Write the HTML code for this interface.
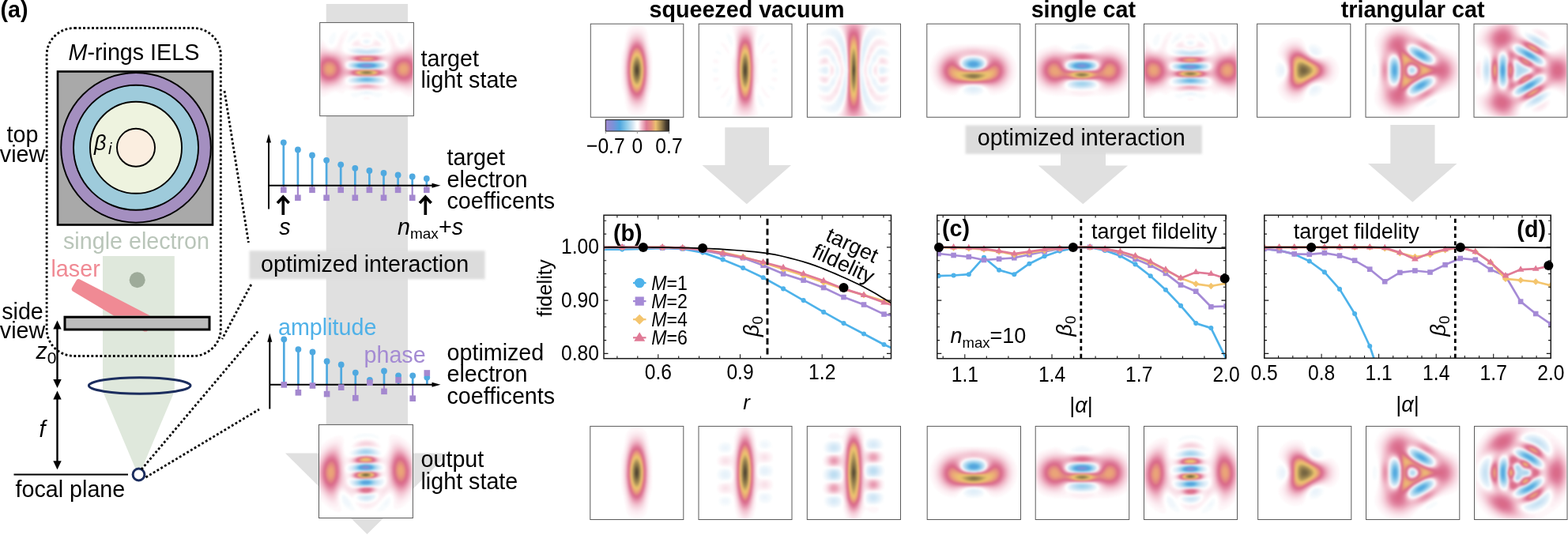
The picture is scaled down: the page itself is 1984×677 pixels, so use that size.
<!DOCTYPE html>
<html lang="en"><head><meta charset="utf-8"><title>Figure</title><style>html,body{margin:0;padding:0;background:#fff}body{width:1984px;height:677px;overflow:hidden}svg{display:block}</style></head><body>
<svg width="1984" height="677" viewBox="0 0 1984 677" font-family="'Liberation Sans', Arial, Helvetica, sans-serif" font-size="28.7" fill="#000">
<defs><filter id="soft" x="-5%" y="-20%" width="110%" height="140%" color-interpolation-filters="sRGB"><feGaussianBlur stdDeviation="1.7"/></filter><filter id="wb" x="0" y="0" width="100%" height="100%" color-interpolation-filters="sRGB"><feGaussianBlur stdDeviation="2.55"/></filter><linearGradient id="cbar" x1="0" x2="1" y1="0" y2="0"><stop offset="0.0" stop-color="#a088d0"/><stop offset="0.1214" stop-color="#7a92d8"/><stop offset="0.2214" stop-color="#4ea6de"/><stop offset="0.3286" stop-color="#8ecbea"/><stop offset="0.4214" stop-color="#cfe4f2"/><stop offset="0.4786" stop-color="#f6fafd"/><stop offset="0.5" stop-color="#ffffff"/><stop offset="0.5214" stop-color="#fdf5f7"/><stop offset="0.5607" stop-color="#f3c6d3"/><stop offset="0.6429" stop-color="#dc7894"/><stop offset="0.7214" stop-color="#e58f80"/><stop offset="0.7893" stop-color="#ecc070"/><stop offset="0.8714" stop-color="#a08550"/><stop offset="0.95" stop-color="#4a3f30"/><stop offset="1.0" stop-color="#2a2420"/></linearGradient></defs>
<rect width="1984" height="677" fill="#fff"/>
<path d="M412.7 5H516V573.6H568L464.5 676L361 573.6H412.7Z" fill="#e0e0e0"/>
<path d="M130 324H220.8V495L177.5 598H173.5L130 495Z" fill="#dfe8dc"/>
<rect x="73" y="90.5" width="196" height="194" fill="#a9a9a9" stroke="#000" stroke-width="2.6"/>
<circle cx="172" cy="186.8" r="94.8" fill="#a48fc0" stroke="#000" stroke-width="1.9"/>
<circle cx="172" cy="186.8" r="79" fill="#9ecbdb" stroke="#000" stroke-width="1.9"/>
<circle cx="172" cy="186.8" r="58" fill="#eef3df" stroke="#000" stroke-width="1.9"/>
<circle cx="172" cy="186.8" r="24" fill="#fbeee0" stroke="#000" stroke-width="1.9"/>
<rect x="59.1" y="35.5" width="220.2" height="415" rx="35" ry="34" fill="none" stroke="#000" stroke-width="2.8" stroke-dasharray="2.8 2.7"/>
<text x="86.5" y="76"><tspan font-style="italic">M</tspan>-rings IELS</text>
<text x="28.5" y="180" text-anchor="middle">top</text>
<text x="28.5" y="205" text-anchor="middle">view</text>
<text x="119" y="190" font-size="27"><tspan font-style="italic">β</tspan><tspan font-style="italic" font-size="20" dx="2.5" dy="5">i</tspan></text>
<text x="172.5" y="315" text-anchor="middle" fill="#b9c5b9">single electron</text>
<text x="64.5" y="350" fill="#f08a94">laser</text>
<circle cx="173.7" cy="354.3" r="10" fill="#9eab9a"/>
<path d="M100.5 353.3L190 399.5H144L92 368.5Q89.5 366.5 91.5 363.5L96.5 355Q98 352.3 100.5 353.3Z" fill="#f08a94"/>
<path d="M180 418.2L187 418.2L185.5 419.6L182.5 419.6Z" fill="#f08a94"/>
<rect x="82" y="401.2" width="183" height="15.8" fill="#bdbdbd" stroke="#000" stroke-width="3"/>
<text x="28.5" y="403.5" text-anchor="middle">side</text>
<text x="28.5" y="428" text-anchor="middle">view</text>
<ellipse cx="176.7" cy="488" rx="64.3" ry="10.2" fill="none" stroke="#1b2d5e" stroke-width="3"/>
<path d="M72.5 413.5V483" stroke="#000" stroke-width="2.4" fill="none"/>
<path d="M72.5 405.5L77.7 416.5H67.3Z M72.5 491L77.7 480H67.3Z" fill="#000"/>
<path d="M72.5 502.5V586.3" stroke="#000" stroke-width="2.4" fill="none"/>
<path d="M72.5 494.5L77.7 505.5H67.3Z M72.5 594.3L77.7 583.3H67.3Z" fill="#000"/>
<text x="45.5" y="454"><tspan font-style="italic">z</tspan><tspan font-size="21" dy="6">0</tspan></text>
<text x="49.5" y="552.5" font-style="italic">f</text>
<path d="M17.5 600.5H162" stroke="#000" stroke-width="1.8" fill="none"/>
<circle cx="175.5" cy="600.5" r="7.4" fill="#fff" stroke="#1b2d5e" stroke-width="3"/>
<text x="19.5" y="628.5">focal plane</text>
<path d="M284 115L314.5 307" stroke="#000" stroke-width="2.8" stroke-dasharray="2.8 2.7" fill="none"/>
<path d="M317.8 360L281 429" stroke="#000" stroke-width="2.8" stroke-dasharray="2.8 2.7" fill="none"/>
<path d="M179 594L328 417.5" stroke="#000" stroke-width="2.8" stroke-dasharray="2.8 2.7" fill="none"/>
<path d="M184.5 604L328 518" stroke="#000" stroke-width="2.8" stroke-dasharray="2.8 2.7" fill="none"/>
<rect x="315.6" y="317.3" width="298" height="36" fill="#dcdcdc" filter="url(#soft)"/>
<text x="330" y="343.6">optimized interaction</text>
<text x="532.5" y="83.8">target</text>
<text x="532.5" y="111.3">light state</text>
<text x="532.5" y="591.3">output</text>
<text x="532.5" y="618.8">light state</text>
<text x="565.5" y="209">target</text>
<text x="565.5" y="236.5">electron</text>
<text x="565.5" y="263.7">coefficents</text>
<text x="565.5" y="455.5">optimized</text>
<text x="565.5" y="483.3">electron</text>
<text x="565.5" y="510.8">coefficents</text>
<text x="352" y="424.3" fill="#4fb1e8">amplitude</text>
<text x="460.5" y="458.6" fill="#a48bd3">phase</text>
<path d="M358.8 234.8V240.3" stroke="#a488cf" stroke-width="2.2" fill="none"/>
<path d="M358.8 234.8V180.3" stroke="#4fa9e0" stroke-width="2.7" fill="none"/>
<path d="M376.9 234.8V250.3" stroke="#a488cf" stroke-width="2.2" fill="none"/>
<path d="M376.9 234.8V189.5" stroke="#4fa9e0" stroke-width="2.7" fill="none"/>
<path d="M395.0 234.8V240.3" stroke="#a488cf" stroke-width="2.2" fill="none"/>
<path d="M395.0 234.8V196.5" stroke="#4fa9e0" stroke-width="2.7" fill="none"/>
<path d="M413.1 234.8V250.3" stroke="#a488cf" stroke-width="2.2" fill="none"/>
<path d="M413.1 234.8V202.8" stroke="#4fa9e0" stroke-width="2.7" fill="none"/>
<path d="M431.2 234.8V240.3" stroke="#a488cf" stroke-width="2.2" fill="none"/>
<path d="M431.2 234.8V208.3" stroke="#4fa9e0" stroke-width="2.7" fill="none"/>
<path d="M449.3 234.8V250.3" stroke="#a488cf" stroke-width="2.2" fill="none"/>
<path d="M449.3 234.8V212.8" stroke="#4fa9e0" stroke-width="2.7" fill="none"/>
<path d="M467.4 234.8V240.3" stroke="#a488cf" stroke-width="2.2" fill="none"/>
<path d="M467.4 234.8V216.0" stroke="#4fa9e0" stroke-width="2.7" fill="none"/>
<path d="M485.5 234.8V250.3" stroke="#a488cf" stroke-width="2.2" fill="none"/>
<path d="M485.5 234.8V219.0" stroke="#4fa9e0" stroke-width="2.7" fill="none"/>
<path d="M503.6 234.8V240.3" stroke="#a488cf" stroke-width="2.2" fill="none"/>
<path d="M503.6 234.8V221.5" stroke="#4fa9e0" stroke-width="2.7" fill="none"/>
<path d="M521.7 234.8V250.3" stroke="#a488cf" stroke-width="2.2" fill="none"/>
<path d="M521.7 234.8V223.5" stroke="#4fa9e0" stroke-width="2.7" fill="none"/>
<path d="M539.8 234.8V240.3" stroke="#a488cf" stroke-width="2.2" fill="none"/>
<path d="M539.8 234.8V226.0" stroke="#4fa9e0" stroke-width="2.7" fill="none"/>
<path d="M340 264.5V177.5" stroke="#000" stroke-width="2" fill="none"/>
<path d="M340 169.5l3 11h-6z" fill="#000"/>
<path d="M340 234.8H549.5" stroke="#000" stroke-width="2" fill="none"/>
<path d="M557.5 234.8l-11 -3v6z" fill="#000"/>
<circle cx="358.8" cy="180.3" r="3.9" fill="#4fa9e0"/>
<rect x="355.0" y="236.5" width="7.6" height="7.6" fill="#a488cf"/>
<circle cx="376.9" cy="189.5" r="3.9" fill="#4fa9e0"/>
<rect x="373.1" y="246.5" width="7.6" height="7.6" fill="#a488cf"/>
<circle cx="395.0" cy="196.5" r="3.9" fill="#4fa9e0"/>
<rect x="391.2" y="236.5" width="7.6" height="7.6" fill="#a488cf"/>
<circle cx="413.1" cy="202.8" r="3.9" fill="#4fa9e0"/>
<rect x="409.3" y="246.5" width="7.6" height="7.6" fill="#a488cf"/>
<circle cx="431.2" cy="208.3" r="3.9" fill="#4fa9e0"/>
<rect x="427.4" y="236.5" width="7.6" height="7.6" fill="#a488cf"/>
<circle cx="449.3" cy="212.8" r="3.9" fill="#4fa9e0"/>
<rect x="445.5" y="246.5" width="7.6" height="7.6" fill="#a488cf"/>
<circle cx="467.4" cy="216.0" r="3.9" fill="#4fa9e0"/>
<rect x="463.6" y="236.5" width="7.6" height="7.6" fill="#a488cf"/>
<circle cx="485.5" cy="219.0" r="3.9" fill="#4fa9e0"/>
<rect x="481.7" y="246.5" width="7.6" height="7.6" fill="#a488cf"/>
<circle cx="503.6" cy="221.5" r="3.9" fill="#4fa9e0"/>
<rect x="499.8" y="236.5" width="7.6" height="7.6" fill="#a488cf"/>
<circle cx="521.7" cy="223.5" r="3.9" fill="#4fa9e0"/>
<rect x="517.9" y="246.5" width="7.6" height="7.6" fill="#a488cf"/>
<circle cx="539.8" cy="226.0" r="3.9" fill="#4fa9e0"/>
<rect x="536.0" y="236.5" width="7.6" height="7.6" fill="#a488cf"/>
<path d="M359.3 486.8V486.9" stroke="#a488cf" stroke-width="2.2" fill="none"/>
<path d="M359.3 486.8V429.3" stroke="#4fa9e0" stroke-width="2.7" fill="none"/>
<path d="M377.4 486.8V496.8" stroke="#a488cf" stroke-width="2.2" fill="none"/>
<path d="M377.4 486.8V442.1" stroke="#4fa9e0" stroke-width="2.7" fill="none"/>
<path d="M395.5 486.8V488.0" stroke="#a488cf" stroke-width="2.2" fill="none"/>
<path d="M395.5 486.8V445.4" stroke="#4fa9e0" stroke-width="2.7" fill="none"/>
<path d="M413.6 486.8V498.6" stroke="#a488cf" stroke-width="2.2" fill="none"/>
<path d="M413.6 486.8V457.2" stroke="#4fa9e0" stroke-width="2.7" fill="none"/>
<path d="M431.7 486.8V490.2" stroke="#a488cf" stroke-width="2.2" fill="none"/>
<path d="M431.7 486.8V461.4" stroke="#4fa9e0" stroke-width="2.7" fill="none"/>
<path d="M449.8 486.8V503.7" stroke="#a488cf" stroke-width="2.2" fill="none"/>
<path d="M449.8 486.8V471.6" stroke="#4fa9e0" stroke-width="2.7" fill="none"/>
<path d="M467.9 486.8V484.2" stroke="#a488cf" stroke-width="2.2" fill="none"/>
<path d="M467.9 486.8V480.9" stroke="#4fa9e0" stroke-width="2.7" fill="none"/>
<path d="M486.0 486.8V495.3" stroke="#a488cf" stroke-width="2.2" fill="none"/>
<path d="M486.0 486.8V469.4" stroke="#4fa9e0" stroke-width="2.7" fill="none"/>
<path d="M504.1 486.8V480.9" stroke="#a488cf" stroke-width="2.2" fill="none"/>
<path d="M504.1 486.8V475.3" stroke="#4fa9e0" stroke-width="2.7" fill="none"/>
<path d="M522.2 486.8V504.2" stroke="#a488cf" stroke-width="2.2" fill="none"/>
<path d="M522.2 486.8V475.3" stroke="#4fa9e0" stroke-width="2.7" fill="none"/>
<path d="M540.3 486.8V472.0" stroke="#a488cf" stroke-width="2.2" fill="none"/>
<path d="M540.3 486.8V477.6" stroke="#4fa9e0" stroke-width="2.7" fill="none"/>
<path d="M341.3 517.5V429.8" stroke="#000" stroke-width="2" fill="none"/>
<path d="M341.3 421.8l3 11h-6z" fill="#000"/>
<path d="M341.3 486.8H549.5" stroke="#000" stroke-width="2" fill="none"/>
<path d="M557.5 486.8l-11 -3v6z" fill="#000"/>
<circle cx="359.3" cy="429.3" r="3.9" fill="#4fa9e0"/>
<rect x="355.5" y="483.1" width="7.6" height="7.6" fill="#a488cf"/>
<circle cx="377.4" cy="442.1" r="3.9" fill="#4fa9e0"/>
<rect x="373.6" y="493.0" width="7.6" height="7.6" fill="#a488cf"/>
<circle cx="395.5" cy="445.4" r="3.9" fill="#4fa9e0"/>
<rect x="391.7" y="484.2" width="7.6" height="7.6" fill="#a488cf"/>
<circle cx="413.6" cy="457.2" r="3.9" fill="#4fa9e0"/>
<rect x="409.8" y="494.8" width="7.6" height="7.6" fill="#a488cf"/>
<circle cx="431.7" cy="461.4" r="3.9" fill="#4fa9e0"/>
<rect x="427.9" y="486.4" width="7.6" height="7.6" fill="#a488cf"/>
<circle cx="449.8" cy="471.6" r="3.9" fill="#4fa9e0"/>
<rect x="446.0" y="499.9" width="7.6" height="7.6" fill="#a488cf"/>
<circle cx="467.9" cy="480.9" r="3.9" fill="#4fa9e0"/>
<rect x="464.1" y="480.4" width="7.6" height="7.6" fill="#a488cf"/>
<circle cx="486.0" cy="469.4" r="3.9" fill="#4fa9e0"/>
<rect x="482.2" y="491.5" width="7.6" height="7.6" fill="#a488cf"/>
<circle cx="504.1" cy="475.3" r="3.9" fill="#4fa9e0"/>
<rect x="500.3" y="477.1" width="7.6" height="7.6" fill="#a488cf"/>
<circle cx="522.2" cy="475.3" r="3.9" fill="#4fa9e0"/>
<rect x="518.4" y="500.4" width="7.6" height="7.6" fill="#a488cf"/>
<circle cx="540.3" cy="477.6" r="3.9" fill="#4fa9e0"/>
<rect x="536.5" y="468.2" width="7.6" height="7.6" fill="#a488cf"/>
<path d="M358.3 272V249" stroke="#000" stroke-width="3.7" fill="none"/>
<path d="M351.0 257L358.3 249.2L365.6 257" stroke="#000" stroke-width="3.7" fill="none" stroke-linejoin="miter"/>
<path d="M538.3 272V249" stroke="#000" stroke-width="3.7" fill="none"/>
<path d="M531.0 257L538.3 249.2L545.5999999999999 257" stroke="#000" stroke-width="3.7" fill="none" stroke-linejoin="miter"/>
<text x="353.3" y="296.6" font-style="italic">s</text>
<text x="503" y="296.6"><tspan font-style="italic">n</tspan><tspan font-size="19" dy="5.5">max</tspan><tspan dy="-5.5">+</tspan><tspan font-style="italic">s</tspan></text>
<path d="M917.3 161.3H973V209H1001L944.8 258.3L888.5 209H917.3Z" fill="#e0e0e0"/>
<path d="M1342 185H1399V209.5H1427L1370.3 258.3L1313.8 209.5H1342Z" fill="#e0e0e0"/>
<path d="M1759.3 158H1815.5V207H1843.5L1787.3 255.8L1731 207H1759.3Z" fill="#e0e0e0"/>
<rect x="1221.6" y="158.6" width="299.2" height="36.2" fill="#dcdcdc" filter="url(#soft)"/>
<text x="1236.7" y="183.6">optimized interaction</text>
<rect x="404.7" y="28.6" width="118.7" height="118.1" fill="#fff"/>
<rect x="403.5" y="537.4" width="118.9" height="118.1" fill="#fff"/>
<rect x="747.3" y="30.2" width="117.5" height="118.1" fill="#fff"/>
<rect x="884.2" y="30.2" width="117.8" height="118.1" fill="#fff"/>
<rect x="1021.4" y="30.2" width="118.1" height="118.1" fill="#fff"/>
<rect x="1172.8" y="30.2" width="118.0" height="118.1" fill="#fff"/>
<rect x="1310.2" y="30.2" width="118.1" height="118.1" fill="#fff"/>
<rect x="1447.5" y="30.2" width="118.0" height="118.1" fill="#fff"/>
<rect x="1590.6" y="30.2" width="118.2" height="118.1" fill="#fff"/>
<rect x="1728.0" y="30.2" width="118.0" height="118.1" fill="#fff"/>
<rect x="1865.0" y="30.2" width="118.0" height="118.1" fill="#fff"/>
<rect x="746.8" y="539.4" width="118.0" height="118.1" fill="#fff"/>
<rect x="884.0" y="539.4" width="118.0" height="118.1" fill="#fff"/>
<rect x="1021.3" y="539.4" width="118.2" height="118.1" fill="#fff"/>
<rect x="1173.2" y="539.4" width="118.3" height="118.1" fill="#fff"/>
<rect x="1310.2" y="539.4" width="118.5" height="118.1" fill="#fff"/>
<rect x="1447.5" y="539.4" width="118.0" height="118.1" fill="#fff"/>
<rect x="1591.7" y="539.4" width="118.1" height="118.1" fill="#fff"/>
<rect x="1728.5" y="539.4" width="118.3" height="118.1" fill="#fff"/>
<rect x="1865.5" y="539.4" width="117.5" height="118.1" fill="#fff"/>
<svg x="747.6" y="30.5" width="116.5" height="117.1" viewBox="0 0 349.5 351.3" fill-rule="evenodd"><g filter="url(#wb)"><path fill="#fef7f9" d="M166 3l15 0 12 3 6 3 6 5 7 10 4 15 7 42 8 30 2 12 1 18 0 42-1 48-2 12-8 27-8 48-5 12-8 10-12 7-15 2-12-1-12-6-9-8-5-10-4-12-6-42-9-30-2-12 0-18-1-42 2-48 2-12 8-27 7-45 4-12 7-10 9-7z"/><path fill="#fdf0f4" d="M161 18l8-2 6-1 12 2 6 3 6 5 8 11 6 18 11 54 3 18 2 15 0 42-1 39-3 18-13 60-5 15-8 11-9 7-12 3-12-1-9-4-9-8-6-10-5-16-12-57-4-30-1-42 2-39 3-18 10-48 4-18 5-12 8-9z"/><path fill="#fbe9ef" d="M164 27l11-2 12 2 9 6 8 12 7 21 10 45 3 21 2 21 0 36-2 30-3 21-11 51-6 15-8 12-9 6-12 3-9-2-9-5-8-8-6-12-6-18-9-45-3-18-1-21 0-36 1-30 3-21 9-42 6-18 5-10 6-8z"/><path fill="#f9e2e9" d="M166 33l6-1 6 0 9 2 9 7 8 13 6 18 8 39 4 24 2 27-1 30-2 30-6 33-8 33-5 13-8 11-10 6-9 2-9-2-9-5-8-10-6-12-6-21-6-33-3-21-2-27 0-30 2-27 3-21 9-39 5-16 6-11 6-7z"/><path fill="#f8dbe3" d="M165 39l10-2 6 1 6 2 9 8 6 9 7 21 7 30 3 21 3 30 0 33-3 30-4 24-8 33-5 15-9 12-9 7-9 2-9-2-9-6-6-8-6-11-5-18-6-27-4-21-2-30 0-33 2-27 4-24 6-27 5-18 6-11 6-8z"/><path fill="#f6d4de" d="M170 42l5-1 6 1 9 5 6 7 7 12 6 21 7 30 3 24 1 27 0 27-2 24-5 30-7 27-6 15-7 11-9 6-9 2-9-2-9-6-6-9-5-11-6-18-6-30-3-24-2-27 1-27 2-24 5-30 6-24 5-14 6-11 6-6z"/><path fill="#f5cdd9" d="M165 48l4-2 6-1 9 2 9 7 7 12 7 18 5 24 4 24 3 27 0 30-3 30-4 24-6 27-6 15-7 12-9 7-9 2-9-2-6-4-8-9-5-12-6-18-4-21-4-21-2-27 0-24 1-24 2-21 6-27 6-21 5-12 6-9z"/><path fill="#f3c7d4" d="M166 51l9-2 9 2 9 7 6 11 7 18 6 27 4 24 1 24 0 27-2 27-3 24-7 27-6 15-6 11-9 7-9 2-9-2-6-4-7-8-5-12-5-15-6-27-3-21-2-24 0-24 2-24 2-21 4-21 6-21 6-12 6-9z"/><path fill="#f2c0ce" d="M167 54l8-2 9 3 9 7 6 10 5 15 6 24 4 27 2 24 0 27-2 24-4 27-6 24-5 15-6 10-9 8-9 2-9-2-6-5-6-7-6-12-5-18-5-24-3-21-2-21 0-24 1-21 4-24 5-24 5-18 6-11 6-8z"/><path fill="#f0b9c9" d="M167 57l8-2 9 3 9 8 6 10 5 14 6 24 3 24 2 27 0 27-2 24-4 24-5 21-5 14-6 10-9 9-9 2-9-2-6-5-6-8-5-11-6-18-4-18-3-21-2-27 0-24 2-24 7-39 6-18 5-11 6-8z"/><path fill="#efb3c4" d="M167 60l8-2 9 3 6 5 8 12 5 15 6 24 4 24 1 24 0 24-2 24-3 21-6 24-5 15-8 12-6 6-9 2-9-2-6-5-6-9-5-10-5-18-4-18-3-21-2-24 0-21 2-24 3-21 4-18 4-15 6-13 6-9z"/><path fill="#ecabbe" d="M165 63l7-2 9 0 9 7 7 10 5 15 5 18 4 27 2 24 0 24-1 24-3 21-6 24-5 15-7 12-7 6-9 3-9-3-6-5-6-8-5-11-5-18-4-18-4-39 1-42 6-39 5-18 5-12 7-10z"/><path fill="#eaa1b6" d="M167 66l8-2 9 3 6 5 7 12 5 15 5 18 3 21 2 27 0 24-2 24-4 24-4 18-6 15-6 9-6 6-9 2-9-2-6-6-6-9-4-9-5-15-4-21-4-39 0-24 2-21 6-36 5-15 5-12 5-6z"/><path fill="#e697af" d="M168 69l7-2 9 3 6 6 6 11 7 18 4 18 3 21 1 21 0 21-2 24-3 21-5 21-5 14-6 10-6 5-9 3-9-3-6-5-6-9-3-9-5-15-4-18-2-18-1-21 0-21 1-21 6-36 5-15 5-12 7-8z"/><path fill="#e48da7" d="M168 72l7-2 9 3 6 6 6 11 5 15 4 18 3 21 2 21 0 21-2 21-3 21-5 21-4 12-6 11-6 6-9 3-6-1-6-5-6-8-6-12-4-15-4-18-3-36 1-39 2-18 4-18 4-15 6-12 6-8z"/><path fill="#e184a0" d="M168 75l7-2 6 2 3 2 6 6 6 10 4 12 4 18 3 18 2 24 0 21-2 24-3 21-4 15-4 12-6 11-6 6-3 1-6 2-6-2-6-4-6-8-5-12-5-15-3-18-3-33 1-39 5-33 5-15 5-11 6-9z"/><path fill="#df7d9a" d="M168 78l7-2 6 2 6 4 7 11 5 13 4 17 3 21 2 21 0 21-2 21-2 18-5 18-4 12-5 10-6 7-3 2-6 1-6-1-6-5-6-8-4-9-4-12-4-18-3-36 1-39 5-33 4-12 5-11 6-9z"/><path fill="#dd7695" d="M168 81l7-2 6 1 6 5 7 11 4 12 5 18 3 21 1 18 0 21-1 18-3 21-5 18-5 14-6 9-6 5-6 1-6-1-6-5-6-8-4-9-7-27-4-36 1-36 6-33 3-12 5-11 6-9z"/><path fill="#db6f8f" d="M167 84l8-2 6 1 6 5 6 10 5 13 4 15 2 18 2 21 0 21-2 21-2 18-4 15-5 14-6 9-6 5-6 2-6-2-6-5-6-8-3-8-7-28-4-33 1-33 5-33 8-22 6-10z"/><path fill="#da6b89" d="M174 84l7 2 6 5 5 8 4 9 4 15 3 15 2 36-2 36-6 30-4 11-6 10-6 5-6 1-6-1-6-5-6-9-3-9-5-15-2-15-3-36 2-36 7-30 4-10 6-10 6-5z"/><path fill="#de7786" d="M168 90l7-2 6 2 6 5 4 7 5 12 4 15 3 18 1 18-1 36-3 18-3 15-4 12-6 10-6 6-6 1-6-1-5-4-4-6-4-9-7-24-3-33 0-33 5-30 7-21 5-7z"/><path fill="#e18383" d="M169 93l6-2 6 2 6 6 5 9 4 12 4 15 3 33 0 18-2 18-2 15-4 15-3 9-5 9-6 6-6 2-6-2-3-2-5-7-5-9-3-12-4-15-2-30 1-33 5-27 7-19 5-8z"/><path fill="#e48e7f" d="M170 96l5-1 6 2 6 6 4 8 4 12 3 12 4 33-2 33-2 15-4 15-4 12-4 6-5 5-6 2-6-2-3-2-5-6-4-10-6-23-3-30 1-30 4-27 4-11 4-10 5-6z"/><path fill="#e89a7b" d="M171 99l4-1 6 2 6 7 4 7 4 12 2 12 4 33-2 30-5 27-4 11-5 7-4 5-6 2-6-2-3-3-6-8-3-9-6-24-2-27 1-27 5-27 4-12 4-7 3-4z"/><path fill="#eaa478" d="M172 102l6 0 3 2 6 7 3 6 4 12 3 12 2 30-1 30-5 26-4 10-5 8-3 3-6 2-6-2-3-3-8-14-6-24-2-27 2-30 4-24 7-15 4-6z"/><path fill="#ebad76" d="M173 105l5 0 6 5 7 13 5 24 2 27-1 27-5 24-4 9-4 7-3 3-6 2-6-2-3-3-5-7-3-9-5-21-2-27 2-27 5-24 3-9 5-7 3-3z"/><path fill="#ecb675" d="M174 108l4 1 6 4 6 13 5 21 2 27-1 27-5 21-3 9-4 7-3 3-6 2-6-2-3-3-7-13-5-21-2-27 2-27 4-21 4-9 4-7 3-3z"/><path fill="#ecbd72" d="M168 114l4-2 6 0 6 5 3 5 6 19 3 24-1 30-4 24-4 9-3 6-3 4-6 2-3 0-4-3-4-6-3-6-5-18-2-21 0-24 3-21 5-18z"/><path fill="#eec370" d="M169 117l3-2 6 0 3 2 4 6 4 9 3 9 3 24-1 27-4 24-6 15-3 3-6 3-6-3-3-3-5-9-4-17-2-19 0-21 2-21 6-18z"/><path fill="#e4be6b" d="M169 120l6-3 3 1 6 6 3 6 3 11 4 24 0 24-4 24-6 14-3 4-6 3-6-3-6-9-5-15-2-21 0-21 2-21 5-14z"/><path fill="#d0af64" d="M171 123l4-1 3 1 3 2 4 7 5 15 3 24-2 24-3 18-4 9-3 4-3 2-3 1-3-1-3-2-6-11-4-17-2-18 0-18 3-18 6-15z"/><path fill="#bd9f5e" d="M170 129l5-2 3 1 3 2 3 5 5 15 2 18-1 21-3 19-3 8-3 5-3 3-3 0-3 0-3-3-5-8-4-15-1-15 0-18 2-15 5-15z"/><path fill="#a99057" d="M174 132l4 1 3 3 3 5 4 15 1 18-1 18-3 15-4 9-3 2-3 1-3-1-3-2-4-9-3-12-2-18 1-15 3-15 5-11 3-3z"/><path fill="#998250" d="M172 138l3-1 3 1 4 6 4 12 1 15 0 18-3 14-3 7-3 3-3 1-3-1-3-3-3-7-3-11-1-12 0-15 2-12 5-11z"/><path fill="#887549" d="M172 144l3-1 3 1 3 4 3 9 1 14 0 12-2 12-2 8-3 4-3 1-3-1-4-6-3-9-1-12 0-12 2-11 3-9z"/><path fill="#776642" d="M174 150l1 0 3 1 3 6 2 17 0 9-2 11-3 6-3 2-3-2-3-6-3-17 0-9 3-11 3-6z"/><path fill="#66583b" d="M173 156l2-1 3 2 3 8 0 6 0 15-3 8-3 2-3-2-1-2-3-12 1-15 2-6z"/><path fill="#584c35" d="M172 162l3-2 3 3 2 8 0 9-1 6-1 3-3 2-3-2-2-9 0-9z"/><path fill="#4a402f" d="M174 168l1-1 2 7 0 6-2 4-3-7z"/></g></svg>
<svg x="884.5" y="30.5" width="116.8" height="117.1" viewBox="0 0 350.4 351.3" fill-rule="evenodd"><g filter="url(#wb)"><path fill="#fef7f9" d="M128 0l95 0 0 12-7 45-1 24 1 21 3 16 3 7 5 7 0 3-3 39 3 45-5 7-3 7-3 16-1 15 1 27 7 48 0 12-95 0-1-12 7-45 2-24-1-21-3-16-3-7-5-7 0-3 2-39-2-45 5-7 3-7 3-16 1-15-1-27-8-48zM82 72l2-1 6 0 6 4 6 6 9 15 3 12 0 7-6-6-15-21-9-10-2-3zM259 72l5-2 3 1 2 1 0 3-26 34-6 6-1-4 1-6 6-15 9-12zM56 135l7-2 8 2 4 6 1 3-1 3-3 2-6 0-10-2-3-3 0-3 0-3zM280 135l8-2 5 2 4 3 1 3-1 3-3 3-3 2-6 0-6 0-3-2-1-3 2-6zM56 204l7-2 9 1 3 1 1 3-1 3-1 3-5 4-3 1-6 0-4-2-2-2-1-4 0-3zM276 204l3-1 6-1 8 2 4 3 1 3-1 3-3 3-3 2-6 0-3-1-5-4-2-3 0-3zM113 237l1-1 0 1 0 6-3 12-9 15-6 6-6 4-6 1-2-2 0-3 2-3 9-10 15-21zM236 237l1-1 3 3 6 7 12 17 9 10 2 3 0 3-2 2-6-1-6-4-6-6-9-15-3-9z"/><path fill="#fdf0f4" d="M142 3l3-3 61 0 4 6 4 9 1 15-2 39 0 21 1 21 6 39 0 39-1 15-4 33-2 24 1 69-2 12-6 9-61 0-5-6-3-9-1-15 2-39 0-21-2-21-5-39-1-36 1-18 5-33 2-24-2-69 2-9z"/><path fill="#fbe9ef" d="M158 3l8-3 19 0 10 4 6 5 4 6 4 9 1 12 1 60 5 57 1 21-1 24-5 57-1 60-2 15-5 9-8 8-10 4-19 0-7-2-6-4-6-6-3-6-3-9-1-9-1-60-5-57-1-21 1-24 5-57 1-57 2-15 3-9 5-6z"/><path fill="#f9e2e9" d="M174 6l12 2 9 4 6 7 5 11 2 18 2 48 5 75-1 27-4 60-2 45-2 15-4 12-7 9-9 5-9 1-12-1-9-5-6-7-5-11-3-18-1-48-5-75 0-27 5-60 1-45 2-15 4-12 8-9 9-4z"/><path fill="#f8dbe3" d="M172 12l11 1 9 4 6 7 6 12 3 24 6 111-1 30-5 90-3 21-3 11-6 9-9 6-9 1-12-1-9-6-6-9-4-11-3-21-6-111 1-30 5-90 3-21 4-11 6-8 9-6z"/><path fill="#f6d4de" d="M168 18l6-1 6 0 9 4 7 6 6 12 4 24 6 99-1 39-5 84-3 21-4 12-4 7-9 7-9 2-9-1-9-5-6-7-5-12-3-24-6-96 0-39 6-84 2-18 3-12 5-9 6-6z"/><path fill="#f5cdd9" d="M164 24l10-3 6 1 6 2 4 3 5 5 5 10 3 12 2 15 5 90 1 24-2 30-4 66-3 21-3 12-6 9-7 7-9 2-9-1-9-6-6-8-3-9-4-27-6-87 0-39 7-96 3-12 3-9 6-8z"/><path fill="#f3c7d4" d="M167 27l10-2 9 3 8 8 5 12 3 12 2 18 5 81-1 51-4 60-2 24-4 14-6 10-6 5-9 3-9-1-9-7-6-9-3-9-4-27-5-81 1-48 4-63 2-21 3-12 4-9 4-6z"/><path fill="#f2c0ce" d="M169 30l8-1 9 3 7 7 5 12 3 12 2 15 5 84 0 48-5 60-2 21-4 12-5 11-6 5-9 3-9-1-6-4-6-8-5-12-4-27-5-81 1-45 3-54 3-27 3-12 4-9 6-8z"/><path fill="#f0b9c9" d="M170 33l10 0 9 5 6 9 3 10 5 30 5 78 0 27-3 39-3 39-2 18-4 12-4 10-6 6-9 3-9-2-6-4-6-8-4-11-5-30-4-78 0-27 2-33 3-42 2-18 4-15 4-9 7-6z"/><path fill="#efb3c4" d="M171 36l9 0 6 3 7 9 5 12 2 12 3 21 4 72-2 60-3 39-3 21-3 12-5 9-5 6-9 4-9-2-6-4-6-10-3-9-3-12-2-21-4-72 1-54 3-42 3-21 3-12 5-11 6-7z"/><path fill="#ecabbe" d="M169 39l8-1 9 4 6 7 4 11 4 15 2 18 4 66-1 57-3 42-3 24-4 12-4 9-5 7-9 3-9-1-6-5-6-10-3-9-5-33-4-63 1-51 3-42 3-24 3-15 3-9 5-6z"/><path fill="#eaa1b6" d="M166 45l8-3 6 1 3 1 6 5 6 12 3 14 2 15 5 63 0 54-3 42-4 27-3 14-5 10-7 7-6 2-6 0-8-6-4-6-5-12-3-15-2-18-4-54 1-48 5-66 5-24 5-9z"/><path fill="#e697af" d="M168 48l3-1 6-1 6 2 6 6 5 12 3 12 3 18 4 60 0 30-1 30-3 36-3 21-4 15-4 9-6 6-6 2-6 0-6-4-6-9-4-10-5-30-4-57 1-54 5-54 2-15 4-12 4-6z"/><path fill="#e48da7" d="M169 51l8-1 6 2 6 6 5 11 3 12 2 18 4 57-1 57-2 33-3 21-3 15-5 11-6 6-6 3-6-1-6-4-6-9-3-9-5-30-4-54 1-51 4-54 3-15 4-11 6-10z"/><path fill="#e184a0" d="M170 54l7-1 6 3 6 6 4 10 3 15 3 18 4 54-1 51-3 33-3 21-3 15-4 10-6 7-6 2-6-1-6-4-5-8-3-9-4-15-2-18-3-51 1-51 4-51 4-15 3-9 5-8z"/><path fill="#df7d9a" d="M171 57l6-1 6 3 6 7 4 12 3 15 3 18 3 51 0 27-2 30-2 24-3 21-3 12-3 9-6 7-6 3-6-1-6-5-5-7-4-12-5-33-2-48 0-48 3-30 2-21 4-15 4-9 5-6z"/><path fill="#dd7695" d="M171 60l6-1 6 3 6 8 4 11 3 15 2 18 3 48-1 54-2 24-3 21-3 13-4 8-5 7-6 3-6-1-6-5-4-7-3-9-3-15-3-18-3-48 1-51 5-45 3-12 4-11 5-7z"/><path fill="#db6f8f" d="M172 63l5-1 6 3 5 7 4 10 5 29 3 51-1 51-4 44-3 12-4 10-5 7-6 3-6-1-6-6-4-6-3-9-5-30-3-48 1-48 4-45 3-12 4-10 5-8z"/><path fill="#da6b89" d="M171 66l6-1 6 3 4 7 5 11 5 31 3 45-1 48-2 27-3 18-3 12-4 9-4 7-6 3-6-1-4-3-5-8-3-10-6-30-2-45 0-45 5-44 3-13 3-9 5-9z"/><path fill="#de7786" d="M169 72l5-2 6 1 6 6 3 7 3 12 3 15 4 45-1 48-2 24-2 21-4 15-4 9-3 5-6 4-6-2-3-2-5-8-3-9-5-27-3-39 0-42 3-42 3-15 3-12 4-7z"/><path fill="#e18383" d="M171 75l6-1 3 1 6 7 3 8 6 27 3 42-1 48-4 39-4 15-3 8-3 4-6 4-6-1-3-3-4-6-4-9-5-27-2-39 0-42 4-39 2-12 4-12 5-9z"/><path fill="#e48e7f" d="M169 81l5-3 6 1 4 5 4 9 5 24 3 36 0 48-4 39-3 15-3 9-3 5-6 4-6-1-3-3-6-12-5-23-3-36 0-42 3-36 5-25 3-8z"/><path fill="#e89a7b" d="M170 84l4-2 3 0 3 2 3 3 4 9 6 24 3 39-1 42-3 37-3 13-3 8-3 6-6 4-3 0-3-1-3-3-6-14-5-26-2-33 0-39 3-33 5-24 4-9z"/><path fill="#eaa478" d="M172 87l5-1 3 2 4 5 4 9 4 24 3 36-1 39-3 33-5 21-3 5-3 4-3 1-3 0-3-1-3-4-6-14-4-24-3-33 1-36 3-33 3-14 3-9 3-6z"/><path fill="#ebad76" d="M173 90l4 0 3 2 3 3 5 13 4 24 2 33-1 39-3 30-5 18-5 8-3 1-3 0-3-1-3-4-5-13-5-24-2-33 1-39 4-30 5-18 3-6z"/><path fill="#ecb675" d="M170 96l4-2 3 0 3 1 3 4 3 7 5 23 2 30 0 36-3 33-3 12-3 9-4 7-3 2-3 0-3-2-3-4-4-9-4-21-3-30 0-33 3-30 5-23z"/><path fill="#ecbd72" d="M171 99l3-2 3 0 3 2 3 5 3 7 4 21 2 30 0 36-3 30-3 12-3 8-3 4-3 2-3 0-3-2-3-4-3-8-5-21-2-30 0-33 3-27 4-18 3-7z"/><path fill="#eec370" d="M172 102l5-1 3 2 3 5 3 8 4 22 2 27-1 30-2 27-3 13-3 8-3 5-3 2-3 0-3-2-3-5-3-8-4-22-2-27 0-30 3-26 4-19 3-6z"/><path fill="#e4be6b" d="M174 105l3 0 3 2 3 5 3 9 3 20 2 27-1 30-3 24-4 17-3 5-3 2-3 0-3-2-3-5-3-9-4-20-1-27 0-30 3-24 5-17 3-5z"/><path fill="#d0af64" d="M173 111l4 0 3 2 4 10 4 18 1 24 0 27-2 24-4 16-3 6-3 3-3 0-3-3-5-10-3-18-2-24 0-27 3-24 4-16 3-6z"/><path fill="#bd9f5e" d="M173 117l4 0 3 2 3 7 3 18 2 24 0 24-2 21-3 12-3 7-3 3-3 0-3-3-3-7-4-18-2-24 1-24 2-21 3-12 3-7z"/><path fill="#a99057" d="M173 123l4 0 3 3 3 8 3 16 1 18 0 21-2 18-3 12-2 6-3 4-3 0-3-4-3-7-3-17-1-18 0-21 2-18 2-12 3-6z"/><path fill="#998250" d="M171 132l3-3 3 0 3 4 3 11 2 21 0 21-2 18-3 14-3 4-3 0-3-4-2-5-3-12-1-15 0-18 1-15 2-11z"/><path fill="#887549" d="M172 138l2-2 3 0 3 5 3 12 1 12 0 15-1 17-3 13-3 5-3 0-3-5-3-12-1-12-1-15 2-17 3-13z"/><path fill="#776642" d="M172 147l2-2 3 0 1 2 2 6 2 15-1 24-1 8-3 7-3 0-3-7-3-17 1-21 2-11z"/><path fill="#66583b" d="M173 153l1-2 3 0 2 8 1 6 0 21-1 6-2 8-3 0-3-8-1-6 0-21z"/><path fill="#584c35" d="M173 159l1-1 3 0 2 13 0 12-2 11-3 0-3-14 0-12z"/><path fill="#4a402f" d="M174 168l3 0 0 16-3 0z"/><path fill="#f7fbfd" d="M103 39l2-2 3-1 6 2 6 6 3 5 3 8 2 15 0 9-2 5-3-3-3-4-13-25-4-9zM236 39l4-2 3-1 3 1 1 2 0 6-16 34-3 4-3 3-2-5-1-6 3-18 6-13zM66 102l6-1 6 3 6 7 2 6-2 1-3-1-15-6-3-3 0-3zM276 102l6-1 3 1 3 3 0 3-3 3-7 3-11 4-3-1 1-3 3-6zM56 168l10-1 6 3 2 4 0 3-2 4-3 3-6 1-6-2-3-2-3-4 0-3 1-3zM281 168l7-1 5 1 3 2 4 4 0 3-2 3-4 3-3 1-6 0-4-1-3-3-1-3 1-6zM81 234l3-1 2 1-2 6-6 7-3 2-6 1-3-1-3-3 0-3 3-3zM264 234l3-1 3 1 15 6 3 3 0 3-3 3-3 1-6-1-8-6-3-6zM124 267l2-1 1 1 1 9-2 15-3 11-3 5-6 6-6 2-3-1-2-2 0-3 1-6 13-25zM224 267l1-1 3 2 3 4 14 28 3 9-1 3-1 2-3 1-6-2-6-6-3-5-3-8-3-12 0-9z"/></g></svg>
<svg x="1021.7" y="30.5" width="117.1" height="117.1" viewBox="0 0 351.3 351.3" fill-rule="evenodd"><g filter="url(#wb)"><path fill="#fef7f9" d="M95 0l162 0-17 6-6 4-6 6-6 10-9 23-3 14-6 33-3 36-1 42 1 45 3 36 6 33 3 15 9 23 6 9 6 6 6 4 17 6-162 0 16-6 6-4 6-6 6-9 9-23 4-15 5-33 3-36 1-42-1-45-3-36-5-33-4-14-9-23-6-10-6-6-6-4zM71 54l13-1 9 4 9 8 12 17 6 13 9 27 9 49 0 15-9 42-12 36-6 10-13 17-8 5-9 2-6 0-9-2-14-8-6-6-4-6-2-6 1-3 4-1 21 2 9 0 9-4 6-5 15-22 4-9 5-15 9-21 1-9 0-12-2-15-8-18-6-18-20-30-7-5-6-1-9-1-21 3-4-2-1-3 2-6 7-9 11-8zM264 54l6-1 9 1 9 3 6 3 11 9 4 6 2 6-1 3-4 2-27-3-9 2-6 4-19 28-9 24-5 12-3 9-1 18 2 15 7 15 9 24 16 25 6 5 9 4 9 0 21-2 4 1 1 3-2 6-4 6-6 6-11 7-7 2-8 1-9-1-9-4-9-10-12-19-12-35-9-49 0-15 9-42 11-33 4-8 14-19 6-6zM57 126l6-2 6 0 6 2 3 2 4 7 5 14 12 10 3 6 1 6-1 12-3 9-12 10-5 14-3 6-4 4-6 1-9-1-9-4-6-6-5-9 2-7 3-3 3-2 6 0 18 2 6-1 3-1 3-6 0-21-1-9-2-2-6-2-24 2-6-2-4-5-1-6 2-6 5-6zM275 126l4-2 6 0 12 3 10 8 4 9-2 7-3 4-3 1-6 1-21-2-5 1-2 3-2 9 0 12 1 9 2 6 6 2 21-2 6 0 5 3 3 6 0 3-2 6-5 6-10 6-9 2-9-1-4-4-3-6-5-14-12-10-2-6-1-6 0-9 2-9 4-6 9-7 6-17z"/><path fill="#fdf0f4" d="M111 0l129 0-12 11-6 9-6 15-6 20-6 41-3 30-2 48 2 48 2 30 7 44 6 20 6 16 6 9 12 10-129 0 12-10 6-9 6-16 6-20 7-44 2-30 2-48-2-48-2-30-7-41-6-20-6-15-6-9zM79 57l8 1 9 5 12 14 7 10 13 36 3 21 5 18 1 12-1 12-5 21-3 18-11 34-6 11-15 18-6 4-9 2-9-1-10-5-6-6-2-6 4-3 23-4 6-3 6-6 17-29 6-18 8-18 2-9 0-12-2-18-8-18-6-18-3-6-15-24-5-5-6-3-23-4-4-3 2-6 6-6 7-4zM270 57l9 1 10 5 6 6 2 6-3 3-24 4-6 3-6 7-17 28-6 18-8 18-1 9-1 12 2 18 8 18 6 18 3 6 15 24 5 5 6 3 24 4 3 3-2 6-6 6-10 5-9 1-9-2-6-4-15-18-5-9-11-33-4-21-4-18-2-12 1-12 5-21 3-18 11-34 6-11 15-18 6-4zM57 129l9-3 6 1 4 2 2 3 3 6 1 9-2 3-8 2-15 2-5-1-4-2-2-7 1-6 5-6zM275 129l4-2 6-1 6 2 6 3 5 4 3 6 0 6-1 3-4 3-6 1-15-2-8-2-2-3 1-9 3-6zM87 159l3-2 6 2 3 5 2 7 0 9-2 8-3 4-6 3-3-2-1-4zM256 159l5-2 3 2 1 3 0 27-1 4-3 2-6-3-3-4-2-8 1-12 1-4zM52 198l11 0 17 3 2 3-1 9-3 6-2 3-4 2-6 1-6-1-8-5-5-6-1-6 2-6zM284 198l10-1 6 2 4 2 1 6-1 6-5 6-8 5-9 1-6-2-3-4-3-6-1-9 2-3 2-1z"/><path fill="#fbe9ef" d="M121 0l109 0-6 9-5 10-9 31-3 13-3 24-3 29-2 61 2 58 3 29 4 27 11 41 5 10 6 9-109 0 6-9 5-10 11-41 4-27 3-29 3-58-3-61-3-29-3-24-3-13-9-31-5-10zM76 63l8 0 8 3 16 17 6 9 12 33 4 28 2 6 3 15-1 9-2 10-2 5-4 29-12 33-6 9-15 15-6 4-6 1-6-1-5-3-2-3 1-3 15-6 6-3 5-6 16-27 9-26 8-13 0-39 0-6-8-13-8-23-19-33-6-5-18-7-1-3 2-3zM266 63l7 0 6 2 4 4-1 3-15 6-6 3-5 6-15 27-10 26-8 13 0 39 0 6 8 13 8 23 19 33 6 5 18 7 1 3-2 3-5 3-6 1-6-1-6-4-15-15-6-9-12-33-3-29-3-5-3-16 1-9 2-9 3-6 3-28 12-32 6-10 12-13 5-4zM65 129l5 0 5 3 3 6 0 7-3 3-5 2-10 1-5-1-3-3-1-3 1-6 5-6zM282 129l6 0 6 3 3 3 2 3 2 6-1 3-3 2-6 2-6 0-6-2-4-2-2-3 0-3 1-6 2-3zM89 165l1-1 3-2 3 2 3 8 0 5-1 6-2 4-3 2-3-1-1-5-1-9zM255 165l3-3 3 2 2 4 0 15-2 5-3 1-3-2-3-8 0-8zM55 201l11 0 6 1 4 2 2 3 1 3-2 6-2 3-3 2-6 1-6-1-6-5-2-3-1-6 1-3zM282 201l12 0 6 3 1 3-2 6-5 6-9 3-6-1-3-2-3-6 0-6 3-4z"/><path fill="#f9e2e9" d="M127 0l97 0-8 20-9 43-6 47-3 67 3 64 6 50 9 40 8 20-97 0 8-20 9-40 6-50 3-64-3-67-5-47-10-43zM103 90l2-2 3 2 3 4 3 8 0 7-9-11zM243 90l3-2 3 2-1 3-5 9-6 7 0-7 3-8zM117 117l0-2 1 2 2 1 3 7 1 7-1 4-3-4zM234 117l0-2 0 4-3 13-3 4-1-4 1-7 3-7zM65 132l4 0 3 2 3 4 0 3-1 3-4 3-10 1-4-4-1-3 4-6zM282 132l6 1 4 2 4 6 0 3-2 2-3 2-6 0-3-1-5-3-1-3 0-3 3-4zM92 171l1-2 3 3 0 2 0 6-3 2-2-5zM256 171l2-2 1 2 1 6-2 5-3-2zM59 204l7-1 6 2 3 5-2 6-4 3-3 0-7-3-4-6 1-3zM282 204l6-1 6 2 2 2 0 3-4 6-7 3-3 0-4-3-2-6 1-3zM123 216l1 3-1 7-3 7-2 1-1 3 0-5 3-12zM228 216l3 4 3 12 0 5 0-3-3-1-3-7zM114 243l0-1 0 7-3 9-3 4-3 2-2-3 1-6 4-6zM237 243l0-1 3 3 7 10 2 6-3 3-3-2-3-4-3-8z"/><path fill="#f8dbe3" d="M133 0l85 0-11 53-4 31-3 42-2 48 1 48 4 42 4 34 11 53-85 0 11-53 4-31 4-42 2-48-2-48-3-42-5-34zM62 138l4-1 3 1 1 3-4 3-3-1-2-2zM282 138l3-1 3 1 2 3-2 2-3 1-3-3zM61 210l2-2 3 0 4 2 0 3-4 2-3-1zM282 210l3-2 3 0 2 2-1 3-4 2-3-2z"/><path fill="#f6d4de" d="M138 0l75 0-2 24-5 33-5 39-4 78 4 82 5 38 5 33 2 24-75 0 2-24 6-33 4-38 4-82-4-78-4-39-6-33z"/><path fill="#f5cdd9" d="M143 0l66 0 0 3 0 24-8 69-4 78 1 45 3 39 8 69 1 15-1 9-66 0-1-3 0-24 9-69 3-78-1-45-3-39-8-69 0-15z"/><path fill="#f3c7d4" d="M146 3l1-3 57 0 2 9 1 21-7 63-3 81 1 51 2 30 7 69-1 18-2 9-57 0-2-9-1-21 7-63 4-81-2-51-2-30-7-69 1-15z"/><path fill="#f2c0ce" d="M152 0l47 0 3 6 2 9 1 18-7 86-2 58 2 55 7 92-1 15-2 6-3 6-47 0-3-6-2-9-1-18 7-86 2-58-2-55-7-92 1-15 2-6z"/><path fill="#f0b9c9" d="M155 3l3-3 36 0 6 9 3 15 1 15-6 84-2 54 2 54 6 90-3 18-3 7-4 5-36 0-7-9-3-15 0-15 6-84 1-54-1-54-6-90 1-15 2-6z"/><path fill="#efb3c4" d="M160 3l5-3 22 0 2 1 5 5 4 6 3 9 1 9-7 144 2 51 5 96-1 9-3 9-6 9-5 3-22 0-5-3-4-4-3-5-3-9-1-9 5-96 2-51-2-51-5-90 1-9 2-9 4-8z"/><path fill="#ecabbe" d="M165 3l6-2 9 0 6 2 6 5 6 10 3 9 0 9-6 138 6 144-3 15-5 9-7 6-9 3-6-1-6-2-7-6-4-6-2-6-2-15 6-138-6-144 1-9 3-9 5-7z"/><path fill="#eaa1b6" d="M173 6l4 0 6 1 6 4 3 3 3 5 3 8 2 15-5 132 4 111 0 30-2 12-5 10-6 6-9 3-9-2-6-4-4-4-5-12-1-15 5-132-5-111 0-30 2-12 4-9 7-6z"/><path fill="#e697af" d="M168 12l6-2 6 1 6 3 3 2 4 5 2 6 3 18 0 27-4 102 4 108 0 30-3 12-3 7-6 7-9 3-9-2-6-4-3-4-4-10-2-15 0-27 4-102-4-108 0-27 1-9 3-9 5-8z"/><path fill="#e48da7" d="M173 15l4 0 6 2 6 4 3 5 4 13 1 24-3 111 3 105 0 27-2 12-4 9-5 6-9 4-9-2-5-5-4-5-4-13-1-24 3-111-3-105 1-27 2-12 3-9 5-6z"/><path fill="#e184a0" d="M168 21l6-2 6 0 6 4 3 3 3 6 2 7 2 24-2 111 2 102 0 24-3 15-3 9-7 7-6 2-6-1-3-1-4-4-4-6-3-12-2-21 3-111-3-117 1-15 3-12 3-7z"/><path fill="#df7d9a" d="M170 24l4-1 6 0 6 4 3 5 4 13 2 24-2 105 2 96 0 21-2 18-3 9-4 6-3 2-6 3-6-1-3-2-3-2-4-6-3-12-2-24 2-105-2-114 2-15 2-12 5-9z"/><path fill="#dd7695" d="M171 27l6-1 3 1 4 3 5 6 3 12 3 24-2 102 1 75 0 39-2 16-3 10-6 8-6 3-6-1-3-2-6-8-3-14-2-21 2-102-2-111 2-15 2-12 4-7z"/><path fill="#db6f8f" d="M174 30l3 0 6 3 3 3 3 6 3 15 2 21-2 96 2 72-1 39-2 15-3 12-5 6-6 3-6-1-3-2-3-3-3-6-3-15-2-21 2-96-2-72 1-36 1-15 3-12 6-9z"/><path fill="#da6b89" d="M169 36l5-2 3 0 6 3 3 4 3 8 2 8 2 21-1 96 1 72 0 33-2 15-3 12-5 8-6 4-6-1-3-3-5-8-3-15-2-18 1-96-1-102 2-15 2-11 3-8z"/><path fill="#de7786" d="M170 42l4-3 3 0 6 4 3 6 5 17 1 21-1 90 1 69 0 30-2 15-4 12-3 5-6 4-6-1-3-3-4-8-3-15-2-21 1-186 2-21 3-8z"/><path fill="#e18383" d="M170 48l4-3 3 0 3 2 3 3 3 6 4 16 1 27 1 144-1 27-2 14-3 11-3 6-3 4-3 1-3 0-3-1-3-4-3-7-4-15-1-27 0-165 3-24 2-7z"/><path fill="#e48e7f" d="M173 51l4 0 3 1 3 4 3 7 3 16 2 29 0 132-1 27-4 21-3 7-3 4-3 2-3 0-3-2-3-4-3-7-3-16-1-29 0-132 0-24 2-12 2-12 3-7z"/><path fill="#e89a7b" d="M172 57l2-1 3 0 3 2 5 8 3 15 2 27 0 108-1 42-3 24-3 7-3 5-3 1-3 0-3-1-3-5-3-7-2-15-2-24 1-147 3-26 3-8z"/><path fill="#eaa478" d="M171 63l3-2 3 0 3 2 3 5 4 16 2 27 0 138-2 18-2 12-5 9-3 2-3 0-3-2-4-9-3-15-2-24 0-135 3-27 3-10z"/><path fill="#ebad76" d="M174 66l3 0 3 2 3 6 2 7 3 21 1 33 0 78-1 36-2 15-3 12-3 7-3 2-3 0-3-2-3-6-2-7-2-21-1-33-1-78 2-36 1-15 3-12 3-7z"/><path fill="#ecb675" d="M173 72l1-1 3 0 3 3 3 7 4 21 1 33 0 78-1 33-4 25-3 7-3 2-3 0-3-2-4-11-3-21-1-30 0-75 1-33 1-12 3-15 3-7z"/><path fill="#ecbd72" d="M172 78l2-2 3 0 3 3 3 8 3 19 1 29 1 75-2 33-3 21-3 8-3 3-3 0-3-3-3-8-3-19-1-29 0-75 1-30 3-24z"/><path fill="#eec370" d="M172 84l2-3 3 0 3 4 3 8 3 18 1 24 0 72-1 30-3 20-3 9-3 4-3 0-3-4-3-9-2-17-1-24 0-96 3-24z"/><path fill="#e4be6b" d="M174 87l3 0 3 4 3 10 3 40 0 66-1 27-2 18-3 9-3 4-3 0-3-4-3-11-3-40 0-66 1-24 2-19 3-10z"/><path fill="#d0af64" d="M173 96l1-2 3 0 4 8 2 12 2 30 1 39-2 42-2 21-2 6-3 5-3 0-3-5-1-6-2-12-2-27 1-75 1-21 3-12z"/><path fill="#bd9f5e" d="M173 105l1-3 3 0 3 6 3 19 1 17 1 33-1 39-3 24-4 9-3 0-3-6-3-19-1-17 0-69 2-21z"/><path fill="#a99057" d="M174 111l3 0 3 8 3 19 1 27-1 48-3 20-3 8-3 0-3-8-2-20-1-27 1-48 2-19z"/><path fill="#998250" d="M173 123l1-3 3 0 3 10 3 35-2 45-1 12-3 9-3 0-3-9-2-36 1-42 1-14z"/><path fill="#887549" d="M174 132l0-2 3 0 2 8 3 30-2 39-3 14-3 0-3-11-1-27 1-39z"/><path fill="#776642" d="M174 144l0-3 3 0 3 24 0 23-3 22-3 0-3-24 0-22z"/><path fill="#66583b" d="M174 153l0-1 3 0 2 16 0 12-2 19-3 0-2-16 0-12z"/><path fill="#584c35" d="M174 162l0-1 3 0 1 13-1 17-3 0 0-5-1-12z"/><path fill="#4a402f" d="M174 174l0-2 3 0 0 7-3 0z"/><path fill="#f7fbfd" d="M81 15l15-2 12 2 9 5 9 11 9 18 6 21 4 23 4 36 1 45-1 48-4 39-6 27-4 14-12 23-9 9-6 2-9 2-15-1-9-3-8-4-11-9-4-6-1-4 0-2 6-2 21-1 12-2 9-5 9-12 12-21 11-32 9-45 1-18-1-12-8-36-9-30-6-14-12-20-9-9-9-4-12-1-18-1-6-2 0-3 1-3 7-9 10-7zM243 15l6-2 9 0 9 1 9 3 8 4 8 6 6 6 2 6 0 3-6 2-21 1-12 2-9 6-6 6-12 20-5 11-9 30-9 42-1 12 1 12 8 42 10 33 8 17 12 18 9 7 12 3 24 1 6 2 0 3-2 6-10 9-15 8-15 3-12-1-6-2-6-3-6-7-9-16-6-15-6-28-4-47-2-42 2-45 3-36 4-26 6-21 9-18 9-11zM64 90l11 0 8 3 4 4 15 21 4 8 6 18 7 15 2 12 0 9-1 9-8 18-7 21-21 29-6 4-6 1-12-2-6-3-7-5-7-9-2-6 1-5 3-3 3 0 18 3 9 0 8-4 4-5 6-14 13-14 2-9 1-15-1-9-2-6-13-14-6-14-4-5-5-3-6-1-24 3-3 0-3-2-1-3 1-6 5-9 10-8zM274 90l11 0 12 4 10 8 4 6 2 6-1 6-3 2-6 0-18-3-6 1-6 2-4 4-9 18-11 11-3 7-1 15 2 15 3 6 11 11 6 13 3 5 3 3 6 2 9 0 18-3 3 0 3 3 1 5-2 6-7 9-10 7-12 3-9-1-6-4-18-23-4-9-5-18-8-15-2-15 1-15 9-18 6-21 19-27 5-4zM66 159l9 1 3 2 3 6 1 9-2 9-2 3-6 3-9 0-15-6-5-3-3-3-2-3 2-6 3-3 12-6zM278 159l7 0 6 1 18 8 3 3 1 3-1 6-9 6-9 4-12 3-6-1-3-3-2-3-1-12 0-6 3-6z"/><path fill="#f1f7fc" d="M84 21l9-2 6-1 12 3 9 7 9 13 6 13 6 21 3 18 4 36 1 48-1 48-4 36-6 27-6 17-12 19-9 7-12 2-9-1-9-3-6-5-3-3 0-3 1-3 2-1 18-7 9-6 6-8 12-22 13-40 9-42 1-18-1-9-9-42-9-30-5-12-11-19-6-8-9-7-18-7-2-1-1-3 0-3 3-3zM240 21l6-2 6-1 12 2 9 4 3 3 3 3 1 3-2 3-2 1-18 7-9 7-6 8-10 19-5 12-9 27-10 51 0 15 2 12 8 39 12 37 12 22 6 8 9 6 18 7 2 1 2 3-1 3-6 6-9 4-9 2-12-1-9-5-6-7-9-15-6-16-6-28-4-39-1-45 1-42 4-44 6-29 6-15 12-19zM64 93l8-1 5 1 4 2 4 4 17 23 3 7 5 18 8 15 2 12-2 15-8 15-5 18-3 7-18 24-6 5-6 1-9-1-10-6-6-9 0-6 5-3 23 0 6-3 3-3 9-18 10-9 3-6 1-12 0-18-1-9-1-3-12-12-7-15-5-6-3-2-6-1-21 0-4-3 0-6 3-6 7-6zM275 93l4-1 6 1 9 3 4 3 5 6 2 6-1 3-5 3-23 0-6 3-3 3-8 18-10 9-4 6-1 12 0 18 1 9 1 3 13 12 6 15 5 6 3 2 6 1 21 0 4 3 0 6-6 9-7 5-9 2-6 0-7-4-20-26-3-7-4-18-8-15-3-12 3-15 8-15 4-18 3-6 18-25zM61 162l11-1 3 1 3 4 2 5 0 9-2 6-3 3-6 2-8-2-6-3-7-6-1-3 1-6 7-6zM276 162l3-1 6 0 12 4 6 6 1 6-1 3-6 6-7 3-8 2-6-2-4-6-1-9 2-8z"/><path fill="#ebf4fb" d="M93 27l6-2 6 0 9 4 9 9 9 14 6 17 5 21 4 42 0 90-3 32-3 16-6 23-9 16-6 8-6 5-6 3-6 1-9-2-3-3 0-3 2-3 10-8 6-7 16-33 10-33 4-23 5-16 1-6 2-3 0-18-8-28-4-23-10-33-16-33-6-7-10-8-2-3 0-3zM240 27l9-2 6 1 3 1 3 3 0 3-2 3-10 8-5 7-16 33-10 33-5 23-5 16-1 7-2 2 0 18 8 28 5 23 11 36 15 30 5 7 10 8 2 3 0 3-3 3-9 2-9-2-6-4-12-15-6-12-6-23-3-15-3-36 0-87 5-42 4-21 6-17 12-18zM69 96l6 1 6 4 4 7 2 8-9-2-18-1-4-2-1-3 2-6 6-4zM279 96l6 1 6 2 3 3 3 6-2 3-4 2-18 1-9 2 2-8 3-6 4-4zM88 117l2-1 6 4 5 6 3 9 0 3-2 4-3 0-3-3-3-4zM260 117l3 0-5 18-3 4-3 3-3 0-1-4 1-9 6-9zM60 165l9-2 6 2 3 6 0 6-1 6-2 3-6 2-6-1-6-3-3-4-2-6 2-3zM111 165l0-3 3 0 3 7 0 13-3 7-3 0 0-3zM236 165l1-3 3 0 1 12-1 15-3 0-3-7 0-11zM277 165l2-1 6-1 6 2 4 3 4 6-1 6-3 3-4 3-6 2-6 0-3-2-3-6 0-6 2-6zM98 210l4-1 1 1 1 6-2 7-6 8-6 4-2-1 5-18zM248 210l1-1 3 1 6 6 5 18-2 1-3-2-6-5-4-9 0-6zM80 237l7-1 0 1-5 12-3 3-4 3-6 0-6-2-6-4-2-3 0-3 2-3 6-2zM264 237l0-1 9 1 18 2 4 1 2 3-3 6-3 3-6 3-6 0-6-2-3-2-3-5z"/><path fill="#e7f2fa" d="M111 39l3 0 9 6 6 7 6 12 6 23 3 21 2 27-2 14-3-5-5-24-9-33-11-27-5-15zM236 39l5 0-1 6-6 18-10 24-9 33-5 24-3 5-2-14 2-27 3-21 3-12 3-11 6-12 6-7zM68 102l5 0 3 3-4 3-4 0-3-3zM278 102l6 0 3 3-4 3-4 0-3-3zM60 168l6-2 3-1 5 3 2 3 0 6-1 5-3 3-6 1-6-3-2-3-2-6 2-3zM277 168l5-3 3 1 6 2 3 3 1 3-1 6-3 3-6 3-6-1-3-3-1-5 1-6zM143 204l1-2 2 14-2 28-3 20-6 23-3 7-6 9-9 8-3 2-3 0-1-4 1-3 6-18 10-24 9-33 5-23zM207 204l0-2 3 6 5 23 9 33 13 33 4 12-1 4-3 0-3-2-9-8-6-9-3-7-6-23-3-20-2-25zM68 243l4 0 4 3-3 3-5 0-3-3zM279 243l4 0 4 3-3 3-6 0-2-3z"/><path fill="#e3f0f9" d="M122 54l1-1 3 2 3 3 3 6 6 18 4 17 2 24 0 14-3-2-4-21-9-33-7-18-1-6zM227 54l2 0 2 3-1 6-6 18-9 33-5 21-3 2 0-14 3-28 9-31 3-6zM62 171l4-2 3-1 3 2 2 4 0 3-2 4-3 2-3 0-4-3-2-3 0-3zM278 171l4-3 6 2 3 4 0 3-1 3-5 3-3 0-3-2-2-4zM141 216l3-1 0 13-3 29-9 31-3 5-3 3-3 2-3-4 1-3 7-21 9-33zM207 216l0-1 3 1 5 21 9 33 6 18 1 6-3 4-3-2-3-3-3-5-6-19-3-14-3-27z"/><path fill="#dfeef9" d="M133 87l2-3 3 8 1 10-1 6-3-7zM215 87l1-3 2 3 0 6-2 8-3 7-1-3 0-6 1-7zM138 243l1 3 0 9-4 12-2-3 1-6 1-7zM213 243l3 8 2 7 0 6-2 3-3-12-1-6z"/></g></svg>
<svg x="1173.1" y="30.5" width="117.0" height="117.1" viewBox="0 0 351.0 351.3" fill-rule="evenodd"><g filter="url(#wb)"><path fill="#fef7f9" d="M108 78l72-2 42 1 27 2 12 1 15 5 15 7 9 5 13 11 12 15 10 18 5 18 1 21-3 18-6 18-9 15-13 15-16 12-18 7-15 3-9 1-9-2-6-4-14-17-8-6-14-5-15-2-24 0-8 1-11 3-7 3-8 6-14 17-6 4-6 1-12 0-12-2-15-5-12-7-12-10-9-10-8-12-7-15-4-15-1-15 1-15 3-15 6-15 8-12 10-12 13-11 15-9 12-4 15-4zM162 123l-12 2-9 4-9 6-3 6-1 6 2 9 4 6 7 5 9 3 12 3 15 0 15-1 9-2 9-3 7-5 4-6 2-6-1-9-3-6-9-6-9-4-12-2-12-1z"/><path fill="#fdf0f4" d="M128 84l28-2 27-1 24 2 33 3 15 2 15 4 12 5 15 10 12 11 11 14 7 15 4 18 0 18-2 15-6 15-9 15-12 12-14 10-15 6-15 3-9-1-9-3-16-12-12-6-10-3-16-2-24 0-18 3-12 5-21 15-6 2-9 1-12 0-12-4-12-6-9-6-11-11-9-12-6-12-3-12-2-15 0-15 2-12 6-15 7-12 10-11 9-8 12-8 12-6 15-4zM156 123l-9 2-9 4-6 5-4 7-1 9 2 6 4 6 8 5 9 4 12 2 15 1 15-1 9-2 9-4 8-5 4-6 2-6-1-9-4-7-9-7-9-3-15-2-15-1z"/><path fill="#fbe9ef" d="M148 87l23-1 21 0 27 3 30 4 15 4 12 5 12 6 9 7 10 11 10 15 5 15 3 15-1 15-3 15-7 15-9 12-11 10-12 8-12 4-12 2-9-1-6-1-26-13-9-3-16-2-15-1-18 1-16 2-9 3-26 13-9 2-9 0-9-2-12-4-9-6-9-7-10-11-7-12-6-15-2-12 0-12 3-15 4-12 6-12 9-11 9-8 9-6 12-7 24-7zM153 122l-9 3-9 5-5 5-3 6-1 9 2 6 5 6 9 6 11 4 12 2 15 0 12-1 9-2 9-3 8-6 5-6 2-9-2-9-4-6-9-6-12-4-12-1-18 0z"/><path fill="#f9e2e9" d="M154 90l20-1 18 1 57 8 12 3 15 6 9 5 10 8 11 12 7 12 5 12 2 15 0 15-4 15-6 12-9 12-10 10-12 7-12 4-12 1-15-2-30-11-14-3-19-1-18 1-12 1-18 5-21 9-9 1-9 0-9-2-9-3-9-5-9-7-9-11-7-12-5-12-2-12 0-15 2-12 5-12 7-12 8-9 10-9 9-5 12-6 24-6zM165 120l-12 1-12 4-7 4-6 6-2 6-1 9 4 9 6 6 9 5 12 3 15 1 15 0 12-2 9-2 9-5 6-6 3-6 1-9-3-9-7-7-9-4-9-3-15-1z"/><path fill="#f8dbe3" d="M156 93l18-1 18 1 57 9 15 4 9 4 9 5 11 8 8 9 8 12 5 12 2 15 0 12-3 15-5 12-9 12-10 9-10 7-12 4-12 2-15-2-23-8-13-3-27-1-29 1-14 3-26 8-15 2-9-2-9-3-9-5-9-7-8-8-7-12-5-12-2-12 0-12 2-15 5-12 6-9 7-9 8-7 9-6 12-6 21-6zM156 120l-9 1-9 4-9 7-3 6-2 9 3 9 4 6 9 6 10 4 12 2 15 0 15-1 11-2 8-3 9-6 4-6 3-9-2-9-3-6-9-7-9-4-15-2-18-1z"/><path fill="#f6d4de" d="M156 96l15-1 18 0 57 10 12 3 12 4 9 5 9 6 9 9 8 12 5 12 3 15 0 12-3 12-5 12-8 13-9 8-12 8-9 3-12 2-15-2-31-8-32-2-33 2-36 9-15 1-9-2-9-3-15-10-9-10-5-9-5-12-3-12 0-12 2-12 4-12 8-12 5-6 9-8 9-6 12-5 18-5zM147 120l-9 3-8 6-4 6-3 9 2 9 3 6 6 6 7 4 12 4 12 1 18 0 15-1 12-4 7-4 6-6 3-6 2-9-3-9-6-8-9-5-12-3-15-2-21 1z"/><path fill="#f5cdd9" d="M156 99l18-1 15 0 60 11 21 7 9 4 8 6 9 9 6 9 5 12 3 12 0 12-3 15-5 12-6 9-9 9-11 7-9 4-12 2-12 0-36-8-30-2-30 2-39 8-12 0-9-1-9-3-15-9-8-9-6-9-5-12-3-12 0-12 2-12 5-12 5-9 7-8 8-7 10-6 9-4 15-4zM153 117l-12 3-9 5-6 7-3 6-1 9 3 9 5 6 8 6 9 4 14 2 16 1 15-1 12-2 9-4 8-6 5-6 3-9 0-6-2-6-5-7-9-7-9-3-15-2-21 0z"/><path fill="#f3c7d4" d="M159 102l15-1 12 0 30 6 33 5 12 3 9 4 15 9 9 10 6 9 5 12 2 12 0 12-2 12-6 12-6 9-8 8-9 6-12 4-12 2-12-1-36-6-27-1-27 1-39 6-15 1-15-4-9-4-8-6-8-9-6-9-4-9-2-12 0-12 2-12 5-12 6-9 12-12 9-6 9-4 15-4 33-5zM171 114l-27 2-9 3-6 5-6 10-2 10 2 9 6 9 8 6 10 4 12 2 15 1 18-1 12-2 10-4 8-6 6-9 2-9-2-10-6-10-6-5-9-3-12-2z"/><path fill="#f2c0ce" d="M170 105l11 0 11 3-6 2-9 1-12-1-6-2zM108 114l17 0 4 3-7 15-2 9 0 6 2 6 6 9 7 5 8 4 13 3 12 1 18 0 15-2 14-5 8-6 6-9 2-9-2-12-7-15 3-3 12 0 12 1 12 3 9 4 9 5 10 8 7 9 6 12 3 12 0 12-1 9-4 12-8 12-10 10-12 7-12 3-15 1-36-6-24-1-37 1-41 6-12-1-12-3-9-5-9-7-6-8-6-9-3-9-2-9 0-12 2-9 3-9 4-9 7-9 7-6 9-6 9-4 9-3z"/><path fill="#f0b9c9" d="M92 120l16-3 6 1 6 2 1 3-2 15 0 9 4 9 4 6 8 6 9 4 12 2 18 2 18-1 12-2 12-5 8-6 4-6 4-9 0-9-2-15 1-3 6-2 6-1 12 2 9 3 9 4 9 6 9 9 6 9 4 12 2 9-1 12-2 12-8 15-10 10-12 8-15 4-12 0-33-4-27-1-36 0-42 5-12-1-9-2-9-4-6-5-6-5-6-8-5-9-2-9-2-9 0-9 2-9 3-9 5-9 5-6 12-10z"/><path fill="#efb3c4" d="M90 123l15-2 6 0 4 2 2 3 0 15 2 9 5 9 8 8 9 4 9 3 24 2 15-1 12-1 12-4 8-5 6-6 5-9 2-9 0-15 3-4 6-1 6 0 15 3 9 4 9 7 8 9 6 9 3 9 2 12-1 12-3 9-6 13-11 11-13 8-12 3-15 1-33-4-24-1-36 1-39 4-12-1-9-2-9-4-6-4-6-5-6-8-8-15-1-9-1-9 1-9 3-9 5-9 4-6 12-11z"/><path fill="#ecabbe" d="M87 126l15-3 6 1 5 2 2 3 2 15 2 9 7 9 8 6 7 3 10 3 26 2 24-2 9-3 7-3 8-6 7-9 2-9 2-15 2-3 8-3 6 0 9 2 9 4 9 6 7 6 6 9 4 9 3 12 0 12-2 9-6 12-10 12-11 8-15 5-15 0-36-3-33 0-24 0-42 4-9-1-9-3-9-4-6-4-10-11-8-15-2-15 2-15 7-15 11-12 6-4z"/><path fill="#eaa1b6" d="M89 129l10-2 9 2 4 6 4 12 4 9 4 6 8 6 9 4 9 2 27 2 24-2 9-2 9-4 8-6 4-6 4-9 4-12 4-6 9-2 9 2 9 3 8 6 7 7 5 8 4 9 2 9 0 12-2 9-6 12-9 11-12 8-15 4-12 1-37-3-32 0-63 3-9-1-9-2-9-4-6-4-10-10-4-6-4-9-2-15 2-15 3-8 4-7 11-11z"/><path fill="#e697af" d="M90 132l6-1 6 1 6 3 10 21 5 6 9 7 9 4 9 2 24 2 27-2 9-2 9-4 9-7 5-6 10-21 6-3 6-1 6 1 9 4 6 4 6 6 5 7 4 9 2 9 1 9-2 9-5 12-10 12-10 7-15 5-15 1-36-2-39 0-51 2-18-3-9-3-6-4-10-9-4-6-4-9-3-15 3-15 6-13 6-6 5-5z"/><path fill="#e48da7" d="M92 135l7 0 6 2 3 4 11 18 6 6 7 5 9 3 9 2 24 2 24-1 18-5 10-6 6-6 11-18 3-4 6-2 9 0 9 4 6 5 6 6 4 6 3 6 2 9 0 9-1 9-6 12-8 10-12 8-15 4-12 1-54-1-69 1-18-2-14-6-11-9-7-12-4-15 1-15 4-9 4-6 9-9 6-3z"/><path fill="#e184a0" d="M94 138l5 0 6 4 15 20 12 8 9 4 9 2 24 1 24-1 10-2 9-3 6-3 8-6 15-20 6-4 9 1 9 3 6 5 5 6 4 6 2 6 2 9-2 15-5 12-9 10-12 7-12 4-18 1-111 0-12-1-12-2-9-3-6-4-9-9-7-12-3-15 1-9 2-6 7-12 6-5 5-4z"/><path fill="#df7d9a" d="M84 144l9-3 6 1 3 1 3 3 11 13 6 6 7 5 9 3 18 4 24 1 24-2 15-5 5-3 8-6 11-13 6-6 6-2 6 1 6 2 6 4 5 5 4 6 4 12 0 9 0 6-5 12-8 10-12 8-15 4-18 2-57 0-51 0-18-2-12-4-12-8-8-10-5-12 0-12 3-12 7-11z"/><path fill="#dd7695" d="M84 147l9-3 6 1 3 2 19 18 8 5 9 4 18 3 24 1 24-2 15-4 11-7 19-18 6-2 6 0 6 2 4 3 8 9 5 12 0 6-1 9-5 12-7 9-10 7-15 5-18 2-51 0-54 0-18-2-12-4-12-7-8-10-4-9-2-12 2-12 6-10z"/><path fill="#db6f8f" d="M84 150l9-3 6 1 6 4 11 10 7 6 15 7 18 3 24 0 24-1 15-4 13-8 17-15 6-2 6 0 9 4 8 10 3 9 1 12-4 12-8 10-12 8-12 4-21 3-48 1-48-1-21-2-12-3-12-7-9-10-4-9-2-12 2-9 4-9 5-6z"/><path fill="#da6b89" d="M84 153l9-3 6 1 6 4 17 13 7 4 9 3 18 3 24 1 21-2 16-3 12-6 20-15 6-3 6 1 9 5 5 6 4 9 0 12-4 12-7 9-10 7-15 5-21 3-45 1-42-1-24-2-14-4-10-5-7-7-6-9-2-9 0-12 2-6 4-6z"/><path fill="#de7786" d="M88 156l8-1 6 2 18 12 15 6 18 4 24 0 24-1 15-3 15-6 18-12 9-2 9 4 5 6 4 9 0 9-5 12-7 9-10 6-14 5-24 3-36 1-33-1-30-2-12-3-12-5-9-7-6-9-3-12 1-9 5-9z"/><path fill="#e18383" d="M87 162l6-3 6 1 6 2 18 10 18 6 18 2 24 0 21-1 15-3 11-5 19-10 9-2 6 3 6 6 2 6 0 9-1 6-3 6-7 8-9 5-15 5-24 3-30 2-27 0-27-2-15-3-12-3-9-5-7-7-6-9-1-9 0-6 2-5z"/><path fill="#e48e7f" d="M90 165l6-2 6 1 22 10 14 4 18 2 24 1 21-1 15-2 12-4 18-9 9-2 6 2 5 6 2 6 0 6-2 9-8 9-10 6-11 4-18 3-27 3-24 0-24-1-20-3-13-3-9-3-9-6-8-9-2-9 0-6 1-4 3-5z"/><path fill="#e89a7b" d="M96 168l9 1 18 7 15 3 15 2 24 0 24 0 15-2 12-3 18-7 6-1 6 1 3 3 3 5 0 6-2 9-5 6-8 6-12 5-20 4-22 3-21 0-21-1-19-2-17-3-12-4-9-6-7-8-2-9 1-9 2-3z"/><path fill="#eaa478" d="M95 174l7-2 27 7 12 2 48 1 30-3 30-7 7 2 3 3 1 6-3 9-5 6-9 6-7 3-17 4-18 3-21 1-18 0-18-2-18-3-12-3-11-6-7-6-5-9 0-6z"/><path fill="#ebad76" d="M100 177l8-1 24 5 12 1 42 0 27-1 33-5 6 2 2 2 1 6-2 6-6 6-7 5-11 4-13 4-18 2-18 2-15-1-32-4-13-4-12-5-8-6-3-6-1-6 1-3z"/><path fill="#ecb675" d="M108 180l36 3 45 0 24 0 27-3 6 1 2 2 1 3-1 6-6 6-8 5-9 3-14 4-13 2-30 2-30-4-12-4-12-5-8-6-4-6 0-3 1-3z"/><path fill="#ecbd72" d="M109 186l5-2 6-1 27 1 84-1 9 2 2 1 1 3-3 6-3 3-11 6-9 3-22 5-24 1-24-3-22-6-6-3-8-6-3-6z"/><path fill="#eec370" d="M122 186l49-1 51 1 9 1 4 2 1 3-2 3-7 6-16 6-19 4-24 1-24-4-13-4-7-3-7-6-2-3 1-3z"/><path fill="#e4be6b" d="M144 186l30-1 33 1 18 3 4 3-1 3-2 3-11 6-17 5-18 2-18-1-17-3-15-6-7-6-1-3 3-3z"/><path fill="#d0af64" d="M139 189l26-2 30 0 17 2 7 3 1 3-2 3-4 3-13 5-15 3-18 0-15-2-16-6-4-3-2-3 1-3z"/><path fill="#bd9f5e" d="M152 189l22-1 21 1 14 3 3 3-1 3-4 3-9 4-15 3-18-1-15-3-6-3-4-3-1-3 3-3z"/><path fill="#a99057" d="M171 189l15 1 14 2 4 3 0 3-4 3-8 3-15 2-18-2-8-3-4-3 0-3 4-3z"/><path fill="#998250" d="M161 192l13-1 15 1 8 3 0 3-4 3-7 2-9 1-9 0-10-3-4-3 0-3z"/><path fill="#887549" d="M164 195l7-1 9 0 7 1 1 3-8 3-8 0-9-3z"/><path fill="#f7fbfd" d="M152 126l13-2 18 0 12 1 12 4 9 6 4 6 2 9-2 6-4 6-6 4-9 4-9 2-12 1-15 0-10-2-10-3-6-3-6-6-3-6 0-9 2-6 6-6 6-3zM170 234l19 1 11 2 7 3 4 3 4 6 1 6-2 3-4 5-9 5-9 3-12 1-15 0-12-3-9-3-5-5-2-3-2-6 2-6 3-3 4-3 7-3z"/><path fill="#f1f7fc" d="M156 126l12-2 15 0 15 3 9 3 8 5 4 6 2 9-2 6-4 6-5 4-9 4-9 2-12 1-15-1-12-2-9-3-8-5-4-6-2-6 0-6 3-6 5-5 9-4zM157 237l17-2 20 2 8 3 5 3 2 3 1 6-1 3-5 5-12 5-15 2-18-2-12-5-5-5-1-3 1-6 2-3 5-3z"/><path fill="#ebf4fb" d="M160 126l11-1 15 0 12 2 9 4 7 4 4 6 2 6-1 9-5 6-4 3-9 4-9 2-12 1-15 0-12-2-9-3-7-5-5-6-1-6 0-6 4-6 6-6 9-4zM164 237l19 0 14 3 5 3 2 3 1 3-1 3-3 3-4 3-14 4-15 0-12-3-6-3-3-4-1-3 1-3 2-3 5-3z"/><path fill="#e7f2fa" d="M164 126l13-1 12 1 9 2 9 4 6 4 5 5 2 6-2 9-5 6-6 4-9 4-9 1-12 1-15-1-12-2-8-4-7-6-3-6-1-6 2-6 5-5 6-4 9-4zM160 240l14-2 15 2 8 3 2 3 0 3-4 5-9 4-9 1-12-1-9-4-4-5 0-3 2-3z"/><path fill="#e3f0f9" d="M152 129l13-2 15-1 12 1 12 4 7 4 6 6 2 6-2 9-4 6-4 3-8 4-9 2-12 1-12 0-12-2-9-3-6-3-5-5-3-6-1-6 2-6 4-4 6-5zM169 240l11 0 6 1 5 2 2 3-1 3-3 3-9 3-9 0-9-3-3-3-1-3 2-3z"/><path fill="#dfeef9" d="M155 129l10-2 15 0 12 1 12 4 6 3 6 7 2 8-1 6-5 6-4 3-7 3-12 3-12 1-12-1-9-1-9-3-6-3-5-5-3-6 0-6 2-6 6-6 6-3zM171 243l9 0 4 3-4 4-9 0-4-4z"/><path fill="#dbecf8" d="M157 129l11-2 15 0 12 2 9 3 8 6 4 5 1 7-1 6-5 6-4 3-7 3-11 3-12 1-12-1-9-1-9-3-6-4-4-4-3-6 0-6 2-6 5-5 7-4z"/><path fill="#d7eaf7" d="M160 129l11-1 12 0 12 2 9 3 7 5 5 6 1 6-2 6-4 6-5 3-8 3-12 3-12 0-12-1-10-2-7-3-5-3-4-6-2-6 1-6 5-6 4-3 9-4z"/><path fill="#d3e8f6" d="M164 129l10-1 12 1 9 2 9 3 6 4 5 6 1 6-1 6-5 6-5 3-7 3-12 3-12 0-12-1-9-2-7-3-5-3-5-6-1-6 1-6 5-6 6-4 9-3z"/><path fill="#d0e6f5" d="M169 129l11 0 12 1 9 3 6 3 5 5 3 6 0 6-3 6-7 6-7 3-18 3-12 0-12-2-9-4-5-3-3-3-3-6 0-6 3-6 5-5 6-3 9-3z"/><path fill="#cce4f4" d="M155 132l13-2 12-1 12 2 9 3 7 4 5 6 2 6-2 6-5 6-4 3-15 5-21 0-9-1-9-3-6-3-4-4-3-6 0-6 3-6 3-3z"/><path fill="#c6e1f3" d="M157 132l11-2 12 0 12 1 9 3 6 4 5 6 2 6-1 6-5 6-5 3-14 4-21 1-9-1-9-3-6-3-4-4-3-6 0-6 4-6 3-3 6-4z"/><path fill="#bddef2" d="M162 132l9-1 12 0 9 2 9 3 6 4 4 4 1 6-1 6-2 3-5 4-6 3-9 3-21 0-9-1-9-3-5-3-5-6-1-3 0-6 4-6 4-3 6-3z"/><path fill="#b5daf0" d="M173 132l10 0 9 2 12 5 5 5 2 6-1 6-2 3-4 3-9 5-18 2-12 0-9-2-9-5-4-3-2-3-1-6 2-6 3-3 5-4 6-2z"/><path fill="#acd7ef" d="M160 135l8-1 12-1 9 1 9 3 6 4 5 6 0 6-1 3-2 3-5 4-6 3-9 2-18 0-14-3-9-6-2-3-1-6 2-6 3-3 6-4z"/><path fill="#a4d3ed" d="M165 135l9-1 9 1 9 1 6 3 6 4 3 4 1 6-1 3-6 6-7 3-8 2-18 1-9-2-6-2-6-4-3-4-1-3 1-6 3-4 6-4z"/><path fill="#9bd0ec" d="M158 138l10-2 9-1 9 1 7 2 8 4 4 5 1 6-1 3-6 6-13 4-15 1-15-3-8-5-2-3-1-6 3-6 4-3z"/><path fill="#92cdeb" d="M162 138l9-2 9 0 9 2 6 2 6 4 2 3 1 6-1 3-6 6-14 4-15 0-12-3-6-4-2-3-1-6 3-6 4-3z"/><path fill="#8ac9e9" d="M167 138l13 0 14 3 7 6 2 6-1 3-3 3-4 3-12 3-15 0-12-3-4-3-3-3-1-3 2-6 6-5z"/><path fill="#81c4e8" d="M160 141l14-3 15 2 9 6 3 4 0 3-4 6-8 4-12 2-15-2-8-4-4-6 2-6 3-3z"/><path fill="#79bfe6" d="M164 141l13-1 12 2 5 2 3 3 2 3-1 6-6 5-9 3-12 0-10-2-5-3-3-3-1-6 4-5z"/><path fill="#6eb8e4" d="M169 141l11 0 11 3 4 3 2 3 0 3-1 3-3 3-4 2-9 2-12 0-10-4-3-3-1-3 0-3 2-3 6-4z"/><path fill="#61b1e2" d="M165 144l9-2 12 2 6 3 2 3 0 3-1 3-4 3-6 2-9 1-9-1-6-4-2-4 0-3 2-2z"/><path fill="#54aadf" d="M164 147l7-2 9 0 7 2 3 3 1 3-1 3-7 4-6 0-9 0-7-4-1-3 1-3z"/><path fill="#53a4dd" d="M171 147l9 0 6 3 1 3-2 3-5 2-6 0-6-1-2-1-2-3 1-3z"/><path fill="#5ca0dc" d="M171 153l3-2 3 0 3 2-3 2-3 0z"/></g></svg>
<svg x="1310.5" y="30.5" width="117.1" height="117.1" viewBox="0 0 351.3 351.3" fill-rule="evenodd"><g filter="url(#wb)"><path fill="#fef7f9" d="M63 81l12-2 9 1 28 16 11 4 15 2 69 0 18-2 14-4 22-13 6-3 6-1 9 1 9 2 30 9 12 6 9 5 9 9 0 128-9 10-12 8-12 6-12 3-36 6-39-2-48 7-21 0-45-7-27 2-18-1-30-5-9-3-12-6-11-8-10-10 0-128 9-9 12-7zM162 138l-24 1-9 2-6 3-4 3-4 6 0 6 1 3 2 3 5 4 12 5 21 1 36 0 21-1 12-3 8-6 3-6 0-6-4-6-4-3-7-3-20-3zM162 213l-24 2-8 1-7 3-5 3-4 6-1 6 1 6 6 7 12 4 24 1 39 0 21-1 12-3 6-4 4-7 0-6-3-6-6-6-8-3-20-2z"/><path fill="#fdf0f4" d="M66 90l9-1 9 2 27 9 9 2 12 1 93 0 15-3 24-9 12-2 18 3 27 9 9 5 9 7 7 7 5 7 0 95-12 16-9 8-9 5-18 7-24 4-12 0-12-1-12-3-6-2-1-1 1-3 3-8 1-7-1-6-3-6-6-6-7-3-23-3-54 0-15 2-9 3-6 4-3 3-4 9 1 9 4 12-10 4-18 3-15 0-24-4-15-6-9-4-10-8-8-9-6-9 0-95 11-13 13-10 21-9zM153 138l-21 2-6 2-6 3-3 3-2 5 0 6 2 6 9 6 15 4 24 1 36-1 15-1 10-3 8-6 3-6 0-6-4-6-5-4-9-3-24-2zM143 255l61 0 9 1 9 2-2 3-6 3-10 3-15 3-18 1-25-4-15-6-2-3z"/><path fill="#fbe9ef" d="M55 99l11-2 9-1 12 2 24 6 12 1 54-1 45 1 15-1 30-7 12-1 12 2 18 5 15 7 10 7 10 12 7 12 0 66-4 9-6 9-8 9-6 5-9 6-9 4-21 5-18 1-15-4-7-5-6-18-5-6-4-3-7-3-7-2-21-1-51 0-12 1-10 2-6 3-7 6-4 6-6 16-6 4-6 2-12 2-12-1-12-2-12-3-15-8-9-7-10-12-8-15 0-65 9-16 12-12 15-8zM144 138l-18 3-6 3-3 3-3 6 0 6 3 6 3 3 9 5 15 2 30 1 33-1 12-1 9-4 7-5 3-6 0-6-4-6-6-5-9-3-24-1z"/><path fill="#f9e2e9" d="M62 102l10-1 9 0 27 5 12 1 57-2 51 2 15-1 24-4 9-1 12 1 15 4 15 6 12 8 8 9 8 12 5 18 0 32-2 10-4 9-5 9-13 14-15 10-12 4-9 2-15 1-15-3-6-3-3-2-10-17-7-6-6-3-10-2-21-2-48 0-21 2-9 3-8 5-5 6-8 14-3 2-6 3-9 3-12 0-12-2-12-3-12-6-9-6-9-9-7-11-5-12-3-10 0-32 2-9 5-12 6-9 8-8 9-7 9-5 12-4zM138 138l-9 1-9 4-4 4-3 6 0 6 3 6 7 6 9 3 12 1 18 1 51-1 9-2 9-4 5-4 2-6 1-6-3-6-5-4-9-4-12-1-15-1z"/><path fill="#f8dbe3" d="M67 105l14 0 24 4 12 0 57-3 60 3 42-4 12 1 15 4 12 5 12 8 8 9 8 12 4 12 2 15-1 15-3 15-4 9-6 9-12 12-8 6-9 4-18 4-15 1-12-3-6-4-14-17-10-6-12-3-21-1-51 0-18 2-9 2-6 3-7 6-11 14-9 5-9 2-9 0-9-1-12-3-12-5-9-7-8-8-7-9-5-12-4-12-1-12 1-12 2-12 5-12 6-9 8-9 9-6 9-5 12-4zM135 138l-9 1-6 3-6 5-2 6 1 9 4 5 6 4 9 3 12 2 21 0 33 0 18-1 9-2 6-3 5-5 3-6 0-6-2-6-6-5-9-3-24-2z"/><path fill="#f6d4de" d="M69 108l12 0 33 3 48-4 18 0 57 4 39-3 12 1 12 3 15 7 9 6 9 10 6 9 4 12 3 15-1 15-3 12-4 9-5 9-11 12-7 5-9 4-18 5-15 0-12-3-6-5-12-12-12-7-12-2-18-1-54 0-18 1-11 3-6 3-19 18-9 4-9 1-9 0-18-3-9-5-9-6-9-8-7-10-5-12-3-12-1-12 2-12 3-12 4-9 6-9 7-7 9-6 12-6 12-4zM129 138l-6 2-7 4-4 6-1 6 1 6 5 6 6 4 9 3 12 1 21 0 33 0 18-1 9-2 6-3 6-5 3-6 0-6-3-7-6-5-9-3-15-1-48-1-18 1z"/><path fill="#f5cdd9" d="M166 108l26 1 45 4 33-2 12 0 18 4 15 7 9 7 8 9 5 9 4 12 2 15-1 12-3 12-6 12-9 12-12 9-15 6-15 3-9-1-9-2-6-4-13-11-8-5-9-3-9-2-72 0-22 1-9 3-6 3-20 16-9 4-9 1-15-2-15-5-12-8-9-10-6-11-5-12-2-15 1-12 3-12 5-12 7-9 9-8 15-8 18-5 15 0 33 2zM126 138l-6 2-6 4-3 6-1 9 3 6 4 4 6 3 9 3 30 2 36-1 18-1 9-1 6-3 7-6 3-6 0-9-4-6-6-4-9-3-15-1-60 0z"/><path fill="#f3c7d4" d="M145 111l20-2 18 0 57 7 39-3 15 3 12 4 12 8 8 7 7 9 5 12 2 12 0 12-2 12-4 12-10 14-12 10-15 7-15 2-9-1-9-2-26-18-9-3-10-1-72-1-21 1-15 5-18 13-6 4-6 2-9 1-12-1-12-3-12-7-9-8-8-11-4-9-3-12-1-12 1-12 4-12 7-12 7-8 9-7 9-4 18-5 15-1 30 3zM123 137l-7 4-5 6-2 6 1 6 2 6 5 5 6 3 9 2 15 2 27 0 30 0 15-2 9-2 8-5 5-6 1-6 0-6-5-7-6-4-9-3-81 0z"/><path fill="#f2c0ce" d="M152 111l19-1 18 0 51 8 39-2 15 2 12 5 10 6 8 8 7 10 4 9 3 12 0 12-2 12-5 12-8 12-11 9-15 7-15 3-15-3-9-4-18-12-9-3-12-2-75 0-18 1-15 4-24 15-6 2-9 2-12-1-12-4-12-7-10-10-6-9-4-9-2-12-1-12 2-12 5-12 6-9 7-7 15-10 18-5 15 0 30 2zM135 135l-12 1-6 3-6 5-2 6 0 9 3 6 6 6 11 4 27 2 45 0 18-1 9-2 6-4 6-5 3-6 0-9-3-6-6-5-6-3-15-1z"/><path fill="#f0b9c9" d="M160 111l17-1 18 2 45 8 30-2 12 0 12 3 12 4 10 7 8 8 6 10 4 9 2 12-1 12-2 12-4 9-9 12-11 8-12 6-15 2-9 0-9-3-21-13-8-3-10-2-15-1-72 0-15 2-15 4-15 10-9 4-9 2-9 0-12-2-9-4-10-7-8-9-6-9-4-12-1-9 0-12 3-12 3-9 7-9 7-7 15-8 15-5 15 0 30 2zM123 135l-6 2-6 5-3 6-1 8 2 6 4 6 7 5 9 3 12 1 21 0 42 0 18-1 9-3 7-5 4-6 2-6-1-8-3-6-6-5-6-2-9-1-45 1-39-1z"/><path fill="#efb3c4" d="M146 114l19-3 21 0 21 3 30 8 9 1 21-3 12 0 12 2 12 4 10 6 8 8 7 10 4 9 2 12 0 9-3 12-3 9-8 12-11 9-12 6-15 2-9 0-9-3-19-11-8-3-12-2-12-1-75 0-15 1-15 4-24 13-9 2-9 0-12-2-9-4-9-7-6-6-6-10-4-9-2-12 0-9 2-12 3-9 6-9 7-7 12-8 15-5 15-1 33 3 6-1zM117 135l-6 4-3 5-2 6 1 9 3 6 6 6 6 3 7 2 27 1 48 0 18-1 9-3 6-3 5-5 3-9-1-9-2-6-5-4-9-4-54 2-48-2z"/><path fill="#ecabbe" d="M150 114l18-2 21 0 25 5 23 8 9 0 21-3 12 0 12 2 12 4 9 6 8 7 6 9 4 9 2 9 0 12-2 12-4 9-8 11-9 8-12 6-15 3-15-3-20-10-10-4-11-2-13 0-90 0-15 4-24 12-9 2-9 0-9-1-9-4-9-5-8-8-6-9-3-9-3-12 1-12 2-9 3-9 6-9 8-7 12-7 15-5 15 0 24 3 9 0 23-8zM120 132l-6 2-6 7-2 6 0 9 1 6 4 6 6 4 9 4 24 1 54 0 18-1 8-2 7-4 5-5 4-9-1-9-2-6-3-4-6-4-9-1-51 2z"/><path fill="#eaa1b6" d="M158 114l19-1 21 2 18 5 6 3 3 3-3 3-13 3-32 2-34-2-14-3-2-3 2-3 6-3 9-3zM61 126l11-2 12 1 12 2 9 4 2 1 0 3-3 12 1 12 5 9 4 4 6 3 9 2 9 1 66 0 15-1 9-1 6-3 7-5 4-6 2-6 0-9-2-12 0-3 4-3 10-3 11-1 18 1 9 2 9 5 9 7 6 7 5 9 2 9 1 9-1 12-5 15-8 10-12 9-15 5-9 1-9-1-30-13-9-2-12-1-42 1-54-1-15 4-27 12-9 1-12-1-9-3-6-4-7-5-5-6-4-6-4-9-3-9 0-9 1-9 3-9 7-13 12-10 9-5z"/><path fill="#e697af" d="M171 114l15 0 16 3 9 3 5 3 1 3-3 3-13 3-27 1-27-2-10-2-3-3 2-3 11-5 12-3zM60 129l9-2 12 0 10 2 7 3 3 3 1 3 0 15 3 9 6 9 9 5 18 2 69 0 21-2 9-3 6-5 5-9 1-9 0-12 1-3 3-3 8-3 9-2 9 0 9 1 9 3 9 5 7 5 7 9 4 9 2 9 1 9-1 9-5 12-9 12-12 9-15 4-15-1-30-12-18-2-45 2-57-1-12 2-27 11-9 1-12-1-9-3-6-4-6-5-5-6-4-6-4-9-1-15 2-15 7-12 5-6 6-5 6-3z"/><path fill="#e48da7" d="M156 117l18-2 18 2 13 3 5 3 2 3-4 3-7 2-24 2-24-2-9-2-4-3 1-3 5-3zM59 132l10-2 9 0 9 1 8 4 4 6 2 15 4 9 6 7 9 4 15 2 75 0 18-1 6-2 7-4 7-9 3-9 1-12 3-5 3-2 6-3 9-1 15 1 9 3 8 4 7 6 5 6 4 9 3 9 0 9-1 9-5 13-9 11-12 7-12 4-15-1-27-10-18-2-48 1-57-1-13 2-26 10-9 1-9-1-9-3-6-3-11-10-7-12-3-15 2-15 6-12 4-6 6-5z"/><path fill="#e184a0" d="M164 117l13-1 15 2 8 2 4 2 1 1 2 3-5 3-4 1-21 2-24-2-3-1-5-3 1-3 5-3zM58 135l8-2 9-1 9 2 6 2 5 5 6 18 5 9 7 6 7 3 15 2 81 0 15-2 6-2 6-4 6-9 7-21 5-5 12-4 12 1 9 2 6 3 8 6 6 6 3 6 4 9 1 9-1 9-4 12-8 11-12 9-12 3-15-1-27-9-15-1-51 2-60-2-12 2-24 8-9 1-9 0-12-5-11-9-7-12-4-15 2-12 5-13 9-10z"/><path fill="#df7d9a" d="M157 120l14-2 15 0 12 4 3 1 1 3-6 3-19 2-21-2-6-3 1-3zM68 135l13 1 9 4 4 4 8 21 5 6 4 3 9 4 15 1 39 0 45 0 15-2 7-3 6-6 4-6 7-18 3-4 9-4 6-1 9 0 9 3 6 3 6 4 6 7 4 7 3 9 0 15-4 12-7 9-11 8-12 4-15-1-24-7-15-2-54 3-60-3-12 2-24 7-9 1-9-1-12-5-10-9-7-12-2-6 0-9 1-9 2-6 7-11 6-5 6-4z"/><path fill="#dd7695" d="M164 120l13-1 10 1 8 3 1 3-8 3-11 1-14-1-8-3 1-3zM65 138l13 0 9 3 5 6 7 15 3 6 7 6 8 4 12 2 48-1 42 1 15-2 9-4 8-9 8-18 5-6 9-3 12 0 9 2 6 4 10 9 4 6 3 9 0 6 0 9-5 12-6 8-9 7-12 4-15-1-24-7-9-1-63 3-57-3-12 1-24 7-15 1-12-4-10-9-8-12-2-12 1-12 3-6 4-7 9-8 6-4z"/><path fill="#db6f8f" d="M162 123l9-2 9 0 9 2 1 3-10 2-9 0-10-2zM62 141l13-1 6 1 5 3 4 4 9 17 4 6 5 4 9 4 12 1 45-1 48 1 12-1 11-5 7-9 9-17 6-5 9-3 9 0 12 5 10 8 6 12 2 6 0 9-4 12-6 9-11 8-12 3-12-1-21-6-12-1-39 3-21 1-24-1-39-3-12 1-21 6-9 1-6-1-12-4-9-8-6-10-3-12 2-12 4-9 9-9z"/><path fill="#da6b89" d="M171 126l3-3 3 0 3 3zM61 144l11-2 6 1 6 3 6 6 7 13 5 7 7 5 8 3 12 1 51-2 45 2 12-1 9-5 6-7 11-18 4-4 9-4 9 1 12 4 10 9 5 12 0 12-3 11-6 8-9 7-12 4-12-1-21-5-9-2-42 5-24 0-24-1-36-4-12 2-21 5-12 1-12-4-9-7-6-8-3-11 0-12 4-9 7-9z"/><path fill="#de7786" d="M64 147l11 0 8 3 4 4 14 20 7 6 6 2 9 1 54-3 51 3 9-1 10-5 6-6 11-17 6-5 6-2 9 0 10 3 5 4 4 5 4 9 1 12-3 9-6 8-9 7-9 2-12 0-21-5-9-1-42 6-33 1-21-2-33-5-9 1-21 5-12 0-9-2-9-7-6-8-3-12 1-9 5-10 6-6z"/><path fill="#e18383" d="M59 153l10-3 6 1 5 2 7 6 9 13 6 7 6 4 6 2 39-4 21-1 27 1 30 4 9-1 6-3 6-5 15-20 6-4 6-2 9 1 9 6 6 9 2 11-2 9-6 9-9 6-9 2-9 0-27-6-6 0-30 7-24 2-18 0-18-1-33-8-6 0-27 6-9 0-8-2-7-3-6-7-4-8-1-9 2-9 4-6z"/><path fill="#e48e7f" d="M63 156l9-1 9 4 26 30-4 3-8 3-14 4-12 0-9-4-3-3-4-6-3-6 0-6 1-6 3-5 4-4zM274 156l8-1 6 1 6 4 4 5 3 6 0 9-2 6-5 6-9 6-12 1-17-4-7-3-5-3 8-8 15-20zM138 183l30-2 33 1 27 4 9 3 0 3-11 6-13 4-15 3-21 1-21-1-18-3-13-4-11-6 0-3 9-3z"/><path fill="#e89a7b" d="M62 162l4-2 6 0 6 2 3 2 6 7 6 9 2 6-1 3-5 3-5 2-9 1-9-2-6-4-4-6-1-9 2-7zM273 162l6-2 6 0 6 4 5 7 0 9-2 6-6 6-6 2-6 1-9-1-9-4-2-4 2-6 4-6 5-7zM143 183l28-2 30 1 20 4 7 3 1 3-2 3-6 3-9 3-16 3-19 1-21-1-17-3-9-3-5-3-3-3 2-3 6-3z"/><path fill="#eaa478" d="M64 168l5-2 3 0 6 2 7 9 2 6-1 3-5 3-6 1-6-1-4-3-3-3-2-6 2-6zM273 168l6-2 3 0 5 2 3 3 1 3-1 6-3 6-5 3-9 1-3-1-4-3-2-3 2-6zM148 183l26-2 27 2 16 3 6 3 1 3-2 3-5 3-8 3-17 3-15 1-18-1-16-3-9-3-5-3-2-3 2-3 6-3z"/><path fill="#ebad76" d="M153 183l24-1 21 1 15 3 6 3 1 3-1 3-5 3-9 3-16 3-15 0-15-1-12-2-10-3-4-3-2-3 2-3 6-3z"/><path fill="#ecb675" d="M158 183l22-1 18 2 12 3 5 2 2 3-2 3-2 2-9 3-12 3-15 1-15-1-12-2-9-3-5-3-2-3 2-3 6-3z"/><path fill="#ecbd72" d="M165 183l18 0 15 2 12 3 2 1 2 3-2 3-8 4-12 3-15 1-15-1-12-2-9-3-2-2-2-3 2-3 7-3z"/><path fill="#eec370" d="M149 186l19-2 21 0 13 2 7 3 2 3-1 3-6 3-9 3-15 1-15 0-15-3-8-4-2-3 2-3z"/><path fill="#e4be6b" d="M152 186l19-2 18 1 12 2 5 2 2 3-1 3-3 2-9 3-15 2-16-1-14-3-6-3-1-3 2-3z"/><path fill="#d0af64" d="M158 186l16-1 15 1 13 3 2 3-1 3-6 3-17 3-18-1-7-2-7-3-1-3 2-3z"/><path fill="#bd9f5e" d="M165 186l21 0 12 3 2 3-1 3-7 3-15 2-17-2-7-3-2-3 3-3z"/><path fill="#a99057" d="M158 189l10-2 12 0 13 2 3 3-2 3-8 3-18 0-11-3-2-3z"/><path fill="#998250" d="M165 189l9-1 9 1 4 0 4 3-2 3-3 1-15 1-8-2-3-3z"/><path fill="#887549" d="M166 192l8-2 6 1 5 1-8 3-6 0z"/><path fill="#f7fbfd" d="M170 72l10 0 15 4 19 8 3 3 1 3-2 3-6 3-15 2-18 0-21 0-12-1-9-4-2-3 1-3 7-5 21-8zM134 141l13-2 21 0 27 0 18 1 9 3 8 4 4 6 1 6-3 6-4 3-6 3-12 3-39 1-33-2-9-2-6-3-3-3-3-6 0-6 4-6 5-3zM135 216l15-2 21 0 27 0 15 2 9 2 7 4 4 6 0 6-2 4-6 5-6 2-12 3-33 1-33-2-15-4-6-5-2-4 0-6 4-6 4-3z"/><path fill="#f1f7fc" d="M162 81l12-2 9 1 13 4 5 3 2 3-2 3-3 1-15 2-18 0-15-3-2-3 2-3zM137 141l13-2 24 0 24 0 15 2 9 2 7 4 4 6 1 6-3 6-4 3-6 3-11 3-39 1-33-2-8-2-7-3-5-6-1-6 2-6 3-3 7-4zM138 216l12-1 21-1 24 0 15 2 12 3 5 3 3 3 1 6-2 6-4 3-6 3-9 3-15 1-18 1-18 0-15-2-9-2-9-4-3-3-3-6 1-6 3-3 4-3z"/><path fill="#ebf4fb" d="M139 141l14-1 24-1 21 1 15 1 9 3 6 3 5 6 0 6-3 6-4 3-6 3-10 2-39 2-21-1-12-1-9-3-6-3-4-5-1-6 2-5 3-4 6-3zM141 216l15-1 21-1 33 2 11 3 4 3 3 3 1 6-1 3-6 5-6 3-12 3-27 2-30-2-12-3-6-3-6-5-1-3 1-6 3-3 5-3z"/><path fill="#e7f2fa" d="M142 141l14-1 24-1 18 1 15 2 9 2 6 4 4 5 0 6-3 6-3 3-7 3-9 2-15 1-24 1-21-1-12-1-9-3-6-4-3-4-1-6 2-6 5-4 6-3zM144 216l30-1 33 1 12 3 5 3 2 3 1 6-2 3-6 5-6 3-12 2-27 2-27-2-15-5-6-5-2-3 1-6 3-3 5-3z"/><path fill="#e3f0f9" d="M145 141l17-1 21 0 18 0 12 2 9 3 6 4 3 4 1 6-4 6-6 4-9 3-12 2-24 1-27-1-15-2-8-4-4-3-3-6 0-6 2-3 4-3 5-3zM147 216l33-1 27 2 9 2 6 3 2 3 1 3 0 3-2 3-4 3-9 4-15 3-15 1-18-1-15-2-12-3-7-5-2-6 1-3 3-3 5-3z"/><path fill="#dfeef9" d="M147 141l36-1 18 1 12 2 9 3 6 4 2 3 1 6-3 6-9 5-9 3-15 1-30 0-21-1-12-3-8-5-4-6 1-6 2-3 9-6zM151 216l29-1 24 2 10 2 5 3 3 3 1 3 0 3-3 3-7 5-12 3-15 2-18 0-18-2-12-3-7-5-2-3-1-3 1-3 3-3 6-3z"/><path fill="#dbecf8" d="M151 141l35-1 27 3 9 3 5 4 2 3 1 6-3 6-8 5-9 2-15 2-27 0-21-1-12-2-7-3-4-3-3-6 1-6 2-3 4-3 6-3zM156 216l27 0 21 1 8 2 6 3 3 3 0 3-1 3-2 3-8 4-12 3-18 2-18 0-15-3-9-3-5-3-2-3-1-3 1-3 2-3 8-3z"/><path fill="#d7eaf7" d="M154 141l35 0 24 3 9 3 4 3 2 3 1 6-3 6-4 3-6 3-12 2-18 1-27 0-18-2-12-4-6-6-1-3 1-6 6-6 9-3zM161 216l25 0 18 2 6 1 6 3 3 3 0 3-1 3-3 3-8 4-12 3-15 1-15 0-15-2-12-4-5-5-1-3 1-3 2-3 9-3z"/><path fill="#d3e8f6" d="M158 141l31 0 24 3 8 3 4 3 3 3 1 6-4 6-9 5-12 3-18 1-27 0-18-2-11-4-6-6-1-3 1-6 6-6 11-4zM171 216l21 1 15 2 7 3 3 3 0 3-1 3-3 3-6 3-15 3-15 1-15 0-15-3-9-4-3-3-1-3 0-3 3-3 7-3 12-2z"/><path fill="#d0e6f5" d="M164 141l28 0 21 3 7 3 5 3 2 3 1 6-3 6-9 5-12 2-18 2-27 0-18-2-10-4-7-6-1-6 1-3 7-6 13-4zM146 219l25-2 27 1 7 1 7 3 3 3 0 3-1 3-4 3-12 4-18 3-21-1-12-3-6-3-4-3-1-3 0-3 3-3z"/><path fill="#cce4f4" d="M141 144l12-2 18-1 21 1 15 1 9 3 8 4 2 3 1 6-3 6-5 3-12 4-30 2-33-2-12-4-5-3-3-6 1-6 3-3 4-3zM149 219l25-2 24 1 12 4 3 3 1 3-2 3-4 3-13 4-18 2-18-1-15-5-5-3-1-2 0-4 3-3z"/><path fill="#c6e1f3" d="M142 144l11-2 18-1 18 1 15 1 12 3 6 4 3 3 2 6-4 6-4 3-15 4-30 2-30-2-12-4-4-3-3-6 1-6 2-3 5-3zM151 219l23-2 24 2 10 3 4 3 0 3-2 3-4 3-11 3-18 2-18-1-13-4-5-3-2-3 1-3 3-3z"/><path fill="#bddef2" d="M146 144l28-2 30 2 9 2 8 4 3 3 1 6-1 3-5 5-6 2-9 3-30 1-29-2-10-3-5-3-3-3-1-6 2-3 4-4 6-3zM159 219l15-1 18 1 11 3 4 3 0 3-3 4-9 3-9 2-12 0-12-1-9-2-6-3-3-3 0-3 4-3z"/><path fill="#b5daf0" d="M150 144l27-2 27 3 9 2 6 3 3 3 1 6-1 3-2 3-6 3-10 3-12 1-21 1-18-1-12-2-9-5-3-3-1-3 2-6 3-3 5-3zM154 222l14-2 18 0 12 2 4 3 0 3-3 3-10 3-12 1-12 0-12-4-4-3 0-3z"/><path fill="#acd7ef" d="M155 144l25-1 24 2 13 5 3 3 2 3 0 3-1 3-3 3-6 3-13 3-16 1-21 0-15-2-9-2-5-3-2-3-2-3 1-3 1-3 4-3 9-4zM161 222l13-1 15 1 7 3 0 3-5 3-8 2-9 0-9-1-5-1-5-3 0-3z"/><path fill="#a4d3ed" d="M162 144l24 0 18 2 6 2 6 3 4 5 0 3-1 3-3 3-6 3-12 3-15 1-18 0-15-2-12-3-6-5-1-3 0-3 2-3 4-3 10-4zM162 225l12-2 9 0 6 2 0 3-12 3-12-2-3-1z"/><path fill="#9bd0ec" d="M147 147l12-2 12-1 27 2 9 2 6 3 5 5 1 3-2 3-3 3-6 3-7 2-24 2-24-2-9-2-6-2-4-4-1-3 0-3 2-3 4-3z"/><path fill="#92cdeb" d="M150 147l24-2 24 1 9 3 6 3 4 4 0 3-1 3-4 3-7 3-7 2-21 1-24-1-7-2-7-3-3-3-2-3 1-3 3-4z"/><path fill="#8ac9e9" d="M153 147l21-2 24 2 9 3 6 3 2 3 0 3-1 3-3 3-7 3-21 3-15 0-15-2-9-2-7-5-1-3 0-3 3-3 5-3z"/><path fill="#81c4e8" d="M157 147l20-1 21 2 8 2 5 3 2 3 1 3-2 3-2 2-6 3-9 2-12 1-15 0-15-1-10-4-4-3-1-3 0-3 3-3 6-3z"/><path fill="#79bfe6" d="M162 147l18-1 18 3 11 4 3 3 0 3-1 3-7 4-9 3-12 1-15 0-14-2-9-3-4-3-2-3 1-3 2-3 8-4z"/><path fill="#6eb8e4" d="M169 147l17 0 15 3 6 3 3 3 0 3-1 3-5 3-10 3-11 1-26-1-10-3-5-3-1-3 0-3 3-3 9-4z"/><path fill="#61b1e2" d="M155 150l19-2 18 1 12 4 3 3 1 3-2 3-4 3-10 3-15 1-18-1-9-3-5-3-2-3 1-3 3-3z"/><path fill="#54aadf" d="M160 150l14-1 18 1 9 3 3 3 1 3-1 3-6 3-18 3-21-1-6-2-5-3-2-3 1-3 4-3z"/><path fill="#53a4dd" d="M166 150l14 0 12 1 5 2 4 3 2 3-2 3-7 3-20 2-17-2-6-3-2-3 1-3 4-3z"/><path fill="#5ca0dc" d="M158 153l13-2 15 0 9 3 4 2 1 3-3 3-7 3-13 1-12 0-11-4-2-3 1-3z"/><path fill="#669bdb" d="M163 153l11-1 12 1 9 3 2 3-3 3-8 3-18 0-11-3-2-3 1-3z"/><path fill="#6f97da" d="M170 153l10 0 6 1 5 2 2 3-4 3-12 2-15-2-4-3 2-3z"/><path fill="#7893d8" d="M165 156l6-1 9 0 6 1 3 3-5 3-13 1-4-1-5-3z"/><path fill="#8091d7" d="M169 159l5-2 3 0 6 2-6 2z"/></g></svg>
<svg x="1447.8" y="30.5" width="117.0" height="117.1" viewBox="0 0 351.0 351.3" fill-rule="evenodd"><g filter="url(#wb)"><path fill="#fef7f9" d="M95 30l7-2 3 1 1 4-19 48-2 9 1 9 2 6 7 6 10 5 15 3 51 3 47-2 23-3 15-6 5-4 3-5 2-6 0-6-7-21-14-33 0-6 4-2 9 3 6 5 6 6 9 15 11 27 5 6 8 5 6 1 9-3 7-6 14-19 3-2 3-2 6 0 0 213-9 3-9-1-6-3-18-11-12-4-9 0-15 5-6 1-3-1-9-8-6-3-6 0-27 3-39-4-42 4-27-3-6 0-6 3-9 8-3 1-6-1-15-5-9 0-12 4-18 11-6 3-9 1-9-3 0-213 6 0 3 2 3 2 14 19 7 6 9 3 6-1 8-5 5-6 11-27 6-11 9-10zM117 147l-6 1-6 2-3 3-2 3 0 6 3 6 4 3 4 2 9 2 54 1 57-1 9-2 4-2 4-3 3-6 0-6-2-3-6-4-6-2-63 1zM126 204l-15 2-6 3-3 2-3 5-1 6 1 5 3 4 6 2 6 1 60-3 66 3 6-2 3-1 3-4 1-5-1-6-4-6-5-3-9-2-45-2zM172 36l8 0 9 5 5 7 1 3 0 3-6 1-27 0-6-1 0-3 1-3 4-6 4-3zM141 63l6-1 2 1 5 12 5 7 6 2 12 1 9-1 6-2 5-7 4-11 3-2 3 0 12 5 9 7 5 7 0 6-3 3-5 1-24 0-18 5-6 1-9-1-15-4-24 0-9-2-2-3-1-3 2-6 10-9zM166 282l8-2 6 1 5 1 3 3-1 3-4 3-6 1-6 0-7-4-1-3z"/><path fill="#fdf0f4" d="M82 57l2-2 3 1 0 4-9 27 1 9 3 9 6 6 8 5 9 2 15 2 54 2 48-1 24-3 12-4 8-6 4-6 2-6 0-12-8-25 0-3 3-1 6 7 8 19 3 6 6 6 10 6 9 1 6-2 10-5 17-12 3-1 6 0 0 184-9 3-9 0-33-12-27-1-21-10-17 8-16 4-9 0-36-3-36 3-18-2-21-10-21 10-27 1-33 12-9 0-9-3 0-184 6 0 3 1 17 12 10 5 6 2 9-1 10-6 6-6 3-6 8-19zM111 147l-6 2-5 4-1 3-1 6 3 6 4 3 6 3 6 1 24 1 90-1 9-1 6-3 4-3 3-6-1-6-3-5-6-3-6-1-60 1zM117 204l-12 3-4 3-5 6-1 6 0 6 2 6 2 3 3 1 25-4 47-3 50 3 25 4 3-1 2-3 2-6 0-9-3-6-7-6-9-2-54-2zM136 69l5-1 4 1 2 2 9 14 3 2 24 0 9 0 6-6 6-10 3-3 3 0 6 1 9 6 4 6 0 3-1 3-6 2-27 0-9 4-9 2-12-2-9-4-24 1-9-3-1-3 2-6 5-5z"/><path fill="#fbe9ef" d="M133 75l5-2 6 2 3 6 0 3-3 2-6 1-6-1-3-1-1-4 1-3zM207 75l6-2 5 2 4 3 1 3 0 3-4 2-6 1-9-3 0-3zM2 90l4 0 6 1 15 8 12 4 9 0 15-3 6 0 16 14 5 3 9 3 75 2 78-2 9-3 5-3 16-14 6 0 15 3 9 0 12-4 15-8 6-1 6 0 0 165-9 3-12 1-24-7-24-5-9-3-6-4-3-4-5-17-3-6-7-6-6-2-15-2-69 0-42 0-12 3-6 3-4 4-3 6-5 17-3 4-6 4-9 3-24 5-24 7-9 0-9-3-3-1 0-165zM105 147l-5 3-2 3-1 6 1 6 2 3 5 5 12 3 102 0 18-1 6-1 6-3 4-6 1-6-1-6-2-3-5-3-6-1-57 2-66-2zM136 234l35-2 33 1 26 4 6 3 1 3-1 3-8 5-9 3-9 0-33-2-42 2-12-3-8-5-1-3 1-3 6-3z"/><path fill="#f9e2e9" d="M0 99l0-1 9-2 30 10 27 0 6 3 15 11 12 3 33-1 45 1 36-1 36 1 9-1 6-2 15-11 6-3 27 0 9-2 18-7 6-1 6 2 0 150-9 4-12 1-42-9-9-3-6-4-6-6-7-15-4-6-7-5-6-2-12 0-111 0-12 0-9 4-6 6-8 15-4 6-9 7-48 12-9 0-9-2-6-3zM102 146l-3 2-3 5-1 6 1 6 6 7 6 3 6 1 123 0 8-2 5-3 5-6 1-6-1-6-3-5-3-2-6-1-60 2-30 0-42-2zM143 234l31-2 30 2 19 3 6 3 2 3-2 3-4 3-6 2-9 2-33-2-36 2-12-2-7-5-2-3 2-3 6-3z"/><path fill="#f8dbe3" d="M3 102l9-1 24 7 27 2 6 3 18 11 6 2 6 0 24-3 21-1 75 1 36 3 9-2 18-11 6-3 27-2 24-7 6 0 6 2 0 140-9 4-12 2-12-2-33-8-6-3-6-5-12-18-6-6-9-4-9-1-123 0-12 2-6 3-6 6-12 18-9 7-12 4-30 7-9 0-9-2-9-4 0-140zM102 144l-3 2-4 4-1 6 0 6 2 6 3 3 6 4 6 1 129 0 6-1 6-4 4-6 1-6 0-6-2-4-3-3-6-3-39 3-30 1-33-1-36-3zM148 234l26-1 29 1 15 3 6 3 2 3-2 3-5 3-15 2-63 0-9-2-5-3-2-3 2-3 6-3z"/><path fill="#f6d4de" d="M0 108l6-2 6-1 26 6 22 2 9 4 18 10 9 3 24-6 27-1 75 0 12 2 21 5 9-3 18-10 9-4 22-2 23-5 6-1 6 2 3 1 0 130-9 5-12 2-12-1-27-7-9-3-6-5-18-22-6-4-6-2-87 1-48-1-9 1-6 3-6 5-14 18-7 6-6 2-18 6-18 3-9 0-9-2-9-5zM99 142l-3 2-3 6-1 9 1 6 4 6 4 3 4 2 6 1 132 0 6-2 5-4 4-6 1-6 0-6-2-6-5-5-3-1-36 5-36 1-39-1-33-5zM153 234l21-1 24 1 15 3 7 3 1 3-2 3-6 3-15 1-54 0-9-2-3-2-2-3 1-3 7-3z"/><path fill="#f5cdd9" d="M3 111l6-2 6 0 45 7 9 4 19 12 4 3 2 3-4 15 2 12 4 7 3 3 6 2 9 1 75-2 48 2 12-2 7-5 3-6 2-9-1-6-3-12 2-3 20-13 6-3 9-3 18-3 21-4 12 1 6 3 0 121-9 5-12 3-15-1-21-5-9-4-6-4-6-6-12-15-6-4-6-2-9-1-36 2-42 0-54-2-9 1-6 4-6 5-12 15-6 5-6 3-15 5-18 4-9 0-9-1-6-3-6-4 0-121zM117 126l24-3 75 1 12 1 9 2 10 5 1 3-2 3-8 3-19 4-36 2-36-1-20-2-14-3-8-3-2-3 1-3 5-3zM159 234l18-1 18 2 14 2 6 3 1 3-3 3-3 1-18 2-45-1-9-2-3-3 1-3 6-3z"/><path fill="#f3c7d4" d="M4 114l8-2 6 0 36 6 9 2 9 5 10 7 6 6 1 6 0 12 1 9 6 9 6 4 9 1 33-2 45 0 51 2 11-2 7-6 3-6 1-6 0-15 1-6 6-6 10-7 9-5 9-2 36-6 6 0 6 1 6 4 0 113-9 6-12 3-15-1-18-4-15-7-6-5-16-18-5-3-6-2-39 3-39 0-36-1-30-2-6 1-6 2-6 5-15 18-12 7-15 4-15 3-9 0-9-2-6-3-6-4 0-113zM122 126l25-2 69 0 13 2 8 3 4 3 1 3-2 3-6 3-18 4-33 2-36-1-21-3-9-2-6-3-2-3 1-3 3-3zM166 234l19 0 16 3 10 3 1 3-5 3-3 1-24 1-30-1-6-1-5-3 1-3 7-3z"/><path fill="#f2c0ce" d="M5 117l7-2 6 0 30 4 12 3 12 6 9 7 4 6 3 21 4 9 4 5 6 3 9 1 33-3 36 0 33 0 30 3 9-2 6-5 5-11 3-21 4-6 9-7 9-5 12-4 30-4 12 1 9 4 0 106-9 7-12 4-12-1-18-4-9-3-7-4-8-6-15-17-6-3-6-2-33 4-39 1-41-1-34-4-6 2-6 3-18 19-12 8-12 4-15 3-9 1-9-2-9-4-6-5 0-106zM126 126l21-2 66 1 18 3 7 4 1 3-2 3-6 3-18 4-33 2-33-1-21-3-6-2-6-3-2-3 1-3 4-3zM151 237l20-2 15 0 14 2 7 3 0 3-9 3-21 1-24-1-9-3 0-3z"/><path fill="#f0b9c9" d="M5 120l10-3 15 1 24 4 9 4 6 3 8 6 5 6 2 6 3 18 5 9 4 5 6 2 36-3 39-1 39 1 30 3 6-1 3-1 4-5 5-9 3-18 2-6 5-6 8-6 9-5 12-3 27-4 12 2 9 5 0 99-9 7-12 4-12 0-15-3-9-3-9-5-6-4-18-19-9-5-36 6-39 1-42-1-36-6-9 5-18 19-12 8-9 3-15 4-12 0-9-1-9-5-6-5 0-99zM130 126l23-2 60 1 9 1 9 3 4 3 1 3-2 3-6 3-15 3-33 2-33-1-18-2-6-2-6-3-2-3 1-3 4-3zM156 237l15-2 12 1 12 1 7 3-1 3-15 3-24 0-13-3 0-3z"/><path fill="#efb3c4" d="M13 120l11 0 24 3 12 4 9 5 7 6 4 6 6 21 4 10 6 7 6 1 30-5 39-1 45 1 17 2 13 3 6 0 6-4 5-8 3-9 3-15 3-6 10-9 9-5 12-4 24-3 12 0 6 3 6 4 0 92-9 8-12 5-12 0-15-3-9-3-9-5-6-5-18-19-6-4-3 0-30 7-45 2-45-2-13-2-20-5-3 0-6 4-21 22-12 7-9 3-12 3-9 0-9-1-9-4-9-8 0-92 6-4zM134 126l19-1 57 0 9 1 9 3 4 3 1 3-1 3-4 2-9 3-12 2-21 1-24 0-21-2-16-3-6-3-1-3 1-3 4-3zM161 237l22-1 7 1 7 3-2 3-18 2-21-2-2-3z"/><path fill="#ecabbe" d="M10 123l8-2 9 0 18 3 12 3 14 8 5 6 4 6 7 24 6 11 4 4 0 3-10 8-18 19-12 8-18 6-15 0-12-3-6-4-6-6 0-87zM311 123l16-2 9 1 9 3 6 5 0 87-9 8-12 5-9 0-9 0-12-3-9-4-9-7-18-19-10-8 0-3 4-4 6-10 7-25 5-8 6-5 9-6 9-3zM137 126l19-1 54 1 16 3 5 3 1 3-2 3-6 3-5 2-12 2-21 1-24 0-21-2-14-3-6-3-2-3 1-3 6-3zM160 177l38 0 27 2 17 4 6 3 2 3-11 6-14 4-18 2-30 0-30 0-21-2-14-4-11-6 2-3 6-3 12-3 17-2zM167 237l17 0 9 3-5 3-11 1-14-1-5-3z"/><path fill="#eaa1b6" d="M11 126l7-2 9 0 24 4 9 3 6 4 6 6 5 6 12 36 0 6-17 21-7 6-8 5-9 4-9 2-15 0-6-1-7-4-5-3-6-7 0-77 6-6zM144 126l48 0 18 0 13 3 5 3 1 3-2 3-5 3-9 2-15 2-21 1-24-1-15-2-9-2-5-3-2-3 1-3 5-3zM308 126l16-2 12 1 9 4 6 6 0 77-9 9-6 4-6 2-9 1-9-1-12-3-9-4-9-7-6-6-12-15-2-6 11-36 6-9 6-6 6-4 9-3zM125 180l34-3 51 1 16 2 11 3 5 3 1 3-2 3-6 3-9 3-10 2-33 1-42-1-15-2-9-2-7-4-2-3 1-3 5-3z"/><path fill="#e697af" d="M154 126l41 0 15 1 12 3 3 2 1 3-2 3-5 3-6 2-15 2-21 1-21-1-15-2-9-2-5-3-2-3 1-3 6-3 9-2zM12 129l6-2 9 0 12 1 12 3 9 4 6 4 5 5 4 6 10 30 0 6-1 3-5 9-10 11-6 6-9 5-9 3-9 2-9 0-6-1-6-3-6-4-9-10 0-68 6-6zM306 129l15-2 12 0 9 4 9 8 0 68-9 10-6 4-6 3-9 1-9-1-12-3-9-4-8-7-8-9-7-9-2-6 0-6 7-22 6-13 6-6 6-4zM128 180l34-2 48 1 13 1 11 3 4 3 1 3-2 3-5 3-9 3-10 2-30 1-39-1-18-2-7-3-5-3-2-3 1-3 4-3z"/><path fill="#e48da7" d="M135 129l21-2 45 0 15 2 6 3 2 3-2 3-6 3-15 3-21 1-24 0-18-3-9-4-2-3 2-3zM13 132l8-2 9-1 12 2 9 2 6 3 8 5 5 6 4 6 7 24 1 6-1 6-5 9-7 8-6 5-9 6-9 3-9 2-9 0-6-1-6-3-6-4-9-12 0-58 6-7zM303 132l18-3 12 1 10 5 8 9 0 58-9 12-6 4-6 3-9 1-9 0-9-3-9-4-8-5-6-6-7-9-3-6-1-6 1-6 5-18 4-9 4-6 5-4 6-4zM131 180l31-2 45 1 13 1 11 3 4 3 1 3-2 3-4 3-8 3-15 2-18 1-30 0-21-2-12-2-9-5-2-3 1-3 4-3z"/><path fill="#e184a0" d="M138 129l21-2 42 0 15 3 4 2 1 3-1 3-6 3-13 3-21 1-24-1-18-3-7-3-1-3 1-3zM23 132l10 0 12 2 9 3 7 4 6 6 4 6 4 9 3 12 1 12-3 6-6 9-7 7-6 5-15 6-12 1-6-1-7-3-5-3-6-6-6-10 0-47 3-6 6-6 6-4zM315 132l12 0 9 2 9 7 6 9 0 47-6 10-6 6-9 5-9 2-15-2-9-4-6-3-6-5-7-8-5-9-1-6 1-9 3-12 4-9 4-6 6-6 7-4 9-3zM133 180l32-2 42 1 11 1 10 3 5 3 1 3-2 3-5 3-8 3-12 1-18 1-27 0-21-1-15-3-7-4-2-3 1-3 5-3z"/><path fill="#df7d9a" d="M142 129l20-2 36 1 15 2 4 2 2 3-1 3-5 2-12 3-21 2-22-1-18-3-7-3-1-3 2-3zM20 135l7-1 9 0 9 2 9 4 7 4 5 5 7 13 2 9 1 9 0 6-3 6-3 6-7 7-6 5-9 5-15 2-9-1-6-2-6-4-5-6-6-12-1-36 4-9 5-6 6-4zM310 135l14-1 12 3 9 8 6 11 0 34-2 5-4 8-6 7-6 4-9 3-6 0-9-1-9-3-6-3-6-5-7-7-5-9-1-6 0-9 2-9 4-9 3-6 10-9 9-4zM136 180l32-2 39 1 9 1 10 3 5 3 1 3-2 3-2 1-9 4-12 2-18 1-27 0-21-1-12-3-8-4-2-3 1-3 5-3z"/><path fill="#dd7695" d="M146 129l19-1 33 0 12 2 5 2 2 3-2 3-6 3-26 3-30-1-11-2-6-3-2-3 2-3zM19 138l8-1 9 0 15 4 6 3 6 5 7 13 4 15 0 6-2 6-3 6-6 7-6 5-9 5-6 2-9 1-12-3-6-3-5-5-7-12-3-12 0-13 1-8 4-9 4-5 4-4zM307 138l8-1 9 0 6 1 6 2 5 4 4 5 5 13 1 18-4 15-4 6-5 6-5 4-9 3-6 1-9-1-12-5-6-4-6-6-5-7-2-6-1-6 1-9 3-9 4-9 9-9zM138 180l33-2 36 1 17 4 5 3 1 3-2 3-9 4-12 3-18 1-24 0-21-1-15-3-6-4-2-3 1-3 5-3z"/><path fill="#db6f8f" d="M150 129l21-1 27 1 12 2 2 1 3 3-2 3-6 3-24 3-27-1-12-2-6-3-2-3 3-3zM19 141l5-2 9 0 15 3 6 3 6 5 5 6 3 6 3 15 0 6-2 6-3 6-5 6-7 6-6 3-6 2-9 1-11-3-5-3-5-4-7-11-3-15 1-15 2-6 4-7 5-5zM305 141l13-2 9 0 5 2 5 3 5 5 5 10 2 9 0 9-3 15-4 7-4 5-5 4-6 3-12 1-9-1-6-3-6-3-6-6-5-7-2-6-1-12 2-9 3-7 3-5 6-6zM141 180l30-2 33 1 18 4 5 3 1 3-3 4-9 4-12 2-18 1-24 0-18-2-12-2-7-4-2-3 1-3 5-3z"/><path fill="#da6b89" d="M156 129l39 0 15 3 3 3-2 3-7 3-27 3-15-1-15-2-7-3-2-3 3-3zM29 141l7 0 9 2 6 3 6 4 7 9 3 6 2 9-1 12-3 6-4 6-10 8-12 4-12-1-10-5-8-9-3-7-2-8 1-15 4-12 3-4 6-5zM315 141l12 1 6 2 4 3 7 9 2 6 1 9-1 15-3 6-4 7-9 8-6 2-6 1-12-2-12-6-8-10-3-6-1-6 0-6 2-9 7-12 9-7 6-3zM143 180l31-1 30 1 16 3 5 3 1 3-1 3-9 4-12 2-18 2-24-1-17-1-13-3-6-3-1-3 1-3 5-3z"/><path fill="#de7786" d="M146 132l16-2 24-1 18 3 5 3-1 3-8 3-17 2-15 0-17-2-8-3-1-3zM21 147l6-2 6 0 12 2 10 6 7 9 3 12 0 6-1 6-3 6-4 5-9 6-12 3-9-1-9-5-4-5-4-6-3-12 1-12 2-6 4-6zM305 147l10-2 12 1 9 6 3 4 3 6 1 6 1 9-3 12-4 6-4 5-9 5-9 1-12-3-9-6-4-5-3-6-1-6 0-6 3-12 7-9zM147 180l30-1 27 1 14 3 5 3 1 3-2 3-3 2-9 3-12 2-21 0-21 0-15-2-9-3-3-2-2-3 1-3 5-3z"/><path fill="#e18383" d="M150 132l15-2 21 0 15 2 5 3-1 3-9 3-13 1-15 0-13-1-9-3-1-3zM25 150l5-1 6 0 9 2 8 5 6 9 2 6 1 6-2 9-6 8-9 6-9 2-9-1-9-6-5-9-2-9 1-12 5-9zM308 150l10-2 9 2 7 6 5 9 1 12-3 12-7 9-9 4-9 0-9-3-8-7-5-9-1-6 1-6 3-9 7-8zM151 180l26-1 24 1 14 3 5 3 2 3-2 3-10 4-13 2-20 1-18 0-15-2-9-3-4-2-2-3 2-3 5-3z"/><path fill="#e48e7f" d="M156 132l15-1 15 0 9 1 7 3-1 3-10 3-23 1-8-1-10-3-1-3zM30 153l9 0 7 3 7 6 4 9 0 9-3 8-6 6-9 4-9-1-6-2-6-7-3-8 0-9 3-9 5-6zM312 153l9 0 7 3 5 6 3 9 0 9-4 9-6 6-8 3-9-1-6-3-6-6-3-8 0-9 4-9 7-6zM155 180l25-1 21 2 12 2 5 3 1 3-2 3-10 4-15 2-15 1-18-1-15-2-10-4-2-3 1-3 5-3z"/><path fill="#e89a7b" d="M165 132l21 0 12 3-1 3-14 3-16 0-13-3-1-3zM27 159l6-2 9 2 6 4 3 5 2 9-2 6-3 5-6 4-6 1-6-1-6-4-3-5-2-9 1-6 3-6zM308 159l7-2 6 1 6 4 4 6 1 6-2 9-3 5-6 4-6 1-6-1-6-4-3-5-2-6 2-9 3-5zM160 180l23 0 18 1 12 4 3 1 1 3-2 3-8 3-12 2-18 1-18 0-15-3-8-3-2-3 1-3 6-3z"/><path fill="#eaa478" d="M158 135l7-1 12-1 16 2 0 3-16 2-9 0-10-2zM29 165l7-2 6 2 3 3 2 6 0 3-2 6-3 3-3 1-6 0-6-4-2-9 1-6zM309 165l6-2 3 1 4 1 3 3 1 3 0 6-2 6-4 3-5 1-3 0-6-4-1-3-1-3 1-6zM167 180l19 0 18 2 10 4 1 3-2 3-7 3-14 2-15 1-15-1-15-1-9-4-2-3 1-3 6-3z"/><path fill="#ebad76" d="M165 135l9-1 12 1 1 3-10 1-9 0-4-1zM146 183l22-2 24 0 13 2 7 3 1 3-3 4-12 3-18 1-21 0-11-2-8-3-2-3 1-3z"/><path fill="#ecb675" d="M148 183l20-2 24 1 12 2 6 2 1 3-4 4-12 3-18 1-18-1-8-1-7-2-4-4 1-3z"/><path fill="#ecbd72" d="M151 183l20-2 21 1 12 3 4 1 1 3-2 3-12 3-18 2-18-1-12-3-3-1-2-3 1-3z"/><path fill="#eec370" d="M154 183l17-1 21 0 12 3 2 1 1 3-3 3-6 2-21 2-21-1-9-3-3-3 1-3z"/><path fill="#e4be6b" d="M156 183l18-1 18 1 12 3 1 3-3 3-7 2-18 2-21-2-7-2-3-3 1-3z"/><path fill="#d0af64" d="M162 183l15-1 12 1 12 3 2 3-4 3-4 1-18 2-12 0-9-2-4-1-4-3 2-3z"/><path fill="#bd9f5e" d="M169 183l20 1 8 2 2 3-4 3-18 3-18-2-3-1-4-3 2-3z"/><path fill="#a99057" d="M157 186l11-2 12 0 14 2 2 3-5 3-5 1-18 0-8-1-5-3z"/><path fill="#998250" d="M162 186l9-1 12 0 6 1 4 3-7 3-18 1-10-4z"/><path fill="#887549" d="M168 186l15 0 5 3-11 3-6 0-8-3z"/><path fill="#f7fbfd" d="M128 36l7-3 6 1 2 2 1 3-3 9-7 9-26 19-3 1-1-2-1-6 5-13 9-12zM208 36l2-2 3-1 6 1 9 5 7 6 7 9 4 9 2 9-1 3-1 2-6-3-26-20-5-9-2-6zM49 39l5-2 3 0 3 4 0 8-3 14-5 12-4 6-6 2-4-2-4-6-1-6 0-6 3-9 3-5 6-7zM292 39l2-2 3 0 6 3 6 5 6 9 3 9 0 7-2 8-4 4-3 1-6-2-6-9-6-21 0-6zM166 63l5-2 6 0 9 2 4 3 1 3-1 6-4 4-6 2-9 0-6-2-4-4-1-3 0-3 1-3zM123 96l24-1 21 4 9 0 24-4 9-1 24 3 12-1 2 3-1 6-5 6-5 3-9 3-28 3-32 1-27-2-18-2-9-3-5-3-3-3-3-6 0-3 2-3zM110 150l7-2 12 0 102 0 9 2 6 3 2 3 1 6-4 6-4 3-13 3-45 2-57-1-15-3-5-4-3-3-1-6 1-3 2-3zM137 204l52 0 39 1 9 2 6 3 3 3 2 6-3 6-4 3-7 2-12 1-45-1-54 1-13-3-4-3-2-3 0-6 1-3 6-5 9-2zM160 258l11-1 12 0 8 1 19 5 18 3 5 1 2 3 0 3-2 3-5 5-9 2-6-1-15-7-21-2-21 2-7 1-14 7-6 0-8-4-5-6 0-3 2-3 2-1 21-3z"/><path fill="#f1f7fc" d="M123 48l6-1 1 1 0 3-4 5-6 4-3 1-1-1 1-6zM221 48l1-1 3 0 6 4 3 3 1 6-1 1-3-1-5-3-5-6zM167 66l7-2 6 1 6 3 1 4-1 3-5 3-4 1-7-1-5-3-1-3 0-3zM136 96l11 0 21 4 9 0 24-4 12 0 18 3 7 3 2 3-1 3-2 3-4 3-8 3-15 2-27 1-25 0-29-3-11-3-4-3-2-3-1-3 2-3 4-2zM113 150l7-1 12-1 96 0 9 2 6 2 3 4 1 6-3 6-4 3-15 3-48 1-51-1-14-3-5-3-2-3-1-6 1-3 2-3zM143 204l52 0 33 2 6 1 7 3 3 3 2 6-3 5-6 4-6 1-12 1-93 0-12-2-5-3-3-3 0-6 1-3 7-5 12-3zM172 258l8 0 13 3 6 3 2 3-6 3-18 1-18-1-9-3 2-3 6-3z"/><path fill="#ebf4fb" d="M171 69l6-1 3 1 2 3-4 3-5 0-4-3zM128 99l10-2 9 0 21 4 9 0 24-4 12 0 10 2 8 3 3 3 0 3-1 3-5 3-15 4-33 2-33-1-18-3-6-2-5-3-1-3 0-3 3-3zM116 150l22-2 90 1 7 1 7 3 3 3 1 6-4 6-5 3-15 3-45 1-48-1-15-3-5-3-3-3-1-6 1-3 3-3zM150 204l45 0 30 2 6 1 7 3 4 3 1 6-1 3-4 3-4 2-9 2-15 1-66 0-15-1-12-2-6-3-3-5 1-6 4-3 4-2 12-2zM170 261l11 0 5 3-9 3-6-1-6-2z"/><path fill="#e7f2fa" d="M135 99l12-1 21 4 9 0 24-3 12 0 12 3 4 3 1 3-1 3-4 3-9 3-36 3-18-1-25-2-11-3-4-3-1-3 1-3 4-3zM119 150l22-1 84 0 9 2 6 2 3 3 2 6-4 6-4 2-15 4-45 1-48-1-13-3-6-3-3-3-1-6 2-3 3-3zM157 204l41 0 27 3 11 3 3 3 2 3 0 3-4 5-6 3-12 2-15 0-60 0-15 0-13-4-4-3-2-3 0-3 2-3 3-3 5-2 12-2z"/><path fill="#e3f0f9" d="M130 102l8-2 9 0 30 3 24-3 9 0 11 2 5 3 1 3-1 3-5 3-12 3-26 2-24 0-17-2-12-3-5-3-1-3 1-3zM122 150l25-1 78 1 13 3 4 3 1 6-1 3-5 5-6 2-12 2-42 1-45-1-15-3-5-3-3-3-1-6 1-3 5-4zM165 204l36 1 24 2 9 3 3 3 2 3-1 3-4 5-6 2-12 2-15 1-69-1-13-3-4-3-2-3-1-3 2-3 3-3 9-3 15-2z"/><path fill="#dfeef9" d="M135 102l12-1 30 3 30-3 12 2 3 2 2 3-1 3-5 3-14 3-24 2-21-1-21-3-5-1-5-3-1-3 2-3zM125 150l25-1 72 1 15 3 3 3 2 3 0 3-2 4-6 4-15 4-42 1-45-1-15-4-6-4-2-4 0-3 2-3 3-3zM128 207l16-2 21-1 45 2 13 1 8 3 4 3 2 3-1 3-5 5-6 2-9 2-18 1-60-1-16-3-5-3-2-3-1-3 2-3 3-3z"/><path fill="#dbecf8" d="M143 102l34 3 30-3 9 2 2 1 3 3-1 3-6 3-16 3-15 1-30-1-16-3-6-3-1-3 3-3zM128 150l31-1 63 1 9 2 6 3 4 4 0 3-1 3-3 3-7 3-23 3-33 1-33-1-18-2-9-4-3-3-1-3 0-3 2-3 5-3zM131 207l34-2 42 1 13 1 8 2 6 4 1 3-1 3-3 4-6 2-9 2-21 1-57-1-12-2-7-3-2-3-1-3 1-3 4-3z"/><path fill="#d7eaf7" d="M137 105l10-2 30 3 27-3 9 2 4 3-1 3-9 4-16 2-23 0-28-3-5-3-1-3zM132 150l51-1 36 1 9 2 6 2 4 2 2 3 0 3-1 3-4 3-7 3-12 2-21 1-36 1-24-2-15-3-4-2-4-3-1-3 0-3 3-3 6-4zM133 207l35-2 39 1 11 1 10 3 4 3 1 3-1 3-4 4-6 2-9 2-21 1-51-1-15-3-4-2-3-3-1-3 1-3 4-3z"/><path fill="#d3e8f6" d="M142 105l8 0 27 2 27-2 6 1 4 2-1 3-7 3-20 3-15 0-24-2-9-4-1-3zM136 150l56-1 27 1 9 2 6 3 4 4 1 3-2 3-3 3-7 3-14 2-21 1-33 0-24-1-12-2-6-3-3-3-2-3 1-3 4-4 6-3zM136 207l32-2 39 1 8 1 11 3 4 3 1 3-1 3-2 3-6 2-9 2-15 1-57 0-12-3-5-2-3-3-1-3 1-3 4-3z"/><path fill="#d0e6f5" d="M141 108l9-2 24 2 27-2 9 2-1 3-8 3-24 2-27-2-8-3zM140 150l55 0 24 1 9 2 6 2 3 4 1 3-2 3-3 3-8 3-12 2-21 1-33 0-24-1-12-3-5-2-3-3-2-3 1-3 3-4 9-3zM138 207l33-2 36 1 17 4 4 3 2 3-1 3-7 5-9 2-15 1-39 0-18-1-12-2-7-5-1-3 2-3 4-3z"/><path fill="#cce4f4" d="M148 108l29 1 24-1 2 0 1 3-12 3-27 1-8-1-10-3zM145 150l50 0 24 1 9 2 6 3 2 3 0 3-1 3-3 3-8 3-14 2-19 1-31 0-22-1-15-3-7-5-1-3 0-3 5-5 9-2zM140 207l31-2 33 1 18 4 5 3 1 3-1 3-2 2-6 3-9 2-15 1-51-1-12-2-8-5-1-3 1-3 5-3z"/><path fill="#c6e1f3" d="M153 111l6-1 33 0 6 1-21 3-8 0zM149 150l49 0 21 1 8 2 6 3 2 3 1 3-2 3-3 3-9 3-18 2-27 1-30-1-18-2-9-3-3-3-2-3 1-3 2-3 6-3 11-2zM142 207l29-2 33 2 17 3 4 3 2 3-1 3-7 4-9 2-15 1-51 0-12-3-7-4-1-3 2-3 4-3z"/><path fill="#bddef2" d="M128 153l13-2 15-1 54 1 12 2 6 2 5 4 0 3-1 3-4 3-9 3-9 1-33 2-33-1-15-3-6-2-4-3-1-3 0-3 3-3zM147 207l27-1 30 1 13 3 5 3 1 3-1 3-6 3-9 2-15 2-45-1-12-3-6-3-1-3 1-3 5-3z"/><path fill="#b5daf0" d="M132 153l27-2 48 0 12 2 6 2 5 4 1 3-2 3-4 3-15 4-30 2-33-1-15-3-6-2-4-3-2-3 1-3 3-3zM153 207l21-1 24 1 15 3 5 3 2 3-4 4-9 3-30 2-21 0-12-2-9-3-4-4 2-3 5-3z"/><path fill="#acd7ef" d="M136 153l29-2 42 1 9 1 8 3 4 3 1 3-2 3-4 3-16 4-30 1-30-1-15-3-8-4-2-3 1-3 4-3zM159 207l24 0 18 1 9 2 5 3 1 3-2 3-7 3-12 2-18 0-30-1-10-4-2-3 1-3 5-3z"/><path fill="#a4d3ed" d="M140 153l31-2 36 2 15 3 4 3 0 3-1 3-9 5-12 2-18 1-24 0-18-2-12-2-6-4-1-3 0-3 4-3zM168 207l18 0 18 3 8 3 1 3-3 3-9 3-24 2-27-2-9-3-3-3 1-3 6-3z"/><path fill="#9bd0ec" d="M144 153l27-1 33 1 15 3 4 3 1 3-2 4-9 4-9 1-18 2-21 0-19-2-13-3-5-3-1-3 2-4 6-3zM149 210l19-2 21 0 13 2 7 3 1 3-3 3-13 3-17 1-18-1-12-2-3-1-3-3 1-3z"/><path fill="#92cdeb" d="M148 153l29-1 26 1 14 3 4 3 1 3-1 3-8 4-11 2-16 1-37-1-14-3-5-3-1-3 1-3 2-2 6-2zM153 210l18-2 21 1 6 1 8 3 1 3-4 3-11 2-15 1-15 0-14-3-4-3 1-3z"/><path fill="#8ac9e9" d="M153 153l24-1 24 1 13 3 5 3 1 3-1 3-9 4-12 2-21 1-21-1-12-1-9-3-3-2-1-3 1-3 5-3zM157 210l17-1 18 1 10 3 1 3-5 3-3 1-18 2-21-2-3-1-5-3 1-3z"/><path fill="#81c4e8" d="M158 153l28 0 18 1 9 3 4 2 2 3-2 3-10 4-13 2-17 1-20-1-13-2-10-4-2-3 2-3 5-3zM162 210l12-1 15 1 10 3 1 3-7 3-16 2-18-2-8-3 1-3z"/><path fill="#79bfe6" d="M167 153l22 0 15 2 9 3 2 1 2 3-2 3-8 4-15 2-15 1-18-1-15-2-8-4-2-3 2-3 6-3 11-2zM171 210l9 0 9 1 6 2 1 3-9 3-10 1-13-1-9-3 1-3z"/><path fill="#6eb8e4" d="M144 156l21-2 27 0 15 2 6 3 2 3-2 3-6 3-6 1-18 2-21 0-18-3-6-3-2-3 2-3zM160 213l11-2 9 0 11 2 0 3-8 2-12 1-11-3z"/><path fill="#61b1e2" d="M148 156l20-2 24 1 15 3 3 1 2 3-2 3-12 4-18 2-18-1-14-2-7-3-2-3 2-3zM171 213l9 0 1 3-11 0z"/><path fill="#54aadf" d="M153 156l18-1 21 0 12 3 3 1 2 3-2 3-8 3-16 2-24-1-7-1-8-3-2-3 2-3z"/><path fill="#53a4dd" d="M158 156l19-1 16 1 11 3 3 3-3 3-9 3-18 2-21-2-9-3-3-3 3-3z"/><path fill="#5ca0dc" d="M165 156l15 0 12 1 9 2 3 3-3 3-6 2-18 2-18-1-9-3-3-3 3-3z"/><path fill="#669bdb" d="M154 159l14-2 15 0 14 2 4 3-3 3-9 3-21 0-15-3-3-3z"/><path fill="#6f97da" d="M158 159l13-2 12 1 10 1 5 3-3 3-6 2-18 1-15-3-3-3z"/><path fill="#7893d8" d="M162 159l21-1 6 1 5 3-3 3-5 1-18 0-8-1-3-3z"/><path fill="#8091d7" d="M170 159l11 0 9 3-4 3-9 1-12-1-4-3z"/><path fill="#898ed5" d="M166 162l11-1 8 1-8 3-6-1z"/></g></svg>
<svg x="1590.9" y="30.5" width="117.2" height="117.1" viewBox="0 0 351.6 351.3" fill-rule="evenodd"><g filter="url(#wb)"><path fill="#fef7f9" d="M134 51l10-1 12 2 9 3 6 5 6 8 8 22 6 12 10 12 9 6 9 4 12 2 12-1 27-5 9 2 6 3 10 8 7 11 6 15 2 12-1 15-4 15-6 12-11 11-9 6-6 1-6 0-21-5-12-1-12 2-12 4-12 9-7 9-6 12-8 22-5 8-10 6-15 4-12 0-12-3-12-5-9-6-9-8-9-12-4-9-3-12 1-9 2-6 19-23 6-10 4-9 2-12-2-12-4-12-6-10-17-20-3-6-2-9 2-12 7-15 7-9 6-6 9-6 9-4z"/><path fill="#fdf0f4" d="M130 63l11-1 9 0 9 3 6 4 9 10 12 20 7 9 10 9 10 6 9 3 9 2 33 1 9 2 6 4 8 6 6 9 3 9 2 12 0 12-4 15-6 10-8 8-7 4-6 2-39 2-12 3-9 4-8 6-8 9-17 27-6 7-6 5-6 2-12 3-9-1-12-3-9-4-8-6-7-7-5-8-4-9-2-9 1-6 2-9 11-19 6-13 3-10 1-9-1-11-3-11-6-13-9-16-4-9-1-6 1-9 5-12 9-12 14-10z"/><path fill="#fbe9ef" d="M128 72l10-2 9 0 9 2 6 3 9 8 22 28 8 7 9 5 18 6 30 4 13 5 8 6 4 6 5 9 2 12 0 12-2 9-5 9-7 9-9 5-6 2-34 5-17 6-10 6-7 6-25 31-9 7-12 3-9 1-9-2-6-2-9-6-6-5-7-9-3-6-2-9 0-6 1-9 13-33 3-18-2-18-14-36-1-9 0-9 5-12 7-9 9-7z"/><path fill="#f9e2e9" d="M127 78l8-2 9-1 9 2 6 2 12 9 24 26 12 9 14 6 34 7 12 5 6 5 6 7 4 9 2 9-1 12-2 9-5 9-7 7-12 6-36 8-15 6-9 6-7 6-17 20-9 9-9 5-9 2-15-1-9-4-6-3-6-6-5-7-3-6-2-9 0-12 11-33 3-18-2-18-12-36-1-9 1-6 3-9 6-9 7-6z"/><path fill="#f8dbe3" d="M133 81l8-1 6 0 12 3 9 6 25 25 12 9 14 7 30 7 12 5 7 5 8 9 3 9 2 9-1 9-3 9-6 9-6 6-13 6-30 8-15 6-14 10-19 19-9 8-9 5-12 3-6-1-9-2-12-7-9-11-4-14 1-12 9-33 2-15-2-17-9-34-1-9 1-6 2-9 7-10 9-7z"/><path fill="#f6d4de" d="M136 84l11-1 12 4 12 8 23 22 13 9 15 6 27 8 10 4 7 6 5 6 4 9 2 9-1 9-3 9-6 8-6 5-12 7-27 7-15 6-13 9-20 20-9 7-9 5-12 2-9-1-6-2-10-7-6-6-3-6-3-12 1-12 7-30 2-15-2-18-7-30-1-15 3-9 7-10 9-7z"/><path fill="#f5cdd9" d="M138 87l12 0 12 4 9 7 22 19 13 9 13 6 24 8 12 5 7 5 7 9 3 6 1 9 0 9-4 9-4 6-6 6-12 6-28 9-13 6-13 9-19 17-9 7-9 5-9 2-6 0-9-2-6-3-6-5-5-6-3-6-2-12 0-12 6-27 2-15-1-15-7-33 0-15 4-9 6-9 9-6z"/><path fill="#f3c7d4" d="M138 90l12 0 12 4 9 6 20 17 13 9 12 6 27 10 11 5 8 6 4 6 3 6 1 9 0 9-4 9-4 6-7 5-12 7-24 8-12 5-12 8-30 25-9 4-9 2-6 0-9-3-10-7-5-5-3-6-2-13 1-12 4-24 2-15-1-15-6-30 0-15 3-9 7-9 7-6z"/><path fill="#f2c0ce" d="M137 93l10-1 12 3 12 7 22 18 11 8 12 5 24 9 11 5 7 6 5 6 3 6 2 9-1 9-2 6-7 9-6 5-12 6-33 13-14 9-28 23-9 4-9 1-12-1-6-3-6-5-6-10-3-12 0-12 5-27 1-12-1-15-5-30 0-12 3-9 5-9 7-6z"/><path fill="#f0b9c9" d="M136 96l8-2 6 0 12 4 9 6 21 16 12 9 43 18 8 6 5 6 3 6 2 9-1 9-2 6-4 6-6 6-10 6-37 15-13 9-24 19-9 5-9 2-12-1-6-2-6-4-7-10-3-12 0-12 4-29 1-13-1-12-4-27 0-12 2-9 5-9 6-6z"/><path fill="#efb3c4" d="M135 99l6-2 6-1 6 1 9 3 9 5 23 18 9 6 41 18 9 6 5 6 3 6 2 9-1 9-2 6-5 6-6 6-11 6-34 15-10 6-26 20-9 5-9 2-12-1-6-3-6-5-6-9-3-12 0-12 5-36-1-15-4-27 0-12 3-9 3-6 6-6z"/><path fill="#ecabbe" d="M140 99l10-1 12 3 9 6 31 22 41 19 7 5 6 6 3 6 2 9-1 9-2 6-5 6-6 6-10 5-24 10-11 6-37 26-6 3-9 2-12-1-9-6-7-9-2-6-2-9 4-45 0-12-4-30 1-12 3-9 4-7 6-5z"/><path fill="#eaa1b6" d="M140 102l10-1 12 3 9 5 30 21 39 19 7 4 6 6 3 6 2 9-1 9-2 6-5 6-7 6-42 20-36 25-6 3-9 2-6-1-6-1-9-6-6-9-3-12 0-12 4-33-4-39 1-12 2-9 4-6 5-5z"/><path fill="#e697af" d="M139 105l11-2 12 3 12 7 29 19 34 17 7 4 6 6 3 6 2 9-1 9-2 6-5 6-7 5-39 20-33 22-9 4-9 2-6 0-6-2-8-6-5-9-3-12 3-42-3-36 0-12 3-9 3-6 4-5z"/><path fill="#e48da7" d="M139 108l5-2 6 0 6 0 9 3 35 23 34 17 7 4 6 6 4 6 2 9-1 6-1 6-4 6-7 6-9 6-31 15-32 21-9 4-6 2-6 0-6-2-9-5-5-8-3-12 0-12 2-30-2-33 0-12 2-9 3-6 3-4z"/><path fill="#e184a0" d="M147 108l9 0 12 5 30 19 35 18 8 6 5 6 3 6 1 6 0 6-2 6-4 6-7 6-9 6-30 15-30 20-9 3-6 1-6 0-6-1-9-7-5-10-2-12 2-36-2-36 1-12 3-8 5-7 7-4z"/><path fill="#df7d9a" d="M144 111l9-1 12 3 36 22 29 15 9 6 5 6 3 6 1 6 0 6-2 6-4 6-7 6-34 18-30 19-9 5-9 1-9-1-6-2-4-4-5-9-3-12 2-36-2-33 1-12 2-6 3-6 6-6z"/><path fill="#dd7695" d="M142 114l5-2 9 0 9 3 9 4 25 16 33 18 10 9 3 6 1 6 0 6-3 6-4 6-7 6-33 18-28 18-9 4-6 1-9 0-6-2-4-3-6-9-3-12 1-36-1-30 0-12 4-12 5-6z"/><path fill="#db6f8f" d="M148 114l8 0 12 3 30 19 27 14 9 6 5 6 4 6 1 6 0 6-3 6-4 6-7 6-33 18-26 16-9 4-9 2-9-2-6-4-3-3-4-10-2-12 1-30-1-33 1-9 3-9 4-6 4-3z"/><path fill="#da6b89" d="M145 117l5-1 6 0 12 3 55 31 9 6 5 6 4 6 1 6 0 6-3 6-4 6-7 6-57 33-9 4-6 1-9-1-9-5-5-8-3-12 1-72 1-6 3-7 5-5z"/><path fill="#de7786" d="M146 120l4-1 6-1 12 3 51 29 9 6 6 6 4 6 1 6 0 6-3 6-4 6-8 6-50 29-9 4-9 2-9-1-6-4-3-3-4-9-2-9 1-66 3-12 5-6z"/><path fill="#e18383" d="M146 123l7-2 6 0 9 2 9 5 48 28 8 9 3 9 0 6-3 6-5 6-6 5-48 28-9 4-6 1-9 0-8-5-6-9-2-9 0-63 1-6 3-7 3-4z"/><path fill="#e48e7f" d="M146 126l4-2 6-1 12 3 12 5 42 25 6 6 5 9 0 9-5 9-6 6-9 6-36 20-9 5-12 2-6-1-6-3-5-8-3-12-1-48 1-12 2-8 3-5z"/><path fill="#e89a7b" d="M153 126l9 0 9 3 42 24 12 9 4 6 2 6-1 6-3 6-8 9-42 25-9 4-9 2-9-2-7-5-4-9-2-12 0-39 1-15 2-6 3-6 4-3z"/><path fill="#eaa478" d="M152 129l10-1 9 3 35 19 10 6 6 6 4 6 2 6 0 6-3 6-9 9-39 23-15 5-9 0-6-4-6-9-2-9-1-39 2-15 1-6 3-6 3-3z"/><path fill="#ebad76" d="M152 132l7-2 6 1 9 3 12 6 22 13 8 6 6 7 4 8-1 6-3 6-9 9-36 21-9 4-6 1-9-1-6-4-5-9-1-9-1-30 1-18 3-10 3-5z"/><path fill="#ecb675" d="M152 135l7-2 12 2 15 7 24 14 7 6 5 9 0 9-3 6-5 6-9 6-31 17-9 3-6 1-6-2-3-2-4-5-3-9-1-12-1-21 1-12 2-9 3-8z"/><path fill="#ecbd72" d="M158 135l7 0 9 3 28 15 9 6 5 6 3 3 1 6 0 6-3 6-10 9-30 17-9 4-6 0-9-2-4-4-4-9-2-12 0-24 2-15 2-6 3-5 3-2z"/><path fill="#eec370" d="M157 138l5-1 9 2 23 11 17 12 5 6 2 6-2 9-9 10-24 14-9 5-9 2-8-1-5-3-5-7-2-11-1-24 2-15 4-10z"/><path fill="#e4be6b" d="M156 141l6-2 6 1 9 3 9 4 15 9 8 6 4 6 2 6 0 6-2 3-8 9-22 14-15 5-9 0-6-3-3-4-3-9-1-18 1-21 3-9z"/><path fill="#d0af64" d="M159 144l6-1 6 1 18 8 15 10 5 6 2 6 0 6-2 3-8 9-18 11-15 5-9-1-4-3-4-6-2-9-1-18 2-15 3-7z"/><path fill="#bd9f5e" d="M162 147l6 0 6 1 15 7 14 10 2 3 2 6 0 3-2 6-9 9-16 9-12 4-6-1-6-4-3-6-2-11 0-15 2-11 3-6z"/><path fill="#a99057" d="M160 153l5-2 9 0 9 4 9 5 6 5 4 6 1 6-2 6-10 9-14 7-9 2-3 0-5-3-4-6-2-15 1-15 3-6z"/><path fill="#998250" d="M164 156l7-1 6 1 8 3 8 6 3 3 2 6 0 6-5 6-8 6-11 4-6 1-6-3-4-8-1-12 2-12z"/><path fill="#887549" d="M165 162l3-2 6-1 6 2 7 4 3 3 3 6-1 6-2 3-7 6-6 2-6 1-6-3-3-4-1-8 1-9z"/><path fill="#776642" d="M169 168l2-2 3 0 8 2 4 6 0 3-1 3-3 3-5 2-6 0-2-2-3-6 1-6z"/><path fill="#f7fbfd" d="M200 78l7-2 12 0 9 4 9 6 7 7 4 9 0 6-3 6-8 5-9 2-9-1-12-6-9-9-3-6-1-6 1-9zM81 147l6-1 9 4 7 9 4 12-1 12-4 11-6 7-9 4-6-1-8-6-4-9-2-9 0-12 3-9 5-8zM220 231l11 0 11 3 3 3 3 6 0 6-2 5-2 4-5 6-8 6-6 3-12 3-6 0-6-2-4-4-3-6 0-6 1-6 3-6 6-7 8-5z"/><path fill="#f1f7fc" d="M202 87l5-2 6-1 9 3 6 3 6 5 3 4 2 6-1 6-4 4-6 3-9-1-9-3-6-6-5-9 0-6zM83 156l4-2 3 0 6 2 6 8 2 7 0 9-2 8-6 7-6 3-6-2-3-2-3-5-2-6-1-6 1-9 2-6zM218 234l10 0 8 3 3 6 0 6-7 9-10 7-9 2-9-1-3-3-2-5 1-9 7-9 4-3z"/><path fill="#ebf4fb" d="M213 93l6 1 7 5 4 6 0 3-2 3-3 2-6 0-6-2-4-3-2-3-1-6 1-4zM87 165l3-2 3 0 4 2 3 6 1 6-2 6-3 4-3 2-3 0-3-2-3-7 0-9zM213 240l6-2 6 1 3 2 2 2 0 3-4 6-3 3-10 3-6-2-1-4 1-6z"/></g></svg>
<svg x="1728.3" y="30.5" width="117.0" height="117.1" viewBox="0 0 351.0 351.3" fill-rule="evenodd"><g filter="url(#wb)"><path fill="#fef7f9" d="M84 3l6-3 69 0 12 9 21 21 10 9 31 21 22 12 24 11 51 16 12 7 9 9 0 121-9 9-12 7-51 16-24 11-22 12-31 21-10 9-21 21-12 9-69 0-3-1-12-6-9-7-14-13-11-15-5-9-3-9-1-9 0-12 2-12 8-28 2-11 2-21 1-24-2-36-3-17-9-37-1-9 0-9 2-9 4-9 5-9 6-9 17-16zM105 120l-6 2-3 2-4 5-3 6-2 15-1 24 1 27 2 15 3 6 4 5 3 3 6 1 6-1 3-1 6-6 3-6 4-16 2-24-1-24-5-18-3-6-6-6-3-2zM171 81l-6 3-3 3-2 6 1 6 2 6 4 6 13 12 27 17 21 9 9 2 9 0 6-2 6-5 2-6-1-9-7-9-7-6-26-17-24-12-15-5zM168 161l-4 4-3 6 0 6 1 6 3 5 6 3 6 0 6-3 3-2 5-6 0-6-2-6-3-3-6-4-6-1zM234 201l-12 3-15 8-21 12-13 10-8 9-4 9 0 9 4 6 6 4 6 0 6 0 9-3 15-7 21-12 15-10 9-8 5-6 3-6 0-6-2-6-3-3-6-3-6-1z"/><path fill="#fdf0f4" d="M117 3l9-1 12 2 9 2 9 4 9 6 30 23 44 27 43 23 36 15 12 7 11 9 10 13 0 85-5 7-7 9-15 10-40 17-50 27-39 24-30 24-9 5-12 5-15 3-15-1-15-4-15-6-15-11-12-12-8-12-6-15-1-12 0-12 5-39 2-42-2-57-5-45 1-18 3-9 7-12 7-9 9-9 9-7 12-6 15-6zM168 81l-4 3-4 6 0 6 1 6 8 12 15 12 29 17 18 7 9 2 9-1 6-3 4-4 2-6-1-9-6-9-12-9-26-16-24-12-12-4-6 0zM102 120l-6 3-3 3-3 6-2 6-2 18 0 33 1 18 3 13 6 9 3 2 6 1 6-1 6-4 4-5 4-9 3-18 1-30-2-21-6-15-4-5-6-4-3-1zM168 161l-5 4-2 6-1 6 2 7 3 4 6 3 6 0 6-2 4-3 4-6 1-6-2-6-4-4-6-3-6-1zM234 201l-12 3-15 7-21 13-14 10-8 9-4 9 0 9 4 6 4 3 6 2 9-1 9-3 18-9 21-12 15-10 8-6 4-6 3-6 0-6-2-6-4-4-6-2-6-1z"/><path fill="#fbe9ef" d="M107 12l13-2 15 1 12 3 12 6 34 22 41 23 51 30 39 20 9 7 6 7 8 12 4 11 0 48-7 16-7 9-6 6-10 7-36 18-51 30-41 23-37 24-12 6-15 2-12 0-15-3-15-7-12-8-11-11-8-12-5-12-2-12 0-12 2-33-1-54 1-57-2-39 1-15 3-9 5-9 11-15 9-7 9-6 9-4zM168 80l-6 4-2 3-1 6 0 6 5 9 5 6 14 12 30 18 18 7 9 1 9-1 6-2 5-5 2-6-1-9-6-9-9-7-30-18-24-13-12-4-6 0zM99 119l-7 7-3 6-3 9-1 21 0 36 2 15 3 10 6 7 3 2 6 1 6-1 6-4 4-6 4-9 4-18 0-33-3-21-6-14-3-4-6-4-6-1zM168 160l-3 2-4 6-1 6 1 9 4 6 3 2 6 1 6-1 6-4 4-4 2-6 0-6-4-6-8-5-6-1zM231 201l-12 4-15 7-21 13-11 9-8 9-5 9 0 9 3 6 6 5 6 1 9-1 9-3 39-21 15-10 9-7 5-6 2-6 0-6-2-6-5-5-6-2-9-1z"/><path fill="#f9e2e9" d="M122 15l16 1 15 6 33 20 33 16 21 12 45 29 36 20 12 10 8 12 6 15 3 18-2 18-5 15-8 12-12 12-38 21-45 29-21 12-33 16-30 19-15 6-15 2-18-2-9-2-12-6-9-7-7-7-11-15-4-12-2-12 0-39-2-51 0-30 2-36 0-36 1-12 4-12 5-9 5-7 6-6 9-7 9-6 9-3 9-3zM171 77l-6 3-4 4-3 6 0 6 2 6 3 6 8 9 7 6 32 19 12 6 9 3 9 1 9 0 6-2 6-5 3-7-2-9-6-9-7-6-21-13-33-18-15-6zM105 117l-6 1-3 2-6 6-2 6-3 15 0 30 0 27 3 15 2 6 6 6 3 2 6 1 6-1 6-4 7-10 3-9 1-9 2-24-2-27-1-9-3-9-7-10-6-4zM171 159l-6 3-3 3-2 6 0 9 2 6 3 4 6 2 6 0 6-2 6-5 3-5 1-6-2-6-5-5-9-4zM231 200l-12 5-15 7-21 13-12 9-8 9-4 9-1 9 4 8 6 4 6 1 6 0 9-3 18-9 27-15 12-8 10-8 6-9 2-6-1-6-4-6-4-3-6-2-9 0z"/><path fill="#f8dbe3" d="M109 21l11-2 9 0 9 2 9 3 38 21 37 17 28 16 38 27 27 15 12 9 7 9 5 9 5 12 1 12-1 18-5 15-7 12-12 12-32 19-33 23-27 16-48 23-30 17-9 4-12 2-12 0-15-4-12-5-10-8-9-9-7-12-5-12-1-12 0-33-4-36-1-27 1-24 4-33-1-33 2-12 2-9 4-9 6-9 6-6 13-10 9-5zM168 77l-6 4-4 6-1 6 1 6 7 12 5 6 10 8 30 18 12 5 9 3 12 2 9-1 6-3 5-5 2-6-1-9-4-6-10-9-31-19-27-15-12-4-6 0zM99 117l-5 3-4 4-2 5-3 9-1 21 0 45 2 12 4 11 6 6 9 2 6-1 6-4 6-8 3-8 2-10 2-12 0-33-4-21-6-13-3-4-6-4-6-1zM171 159l-6 2-3 4-3 6 0 9 3 6 3 4 6 3 6 0 6-3 6-4 4-6 0-6-2-6-5-5-7-4zM243 198l-12 2-15 5-27 16-15 10-11 12-5 9-1 9 2 5 3 4 6 4 6 1 6 0 9-3 39-21 26-17 6-6 4-6 1-6-1-6-4-6-3-3-8-2z"/><path fill="#f6d4de" d="M113 24l16-1 9 2 9 3 33 18 39 16 28 16 38 28 27 16 12 10 8 9 5 9 3 9 2 12-2 18-5 15-8 12-12 11-30 18-36 27-24 14-45 20-33 18-9 3-12 1-9 0-9-2-15-6-14-11-6-6-5-9-4-9-3-12 0-36-6-48 0-30 6-45 0-33 4-18 8-15 11-11 15-9zM171 75l-6 2-5 4-3 6-1 6 1 6 3 6 7 9 7 7 12 8 18 11 12 6 12 5 12 2 9 0 6-1 7-5 3-6 1-9-4-9-6-6-16-10-48-28-12-4zM96 117l-4 3-5 6-3 12 0 21 0 51 2 12 4 7 6 5 9 2 6-1 6-4 6-8 4-10 3-21 0-36-4-20-7-13-5-5-6-3-6 0zM168 159l-5 3-3 6-1 6 1 9 3 6 5 3 6 1 6-1 6-3 6-6 2-6-1-6-4-6-6-5-9-2zM240 198l-15 3-15 7-27 16-13 10-8 9-5 9-1 9 2 6 2 3 5 4 6 2 6 1 9-3 12-5 42-24 18-13 6-7 2-6 0-6-2-6-3-4-6-4-6-1z"/><path fill="#f5cdd9" d="M114 27l9-1 9 1 15 4 32 17 28 10 15 7 24 14 16 11 20 17 30 19 11 9 7 9 4 9 3 9 2 12-1 12-4 12-4 9-7 9-11 9-30 19-28 23-20 13-18 9-37 14-32 17-9 3-12 2-9 0-9-2-15-7-13-10-5-6-5-9-3-9-2-9-1-36-6-33-2-18 1-30 6-39 1-36 3-15 6-12 11-12 15-10zM168 74l-6 4-5 6-2 6 1 6 2 6 3 6 8 9 7 6 34 21 21 8 9 2 9 0 9-3 5-4 3-6 1-9-4-9-6-6-11-8-57-32-12-4zM102 114l-6 1-6 5-4 6-2 6-1 15 0 60 1 12 4 9 2 3 6 5 9 1 6-1 6-4 5-7 4-8 4-19 1-33-2-21-6-16-3-5-6-6-6-3zM168 158l-5 4-4 6-1 6 1 9 4 6 5 4 6 1 6-1 7-4 5-6 2-6 0-6-4-6-7-5-9-3zM237 198l-15 4-15 7-24 15-14 10-10 12-3 9 0 9 3 6 3 3 6 4 6 1 6 0 6-2 60-34 15-11 4-6 2-6-1-9-3-6-5-4-6-2-6-1z"/><path fill="#f3c7d4" d="M115 30l14 0 15 3 33 18 36 11 15 8 15 8 16 12 23 21 27 16 12 11 5 6 5 9 3 9 2 12-1 12-3 9-4 9-7 9-12 11-27 16-19 18-14 11-18 11-15 8-39 13-33 17-9 3-9 1-15-1-15-6-8-6-6-6-9-12-3-9-2-9-2-36-7-33-2-21 1-27 8-39 1-36 4-15 6-12 10-11 12-8zM171 72l-6 2-6 5-3 5-1 9 1 6 5 9 13 14 12 8 21 12 12 6 12 5 12 2 9-1 6-2 7-5 3-6 1-9-4-9-5-6-71-41-9-4zM96 114l-8 6-4 6-1 6-1 84 4 12 4 6 6 3 9 2 6-2 6-4 6-8 4-9 3-21 0-39-3-21-7-13-6-6-6-3-6 0zM168 158l-6 4-3 6-1 6 1 9 3 6 6 4 6 1 6-1 7-4 6-6 2-6-1-6-4-6-7-6-9-2zM234 198l-15 5-21 11-21 13-11 10-7 9-4 9 0 9 5 9 5 4 6 3 6 0 6-2 12-6 56-32 12-9 4-6 2-6-1-9-3-6-7-5-6-2-9 0z"/><path fill="#f2c0ce" d="M114 33l12-1 15 3 12 5 24 14 36 10 15 7 12 7 17 12 22 23 27 16 12 9 7 9 4 9 3 9 1 9-1 12-3 9-4 9-7 9-12 10-27 16-19 19-15 12-14 9-15 7-15 5-21 5-33 18-9 3-12 2-15-1-15-7-12-9-9-14-3-9-2-9-1-36-8-30-2-21 1-27 2-15 7-24 1-33 1-9 3-9 6-12 10-10 12-7zM165 72l-6 5-3 4-2 6 0 9 2 6 7 9 14 13 36 22 12 5 9 3 9 1 9 0 9-3 5-5 3-6 2-9-3-9-6-6-79-46-9-2zM93 114l-8 6-4 9 0 90 2 9 5 6 8 5 9 1 6-2 6-4 6-8 4-10 3-12 1-12 0-39-2-12-3-9-4-9-5-6-6-4-6-1-6 0zM165 159l-5 6-2 6 0 9 3 9 4 3 6 3 6-1 9-3 5-5 4-6 0-6-2-6-5-6-8-4-9-1zM234 198l-15 5-18 9-22 13-14 12-9 12-2 9 1 9 3 6 4 4 9 5 6 0 6-2 42-25 30-16 11-8 3-6 2-9-3-9-4-5-6-4-6-2-9 0z"/><path fill="#f0b9c9" d="M113 36l13-1 15 3 12 5 24 16 21 3 12 3 15 6 13 7 19 15 19 23 27 14 14 11 5 6 4 9 3 9 1 9 0 9-2 9-5 9-6 9-14 11-27 14-16 20-17 15-18 10-15 7-12 3-21 2-30 19-9 3-12 3-15-2-12-5-13-10-8-12-4-9-2-12 1-36-7-16-3-10-3-22 0-18 2-15 4-13 7-17-1-33 1-9 2-9 6-12 8-9 10-7zM168 68l-6 4-6 6-3 8 0 7 1 6 6 9 14 15 12 8 24 14 12 5 12 4 12 2 9-1 6-2 6-6 5-9 1-9-1-6-5-6-46-24-38-25-6-2zM96 111l-6 2-6 4-5 6 0 3 2 51-2 48 2 6 6 6 8 3 7 1 9-2 6-4 6-8 4-8 4-21 0-39-1-12-3-12-3-9-4-7-3-3-6-4-6-2zM174 156l-6 1-6 4-3 4-2 9 1 9 3 6 4 4 6 2 6 0 9-4 6-5 4-9-2-9-5-6-6-3zM231 198l-18 7-27 15-15 11-9 9-8 12-1 9 2 9 7 10 9 5 9 0 36-24 21-12 27-13 6-5 2-6 0-9-3-9-4-6-7-4-6-1-9 0z"/><path fill="#efb3c4" d="M111 39l12-2 15 3 15 7 13 10 2 3 0 3-9 9-6 10-1 8 1 6 4 9 7 9 10 9 12 8 24 14 15 7 15 4 12 0 9-2 5-4 7-9 4-15 2-1 6 0 9 3 9 5 13 11 5 7 4 8 3 15-2 15-4 9-4 7-12 11-9 6-9 3-9 2-3-5-2-9-3-6-5-6-8-5-9-1-12 1-15 5-15 7-27 16-10 7-9 9-6 9-3 9 0 9 3 6 4 7 9 8 0 3-2 3-6 6-13 8-9 4-12 2-9 0-9-3-9-4-9-7-6-7-5-8-3-9-1-9 1-15 2-9 1-3 2-1 3 0 9 3 9 1 6-1 6-3 6-6 5-8 3-9 3-12 1-18-1-33-2-15-6-15-6-8-9-5-9-1-18 3-3-3-2-10-1-12 1-9 2-9 5-9 7-9 6-5 6-4zM171 156l-6 2-5 4-3 6-1 9 3 9 3 5 6 4 6 1 9-3 6-4 5-6 2-9-2-6-5-6-9-5zM189 66l6-2 12 1 12 5 12 5 14 9 10 9 7 9 2 6-3 2-6-1-27-13-29-18-9-9zM70 135l2-2 3 0 2 5 3 24-1 36-1 12-3 8-3 0-3-3-3-7-3-10-2-15 0-15 2-15 3-10zM253 243l8-2 3 2-2 6-4 6-10 9-8 6-15 9-15 6-12 2-6 0-3-2 1-3 2-3 21-15 20-12z"/><path fill="#ecabbe" d="M108 42l12-3 15 2 12 5 12 8 4 6 0 3-7 10-4 8-1 6 1 9 4 9 8 9 10 9 15 10 21 12 15 7 15 4 12 1 9-2 6-4 5-7 7-13 3-2 6 0 15 7 10 8 8 12 4 15 0 15-4 9-3 6-6 8-6 5-15 8-6 1-3 0-3-3-7-13-4-6-4-3-9-3-9-1-15 3-15 6-38 22-11 9-9 9-4 6-3 9 0 6 1 6 4 8 7 10 0 3-2 3-6 6-9 6-11 5-9 1-9-1-9-2-9-4-6-5-6-6-5-9-4-9-1-9 1-14 3-8 3-2 3 0 12 1 6-1 6-2 6-4 5-6 4-8 5-19 1-18 0-33-3-15-5-15-7-9-9-5-9-2-15 1-4-3-2-9-1-9 1-9 5-15 4-6 6-6 6-5zM168 156l-6 4-4 5-2 9 1 9 3 6 5 5 6 2 6 0 9-4 7-6 3-6 0-9-4-7-9-6-9-3zM194 69l4-2 9 0 12 4 12 6 12 7 10 9 5 6 1 6-4 1-6-1-20-9-24-15-7-6zM69 141l3-2 3 1 1 1 2 8 2 19 0 18-2 17-3 9-3 1-3-3-4-9-2-10-1-11 1-21 3-11zM249 246l6-1 3 0 1 1 0 3-6 9-15 12-16 9-12 5-12 1-4-3 4-6 16-12 21-12z"/><path fill="#eaa1b6" d="M110 45l10-2 12 1 12 4 8 6 3 3 2 6-8 21 0 6 3 9 5 9 9 9 11 9 12 8 33 18 15 4 12 2 9-1 9-4 6-6 9-11 6-2 6 2 10 5 10 9 6 12 2 12-1 12-6 13-9 10-12 7-6 1-6-2-11-14-7-5-9-2-9-1-15 3-12 5-15 8-24 14-11 8-9 9-7 9-2 6-2 6 0 6 8 21-2 6-5 5-6 4-9 4-9 1-9 0-9-2-6-3-7-6-6-6-3-6-4-9-1-9 1-12 4-6 4-2 18-2 6-3 6-6 7-14 4-18 2-18-1-30-2-15-4-15-6-11-6-5-9-4-15-2-4-2-4-6-1-6 1-15 5-12 9-10 6-4zM168 155l-6 4-5 6-1 9 0 9 3 6 6 6 6 2 6-1 9-3 8-7 3-6 0-9-3-6-8-6-9-4zM202 72l5-2 6 1 17 7 9 6 7 6 5 6 1 4-3 2-3-1-7-2-13-6-18-12-5-6zM72 147l3 2 1 4 2 9 1 12-2 21-2 7-3 2-3-2-3-8-2-17 2-20 3-8zM239 252l10-3 3 3-1 3-5 6-7 6-9 6-17 7-6 1-5-2 1-3 2-3 7-6 14-9z"/><path fill="#e697af" d="M112 48l11-2 9 1 9 4 8 6 2 3 1 6-4 15-1 6 1 6 3 6 5 9 9 9 9 8 12 8 21 12 15 7 15 5 12 2 9 0 6-2 6-4 12-11 3-2 3-1 6 1 9 5 9 8 4 9 3 12-2 12-5 11-9 10-9 4-6 1-3-1-3-1-12-12-6-3-9-3-9 1-15 3-12 4-21 11-21 13-9 7-9 9-7 9-3 6-2 9 1 6 4 15-2 7-4 5-5 3-7 3-8 2-9-1-6-1-12-7-5-5-4-6-3-6-2-9 1-12 4-5 21-8 6-4 3-4 4-6 4-9 4-21 1-18 0-30-3-15-4-14-6-11-6-5-6-3-18-6-4-6-1-6 1-12 5-12 9-9zM165 156l-6 5-3 7-1 9 2 9 5 8 6 3 6 0 9-2 9-6 4-6 2-6-2-9-7-8-9-5-9-1zM210 75l6 0 15 6 11 9 2 3 1 3-2 1-6-1-13-6-12-9-2-3zM71 156l1-1 3 3 2 16-2 18-3 4-3-4-3-15 1-12 2-7zM237 255l6-1 2 1-1 3-5 6-14 9-9 3-6 0 0-3 5-6 9-6z"/><path fill="#e48da7" d="M114 51l9-1 8 1 8 3 5 4 3 5 0 3-1 21 3 12 6 9 9 9 10 9 12 7 33 19 15 5 15 3 9 0 6-1 6-3 15-11 3-1 6 0 9 5 6 7 5 9 1 9-1 12-5 9-6 7-9 5-6 0-3-1-15-10-6-3-9-2-9 1-12 2-15 6-39 22-19 15-12 15-3 12 1 21-2 6-4 5-6 3-12 2-12-2-6-3-6-4-7-10-3-12 1-9 3-5 21-10 6-6 3-4 6-15 4-20 1-18-1-30-2-15-4-15-4-7-6-8-6-4-17-8-3-3-2-6 1-12 4-9 8-9 6-4zM165 155l-6 5-4 8-1 9 2 9 3 6 3 3 6 3 6 0 9-2 9-6 5-7 2-6-2-9-5-6-9-6-9-3zM219 81l4 0 7 3 4 3 2 3-2 1-4-1-10-6zM71 168l1-2 2 8 0 6-2 6-3-9zM230 261l4-1 2 1-2 3-4 3-7 3-4 0 1-3z"/><path fill="#e184a0" d="M117 54l12 0 6 3 5 3 3 6 1 21 1 6 3 6 6 9 9 9 11 9 12 8 33 18 15 6 15 3 9 0 6-1 6-2 15-9 3-1 6 1 6 3 6 6 4 7 2 9-1 9-4 9-7 7-6 3-6 1-3-1-15-9-6-2-9-1-9 1-12 3-15 5-39 22-10 7-10 9-12 15-3 6-1 6 0 18-3 8-6 5-6 2-6 1-12-3-9-5-6-8-2-6-1-6 0-6 4-6 17-10 6-5 3-5 6-16 5-21 0-18 0-30-2-15-5-15-7-14-6-6-17-10-2-3-2-6 1-9 5-10 9-8zM168 153l-6 3-6 7-2 8 0 12 3 6 5 6 6 3 9 0 9-3 9-7 4-8 0-9-5-9-8-6-9-3z"/><path fill="#df7d9a" d="M111 60l9-2 6 0 6 2 4 3 4 6 2 21 6 12 8 9 12 11 21 15 21 12 12 5 12 4 15 4 9 1 6-1 6-1 15-7 6-1 3 1 6 3 4 5 3 6 1 6-1 9-3 6-4 5-6 4-3 0-6 0-15-7-6-2-9 0-9 1-15 4-15 6-36 20-18 14-14 15-6 12-2 18-1 6-3 3-4 4-9 2-9-2-9-5-6-8-2-9 1-6 2-3 17-13 6-8 7-18 4-24 0-45-2-15-4-15-3-9-5-8-6-6-12-8-3-3-2-5 1-9 3-6 4-5zM168 152l-8 4-4 6-3 9 1 12 4 9 4 4 6 3 9 0 9-3 9-7 5-9 0-9-5-9-9-6-9-4z"/><path fill="#dd7695" d="M115 63l5-1 6 0 7 4 3 6 4 18 2 6 4 6 9 9 13 12 21 14 30 17 12 4 18 5 15 1 6-1 15-5 6 0 6 3 3 3 2 4 2 6-1 6-2 6-7 7-3 1-6-1-15-5-6-1-15 1-18 5-15 6-33 19-19 13-18 18-4 6-2 6-5 21-6 6-6 1-9-1-6-4-5-8-1-6 0-3 3-5 15-13 5-9 7-21 3-24 0-45-6-28-3-9-4-8-5-6-11-9-3-3-1-6 1-6 2-5 4-4zM165 152l-6 4-5 9-2 9 2 12 5 9 6 4 6 1 9-1 9-4 9-9 2-6 0-9-4-9-10-7-6-3-6-1z"/><path fill="#db6f8f" d="M114 69l3-1 6-1 6 3 3 5 5 15 5 9 21 21 20 15 30 17 15 6 18 6 18 3 6-1 15-3 6 0 3 2 4 6 0 6-2 6-2 3-6 3-6-1-15-4-12 2-27 7-21 10-33 20-24 20-10 12-3 6-5 15-3 5-6 3-6 0-3-2-6-6-1-3 1-6 4-6 11-12 5-12 7-30 1-30 0-18-1-15-7-30-5-12-14-15-2-6 1-6zM162 153l-6 6-3 6-1 6 0 12 4 9 6 6 9 3 9-1 9-4 8-7 3-6 2-9-3-9-7-7-12-7-9-1z"/><path fill="#da6b89" d="M120 75l3 0 3 2 7 16 12 12 26 22 24 15 24 13 24 9 24 7 18-2 4 2 2 3 0 3-3 4-6 1-15-1-15 4-33 11-33 18-18 12-29 26-6 6-7 16-3 2-3 0-3-1-2-5 2-6 8-12 3-9 8-42 1-30-1-24-9-42-3-9-7-9-2-6 1-3zM168 150l-9 4-6 8-2 9 0 12 4 9 6 6 7 3 9 0 12-4 9-8 4-9 0-9-4-9-9-7-12-5z"/><path fill="#de7786" d="M134 105l1-1 3 0 6 3 33 26 27 16 12 6 34 13 5 3 3 3 0 3-3 3-5 3-34 13-18 9-24 15-30 24-6 3-3 0-3-4 0-6 6-39 0-27-1-21-5-36 0-6zM165 149l-9 6-5 7-2 12 1 12 5 9 7 6 9 2 9-1 12-5 8-8 3-9 1-6-1-6-6-9-11-8-12-3z"/><path fill="#e18383" d="M136 111l2-1 3-1 6 3 27 21 15 10 21 11 35 14 4 3 2 3 0 3-2 3-4 3-35 14-15 8-15 9-30 24-6 3-6 1-3-4-1-7 5-36 1-15 0-21-5-36 0-9zM168 147l-9 4-8 8-3 9 0 15 3 9 8 8 9 4 9 1 12-4 6-4 4-5 5-9 1-6 0-6-4-10-9-9-6-3-6-2-6-1z"/><path fill="#e48e7f" d="M140 114l4-1 9 5 28 23-1 3-12 1-9 4-8 7-7 9-3-10-4-26 0-9 1-4zM201 156l0-2 3 0 31 11 10 6 2 3 0 3-2 3-10 6-25 9-9 3 0-3 5-12 1-9-2-9zM144 186l7 9 8 7 9 4 12 2 1 2-28 24-6 3-6 1-4-4 0-9 4-29z"/><path fill="#e89a7b" d="M142 117l5 0 6 3 12 9 8 9 0 3-14 6-12 9-3-1-1-2-2-7-2-14 0-9 1-3zM208 159l5 0 9 3 15 6 4 3 2 3 0 3-2 3-10 6-18 6-5 0-1-3 2-12-2-15zM143 198l1-2 3-1 12 9 14 6 0 3-5 6-12 10-6 4-6 2-3-2-1-2-2-6 2-15z"/><path fill="#eaa478" d="M145 120l5 1 9 5 6 6 3 3 0 3-2 3-16 9-3 1-3-4-4-15 1-8zM210 165l3-3 3 0 10 3 11 6 2 3 0 3-2 3-9 5-9 3-6 1-3-3zM146 201l1-1 3 1 16 9 2 3 0 3-3 3-6 6-6 4-6 2-3 0-3-3-1-6 2-12 2-7z"/><path fill="#ebad76" d="M144 126l3-3 3 0 5 3 7 6 2 3 0 3-3 3-8 4-3 2-3-1-4-8 0-6zM214 168l2-2 3-1 9 3 5 3 2 3 0 3-2 3-5 3-6 2-6 1-2-3-1-2zM146 207l1-2 3 0 11 5 3 3 0 3-2 3-6 6-6 3-3 0-3-2-1-4 0-9z"/><path fill="#ecb675" d="M146 129l4-2 5 2 3 3 1 3 0 3-6 4-3 0-2-1-2-6zM217 171l2-2 6 1 3 1 3 3 0 3-3 3-3 1-6 1-2-2-1-2zM148 210l2-1 4 1 5 3 0 3-3 5-6 3-3-1-1-4 0-6z"/><path fill="#f7fbfd" d="M224 39l4-2 6 0 15 5 9 6 7 6 5 6 0 4-3 2-6 0-16-6-10-6-7-6-4-6zM168 84l9-2 6 0 9 3 21 10 24 14 10 8 8 9 4 9-1 6-2 3-4 3-6 3-9 0-9-2-18-7-25-15-14-12-5-6-3-6-1-6 0-3 3-6zM101 123l4-1 6 1 3 1 5 5 6 12 3 18 0 30-2 18-3 8-4 7-5 5-6 2-7-1-7-6-4-9-2-15-1-30 2-24 4-13 3-5zM31 150l2 0 3 2 3 7 2 12-1 12-1 10-3 6-3 3-3-1-3-4-2-8-2-9 2-18 2-8zM169 162l5-1 6 1 6 4 4 5 1 3-1 6-4 5-6 4-9 1-6-4-2-3-2-6 1-6 3-6zM240 201l6 1 7 2 3 3 2 6-1 9-4 6-6 6-25 17-30 16-9 2-6 1-6-1-6-5-3-6 1-9 5-9 9-9 15-10 21-12 15-6zM259 285l8 0 3 3-2 6-6 6-10 7-12 6-9 2-6-2-1-4 7-9 14-9z"/><path fill="#f1f7fc" d="M170 84l4-1 6-1 12 3 21 10 26 16 11 9 6 9 2 9-3 6-6 4-6 2-6 0-9-2-18-8-27-16-12-10-4-6-3-6-2-6 2-6 2-3zM103 123l8 0 6 5 3 3 5 13 3 18-1 30-3 18-4 9-3 5-3 2-6 3-6-1-3-2-6-7-4-12-2-18 1-30 2-18 5-12 4-4zM170 162l4-1 6 2 6 4 3 4 1 3-1 6-3 5-6 4-6 1-6-2-3-2-3-6 0-6 2-6 2-3zM226 204l8-2 9 0 6 1 6 4 3 6-1 6-2 6-5 6-11 9-17 11-30 15-9 2-6 1-6-1-5-4-3-6 1-9 3-6 7-9 9-7 15-9 15-9z"/><path fill="#ebf4fb" d="M173 84l10 0 15 4 24 13 20 13 9 9 4 6 2 9-3 6-5 3-6 2-6 0-9-2-18-7-28-17-13-12-4-6-2-6 1-6 1-3 3-4zM99 126l3-2 6 0 6 2 3 3 3 4 4 8 3 18 0 30-2 18-4 9-4 7-3 2-6 3-6-1-3-2-5-6-3-9-2-12-1-27 1-24 4-13zM172 162l5 0 6 3 4 3 3 6-1 5-2 4-4 4-6 2-6 0-3-1-4-5-2-6 1-6 2-4 3-3zM227 204l7-1 9-1 6 2 5 3 3 6-1 6-2 6-5 6-9 8-15 9-30 16-15 4-6 0-7-4-3-6-1-6 4-9 8-9 8-7 15-9 18-10z"/><path fill="#e7f2fa" d="M169 87l8-3 12 2 15 6 24 13 13 9 10 9 4 9 1 6-1 3-3 4-6 3-6 1-9-1-15-5-25-14-16-12-5-6-4-6-2-9 2-6zM101 126l7-2 6 3 3 2 3 4 3 8 4 18 0 30-3 18-3 9-4 6-3 3-6 2-7-2-6-6-5-12-1-15-1-27 2-18 3-12 3-5zM167 165l4-2 6 0 6 2 3 3 3 6-1 6-2 3-3 3-6 3-6-1-4-2-4-6 0-6 2-6zM228 204l9-1 6 0 5 1 4 3 4 6-1 6-2 6-5 6-8 7-15 10-15 8-15 8-15 3-6 0-6-3-4-6 1-9 3-6 7-9 12-9 17-10 12-6z"/><path fill="#e3f0f9" d="M170 87l4-2 6 0 12 2 18 8 21 13 13 9 8 9 3 9-1 6-3 3-5 3-6 1-9-1-18-6-24-14-13-10-6-6-3-6-2-6 0-5 2-4zM103 126l5-1 3 1 6 4 3 4 5 13 2 15 0 27-3 18-4 9-3 5-3 3-6 2-5-1-4-2-5-7-4-12-1-15 0-27 2-18 5-12 3-4zM168 165l3-2 6 0 5 2 4 4 2 5 0 3-2 6-3 2-3 2-6 1-6-2-3-3-2-9 2-6zM230 204l10-1 6 1 5 3 3 3 1 3-1 6-2 6-5 6-10 9-12 7-15 9-15 7-15 4-6-1-6-3-3-6 0-8 3-6 8-9 11-9 17-10 15-7z"/><path fill="#dfeef9" d="M172 87l5-1 6 0 12 3 18 8 18 11 12 9 8 9 3 9-1 6-4 4-6 2-6 1-9-2-18-7-22-13-12-9-5-6-4-6-2-6 1-6 2-3zM100 129l5-3 3 0 6 2 3 3 6 11 3 17 0 30-2 18-4 9-3 4-3 3-6 2-6-1-3-2-4-6-3-9-3-15 0-21 1-21 3-12 3-5zM169 165l5-2 3 1 6 3 3 3 2 4 0 3-2 5-3 3-3 2-6 1-5-2-3-3-2-3 0-6 2-6zM232 204l8 0 6 1 4 2 4 6 0 3-1 6-4 6-6 6-24 17-24 11-15 4-6-1-6-4-3-6 1-6 3-6 7-9 12-9 19-11 15-7z"/><path fill="#dbecf8" d="M174 87l9-1 15 5 18 8 19 12 10 9 5 6 3 9-1 6-3 3-6 3-6 0-9-1-18-7-24-15-12-10-5-6-2-6-1-6 1-3 2-3zM101 129l7-2 6 2 3 3 3 4 3 8 3 18 0 27-3 18-3 8-3 4-3 3-6 2-6-1-6-7-5-12-1-15-1-24 2-18 5-12zM170 165l4-1 6 1 4 3 2 3 1 3-1 6-2 3-4 3-6 1-3 0-3-2-3-4-1-4 1-6 1-3zM236 204l10 2 6 4 1 3 0 3-1 6-4 6-6 6-23 16-24 12-15 3-6-1-5-3-3-6 2-9 6-9 6-6 13-9 20-11 12-5z"/><path fill="#d7eaf7" d="M178 87l11 1 12 4 18 10 15 9 11 9 4 6 3 9-1 6-5 4-6 2-6 0-9-2-18-8-22-14-13-12-5-9 0-6 1-3 3-3zM103 129l5-1 3 0 3 2 5 5 5 12 2 15 0 27-3 18-3 7-3 4-3 3-6 2-6-1-3-3-4-6-4-12-1-15 0-21 2-18 4-11 3-4zM171 165l3-1 6 2 6 5 1 3-1 6-6 6-6 1-3-1-3-2-3-4 0-3 0-6 3-4zM223 207l8-2 9 0 6 1 5 4 1 3 0 6-3 6-4 6-7 6-13 9-27 14-9 3-9 1-6-1-4-2-3-6 0-6 3-6 4-6 7-6 13-9 16-9z"/><path fill="#d3e8f6" d="M172 90l8-2 12 1 18 8 18 11 13 9 8 9 3 9-2 6-4 3-6 2-12-1-15-5-23-14-15-12-6-9-1-9 1-3zM105 129l3 0 6 2 6 7 4 12 2 18-1 24-3 15-5 10-3 3-6 3-6-2-3-3-3-5-4-12-2-18 0-21 3-17 4-10 5-5zM173 165l4 0 6 3 3 6-1 6-2 3-6 3-6 0-3-3-3-6 1-6 2-3zM224 207l10-2 6 0 6 2 4 3 1 3 0 6-2 6-5 6-7 6-13 9-26 14-15 4-6-1-6-2-3-6 0-6 2-6 8-9 8-6 15-10 12-6z"/><path fill="#d0e6f5" d="M173 90l4-1 6-1 12 3 15 7 18 10 12 9 8 9 3 9-2 6-4 3-5 1-12 0-15-6-23-13-15-12-5-9-2-6 1-3 1-3zM101 132l4-2 3 0 6 2 3 3 3 4 3 8 2 15 0 24-2 18-3 8-3 5-3 3-6 2-6-2-6-7-3-9-2-15 0-21 1-18 4-11zM169 168l5-2 6 1 3 2 3 5 0 3-3 5-3 2-6 2-5-3-3-6 1-6zM226 207l8-1 6 0 5 1 4 3 1 3 0 6-2 6-5 6-7 6-13 9-25 13-15 4-6 0-6-4-2-4 0-6 2-6 7-9 8-6 15-10 15-7z"/><path fill="#cce4f4" d="M175 90l5-1 6 0 12 4 18 8 16 10 10 9 5 6 3 9-3 6-4 3-6 1-12-1-18-8-21-13-10-9-6-9-1-6 0-3 2-3zM102 132l6-2 3 1 6 5 5 11 3 15 0 24-3 18-5 12-3 3-6 2-6-2-6-8-3-10-2-15 0-21 2-15 3-10 3-5zM170 168l4-2 3 0 4 2 3 3 1 6-1 3-3 3-7 2-3-1-3-3-2-7zM227 207l10-1 6 1 4 3 2 3 1 3-1 6-4 6-6 6-20 14-24 12-9 2-6 0-6-1-3-3-2-6 1-6 4-6 5-6 12-9 13-8 12-6z"/><path fill="#c6e1f3" d="M177 90l9 0 12 3 18 9 15 9 11 9 5 6 2 9-2 6-4 2-6 2-12-2-18-7-20-13-11-9-5-9-1-6 0-3 2-3zM104 132l4-1 3 1 3 1 4 5 5 12 2 15 0 24-3 15-5 11-3 3-6 2-6-2-6-8-3-12-2-15 1-21 2-15 4-9zM170 168l4-1 3 0 3 1 3 3 1 6-1 3-3 3-6 2-3-1-3-3-1-7 1-3zM229 207l5-1 7 1 5 3 3 3 0 3-1 6-4 6-5 6-20 14-24 11-9 3-6 0-3-1-5-3-2-6 1-6 3-6 5-6 12-9 13-8 15-7z"/><path fill="#bddef2" d="M175 93l8-2 9 1 15 6 15 8 11 8 10 9 4 9-1 6-2 3-4 2-6 1-6-1-15-5-18-10-14-11-8-9-2-6 0-3 1-3zM102 135l6-2 3 1 6 4 5 12 2 15 0 24-3 15-4 9-3 3-6 2-6-2-4-6-4-9-2-15 0-18 2-15 4-12zM170 171l4-3 6 2 3 4 0 3-2 3-4 3-3 0-3-1-3-5zM221 210l13-2 6 0 4 2 2 3 1 6-2 6-5 6-7 6-11 8-21 11-15 4-6 0-6-3-3-5 1-6 3-6 6-6 17-12z"/><path fill="#b5daf0" d="M179 93l7-1 12 3 15 7 15 9 11 9 4 6 2 6-1 6-3 3-4 1-12-1-15-5-21-13-10-9-6-9 0-3 1-5zM107 135l4 0 3 2 3 4 3 6 3 12 1 15-1 18-3 13-3 6-3 3-6 2-6-2-3-4-3-6-2-12-1-15 1-18 2-12 6-9zM173 171l4 0 3 2 1 4-3 3-4 1-3-2-1-5zM224 210l7-1 6 0 4 1 3 3 1 3 0 6-4 6-6 6-16 12-21 10-9 3-6 0-4-1-4-3-2-3 0-6 4-6 5-6 7-6 15-9z"/><path fill="#acd7ef" d="M177 96l3-1 6-1 9 1 12 5 15 8 12 9 8 9 2 6-1 3-1 3-5 3-3 0-9-1-14-5-16-9-12-9-7-9-1-6 0-3zM104 138l4-1 3 0 6 6 4 10 2 15 0 18-3 16-3 6-3 4-6 2-6-3-4-7-3-9-1-15 0-15 2-12 3-9zM229 210l8 1 5 2 1 3 1 3-2 6-8 9-15 11-18 9-15 4-6-1-3-2-2-6 1-6 4-6 7-6 8-6 15-8 9-4z"/><path fill="#a4d3ed" d="M181 96l8-1 9 2 12 5 15 9 10 9 5 6 2 6-2 5-6 3-12-1-15-7-15-9-10-9-4-6-1-3 0-5zM103 141l5-2 3 0 3 2 3 4 3 8 2 15 0 18-2 12-3 8-3 4-3 2-3 0-3-1-3-2-3-5-3-9-1-12 0-15 1-12 3-9zM220 213l8-2 6 0 5 2 2 3 1 3-2 6-8 9-16 12-18 8-12 2-5-1-4-3-1-3 2-6 6-9 17-12z"/><path fill="#9bd0ec" d="M180 99l6-2 9 1 12 4 12 6 12 9 5 6 3 6 0 6-5 3-9 0-12-4-15-8-12-9-5-6-3-6 0-3zM108 141l3 0 3 2 3 5 3 11 2 15-1 15-3 12-4 7-3 2-3 0-3-1-3-3-3-5-3-12-1-12 1-15 3-11 3-6 3-3zM224 213l10 0 5 3 1 3-2 6-7 9-15 11-15 7-12 3-6-1-3-2-2-3 1-6 7-9 7-6 11-7 11-5z"/><path fill="#92cdeb" d="M183 99l6-1 9 1 12 5 12 7 7 6 6 6 3 6 0 3-2 3-2 2-6 1-9-2-12-5-12-8-11-9-3-6-1-6zM105 144l3-1 3 1 3 2 3 4 3 9 1 12-1 15-2 12-4 8-3 2-3 0-3-1-3-3-3-6-3-18 1-12 1-12 4-8zM217 216l11-2 6 1 2 1 2 3-1 6-5 6-6 6-16 10-15 6-6 0-6-1-3-3 1-6 6-9 12-9z"/><path fill="#8ac9e9" d="M183 102l6-3 6 1 9 3 11 5 9 6 7 6 4 6 1 6-3 3-8 1-9-2-12-6-12-8-6-6-4-6 0-3zM105 147l3-2 3 1 3 2 4 8 2 14 0 16-3 12-3 5-3 3-3 0-3-2-4-6-2-6-2-12 0-12 2-9 3-9zM220 216l5-1 6 0 3 2 2 2-1 6-7 9-13 9-14 7-12 2-6-3-1-3 0-3 7-9 15-11z"/><path fill="#81c4e8" d="M186 102l6-1 6 1 9 3 11 6 8 6 5 6 3 6-1 3-5 3-9-1-12-5-9-6-8-6-5-6-1-6zM104 150l4-2 3 0 3 3 3 6 2 11 0 15-2 11-3 7-3 2-3 1-3-2-3-4-3-9-1-9 1-18 3-9zM214 219l8-2 6-1 5 3 1 3-1 3-4 6-7 6-9 6-15 7-6 0-6-1-2-3 0-3 1-3 5-6 12-9z"/><path fill="#79bfe6" d="M187 105l2-2 6 0 9 2 9 4 8 5 6 6 4 6 0 5-3 2-6 0-9-2-9-5-9-6-6-6-3-6zM108 150l3 0 4 6 2 6 1 12 0 12-3 9-4 6-3 0-3-2-3-5-2-8-1-9 0-9 2-9 4-7zM217 219l8-1 5 1 1 2 0 4-7 9-11 8-12 5-9 2-5-3-1-3 1-3 5-6 12-9z"/><path fill="#6eb8e4" d="M190 105l5-1 6 1 13 6 12 9 3 6 0 3-4 3-6-1-7-2-11-6-8-6-4-6-1-3zM107 153l4 0 3 3 3 9 0 9 0 10-2 8-4 6-3 1-3-3-3-6-2-13 2-16 3-6zM212 222l7-2 6-1 4 3 0 3-1 3-5 6-13 9-12 4-8-1-2-3 1-3 4-6 8-6z"/><path fill="#61b1e2" d="M193 108l2-1 6 0 10 4 12 9 2 3 0 4-2 2-5 0-8-3-6-3-10-9-2-3zM106 159l2-2 3 1 3 4 2 9 0 9-2 9-3 5-3 0-3-3-3-11 0-12zM218 222l5 0 2 3 0 3-5 6-9 6-7 3-6 1-5-1-1-3 2-3 5-6 10-6z"/><path fill="#54aadf" d="M197 111l7 0 8 3 7 6 1 3-1 3-6-1-10-5-6-6zM106 165l2-2 3 0 3 11 0 6-2 6-1 2-3 1-3-5-1-7 1-9zM208 228l8-3 3 1 1 2-4 6-6 4-6 3-7-1 0-3 2-3z"/></g></svg>
<svg x="1865.3" y="30.5" width="117.0" height="117.1" viewBox="0 0 351.0 351.3" fill-rule="evenodd"><g filter="url(#wb)"><path fill="#fef7f9" d="M39 3l3-3 133 0-1 15 2 12 5 12 8 9 16 12 41 24 24 13 12 4 12 1 16-3 12-6 20-15 3-2 6 0 0 199-6 0-3-1-20-16-12-6-16-3-12 1-12 5-24 12-41 24-16 12-8 9-5 12-2 12 1 15-133 0-3-2-15-16-13-18-7-15-3-15 1-9 4-4 6-4 21-8 7-5 8-7 6-8 2-6 3-12 2-21 0-54-1-15-3-14-6-11-9-9-12-8-22-9-6-6-1-6 0-6 2-9 8-18 13-18zM102 111l-3 3-3 5-3 13-1 42 1 45 2 9 4 9 6 5 6 1 6-3 3-4 4-8 2-9-1-27 1-60-3-12-6-9-6-3-6 1zM156 80l-6 5-1 5 0 3 5 9 9 9 23 12 54 32 9 2 9 1 5-2 3-3 2-6-2-9-4-6-8-6-38-23-36-20-12-4-6-1zM156 141l-3 3-1 3 3 27-3 30 1 3 2 3 4 1 6-2 21-15 24-11 3-3 2-3 0-3-2-3-4-3-23-10-21-15-6-3zM246 194l-12 5-16 11-56 31-8 8-4 6-1 6 1 6 6 5 6 1 6-1 9-3 42-22 39-25 8-9 2-6 0-6-2-3-5-4-6-1zM224 18l7-2 12 0 12 4 12 6 9 7 7 9 4 9 1 9-3 3-3 1-6-2-50-29-7-6-1-3 1-3zM16 138l5-2 3 2 3 9 0 57-3 9-3 2-6-2-8-9-5-12-2-12 0-12 3-12 6-11zM279 288l6 0 3 3-1 9-6 12-5 6-9 7-12 7-15 3-12 0-4-2-5-3-1-3 1-3 7-6 41-24z"/><path fill="#fdf0f4" d="M52 3l4-3 111 0 1 15 3 12 5 9 7 9 7 6 14 9 69 39 15 6 15 0 14-3 22-10 6-1 6 1 0 167-6 1-6-1-22-10-14-3-15 0-15 6-69 39-14 9-7 6-7 9-5 9-3 12-1 15-111 0-8-6-15-15-10-15-7-15-1-12 1-6 5-6 18-13 9-8 6-9 5-12 1-9 1-18 0-63-1-21-3-12-6-11-9-9-21-16-5-6-1-9 2-12 8-15 11-15zM105 108l-6 4-3 5-3 12-1 45 1 42 1 12 4 9 7 6 6 1 6-3 3-3 3-7 3-9-1-63 1-24-2-12-4-9-6-6-3-1zM159 78l-6 2-3 3-2 4 0 3 3 9 5 6 6 6 24 12 54 33 9 2 9 1 6-2 4-4 1-6-2-9-4-6-8-6-36-22-39-21-12-5zM156 140l-3 2-1 5 2 27-2 30 2 6 5 2 6-3 21-15 24-11 4-3 2-3 0-3-2-3-4-3-24-11-21-15-6-2zM243 195l-9 4-17 11-31 18-24 13-6 5-7 9-1 6 0 3 2 4 3 3 6 2 6 1 9-3 45-24 40-25 6-6 4-6 0-6-1-6-4-4-6-1-6 0zM229 24l5-2 9 0 9 2 9 4 9 7 6 7 4 6 0 6-1 2-3 1-3-1-12-5-16-9-9-6-7-6-2-3zM15 147l3-1 3 0 3 7 1 6-1 39-3 7-3 1-6-5-3-6-3-9-1-9 0-9 3-9 4-8zM267 297l9-3 3 1 1 5-4 9-9 10-9 6-12 4-9 1-8-3-2-3 2-3 2-3z"/><path fill="#fbe9ef" d="M62 3l5-3 93 0 5 21 3 9 6 9 5 6 13 9 84 48 12 6 12 1 12-1 27-7 6 0 6 2 0 146-6 2-6 0-27-8-12-1-12 2-12 5-84 48-13 9-5 6-6 10-3 8-5 21-93 0-13-9-14-15-9-12-5-12-2-12 2-6 3-6 22-22 6-9 3-8 2-18-1-102-1-9-5-12-7-9-19-18-3-6-2-9 3-12 8-15 13-15zM105 107l-6 4-2 3-4 12-1 45 0 48 2 12 3 6 5 6 3 2 6 1 6-3 3-4 4-8 2-9 1-9-2-21 0-33 2-24-2-12-5-11-6-6-3 0zM156 77l-6 4-3 3-1 6 2 6 4 6 10 9 24 12 31 18 14 10 9 5 9 3 9 0 6-1 3-2 2-3 2-6-3-9-4-6-8-6-79-45-12-4zM153 141l-2 6 3 30-3 27 2 7 3 2 6-1 24-17 26-12 4-3 1-3 0-3-1-3-4-3-26-11-24-17-6-1zM252 192l-15 4-26 17-25 15-25 12-6 6-7 9-2 6 1 6 6 6 6 2 6 0 9-3 45-25 41-25 8-9 2-6 0-6-3-6-3-2-6-1zM239 30l4-1 3 0 6 1 7 3 5 4 4 5 2 3-1 3-5 0-13-6-8-6-3-3zM15 159l3-1 1 1 2 4 0 5 0 20-3 5-3-1-3-6-2-9 2-12zM264 303l5 0 1 3-4 6-5 5-12 5-6 1-4-2 1-3 7-6z"/><path fill="#f9e2e9" d="M70 3l5-3 78 0 12 30 5 9 6 6 8 6 47 26 48 29 12 5 9 1 12 0 24-5 9 1 6 2 0 131-6 3-9 0-24-4-12-1-9 1-12 6-48 29-47 25-8 6-6 6-5 9-12 30-78 0-18-13-11-11-9-12-5-12-1-9 1-6 3-6 22-27 3-6 2-9 1-12-1-51 1-61-2-11-4-8-22-28-3-6-1-9 3-12 9-15 12-12zM108 104l-6 3-5 4-3 6-1 6-1 12 0 84 1 12 4 9 8 6 6 1 6-2 3-4 5-10 2-9 0-9-2-21 0-30 2-27-1-12-6-13-6-5zM153 77l-5 4-2 3-1 3 1 6 5 9 11 10 27 13 27 16 18 13 6 3 12 3 9 0 6-2 3-3 2-8-1-6-6-9-8-6-80-46-12-4-6 0zM156 138l-3 1-2 5 2 33-3 27 1 3 2 5 3 2 3-1 6-2 15-12 9-6 24-10 4-3 1-3 0-3-1-3-4-3-24-10-9-6-15-11-6-3zM249 192l-12 4-26 17-25 15-25 12-10 9-5 9-1 6 3 6 5 4 6 2 6 0 9-3 45-26 42-25 6-6 4-6 1-6-1-6-2-3-5-3-6-1z"/><path fill="#f8dbe3" d="M78 3l5-3 64 0 6 9 10 24 4 6 5 6 9 6 26 13 27 15 48 30 9 5 9 1 9 0 27-3 9 1 6 3 0 119-6 3-9 2-27-4-9 0-9 2-9 4-48 30-27 15-26 13-9 6-5 6-4 6-10 24-6 9-64 0-11-6-12-9-9-9-9-12-5-12-1-9 2-6 2-6 18-24 5-9 1-6 1-9-3-60 3-63-2-8-3-7-21-30-2-6-1-6 3-12 10-15 14-14zM105 104l-6 4-3 3-3 6-1 6-1 99 1 9 4 9 6 6 9 2 6-2 3-3 4-9 3-12 1-9-2-21 0-30 2-30-3-12-5-12-6-4-3-1zM156 75l-6 3-4 3-2 3 0 6 2 6 5 6 11 11 27 13 27 15 18 13 6 3 12 4 9 0 6-1 4-4 2-6-1-9-3-6-7-6-85-50-12-4zM153 138l-2 3-1 6 3 27-3 33 3 6 3 1 6-1 24-17 27-12 5-4 1-3 0-3-1-3-4-3-28-12-24-18-6-1zM246 192l-12 5-24 16-27 16-18 8-5 3-9 9-6 9-1 6 2 6 4 4 6 2 6 1 9-2 91-53 7-6 3-6 1-9-2-6-4-3-6-2z"/><path fill="#f6d4de" d="M85 3l7-3 48 0 8 9 15 30 6 6 8 6 30 14 24 13 25 15 32 22 6 2 9 1 33-2 9 2 6 4 0 107-6 4-9 2-33-2-9 1-6 3-32 21-25 16-24 13-30 13-8 6-6 6-15 30-8 9-48 0-11-5-15-9-13-13-8-12-4-12 0-9 2-6 20-30 3-9 1-9-3-33-1-27 0-27 4-33-1-9-1-6-4-9-18-27-2-6 0-9 2-6 4-9 9-12 13-12zM108 102l-6 2-5 4-4 6-2 6 0 102 1 12 4 8 6 5 9 3 6-2 3-3 5-11 3-12 0-9-2-18 0-33 2-30-3-15-5-11-6-4zM153 75l-6 3-2 3-2 3-1 6 3 6 5 6 12 11 27 13 26 15 19 14 6 3 12 3 9 1 6-1 5-5 2-6-1-9-3-6-6-6-90-52-12-4zM153 137l-3 4-1 3 4 33-4 27 1 6 3 4 3 1 6-1 24-18 9-5 18-7 6-4 1-3 0-3-1-3-4-3-29-13-24-18-6-1zM261 189l-12 2-12 4-22 15-26 15-27 13-10 8-9 12-1 6 3 6 5 5 6 3 6 0 9-2 93-54 8-9 2-6 0-6-2-6-2-3-3-2z"/><path fill="#f5cdd9" d="M92 3l9-3 30 0 4 2 6 4 5 6 11 21 5 9 6 6 5 3 34 14 27 15 26 16 22 18 6 3 6 2 9 2 24-2 9 1 9 3 6 4 0 97-6 5-9 3-9 0-24-1-9 1-6 2-6 4-22 17-26 17-27 14-34 14-8 6-5 6-16 30-6 6-7 3-30 0-11-3-12-7-12-8-11-12-6-9-4-12 0-9 2-6 17-27 4-12 1-9-5-33-1-30 1-30 5-33-1-9-2-6-19-30-2-6 0-9 4-12 6-9 5-6 15-12zM105 101l-6 3-4 4-3 6-2 6 1 72-1 36 2 9 4 7 6 5 9 2 6-1 4-4 4-9 4-15 0-9-3-21 0-30 3-30-3-14-6-14-6-4zM159 72l-6 1-6 4-4 4-2 6 1 6 2 3 7 9 8 7 6 4 24 10 25 15 20 15 6 3 21 4 6 0 5-4 3-6 1-9-4-9-7-6-64-36-27-17-9-3zM156 135l-3 1-3 2-2 6 4 21 0 12-4 30 2 6 3 2 3 1 6-1 18-15 9-5 28-12 3-3 1-6-1-3-3-3-28-11-9-6-18-14zM255 189l-18 5-28 19-26 15-18 8-6 3-10 10-7 9-1 6 2 6 4 5 6 3 6 1 9-1 97-56 7-6 3-6 1-6-1-6-3-6-3-3-5-1z"/><path fill="#f3c7d4" d="M101 3l10-2 9 0 9 2 6 3 9 9 13 24 8 9 9 6 30 10 30 16 25 16 23 20 6 4 12 3 27-1 9 1 9 4 6 5 0 87-3 3-6 4-9 3-33-1-9 2-6 3-26 22-25 16-30 16-29 10-7 4-9 9-13 23-5 7-9 7-12 3-12 0-12-3-12-5-12-8-11-10-7-9-4-9-1-9 0-6 2-6 16-27 3-9 1-6-6-36-1-30 1-33 5-30 1-9-4-12-13-21-4-9-1-6 0-9 4-9 3-6 11-12 17-11zM108 99l-6 2-6 4-5 6-1 6 1 75-2 36 2 12 5 6 6 5 9 2 6-1 5-6 4-10 3-14 1-6-4-24 0-30 4-30-3-12-5-15-5-5-3-1zM153 72l-6 3-6 6-2 3 0 6 6 9 14 14 6 3 18 7 26 15 10 6 18 14 9 3 15 4 6 0 6-4 4-8 0-9-4-9-6-6-60-33-36-22-9-3zM153 135l-4 3-1 6 4 30-1 12-3 21 2 7 3 3 3 0 6-2 18-14 9-6 29-12 3-3 1-6-1-3-3-3-23-9-9-5-24-18-6-2zM252 189l-15 4-18 14-10 6-26 15-18 7-6 3-11 11-8 9-1 6 2 6 6 6 6 4 9 1 6-2 60-36 39-21 6-6 3-6 1-6-1-9-4-6-5-2-6 0z"/><path fill="#f2c0ce" d="M100 6l8-2 9 0 9 1 6 3 9 8 15 26 9 10 6 3 21 6 12 4 27 14 27 17 10 9 14 14 6 4 12 2 24 0 9 1 9 3 9 8 0 77-3 4-6 4-9 3-36 1-6 2-6 2-24 22-12 9-18 11-27 14-12 5-21 6-6 3-9 9-12 22-6 8-9 6-12 2-12-1-12-3-12-6-9-6-7-7-7-9-5-9-1-9 0-6 4-9 15-27 2-6 0-6-7-33-2-33 2-33 2-12 5-21 0-6-3-12-16-27-2-6 0-9 1-6 5-9 10-12 16-12zM102 99l-6 4-5 5-3 9 2 33 0 36-2 48 3 9 5 6 9 5 9 1 6-3 3-4 7-26 0-6-3-24 0-27 0-12 3-21-5-24-2-5-3-4-3-2-6 0zM159 69l-9 2-6 4-5 6-2 6 0 3 4 6 15 15 6 5 24 9 22 13 10 6 13 11 6 4 27 7 6 0 4-4 4-9 1-9-4-9-5-5-30-16-32-18-40-25zM153 134l-3 2-3 5 0 6 4 18 0 12-4 30 1 6 2 3 6 2 6-2 18-15 9-5 30-13 3-3 1-6-1-3-3-3-24-9-9-5-24-19-6-2zM261 186l-24 7-6 3-13 11-10 6-25 14-18 7-6 4-13 11-8 9-1 6 2 6 5 6 9 5 6 1 9-1 40-26 32-18 29-15 4-3 4-6 2-6-1-9-2-6-3-4-6-3z"/><path fill="#f0b9c9" d="M98 9l10-2 9 0 9 1 6 3 9 9 14 25 7 8 6 3 21 5 12 3 30 15 17 11 12 9 25 25 12 4 27 0 9 1 9 4 9 9 0 68-6 6-6 4-9 3-33 1-12 3-25 25-12 9-17 11-30 15-12 4-18 3-6 2-9 9-12 22-7 9-8 6-12 3-9-1-12-2-12-6-9-6-7-6-7-9-4-9-2-9 2-12 15-27 4-12 0-6-7-19-2-11-2-15-1-21 3-33 2-11 7-19 0-6-4-12-15-27-2-9 0-6 4-12 10-13 15-11zM108 95l-6 2-8 5-5 6-2 3 0 9 3 31 0 35 0 18-3 33 2 6 7 8 9 4 9 2 6-2 3-3 8-30 0-9-4-21 0-27 1-12 3-21-6-27-2-6-3-3-3-1zM153 68l-9 5-5 5-4 6 0 6 4 6 17 16 9 6 21 8 22 12 9 6 14 12 6 3 30 9 6-1 3-4 4-10 0-9-2-9-5-5-33-16-27-15-20-12-22-16-6-4-6 0zM150 134l-3 4-1 3 4 24 1 12-1 11-4 19 1 6 3 4 6 2 6-2 24-19 12-6 18-6 4-3 3-3 1-6-1-3-4-4-30-12-12-8-15-13-6-2zM267 183l-30 9-6 4-14 11-25 15-12 7-15 5-6 3-23 21-2 6 3 6 5 6 8 6 9 3 6-1 6-3 22-17 26-15 21-12 32-15 4-3 3-6 1-12-1-6-3-7-3-3z"/><path fill="#efb3c4" d="M97 12l8-2 9-1 9 1 6 3 6 4 6 7 15 27 9 11 3-1 9-1 15 2 18 7 21 11 16 10 16 12 8 9 8 14 3 3 12 2 30 0 9 2 9 4 5 5 4 6 0 58-4 5-5 5-6 4-9 2-33 0-12 2-3 3-8 14-8 9-16 12-16 11-21 10-18 7-15 2-9-1-3-1-9 12-14 23-6 9-10 7-12 2-9-1-12-3-9-4-9-7-6-6-7-9-3-9-1-6 0-6 3-9 16-27 4-11 3-1 2 3 8 6 11 5 9 1 9-1 2-2 1-3 5-30 0-9-3-18-1-30 1-12 4-21-7-36-2-2-4-1-11 1-14 5-8 6-2 3-3-1-4-11-14-24-5-12 1-12 3-9 4-6 13-12 8-5zM162 62l-12 5-11 8-5 6-2 6-1 3 1 3 27 22 6 3 18 7 24 13 10 6 17 15 33 12 3 1 3-1 6-9 3-12 0-12-1-6-2-3-30-11-30-16-29-18-25-21zM153 132l-5 3-2 6 4 24 1 12-5 33 2 6 4 3 4 1 6-2 16-14 11-7 12-6 16-5 5-3 2-3 1-6-3-6-3-2-27-10-12-7-18-16-6-2zM267 180l-30 11-6 4-14 12-25 15-12 6-15 5-6 3-27 22-1 3 3 9 5 6 8 6 15 7 3-1 25-21 29-18 30-16 30-11 2-3 1-9-1-15-4-9-4-5-3-2zM80 111l1-2 3 4 3 14 2 20 1 18 0 30-2 18-4 25-3 5-1-3-8-14-3-10-3-18-1-21 1-24 3-18 6-16z"/><path fill="#ecabbe" d="M104 12l10-1 9 2 6 3 6 4 7 10 10 18 4 9-1 3-17 14-12 15-18 3-21 8-3 0-6-7-14-24-4-12 1-9 5-12 12-12 12-7zM173 63l10-1 15 3 15 6 21 11 17 11 14 12 8 12 1 3-1 3-3 1-6-1-15-5-18-9-27-16-14-9-14-12-4-6zM129 99l3-2 3 1 9 5 15 13 6 3 15 4 11 6 25 15 18 15 23 9 6 3 3 3 0 3-3 3-6 3-23 9-18 15-30 18-27 10-18 15-9 4-3-2-1-6 4-27-4-21-1-9 1-33 4-24-4-24zM150 132l-3 3-2 6 5 24 0 12-1 12-4 21 2 6 3 3 3 2 6-1 27-21 12-6 20-7 5-3 2-3 1-6-1-3-3-4-4-2-20-6-9-5-11-7-13-12-6-4-6 0zM81 117l3 3 4 15 1 18 1 21-1 24-1 18-4 15-3 3-3-1-3-4-6-14-3-17-1-21 1-23 3-18 6-14 3-4zM304 132l17 0 12 2 6 3 5 4 7 10 0 49-7 10-5 4-6 3-12 2-27 0-6-1-3-4-3-19-7-18 0-3 6-15 5-24 5-2zM265 228l5-1 3 1 1 3-2 6-10 12-20 15-23 14-18 8-15 3-6 1-7-2-1-3 4-6 10-9 13-9 41-23 15-7zM83 252l1-1 3 0 18 7 21 4 12 15 17 14 0 6-13 24-7 10-7 5-5 2-9 2-9-1-9-2-9-4-9-6-7-6-6-9-5-12 1-12 7-15z"/><path fill="#eaa1b6" d="M108 15l9 0 6 2 6 3 4 4 5 6 7 12 4 9 0 6-3 6-23 22-30 9-6 0-3-1-6-7-11-17-3-12 1-9 6-12 10-10 12-7zM178 66l2-1 6-1 12 2 15 5 21 11 16 11 13 12 6 9 1 3-2 3-7 1-12-4-18-9-21-12-14-9-12-9-5-6-2-3zM133 102l2-1 6 2 18 15 24 7 23 13 13 9 15 14 20 7 4 3 3 3 0 3-3 3-4 3-20 7-18 17-26 15-13 6-15 4-6 4-15 12-6 2-2-1-2-3-1-6 4-24-5-16-1-17 0-27 6-21-4-24 1-6zM153 129l-6 3-3 6 0 6 5 21 1 12-2 12-4 18 0 6 3 6 3 2 6 2 6-3 15-14 12-8 12-6 21-6 3-3 2-3 1-6-3-6-3-2-21-7-9-4-13-8-17-16-6-2zM80 123l1 0 3 3 3 10 2 14 0 18 0 27-1 15-4 15-3 3-3 0-3-3-5-12-3-15-1-21 0-21 3-15 3-9 3-6 3-3zM312 135l15 1 9 4 9 8 6 13 0 29-3 8-4 6-6 6-5 3-9 3-21 0-9-2-3-2-3-5-8-30 1-6 8-30 4-3 4-1zM259 231l5-1 4 1 2 3-3 6-10 12-16 12-22 13-18 8-15 2-6 0-2-2-1-3 4-6 7-6 12-9 37-21 12-6zM85 258l2-1 6 1 30 8 25 25 1 3 0 6-7 15-7 10-9 8-6 2-9 1-15-2-9-5-8-5-6-6-4-6-5-12 1-12 4-9 5-9 7-9z"/><path fill="#e697af" d="M96 21l9-2 6-1 9 2 6 3 6 5 6 8 4 9 3 9-2 6-2 3-18 18-6 3-9 3-12 2-6 1-6-3-9-11-5-10-2-12 2-9 5-9 9-8zM184 66l8 0 12 3 15 6 17 9 13 9 10 9 6 9 1 3 0 3-2 1-6 1-12-4-15-7-25-15-13-9-10-9-2-6zM134 105l4-1 6 3 12 11 6 3 12 2 9 3 22 12 13 9 13 14 19 7 5 3 2 3 0 3-2 3-5 3-19 7-13 14-23 15-18 9-15 2-6 4-12 10-6 3-3 0-3-4 0-6 3-21-6-18-1-15 1-28 6-20-3-21 0-6zM150 128l-6 4-2 3 0 3 5 21 2 15-1 15-6 24 0 3 5 5 9 4 3-1 3-2 15-15 12-9 14-6 22-6 3-3 1-9-1-6-3-3-24-7-12-5-12-9-18-17-3 0zM76 129l2-2 3 0 3 4 3 10 2 15 0 30-1 18-3 15-4 5-3 0-3-2-3-6-4-12-2-18 0-18 2-18 4-15zM297 141l15-3 15 2 9 4 6 6 3 5 3 7 2 9-1 15-3 9-4 6-9 8-12 4-15-1-9-2-3-2-3-4-5-18-2-12 6-24 3-6zM252 234l6-1 6 0 2 1 0 3-1 3-4 6-5 6-16 12-21 12-18 8-9 2-6 0-3-1-2-3 0-3 5-6 15-12 31-18zM84 264l6-2 6 0 24 7 9 7 14 15 2 6-4 12-7 12-8 8-6 2-6 2-6 0-9-2-9-3-6-4-6-6-5-6-3-6-2-6 1-12 6-13z"/><path fill="#e48da7" d="M97 24l8-2 9 0 6 2 6 3 6 6 4 6 4 9 0 6-3 9-14 14-6 3-9 4-15 2-6-2-9-9-5-12-2-9 3-9 5-9 8-7zM185 69l7-2 9 2 12 4 15 7 16 10 11 9 7 9 1 6-2 3-2 0-7-1-12-4-18-10-20-12-12-9-5-6-1-3zM135 108l3-1 3 0 6 4 8 9 0 3-14 9-3-1-3-7-1-7 0-6zM163 126l2-2 9 0 9 2 11 6 15 9 9 6 7 9 1 3-1 3-6 0-12-2-9-3-9-5-15-11-8-9zM76 132l2-2 3 0 3 4 3 11 2 20-1 24-1 18-3 10-3 4-3 0-4-5-4-9-2-12-1-15 0-15 2-15 3-12zM135 141l3-2 3 4 6 16 1 12 0 12-1 9-6 16-3 4-3-2-3-5-3-16 0-30 3-13zM301 144l5-1 9-1 12 2 9 5 4 4 3 6 3 12-1 15-5 12-4 5-6 4-12 3-12-1-9-4-5-7-4-18 0-12 3-12 3-6 3-4zM231 168l3-2 12 2 6 3 2 3 0 3-2 3-6 3-12 3-3-3zM205 192l17-3 3 1 1 2-5 9-7 6-26 15-8 4-9 2-6 0-2-3 9-12 9-9 11-7zM137 222l1-2 3 0 14 8 0 3-8 9-6 4-3 0-3-1-2-6 2-9zM257 234l4 1 2 2-1 6-7 9-16 12-17 10-18 8-12 2-7-2-1-3 3-6 15-12 35-20 12-5zM87 267l6-2 6 1 18 5 11 8 11 12 1 3 0 6-3 9-5 9-9 8-6 3-6 0-6 0-8-2-7-3-6-4-9-11-3-9-1-6 2-6 5-12 5-6z"/><path fill="#e184a0" d="M99 27l12-2 6 2 6 2 4 4 5 6 4 9 0 6-3 9-6 6-7 6-12 5-12 2-5-1-4-2-6-6-5-10-1-9 2-9 4-6 9-8zM189 69l9 0 12 3 12 6 15 8 10 7 9 9 4 6 1 3-1 3-5 1-12-3-15-7-21-12-12-9-6-6-3-6zM137 111l4-1 7 4 3 6-1 3-6 4-3 0-3-2-3-8zM166 126l5-1 9 1 23 12 10 6 7 6 3 6 0 3-7 1-9-1-9-3-9-5-9-6-7-7-7-9zM76 135l2-2 3 0 3 4 3 12 1 16 0 24-1 15-3 10-3 4-3 0-4-5-4-9-2-12-1-12 0-15 2-13 3-11zM135 144l3-1 3 3 5 13 2 12-1 12-1 9-5 13-3 3-3-1-3-4-2-8-1-9 1-27 2-10zM304 147l11-2 12 2 8 6 6 9 2 12-1 12-2 6-4 5-9 7-9 2-12-1-7-4-5-7-3-14 1-15 4-12 4-4zM234 171l3-3 6 1 6 3 2 2 0 3-5 4-9 2-3-3zM208 192l11-1 4 1 0 3-3 6-7 6-26 15-7 3-6 2-8-2 0-3 4-6 12-12 13-7zM139 225l2-1 3 1 6 3 1 3-3 6-7 4-3 0-2-4 0-6zM248 237l10-1 2 1 1 3-1 3-7 9-15 12-16 10-18 7-12 2-3-1-3-3 1-3 4-6 12-9 25-15zM91 270l8-1 15 4 10 6 9 9 3 6 0 9-4 9-5 6-4 4-6 3-6 1-12-2-12-6-8-9-4-9 0-6 1-6 3-6 4-6z"/><path fill="#df7d9a" d="M101 30l7-1 6 1 9 4 6 8 3 6 0 6-4 9-9 9-11 5-12 1-6-2-6-5-4-8-1-9 2-8 5-7 7-6zM189 72l6-2 9 1 12 4 15 8 11 7 10 9 6 9 0 4-3 2-3 0-9-2-25-13-22-15-6-6-1-3zM139 114l2-1 3 1 3 3 0 3-3 3-3 0-2-3-1-3zM170 126l7 0 6 2 19 10 14 9 4 6 1 3-2 3-9 0-10-3-11-5-9-7-9-9-3-6zM75 138l3-2 3 0 3 4 3 13 1 12 0 21-2 15-2 10-3 4-3 0-3-2-4-9-2-9-1-15 1-24 3-12zM134 147l4-1 3 3 4 10 2 12 0 12-2 9-4 11-3 3-3-1-3-5-2-11 0-30 2-8zM307 150l11-1 9 3 6 4 5 9 2 9-2 12-5 9-9 6-9 2-9-2-6-5-4-7-2-12 1-12 5-10zM237 174l3-3 3 1 4 2 0 3-4 3-3 0-3-2zM214 192l5 1 2 2-3 6-6 6-26 15-9 3-7 0-2-3 3-6 5-6 7-6 17-9zM141 228l3 0 3 3 0 3-3 3-3 1-2-1-1-3zM241 240l8-2 6-1 4 3-2 6-8 9-12 9-10 6-11 6-12 4-9 1-6-2 0-3 1-3 9-9 19-12zM95 273l9 0 10 4 9 6 7 8 2 6-1 9-5 8-6 5-9 3-6 0-6-1-10-6-8-9-2-9 0-6 2-5 6-9z"/><path fill="#dd7695" d="M104 33l7 0 9 4 6 8 2 9-4 9-7 6-9 4-9 2-6-2-6-5-4-8 0-6 1-6 6-8 6-4zM193 72l5-1 9 2 12 4 12 7 13 9 7 6 4 6 1 3 0 3-4 2-9-2-12-5-17-10-14-9-6-6-3-6zM170 129l4-2 3 0 6 1 8 4 16 9 8 6 4 6 0 3-3 2-9-1-9-2-9-5-8-6-6-6-4-6zM75 141l3-3 3 1 3 4 3 19 0 24-1 15-3 9-2 3-3 0-3-3-3-6-2-9-2-12 1-24 3-12zM134 150l1-2 3 0 3 3 3 8 2 12 0 12-2 9-3 8-3 3-3 0-3-5-2-9 0-27 2-9zM311 153l8 0 8 3 6 6 3 9 0 9-3 9-6 6-9 3-9 0-6-4-3-5-3-9 0-9 3-9 5-6zM202 195l8-1 6 0 3 1 0 3-2 3-6 6-20 12-8 4-6 2-3 0-3-2 0-4 1-3 9-9 8-6zM243 240l9-1 4 1 0 3-5 9-11 9-15 10-15 7-12 2-6-1-1-3 1-3 8-9 24-15zM91 279l8-2 9 1 9 4 7 6 3 6 1 6-2 7-6 7-6 4-9 0-9-2-8-7-4-6-1-9 3-9z"/><path fill="#db6f8f" d="M99 39l6-2 9 1 5 4 4 6 0 6-2 6-6 6-7 3-6 1-6-1-5-3-3-6-1-6 2-6 4-5zM193 75l5-2 6 0 9 3 12 5 10 6 12 9 5 6 3 6-3 3-6 0-9-3-12-6-24-15-6-6-2-3zM173 129l4-1 6 1 22 12 11 9 1 3-1 3-6 1-6-1-15-7-7-5-6-6-4-6zM78 141l3 0 3 5 2 13 1 15-1 18-2 12-3 6-3 1-3-3-3-7-2-12-1-12 0-12 2-12 4-10zM137 150l4 3 3 6 2 15-2 17-3 7-3 3-3 0-3-6-1-15 0-15 1-9 3-5zM308 159l7-2 6 1 6 4 4 6 1 6-1 9-4 6-6 4-6 1-6-2-4-3-3-6-1-6 1-9 3-6zM205 195l5-1 6 1 1 3-1 3-6 6-20 12-10 4-3 0-4-1-1-3 2-3 8-9 10-7zM246 240l6 0 3 3-1 3-7 9-12 9-16 9-12 5-9 1-5-3 0-3 5-6 12-9 21-12zM95 282l7-1 6 1 7 3 6 6 2 6 0 5-2 4-4 5-6 3-6 0-6-2-8-6-3-6-1-6 3-7z"/><path fill="#da6b89" d="M98 45l4-2 6-1 6 3 4 6-1 5-3 4-3 3-6 2-6-1-3-1-3-6 0-3 2-6zM196 75l5-1 8 1 10 4 10 5 17 12 5 6 1 3 0 3-3 2-9-2-25-12-16-12-4-6zM176 129l4 0 6 2 18 10 8 6 4 6-3 3-6 0-9-3-6-3-9-6-6-6-3-6zM77 144l1-1 3 1 3 5 3 22-1 18-2 12-3 7-3 0-3-3-3-7-3-21 2-21 3-9zM135 153l3-1 3 3 3 9 1 7-1 17-3 8-3 3-3 0-2-4-2-9 1-24zM310 165l5-2 3 0 4 2 3 3 2 6 0 4-2 5-4 4-6 1-3 0-5-5-1-3-1-6 2-6zM198 198l12-3 3 1 3 2-4 6-8 6-18 10-6 2-4 0-2-3 1-3 5-6 7-6zM239 243l10-2 3 2 0 3-4 6-10 9-13 9-12 5-9 2-6 0-2-1-1-3 2-3 9-9 20-12zM96 288l6-2 3 0 6 2 3 3 3 5 1 4-4 6-3 2-6 1-6-2-3-3-3-7 1-6z"/><path fill="#de7786" d="M198 78l3-2 6 0 9 3 11 5 17 12 4 6 1 4-3 2-6-1-18-8-18-12-5-6zM177 132l3-1 6 1 16 9 8 6 2 3 0 3-5 1-5-1-13-6-10-9-2-3zM78 147l3 1 3 6 2 20-2 23-3 7-3 1-3-3-3-9-2-16 2-19 3-8zM135 156l3-1 3 4 3 12-1 15-2 6-3 4-3-1-3-12 0-18zM202 198l8-1 2 1 0 3-5 6-15 9-9 4-3 0-3-1 0-3 2-3 6-6 9-6zM234 246l12-3 3 3-1 3-4 6-7 6-12 7-11 5-7 2-6 0-3-2 1-3 2-3 7-6 14-9z"/><path fill="#e18383" d="M204 78l6 0 6 2 14 7 9 6 5 6 2 3-1 3-2 1-6-1-13-6-10-6-11-9-1-3zM180 135l3-2 3 1 9 4 10 6 3 3 1 3-2 2-3 0-6-2-6-3-8-6zM76 153l2-3 3 2 3 8 1 8-1 23-3 9-3 1-4-6-2-15 0-15zM135 162l0-1 3-2 3 5 1 7-1 15-3 6-3-2-1-7-1-12zM198 201l6-1 3 0 2 1-1 3-3 3-10 6-9 4-3 1-3-2 4-6 8-6zM237 246l6 0 2 0 1 3-7 9-9 6-11 6-9 3-6 0-2-3 1-3 7-6 14-9z"/><path fill="#e48e7f" d="M206 81l4-1 5 1 13 6 12 9 2 3 0 3-2 1-6 0-13-7-13-9-2-3zM185 138l1-1 5 1 10 6 3 3-3 2-5-2-9-6zM77 156l1-1 3 1 3 15-1 18-2 6-3 2-3-5-2-15 0-12 2-6zM137 165l1-1 2 4 1 6-1 6-2 7-2-4-1-6 0-7zM196 204l5-1 3 1-3 3-10 6-5 1-1-1 2-3zM233 249l7-1 2 1 0 3-2 3-12 9-13 6-5 1-4-1 0-3 6-6 9-6z"/><path fill="#e89a7b" d="M209 84l4-1 3 0 9 4 9 6 4 6-1 2-3 0-11-5-9-6-3-3zM78 159l3 2 2 13-2 15-3 3-3-5-1-10 1-12zM229 252l5-1 3 0 1 1-4 6-9 6-9 4-3 1-4-2 2-3 3-3z"/><path fill="#eaa478" d="M215 87l1-1 6 1 9 6 2 3-2 1-5-1-9-6zM78 165l3 5 0 4 0 8-3 4-2-9 0-6zM226 255l5-1 2 1-2 3-9 6-6 1-1-1 2-3z"/><path fill="#f7fbfd" d="M193 30l5-1 12 3 21 8 18 10 20 13 18 15 5 6 1 3 0 3-3 3-5 3-6 0-6-1-18-7-33-19-18-12-10-9-4-9 0-6zM158 81l4-1 6 0 15 6 33 17 32 20 12 9 4 6 2 9-2 6-3 2-6 2-6-1-9-2-54-32-21-11-10-9-4-9 0-6 2-3zM106 111l5-1 6 4 6 9 2 12-1 24 1 60-2 8-3 7-3 4-6 3-6-1-6-6-4-9-1-15-1-39 1-39 2-9 3-6 3-4zM38 120l4-3 3 0 6 3 3 4 3 8 2 18 1 42-2 24-4 11-3 4-6 3-3 0-3-2-3-5-4-20-2-21 0-18 1-18 4-21zM155 144l4-2 6 2 21 15 24 11 3 4 0 3-2 3-4 3-21 10-21 14-6 2-3-1-2-4-1-3 3-24-3-27zM248 195l7 0 6 1 3 3 2 5 0 6-4 6-9 9-37 23-39 20-9 3-6 0-6-2-3-2-2-6 1-6 3-6 7-7 57-32 15-10 6-3zM278 255l7 1 5 2 3 3 0 3-1 3-5 6-18 15-20 14-24 12-24 8-6 0-3-1-2-6 0-6 4-6 10-9 18-12 27-15 18-9z"/><path fill="#f1f7fc" d="M197 36l7-1 15 3 15 5 18 10 14 10 13 12 6 9 1 3-1 3-3 3-3 1-6 0-6-2-18-8-26-15-14-9-10-9-4-6-1-3 0-3zM161 81l10 0 12 5 33 18 32 19 11 9 4 6 2 6-1 7-3 3-6 2-6 0-9-2-54-32-20-11-10-9-4-9 0-3 1-4 3-3zM103 114l5-3 3 0 6 4 5 8 3 12-1 21 0 63-4 13-3 4-6 4-6-1-6-6-3-8-2-12-1-39 1-39 3-12 2-5zM42 126l3-2 3 0 3 1 3 4 3 8 2 16 0 33-1 24-4 13-3 3-3 2-3-1-3-1-4-7-4-15-3-18 0-18 2-18 4-15zM156 144l3-1 6 2 18 12 22 11 5 3 2 3 0 3-2 3-3 2-24 12-18 13-6 1-3-1-2-6 2-24-2-27zM239 198l7-2 9-1 6 2 3 3 1 4 0 6-3 6-6 6-40 26-39 20-9 2-6 0-6-2-3-3-1-4 1-6 3-6 6-6zM271 258l5-1 6 2 3 2 1 3-1 3-3 6-5 6-16 13-21 13-21 9-15 3-6-1-3-3-1-4 2-6 6-6 7-6 40-24 12-5z"/><path fill="#ebf4fb" d="M202 39l8-1 15 3 15 7 15 8 12 10 9 9 4 9 0 3-1 2-6 2-12-2-16-8-26-15-12-9-6-6-3-6 1-3zM156 84l9-3 12 3 27 13 24 14 19 12 11 9 6 9 0 6-1 3-3 3-5 2-6 0-9-2-74-42-7-6-6-9 0-6 1-3zM104 114l7-1 6 3 5 10 2 9 0 84-4 12-3 4-6 4-6-1-6-7-3-9-2-15-1-36 2-36 2-12 4-6zM47 129l4 1 3 3 3 8 1 12 1 18 0 21-2 17-3 9-3 3-3 1-3 0-3-3-5-9-3-15-2-18 1-18 3-15 6-12 3-2zM158 144l4 0 3 1 21 15 21 10 4 4 0 3-4 4-21 10-21 15-6 1-4-3 0-6 2-21-2-27 1-4zM240 198l9-2 6 0 5 2 3 3 1 6-1 6-5 6-7 6-35 22-36 19-9 3-6 1-6-1-5-5-1-6 2-6 4-6 6-5zM265 261l5-1 6 0 3 2 1 2 0 3-2 6-5 6-15 14-18 11-18 7-15 2-6-1-2-3-1-3 3-6 9-9 30-18z"/><path fill="#e7f2fa" d="M204 42l9-1 12 2 15 6 12 7 10 7 9 9 5 9 1 3-1 3-6 2-9-1-15-7-21-12-13-9-7-6-3-6 0-3zM158 84l4-1 6-1 12 4 30 15 22 13 18 12 10 9 3 9-1 6-4 3-6 2-12-3-73-41-7-6-6-9 0-6 1-3zM107 114l4 0 3 1 5 5 4 9 1 9-1 81-4 12-5 6-3 1-6-1-3-3-5-9-2-12-1-24 0-27 2-30 4-12 2-3zM44 135l4-2 3 1 3 3 3 11 1 14 0 24-1 18-3 10-3 3-3 1-3-1-3-3-4-7-3-12-2-15 1-15 2-12 3-11zM156 147l3-2 6 1 21 14 22 11 2 3 0 3-3 4-21 10-21 14-6 1-3-3-1-5 2-21-2-24zM242 198l7-1 6 0 6 3 2 4 0 3-1 6-5 6-7 6-34 22-36 19-9 3-6 0-6-1-4-4-1-3 0-6 4-6 7-7 69-40zM259 264l8-2 6 0 3 2 1 3-2 6-4 6-6 6-10 9-15 8-18 7-9 2-6-1-3-1-2-3 0-3 3-6 11-9 24-15z"/><path fill="#e3f0f9" d="M206 45l7-2 9 1 12 3 12 6 10 7 10 9 6 9 1 3 0 4-3 2-9 0-14-6-16-9-14-9-7-6-5-6 0-3zM160 84l5-1 6 0 12 4 30 16 28 17 12 9 6 6 3 9-1 6-5 3-4 1-6 0-9-3-69-40-7-6-6-9 0-6 1-3zM103 117l5-2 3 0 6 3 4 8 2 9 0 81-3 12-3 5-6 4-6-2-3-2-3-5-3-9-1-15-1-33 1-33 3-12 3-6zM45 138l3-1 3 0 3 4 3 12 1 12 0 21-2 15-2 9-3 4-3 1-3-2-3-3-3-6-3-12-2-12 1-15 2-12 3-9zM158 147l4-1 3 1 21 14 18 9 5 4 0 3-2 3-21 10-21 14-6 1-3-4 0-3 2-24-2-21zM244 198l5-1 7 1 5 3 1 3 0 3-1 6-4 6-7 6-34 22-36 18-9 3-6 0-5-1-4-3-1-3 0-6 3-6 7-7 69-40zM263 264l7 0 3 3 0 3-4 9-13 12-13 9-15 6-15 2-7-2-1-3 2-6 10-9 25-15 13-6z"/><path fill="#dfeef9" d="M213 45l9 0 9 3 12 5 9 5 9 8 6 6 3 6 1 3-1 3-6 2-9-2-18-9-15-9-7-6-6-6-1-3 0-3zM163 84l11 1 15 6 27 14 29 18 11 9 4 6 2 6-3 6-4 3-6 0-12-3-68-39-8-6-5-9 0-6 3-4zM105 117l6-1 6 4 5 9 1 9 0 78-4 12-5 6-3 2-6-2-3-2-3-5-3-11-2-21 0-27 2-32 3-12 3-4zM45 141l3-1 3 1 3 4 3 11 0 12 0 21-2 12-1 5-3 4-3 1-3-1-2-3-3-6-3-9-2-12 1-12 2-12 3-9zM160 147l2 0 6 3 15 10 22 11 3 3 0 3-3 3-19 10-18 12-6 2-3 0-2-6 1-21-1-24 0-3 2-3zM248 198l4 0 6 2 3 4 1 3-1 3-3 6-5 6-8 6-29 19-33 17-9 3-6 1-6-1-4-3-2-3 0-6 3-6 6-6 69-40 6-3zM256 267l5-1 6 0 3 1 1 3-1 3-3 6-13 12-14 9-15 5-12 1-5-3 0-3 1-3 9-9 19-12z"/><path fill="#dbecf8" d="M212 48l4-1 9 0 9 3 12 6 10 7 6 6 5 6 1 6-4 3-6 0-12-5-13-7-14-9-6-6-3-6zM159 87l3-2 6-1 9 2 15 6 27 15 25 16 11 9 5 9 0 6-2 3-6 2-6 0-6-1-36-20-34-20-8-6-4-6-2-6 1-3zM107 117l4 0 6 4 4 8 1 9 0 78-1 6-2 6-5 5-3 2-3-1-5-3-5-9-2-12-2-27 1-30 2-21 2-6 3-5zM46 144l2-1 3 1 3 5 2 10 1 12 0 15-3 15-3 6-3 1-3-1-5-9-2-9-2-12 1-12 2-9 3-7zM158 150l4-2 6 2 15 11 21 10 3 3 0 3-3 3-21 11-15 10-6 2-3-1-2-7 2-18-2-21zM238 201l8-2 6 0 6 2 2 3 1 3-2 6-4 6-7 6-29 20-33 17-15 5-6 0-6-3-2-3 0-6 3-6 5-6 36-21zM261 267l3 0 3 2 1 4-6 9-10 9-12 8-12 4-9 2-7-2-2-3 1-3 8-9 25-15 8-3z"/><path fill="#d7eaf7" d="M213 51l3-2 3-1 6 1 9 2 12 6 8 6 7 6 3 6 1 3-1 3-3 1-8-1-19-9-17-12-4-6zM161 87l7-2 12 2 21 10 20 11 23 15 10 9 5 9 0 6-3 3-4 2-6 0-9-3-36-20-31-18-7-6-4-6-2-6 1-3zM104 120l4-2 3 0 4 2 5 7 2 11 1 39-1 39-1 6-3 6-4 4-3 2-6-2-3-3-3-5-3-11-1-18-1-24 2-30 3-14zM46 147l2-1 3 1 3 5 2 19 0 15-2 12-3 6-3 1-3-1-5-9-2-9-1-9 2-18 3-7zM160 150l2-1 3 1 18 11 20 10 2 3 0 3-2 3-20 10-15 10-6 2-2-1-2-6 1-21-1-18zM239 201l7-2 6 1 4 1 3 3 1 3-2 6-4 6-6 6-32 21-33 17-9 3-6 0-6-1-3-2-2-5 2-6 7-9 35-21zM253 270l8-1 3 1 1 3-1 3-3 6-10 9-11 7-12 4-9 1-3-1-3-2 0-3 2-3 10-9 15-9z"/><path fill="#d3e8f6" d="M217 51l5-1 6 1 16 6 9 6 6 6 3 6 0 3-1 2-6 0-7-2-13-6-16-12-4-6zM162 87l9-1 12 3 24 11 18 11 18 12 11 9 5 9-1 6-4 3-5 1-6 0-6-2-33-18-33-20-7-6-5-6-1-6 1-3zM105 120l6-1 3 1 3 3 3 6 2 9 0 39-1 39-1 6-3 6-3 3-3 2-6-2-3-3-3-6-3-12-1-21 0-24 2-27 3-12zM46 150l2-1 3 1 2 3 1 6 2 12-1 12-1 12-3 6-3 1-3-1-3-6-3-9 0-9 0-9 2-9 2-6zM159 153l3-3 6 2 15 10 18 9 3 3 0 3-3 3-18 9-15 10-6 2-3-3 0-3 1-18-1-18zM241 201l5-1 6 0 3 2 3 2 1 3 0 3-3 6-5 6-8 6-30 20-30 14-9 3-6 1-6-2-3-3-1-3 1-6 8-9 37-23 30-16zM248 273l10-2 3 0 1 2 0 3-6 9-13 10-15 6-6 0-5-1-2-3 2-3 5-6 13-9z"/><path fill="#d0e6f5" d="M218 54l4-2 6 0 6 2 9 4 8 5 6 6 3 6-1 3-4 1-5-1-13-6-13-9-5-6zM164 87l10 0 12 4 24 11 20 12 16 12 7 6 5 9-1 6-5 3-3 1-6-1-6-2-33-17-32-20-8-6-5-9 1-6zM107 120l4 0 3 1 3 3 3 8 1 9 1 36-1 39-4 11-3 3-3 2-3-1-3-1-3-3-3-6-3-14-1-24 0-24 3-24 4-11zM46 153l2-1 3 1 3 8 1 10-1 19-3 8-3 1-3-2-3-5-2-15 1-15 3-6zM161 153l1-1 3 0 3 1 15 10 17 8 3 3 0 3-3 3-17 9-15 9-6 1-2-4 0-3 0-15 0-18zM243 201l9 0 5 3 1 3 0 3-3 6-5 6-7 6-30 19-30 15-9 3-6 0-4-1-4-3-1-3 1-6 8-9 36-22 30-17zM250 273l8 0 2 3-3 6-8 8-9 5-9 4-9 0-4-2 1-3 2-3 6-6 10-6z"/><path fill="#cce4f4" d="M223 54l8 0 14 6 10 9 2 6-2 2-6-1-16-7-11-9-1-3zM168 87l9 1 15 6 21 10 21 13 12 9 8 9 3 6 0 3-2 3-6 3-6 0-6-2-33-18-31-19-8-6-4-6-1-3 0-3 1-3zM104 123l4-2 3 0 4 2 2 3 3 6 1 9 1 36-1 36-1 6-3 6-3 4-3 2-3 0-3-2-5-7-3-12-2-18 0-24 2-24 2-12 3-6zM163 153l5 1 15 9 15 8 3 3 0 3-3 3-33 18-3 0-2-6 0-33 2-5zM47 156l1-1 3 2 3 8 0 6 0 12-1 6-2 6-3 1-3-2-2-5-2-12 1-12 3-8zM236 204l7-2 6-1 6 3 2 3 0 3-3 6-5 6-7 6-27 18-29 14-15 4-6 0-4-3-1-3 1-6 7-9 34-21zM245 276l7-2 3 0 2 2 0 3-5 6-9 7-12 5-6 1-3-1-1-3 4-6 8-6z"/><path fill="#c6e1f3" d="M224 57l1-1 6-1 12 5 10 9 2 3-1 3-8-1-11-5-8-6-3-3zM163 90l2-1 6-2 9 2 21 9 18 10 23 15 10 9 3 6 1 3-1 5-3 3-3 0-9-1-9-3-33-18-25-16-7-6-4-6-1-3 0-3zM105 123l3-1 3 0 3 1 3 3 2 6 2 9 1 36-2 36-3 12-3 3-3 2-3 0-3-2-3-3-2-6-3-12-2-18 0-24 3-24 3-12zM162 156l3-2 6 2 12 8 14 7 3 3 0 3-3 3-29 16-3 1-3-1-1-7zM46 159l2-1 3 2 3 14-2 15-1 2-3 2-4-4-2-12 1-12zM236 204l7-2 6 0 5 2 2 3 0 3-2 6-5 6-7 6-28 18-28 14-15 4-6-1-3-3-1-2 1-6 7-9 33-21zM248 276l6 0 1 3-2 3-6 6-13 7-6 1-4-2 0-3 6-6 10-6z"/><path fill="#bddef2" d="M233 63l4-1 3 1 4 3 0 3-8-3zM166 90l8-1 9 2 18 8 18 9 17 12 11 9 7 9 0 6-5 4-9-1-9-3-33-18-23-15-8-6-4-6 0-3 0-3zM105 126l3-2 3 0 4 2 3 6 2 12 1 33-1 33-3 12-3 4-3 1-3 0-3-1-4-7-3-12-2-18 0-21 1-21 3-12 2-5zM164 159l4-1 3 1 21 12 3 3 0 3-3 3-21 12-3 1-3 0-2-7 0-21zM47 171l1-2 2 5-2 8-2-5zM240 204l6-1 4 1 4 3 0 6-7 9-15 12-25 16-24 10-12 2-5-1-3-3 0-3 2-6 10-9 29-18zM242 282l2 0 0 3-4 3-6 1-1-1 3-3z"/><path fill="#b5daf0" d="M166 93l2-1 6-2 9 2 18 7 16 9 18 12 11 9 6 9 0 3-1 3-5 2-9-1-36-18-25-16-7-6-4-6 0-3zM104 129l4-3 3 0 3 2 4 7 1 12 2 30-2 33-2 9-3 4-3 2-3 0-3-2-3-4-3-10-2-20-1-18 2-21 2-12zM167 165l1-2 3 0 5 2 10 6 4 3 0 3-4 3-12 7-3 1-3 0-2-5zM234 207l6-2 6 0 5 2 1 3 0 3-4 6-13 12-22 15-24 11-15 4-6-1-2-2-1-3 0-3 2-3 5-6 32-21z"/><path fill="#acd7ef" d="M170 93l7-1 12 3 15 7 17 9 13 9 10 9 5 6 1 3-1 4-2 2-4 1-6-1-37-18-22-15-7-6-4-6 0-3zM107 129l4 0 3 2 3 6 3 34-2 39-3 9-4 4-3 0-3-2-3-5-3-12-2-21 0-18 2-18 3-11 3-5zM172 171l2-1 3 1 4 3 0 3-4 3-3 1-2-1-1-3 0-4zM238 207l5-1 4 1 3 3 0 3-1 3-5 6-14 12-20 13-21 9-12 3-6 0-3-2-1-5 1-3 10-9 27-18z"/><path fill="#a4d3ed" d="M170 96l4-2 3-1 9 2 15 6 14 7 14 9 14 12 4 6 1 3-1 3-4 2-9-1-33-16-25-18-6-6-1-3zM107 132l1-1 3 0 3 3 2 4 2 9 2 24-1 15-2 23-3 9-3 2-3 0-3-2-3-6-3-12-2-17 0-15 2-16 3-13zM232 210l11-2 4 2 1 3-1 3-4 6-14 12-19 12-21 9-12 3-3 0-4-3-1-3 3-6 12-9 23-15z"/><path fill="#9bd0ec" d="M173 96l4-1 9 1 15 5 13 7 14 9 11 9 5 6 2 6-3 3-9 0-18-8-14-7-17-12-11-9-3-6zM106 135l2-1 3 0 3 4 3 11 2 19 0 15-2 20-3 10-3 5-3 0-3-3-3-6-3-14-1-12 0-15 2-15 2-11zM236 210l7 0 3 3-1 3-6 9-15 12-14 9-15 6-15 4-7-1-2-3 3-6 15-12 19-12z"/><path fill="#92cdeb" d="M174 99l3-2 9 0 15 5 12 6 14 9 10 9 5 6 1 3 0 3-3 2-3 0-6-1-27-13-25-18-5-6zM106 138l2-2 3 1 3 4 3 14 2 19-2 18-2 15-1 4-3 4-3 0-3-3-3-7-3-13-1-12 2-24 2-10zM230 213l10-1 3 1 0 3-6 9-14 12-16 9-15 7-12 2-3-1-3-2 0-3 5-6 15-12 16-9z"/><path fill="#8ac9e9" d="M178 99l5-1 9 2 14 5 11 6 9 6 10 9 4 6 1 3-1 2-3 1-6-1-15-5-12-6-13-9-10-9-4-6zM106 141l2-2 3 1 3 5 3 16 1 13-1 17-3 16-3 5-3 0-3-3-3-7-3-22 0-12 2-12 1-7zM235 213l3 0 2 2 1 1-1 3-7 9-11 9-15 9-12 5-12 2-5-1-1-3 4-6 19-15 16-8z"/><path fill="#81c4e8" d="M179 102l4-2 6 0 9 2 13 6 10 6 11 9 5 6 1 3 0 3-4 1-6-1-22-9-10-6-11-9-5-6zM106 144l2-2 3 1 3 6 3 25 0 12-3 16-3 7-3 0-3-3-3-8-3-21 2-21zM227 216l7-1 3 1 1 3-6 9-11 9-11 7-15 6-9 2-3 0-3-2-1-1 1-3 2-3 14-12 16-9z"/><path fill="#79bfe6" d="M183 102l3-1 9 1 18 8 11 7 6 6 5 6 1 3-2 2-6 0-9-3-12-5-9-6-11-9-5-6zM106 147l2-2 3 1 2 4 3 12 1 12-1 12-2 12-3 7-3 1-3-3-3-8-2-18 2-20zM221 219l10-2 3 0 2 2-1 3-5 6-6 6-11 7-18 8-9 1-3-1-1-3 2-3 10-9 13-9z"/><path fill="#6eb8e4" d="M185 105l1-2 3 0 6 0 6 2 13 6 8 6 7 6 4 6-1 3-4 1-6-2-18-7-13-10-5-6zM106 150l2-2 3 1 2 4 2 9 1 12-2 20-3 8-3 1-3-3-3-8-1-15 1-16zM224 219l7 0 1 0 1 3-4 6-11 9-10 6-10 4-9 2-3-1-1-2 3-6 11-9 11-7z"/><path fill="#61b1e2" d="M191 105l4 0 9 3 12 6 11 9 2 3 0 3-4 1-6-1-14-6-8-6-6-6-2-3zM108 153l3 2 2 4 2 15-1 15-3 8-3 1-3-3-1-3-2-15 1-15 2-6zM219 222l6-1 3 1 1 3-9 9-9 6-13 6-7 0-2-3 8-9 8-6z"/><path fill="#54aadf" d="M194 108l7 0 12 5 9 7 3 6-3 1-3 0-11-4-12-9-2-3zM107 159l1-1 3 2 3 14-2 15-1 2-3 3-3-4-2-13 1-12zM215 225l7-1 3 1-3 6-9 7-12 5-7 0 0-3 5-6 9-6z"/><path fill="#53a4dd" d="M198 111l6 0 7 3 8 6 1 3-1 1-3 0-9-3-6-4-2-3zM106 165l2-2 3 3 1 8-1 11-3 3-3-5-1-6 1-9zM211 228l5-1 3 0 1 1-1 3-8 6-7 3-6 0 1-3 2-3z"/><path fill="#5ca0dc" d="M206 117l1-2 5 2 2 3-4 0zM210 231l4 0-2 3-5 2-1-2z"/></g></svg>
<svg x="747.1" y="539.7" width="117.0" height="117.1" viewBox="0 0 351.0 351.3" fill-rule="evenodd"><g filter="url(#wb)"><path fill="#fef7f9" d="M164 3l13-2 15 3 12 8 7 9 6 15 8 48 7 27 2 21 1 48-1 51-2 9-9 36-7 42-6 14-9 10-12 6-12 2-12-1-12-5-9-8-6-9-4-15-8-46-7-26-2-21-1-48 1-51 2-9 9-36 6-39 4-12 6-9 9-8z"/><path fill="#fdf0f4" d="M171 15l12 1 12 5 9 8 5 10 5 15 13 63 2 18 1 27 0 42-2 27-16 75-6 12-8 11-9 5-12 3-12-2-9-4-9-9-6-11-5-17-12-60-2-18-1-27 0-36 2-27 2-15 14-63 4-12 7-10 9-7z"/><path fill="#fbe9ef" d="M163 27l11-3 12 2 6 3 6 5 7 11 7 18 9 42 3 21 3 24 0 42-3 33-4 24-9 42-6 15-7 11-9 7-6 2-6 1-9-1-10-5-8-7-6-11-5-15-9-42-3-21-3-24 0-33 1-30 3-21 8-42 6-21 5-12 6-8z"/><path fill="#f9e2e9" d="M165 33l9-2 6 0 6 2 9 6 9 12 7 21 7 30 5 30 1 21 1 33-2 30-5 33-9 36-5 15-6 9-9 8-6 2-6 1-9-1-9-4-8-9-5-9-6-18-7-30-5-30-1-21-1-33 2-27 3-21 6-33 6-21 6-15 7-9z"/><path fill="#f8dbe3" d="M164 39l10-3 6 1 6 2 9 6 8 12 6 18 8 33 4 24 1 24 1 33-2 30-6 33-7 27-5 15-8 12-9 7-9 2-9-1-9-5-8-9-5-12-7-21-5-27-4-21-1-24-1-27 2-30 3-24 6-27 6-21 5-12 6-9z"/><path fill="#f6d4de" d="M168 42l6-1 6 0 9 4 6 6 8 12 6 18 6 27 4 24 2 30 0 33-3 27-4 24-6 27-5 15-8 13-9 7-9 2-9-1-9-5-8-10-5-12-6-21-6-30-3-21-1-21 0-30 2-27 4-24 6-27 5-15 6-11 6-8z"/><path fill="#f5cdd9" d="M173 45l10 1 9 6 6 8 6 12 5 18 6 27 3 24 2 30-1 24-2 27-5 27-6 24-6 15-6 9-8 7-9 2-9-1-9-6-6-8-7-15-6-21-4-24-3-24-2-27 1-24 2-27 5-27 6-24 5-13 6-10 9-7z"/><path fill="#f3c7d4" d="M166 51l5-2 6 0 9 2 9 9 5 9 6 15 6 24 3 21 3 30 0 27-1 27-5 30-6 24-5 14-6 11-9 8-9 3-9-2-9-6-6-8-5-11-6-18-5-24-3-24-1-18 0-24 1-24 3-24 5-24 4-15 6-15 7-10z"/><path fill="#f2c0ce" d="M167 54l4-2 6 0 9 3 9 8 5 9 5 15 6 24 4 24 2 24 0 27-2 27-3 24-6 24-5 16-6 11-9 8-9 3-9-1-6-4-8-9-5-12-6-18-4-18-3-21-2-24 0-27 1-24 4-24 3-18 6-18 5-13 6-8z"/><path fill="#f0b9c9" d="M167 57l4-2 6 0 9 3 6 5 7 12 7 18 5 21 3 24 2 21 0 24-1 27-4 24-5 24-5 15-7 12-8 8-9 3-9-1-6-4-6-7-6-12-5-14-5-24-3-21-2-21 0-24 1-24 3-21 4-21 5-18 5-12 6-9z"/><path fill="#efb3c4" d="M167 60l7-2 9 1 9 8 6 9 5 14 6 21 3 21 3 27 0 24-1 24-3 24-6 24-5 15-6 12-8 8-9 4-9-2-6-4-6-7-5-11-5-15-4-18-3-18-3-27 1-42 2-21 4-21 5-18 5-14 6-9z"/><path fill="#ecabbe" d="M173 60l7 0 9 6 6 7 6 13 5 16 5 24 3 24 1 21-1 21-2 24-3 21-6 21-5 14-6 10-6 6-9 3-9-1-6-4-6-8-6-14-6-18-4-24-3-21-1-21 1-21 2-24 3-21 6-21 5-14 6-10 6-6z"/><path fill="#eaa1b6" d="M167 66l7-2 9 1 8 7 6 9 6 15 5 21 3 21 2 21 0 24-1 24-4 24-5 21-5 16-6 10-6 6-9 4-9-2-6-4-6-9-4-9-5-15-4-18-3-21-2-18 0-21 1-24 3-21 3-18 4-15 5-12 6-9z"/><path fill="#e697af" d="M168 69l6-2 9 2 6 4 7 11 6 15 4 18 4 21 2 24 0 24-1 21-3 21-5 21-5 14-6 11-6 7-9 3-9-1-6-5-5-8-5-9-5-15-4-18-4-39 1-39 2-21 4-18 5-18 5-11 6-9z"/><path fill="#e48da7" d="M168 72l6-2 6 1 3 1 6 5 7 10 5 15 5 18 3 21 2 21 0 21-2 24-3 21-4 18-5 15-5 9-6 7-9 4-6 0-6-4-6-7-6-11-4-13-4-18-3-18-2-21 1-39 6-36 4-15 5-13 6-9z"/><path fill="#e184a0" d="M168 75l3-1 6-1 6 2 6 5 6 10 6 15 4 18 3 21 2 18 0 21-1 21-3 21-4 18-5 15-5 9-6 7-3 2-6 2-6 0-6-4-6-7-6-12-5-15-3-15-4-36 1-39 6-36 3-12 5-12 6-10z"/><path fill="#df7d9a" d="M168 78l6-2 6 1 3 1 6 5 6 10 5 15 5 18 4 36 0 21-1 21-3 21-5 18-5 15-6 9-6 6-6 2-6 0-6-4-6-7-4-9-4-12-5-18-4-36 1-36 2-18 3-18 8-24 6-10z"/><path fill="#dd7695" d="M168 81l6-2 6 0 3 2 6 5 6 10 4 12 4 15 3 18 2 21 0 21-1 21-3 21-4 15-5 14-6 10-6 6-6 3-6-1-6-4-6-8-4-8-4-12-4-15-4-36 1-33 1-18 4-18 7-24 6-10z"/><path fill="#db6f8f" d="M167 84l7-3 6 1 6 4 6 8 5 11 5 18 3 18 2 18 0 21-1 21-3 21-3 15-5 14-6 11-6 6-6 2-6-1-6-4-5-7-4-7-4-11-4-15-4-33 0-36 5-33 8-24 5-10z"/><path fill="#da6b89" d="M173 84l7 1 6 4 5 7 4 8 4 13 4 15 2 18 1 18-1 36-3 18-3 15-5 12-5 10-6 6-6 3-6-1-6-4-5-8-5-9-7-27-2-18-1-18 1-36 3-18 3-15 5-12 5-10 6-6z"/><path fill="#de7786" d="M168 90l6-2 6 0 6 5 6 9 5 12 3 12 3 18 2 18-1 36-2 18-3 15-4 12-6 12-6 6-6 3-6-1-6-4-5-7-4-9-6-24-4-30 1-33 4-30 3-12 5-12 3-6z"/><path fill="#e18383" d="M169 93l5-2 6 1 6 5 6 9 4 11 4 15 4 33-1 36-6 30-4 12-4 7-6 7-6 3-6-1-6-4-4-6-4-9-6-24-4-30 1-30 4-30 8-21 5-8z"/><path fill="#e48e7f" d="M170 96l7-1 6 3 4 4 5 9 4 12 3 12 3 30 0 33-6 30-4 12-5 9-4 5-6 3-6-1-3-2-6-8-3-6-7-24-3-30 0-30 5-30 4-12 4-9 3-4z"/><path fill="#e89a7b" d="M171 99l6-1 6 3 4 4 5 9 3 10 3 14 3 30-1 33-5 26-3 10-5 9-4 4-6 3-6-1-3-2-6-7-3-7-6-23-3-30 1-30 4-24 3-12 4-8 3-5z"/><path fill="#eaa478" d="M172 102l5-1 6 4 3 3 5 9 6 21 3 30-1 30-5 27-3 9-5 9-3 4-6 3-6-1-3-2-5-7-4-8-6-22-2-27 1-27 4-27 7-18 5-6z"/><path fill="#ebad76" d="M173 105l4 0 6 3 3 4 4 8 6 21 3 27-1 27-4 27-4 9-4 9-3 3-6 4-6-1-3-3-3-3-4-9-6-21-3-27 1-27 4-24 6-18 5-6z"/><path fill="#ecb675" d="M173 108l4 0 6 3 7 12 6 21 2 27-1 27-5 24-6 14-3 4-6 3-6-1-3-2-7-12-6-21-2-27 1-27 4-21 7-17 3-4z"/><path fill="#ecbd72" d="M174 111l3 0 6 4 7 11 5 21 2 24-1 24-4 23-6 14-4 5-5 3-6-1-3-2-7-12-5-21-2-24 1-24 4-22 6-15 3-4z"/><path fill="#eec370" d="M169 117l5-3 3 0 5 3 4 5 3 7 4 12 3 24 0 24-4 24-6 16-4 5-5 3-6-1-3-3-6-11-4-15-3-21 0-21 3-21 4-15 3-7z"/><path fill="#e4be6b" d="M169 120l5-3 3 0 6 5 3 4 6 18 3 21-1 24-3 21-5 15-3 5-6 4-3 0-3-1-3-3-4-8-5-15-3-21 0-21 3-21 5-15z"/><path fill="#d0af64" d="M172 123l5-1 3 2 6 8 5 15 2 21 0 21-4 21-3 9-3 6-6 4-3 0-3-1-6-9-5-15-2-21 0-21 3-18 4-12 3-5z"/><path fill="#bd9f5e" d="M171 129l3-2 3 0 3 2 3 3 3 6 3 9 2 18 0 21-2 18-3 9-3 6-3 4-3 1-3 0-3-1-6-10-3-12-2-15-1-18 3-18 3-12z"/><path fill="#a99057" d="M174 132l3 0 3 2 4 7 5 15 1 15-1 18-2 15-4 9-3 4-3 2-3 0-3-2-4-7-5-15-1-15 1-18 2-15 4-9 3-4z"/><path fill="#998250" d="M173 138l4-1 3 2 3 5 3 9 2 15 0 15-2 15-3 9-3 5-3 2-3 0-3-2-3-5-3-9-2-15 0-15 2-15 3-9z"/><path fill="#887549" d="M173 144l1-1 3 0 4 4 3 9 2 12 0 15-2 12-3 9-4 4-3 0-1-1-4-6-4-18 0-12 1-12 3-9z"/><path fill="#776642" d="M174 150l3 0 3 3 3 9 1 9-1 18-3 9-3 3-3 0-3-3-3-9-1-9 1-18 3-9z"/><path fill="#66583b" d="M173 156l1-1 3 0 3 4 2 12-1 15-1 6-3 4-3 0-3-4-2-12 1-15 1-5z"/><path fill="#584c35" d="M173 162l1-2 3 0 3 8 0 15-3 8-3 0-3-8 0-12z"/><path fill="#4a402f" d="M174 168l3 0 1 3 0 6-1 6-3 0-1-3 0-6z"/></g></svg>
<svg x="884.3" y="539.7" width="117.0" height="117.1" viewBox="0 0 351.0 351.3" fill-rule="evenodd"><g filter="url(#wb)"><path fill="#fef7f9" d="M147 3l1-3 55 0 6 15 5 18 5 42 2 9 3 6 4 4 3 1 24-1 9 1 6 2 6 4 3 4 3 9 0 6-2 6-4 6-4 3-14 4-27 0-3 2-4 6-2 12 0 18 2 12 4 7 6 2 24 1 12 2 5 3 5 6 2 6 0 6-1 6-3 6-2 3-6 4-15 3-24-1-3 1-3 3-3 6-3 14-2 42-8 27-6 15-55 0-6-15-5-18-5-42-2-9-3-6-4-4-3 0-24 0-9-1-6-2-6-4-3-4-3-9 0-6 2-6 4-6 4-3 14-3 27-1 3-2 4-6 2-12 0-17-2-13-4-7-6-2-24 0-12-3-5-3-5-6-2-6 0-6 1-6 3-6 2-3 6-3 15-3 24 0 3-1 3-3 3-5 3-15 2-42 8-27z"/><path fill="#fdf0f4" d="M156 3l2-3 35 0 9 15 6 18 4 15 4 31 3 12 3 7 3 3 3 1 18-4 9 0 6 2 8 5 3 3 2 6-1 6-2 6-6 6-13 3-9 0-12-2-3 0-3 3-2 5-3 15 0 15 2 18 3 11 3 3 3 1 18-2 9 1 6 2 7 5 3 6 0 6-3 9-7 6-6 2-9 1-21-3-3 1-3 5-3 8-3 13-2 30-3 15-9 27-9 15-35 0-2-2-7-13-6-18-4-15-5-36-5-14-3-3-3-1-18 4-13-1-7-3-3-3-3-3-2-6 1-6 2-6 6-6 13-3 9 0 12 3 3-1 3-3 2-5 3-15 0-15-2-18-3-11-3-3-3-1-18 2-9 0-6-2-7-6-3-6 0-6 3-9 7-6 6-2 9-1 21 3 3-1 3-4 3-9 3-13 2-30 3-15 8-24z"/><path fill="#fbe9ef" d="M165 3l5-3 11 0 2 1 9 8 5 9 7 15 4 15 8 45 7 27-4 27-1 30 1 12 3 17 3 10 3 3-1 3-2 1-6 16-4 19-6 39-4 18-6 15-5 9-5 7-8 5-11 0-5-3-6-6-7-12-6-15-3-12-8-44-7-28 4-27 1-30-1-12-3-16-3-11-3-3 1-3 2-1 6-16 4-19 6-39 3-15 10-24 4-6zM240 105l6-2 6 0 6 2 5 3 2 3 1 6-1 6-3 3-4 3-9 2-8-2-5-3-5-6 0-6 5-6zM94 117l11-1 10 4 3 3 5 6 0 3-1 3-7 6-7 3-9 1-9-3-4-4-1-3-1-6 3-7zM243 207l6-1 7 1 5 3 4 3 1 3 1 6-2 6-4 4-9 3-9-1-7-3-6-6-2-3 0-3 1-3 7-6zM93 222l6-1 6 0 5 1 5 3 5 6 0 3-2 6-7 6-6 2-9 0-6-3-4-5-1-3 0-6 4-6z"/><path fill="#f9e2e9" d="M173 6l7 0 6 4 7 8 7 15 7 21 10 57 1 12-1 45 2 51-11 72-6 21-8 18-8 11-3 3-6 2-3 0-6-2-6-6-6-9-6-14-7-24-9-51-1-12 1-45-2-51 11-72 6-21 8-18 8-11zM244 111l5-2 6 2 3 3 0 6-3 3-3 1-7-1-3-3-1-3 1-3zM96 123l6-1 6 2 3 5 0 3-1 3-5 4-6 0-3-1-3-3-2-3 2-6zM245 213l7-1 3 1 3 3 2 6-2 3-3 3-3 1-6 0-5-4-1-6 1-3zM96 228l6-1 6 3 2 4-2 5-6 3-6-2-3-3 0-3 0-3z"/><path fill="#f8dbe3" d="M171 12l6-1 3 1 6 4 8 11 6 12 4 15 4 21 7 36 1 15-1 42 2 51-11 69-4 18-8 18-8 11-3 3-6 2-6-1-6-4-8-11-6-12-4-15-4-21-7-36-1-15 1-42-2-51 9-60 5-24 6-15 8-14 4-4z"/><path fill="#f6d4de" d="M169 18l5-2 3 0 6 3 9 10 6 13 5 15 6 27 3 24 2 21 1 90-9 63-5 21-7 15-8 12-3 3-6 2-6-1-6-4-8-12-6-12-3-12-6-30-3-21-2-21-1-87 6-48 6-30 5-15 7-15 5-6z"/><path fill="#f5cdd9" d="M173 21l7 1 6 4 7 10 6 12 4 15 6 30 3 24 1 18 0 81-1 18-6 39-5 24-6 15-9 13-6 5-3 0-6 0-6-5-7-10-6-12-4-15-6-30-3-24-1-18 0-81 1-18 6-39 5-24 6-15 9-13 3-3z"/><path fill="#f3c7d4" d="M169 27l5-2 3 0 6 2 8 9 6 12 3 12 6 27 5 30 1 18 0 81-6 51-6 27-6 15-8 12-6 5-3 0-6 0-6-5-6-8-6-13-5-18-5-27-3-24-1-15 0-78 4-39 5-30 5-18 7-15z"/><path fill="#f2c0ce" d="M170 30l4-2 3 0 6 3 7 8 6 12 6 21 4 21 3 24 2 24 0 72-2 21-4 30-6 27-5 15-8 12-3 2-6 3-6-1-6-4-6-9-5-12-9-39-3-24-2-24 0-72 5-45 4-21 6-21 7-14z"/><path fill="#f0b9c9" d="M170 33l7-2 6 3 7 8 6 12 5 21 5 21 3 24 1 21 1 57-1 21-7 48-5 24-6 15-6 8-3 3-6 3-6-1-6-5-6-8-5-12-9-39-3-24-1-21 0-69 1-18 4-27 5-27 5-17 6-11z"/><path fill="#efb3c4" d="M170 36l4-2 3 0 6 3 6 7 6 12 5 19 5 24 3 24 1 21 0 72-6 48-6 24-5 14-6 9-3 3-6 3-6-1-6-5-6-9-4-11-6-21-4-21-2-21-1-21 0-66 4-42 5-24 5-19 6-12z"/><path fill="#ecabbe" d="M169 39l5-2 3 0 6 2 6 7 5 11 5 18 4 18 4 30 2 21 0 69-3 24-3 24-6 24-5 14-6 10-3 3-6 3-6-1-6-5-5-9-4-9-5-18-5-24-3-24-1-18 0-63 1-18 3-24 5-24 5-18 6-14z"/><path fill="#eaa1b6" d="M170 42l4-2 3 0 6 3 6 8 5 12 5 18 4 18 3 24 2 27-1 60-1 21-4 27-5 21-6 18-8 11-6 3-6-1-6-5-6-11-4-12-5-21-4-21-3-39 1-60 1-21 4-24 4-21 6-18 6-10z"/><path fill="#e697af" d="M171 45l6-1 6 3 6 8 5 14 5 18 4 18 3 24 1 24-1 60-1 18-4 27-5 18-6 18-7 10-6 3-6-1-6-5-5-10-4-12-5-18-3-18-3-21-1-24 1-57 1-18 3-24 5-21 5-16 6-11z"/><path fill="#e48da7" d="M172 48l5-1 3 2 6 5 5 9 5 15 4 18 3 21 3 45-1 54-6 42-4 18-6 16-6 8-6 4-6-1-6-6-6-12-5-15-3-15-4-24-2-42 1-54 6-42 4-18 6-15 6-9z"/><path fill="#e184a0" d="M173 51l4 0 3 1 6 6 5 11 5 15 3 15 4 24 2 45-1 51-6 39-4 15-5 15-6 9-6 4-6-2-6-6-5-11-5-15-3-15-4-24-2-45 1-51 5-36 5-18 5-14 6-10z"/><path fill="#df7d9a" d="M174 54l6 1 6 7 5 10 5 15 6 39 2 45-1 48-6 39-4 15-5 12-5 8-6 4-6-1-6-7-5-10-5-15-6-39-2-45 1-48 6-39 4-15 5-12 5-8z"/><path fill="#dd7695" d="M169 60l5-3 6 2 6 7 6 12 4 15 3 18 4 39 0 57-2 18-3 24-4 18-5 13-6 10-6 4-6-1-3-3-6-10-5-13-6-33-3-33 0-51 3-36 4-21 4-14 6-13z"/><path fill="#db6f8f" d="M170 63l4-3 3 0 3 2 6 7 5 12 5 15 3 21 3 36 0 54-2 21-3 21-4 15-4 12-6 11-6 4-3 0-3-1-3-3-6-11-4-12-7-33-2-33 0-48 3-33 3-18 4-16 6-14z"/><path fill="#da6b89" d="M170 66l4-2 3 0 3 1 6 7 5 12 4 15 4 21 3 33-1 51-1 21-4 21-3 15-4 12-6 10-6 5-3 0-3-2-3-3-4-7-5-12-7-33-3-33 0-48 3-33 4-18 4-15 5-12z"/><path fill="#de7786" d="M172 69l5-1 6 5 5 8 4 11 7 34 2 39-1 45-5 36-4 15-5 12-3 6-6 4-3 0-3-1-3-3-5-9-4-12-7-33-2-39 1-42 4-33 3-15 4-12 6-11z"/><path fill="#e18383" d="M170 75l4-2 3 0 3 1 5 7 4 8 4 13 3 18 3 33 0 48-3 33-4 18-4 12-5 10-6 5-3 0-3-2-3-3-4-7-3-9-7-30-2-30-1-45 3-30 4-21 4-12 3-8z"/><path fill="#e48e7f" d="M172 78l2-1 3 0 3 1 6 9 4 9 6 30 3 36-1 42-4 33-3 15-5 13-3 5-6 5-3 0-3-2-3-3-3-6-5-12-6-30-2-33 1-39 3-30 6-27 4-9z"/><path fill="#e89a7b" d="M173 81l4 0 3 1 3 4 3 5 4 11 6 30 2 36-1 36-4 30-3 15-4 11-3 6-3 3-3 2-3 0-3-2-3-3-3-6-4-11-6-30-2-36 1-36 4-30 3-15 4-11 3-5z"/><path fill="#eaa478" d="M170 87l4-2 3 0 3 1 6 10 7 27 4 33-1 42-3 30-4 18-3 10-3 5-3 4-3 2-3 0-3-2-3-4-5-12-6-24-3-30 1-42 2-27 6-24 3-9z"/><path fill="#ebad76" d="M171 90l3-2 3 0 3 2 3 4 4 8 6 27 3 33-1 36-3 30-6 23-4 7-5 5-3 0-3-2-3-4-6-15-5-23-2-30 1-36 2-27 7-26 3-6z"/><path fill="#ecb675" d="M173 93l4-1 3 2 5 8 4 12 4 21 2 33-1 33-3 27-6 21-5 8-3 2-3 0-3-2-3-4-6-16-4-24-2-30 1-33 2-24 6-21 3-7z"/><path fill="#ecbd72" d="M174 96l3 0 3 2 3 4 6 17 4 22 1 30-1 33-3 24-7 21-3 4-3 2-3 0-3-2-3-4-6-17-4-22-1-30 1-30 3-24 3-12 4-12 3-4z"/><path fill="#eec370" d="M171 102l3-2 3 0 3 2 6 12 4 18 3 30 0 36-3 24-3 12-4 11-3 4-3 2-3 0-3-2-3-4-4-11-4-18-2-27 0-33 3-24 4-18z"/><path fill="#e4be6b" d="M172 105l2-1 3 0 3 2 6 12 4 20 2 27 0 33-3 23-3 12-3 7-3 5-3 3-3 0-3-3-3-5-4-9-4-21-1-24 0-33 3-21 3-15 3-6z"/><path fill="#d0af64" d="M172 111l2-1 3 0 3 2 5 11 4 18 2 24-1 33-2 21-5 15-3 5-3 3-3 0-3-3-3-5-3-8-3-19-2-21 0-24 2-24 5-18z"/><path fill="#bd9f5e" d="M172 117l2-2 3 0 3 3 3 5 4 18 2 24 0 28-3 23-3 12-3 6-3 2-3 0-3-2-4-9-4-18-1-21 0-24 2-21 3-15z"/><path fill="#a99057" d="M172 123l2-2 3 0 3 3 3 6 3 14 2 21 0 18-2 24-3 14-3 7-3 2-3 0-3-2-3-7-3-14-2-21 0-18 2-21 3-17z"/><path fill="#998250" d="M172 129l2-2 3 0 4 5 4 15 1 18 0 18-1 21-4 15-4 5-3 0-3-3-3-8-2-12-1-15 0-15 1-21 2-11z"/><path fill="#887549" d="M173 135l1-1 3 0 3 5 3 11 2 18 0 15-2 18-3 12-3 4-3 0-4-7-2-9-2-18 0-15 2-18 3-11z"/><path fill="#776642" d="M173 144l1-1 3 0 3 6 3 22-2 27-1 5-3 6-3 0-3-6-3-23 2-24 1-7z"/><path fill="#66583b" d="M174 150l3 0 1 3 2 7 1 11-1 20-3 11-3 0-1-4-2-7-1-11 1-20z"/><path fill="#584c35" d="M174 159l0-1 3 0 3 13 0 9-3 13-3 0-3-13 0-9z"/><path fill="#4a402f" d="M174 171l0-1 3 0 0 11-3 0z"/><path fill="#f7fbfd" d="M240 51l6-1 9 0 6 1 6 3 6 6 2 6 0 6-3 6-5 4-12 3-12 0-9-4-3-3-2-6 0-9 2-5 3-3zM92 60l7-1 9 1 6 2 6 4 3 6 1 9-1 9-5 6-10 3-17 0-10-3-6-6-3-9 3-9 6-7zM238 147l11-1 12 0 9 3 7 4 4 6 2 9-2 9-3 6-3 3-6 3-14 2-15 0-5-2-4-3-4-9 0-15 1-6 3-4zM82 162l11-2 12 0 9 1 6 4 3 6 2 12-2 11-4 7-8 4-15 0-12-1-6-3-4-3-5-9-1-6 1-6 4-9 3-3zM241 252l11 0 9 0 9 3 4 3 4 6 0 9-2 6-4 6-5 3-6 3-12 1-12-2-6-5-4-9 0-6 1-8 2-4 3-3zM90 267l12-1 9 1 6 3 3 3 2 6 1 6-2 6-4 6-9 4-9 1-9-2-9-6-5-9 1-9 5-6z"/><path fill="#f1f7fc" d="M243 60l9-1 5 1 4 3 3 6-3 6-5 3-4 1-6 0-6-3-3-4 0-3 2-6zM98 66l7 0 6 2 3 2 3 5 1 6-1 6-2 3-4 3-9 2-9-1-6-3-4-4-1-6 2-6 6-6zM243 150l6-1 9 1 6 2 6 4 4 6 1 9-2 6-5 6-7 4-12 1-9-2-6-3-4-9 0-12 4-7 3-3zM89 165l7-1 9 0 7 1 5 4 3 5 1 9-1 9-5 6-7 3-12 1-9-3-6-4-2-3-2-6 0-9 4-7zM240 258l6-2 9 1 6 1 4 3 3 3 1 6-2 6-2 3-4 4-9 2-9-1-6-3-3-5-1-9 3-6zM95 273l10 0 6 2 3 4 0 3-2 6-4 3-6 2-6-1-6-4-2-3 0-6 2-3z"/><path fill="#ebf4fb" d="M99 75l4 0 5 3 1 3-1 3-3 3-6 1-5-4-1-3 1-3zM241 156l5-2 6 0 6 1 6 4 2 3 2 6-1 6-3 4-6 4-6 1-6 0-7-3-4-6-1-6 1-6 2-3zM97 168l5 0 6 1 4 2 4 6 1 6-1 6-2 3-6 4-6 1-9-1-6-4-2-3-2-6 1-6 5-6zM247 264l5 0 5 3 1 3-3 5-6 1-6-3-1-3 1-3z"/><path fill="#e7f2fa" d="M242 162l7-3 6 1 3 2 3 6-2 6-4 3-3 1-6-1-3-1-3-5 0-3zM96 174l3-1 6 1 4 3 2 6-1 3-2 4-6 2-6-1-3-2-2-3 0-6 1-3z"/></g></svg>
<svg x="1021.6" y="539.7" width="117.2" height="117.1" viewBox="0 0 351.6 351.3" fill-rule="evenodd"><g filter="url(#wb)"><path fill="#fef7f9" d="M147 3l1-3 55 0 12 30 1 9-1 18 1 12 2 12 3 6 4 3 3 1 36 0 15 3 8 5 4 6 2 6 0 9-2 9-5 6-4 2-6 2-9 2-39 1-6 3-2 5-2 12 0 12 1 11 4 7 2 2 6 2 36 1 9 1 6 2 6 4 4 6 1 6 0 9-1 6-3 6-3 3-5 3-17 3-36 1-5 2-3 3-3 12-1 18 2 15 4 11 3 1 15-4 18 0 7 1 5 3 1 3 0 3-3 6-4 3-6 3-9 1-12-3-5-4-7-5-3-1-3 3-6 10-10 23-55 0-12-30-1-9 1-18 0-12-3-12-3-6-4-3-3-1-36 0-15-3-8-5-4-6-1-6-1-9 3-9 4-6 4-2 6-2 9-1 39-1 6-4 3-5 2-12 0-12-2-11-3-7-3-2-6-2-36 0-9-1-6-2-6-5-2-3-2-6-1-9 1-6 2-6 5-6 5-3 16-3 36 0 6-3 2-3 4-12 1-18-3-15-4-10-3-2-15 4-18 1-7-2-4-3-2-3 0-3 4-6 4-3 5-2 9-1 12 2 6 4 6 6 3 0 3-3 6-9z"/><path fill="#fdf0f4" d="M155 3l2-3 37 0 6 9 10 24 2 9 3 33 1 7 3 7 3 3 3 1 30-1 11 1 7 2 6 3 4 4 3 6 1 6 0 9-2 6-3 3-6 4-6 2-12 2-30-1-6 3-3 4-2 13-1 15 3 15 3 6 6 3 30-1 10 1 8 3 6 3 4 6 2 6 0 9-2 6-4 6-3 3-6 3-18 2-30 0-3 1-3 3-3 8-1 10-1 36-1 9-13 30-6 9-37 0-5-9-10-24-2-9-2-22-2-14-3-9-4-5-6-1-30 1-15-3-6-3-4-4-3-6-1-6 1-9 2-6 2-3 6-4 6-2 12-2 30 1 6-2 3-5 3-13 0-15-2-15-4-6-6-2-30 0-9-1-9-2-5-4-4-6-2-6 0-9 2-6 3-6 4-3 5-2 18-3 30 1 3-2 3-3 3-8 2-10 0-36 2-9 5-12z"/><path fill="#fbe9ef" d="M163 3l4-3 18 0 4 4 6 8 8 15 4 9 2 9 4 33 3 11 3 5 3 2 3 1 21-4 12 1 9 1 6 3 5 4 4 6 1 6-1 9-2 6-4 4-6 3-7 2-11 1-27-2-3 1-3 3-3 10-1 17 1 17 3 10 3 4 3 1 27-2 12 1 7 2 5 3 5 6 2 6 0 9-1 6-5 6-4 3-6 2-18 2-24-2-3 0-3 2-3 6-2 11-3 39-3 12-5 12-8 15-6 8-4 4-18 0-8-7-8-14-5-12-3-9-5-36-3-11-3-5-3-2-3 0-21 3-12 0-9-2-6-3-5-4-3-6-2-6 1-9 3-6 3-4 6-3 7-2 11-1 27 2 3-1 3-3 3-10 1-17-1-16-3-11-3-4-3-1-27 2-12-1-7-2-5-3-5-6-2-6 0-9 2-6 4-6 5-3 5-2 18-2 24 3 3-1 3-2 3-6 3-11 3-36 2-12 3-9 5-12 7-12z"/><path fill="#f9e2e9" d="M168 6l3-1 6-1 6 2 6 5 11 16 6 18 8 42 2 8 3 4 3 1 15-4 9-1 9 0 9 1 7 3 5 5 3 7 1 6-1 6-3 6-3 3-6 3-9 2-12 1-24-4-4 4-3 12-1 18 2 21 3 11 3 3 3 0 21-4 12 1 9 2 6 3 5 5 2 6 0 9-4 9-6 5-6 2-9 2-9 0-9-1-12-4-3 0-3 2-3 4-3 11-4 42-5 18-6 12-9 13-6 5-6 2-6 0-6-4-9-11-6-11-5-15-7-41-3-9-3-4-3-1-14 4-10 2-9-1-9-1-6-3-6-5-3-7-1-6 1-6 3-6 3-3 6-3 9-2 12-1 24 4 4-4 3-12 1-18-1-21-4-11-3-2-3-1-21 4-12 0-9-2-6-4-4-5-3-6 0-9 4-9 6-5 6-2 9-2 9 0 9 1 12 4 3 0 3-1 3-5 3-11 5-42 4-15 5-12 4-7 6-9z"/><path fill="#f8dbe3" d="M168 12l6-3 6 1 3 2 9 9 6 9 7 18 8 45 3 9 3 3 3 0 11-6 7-2 9-1 9 1 9 2 4 3 5 6 2 9-1 6-4 6-3 3-7 3-8 2-12-1-9-2-12-5-3 1-2 5-3 15-1 21 2 21 1 6 3 7 3 2 15-5 9-2 9 1 9 1 6 3 5 5 2 6 1 9-3 6-5 6-6 3-6 1-9 1-9-1-6-2-12-5-3 0-3 4-3 10-6 46-5 18-5 12-8 10-6 6-6 2-6-1-6-4-8-10-5-9-5-15-9-45-3-8-3-4-3 0-11 6-7 2-9 1-9 0-8-3-5-3-4-6-2-9 1-6 3-6 4-3 6-3 8-1 12 0 9 2 12 5 3-1 3-5 3-15 0-21-2-21-1-6-3-7-3-2-15 5-9 2-9 0-9-2-6-3-4-5-3-6 0-9 2-6 5-5 6-3 6-2 9-1 9 1 6 2 12 6 3-1 3-4 3-10 6-40 4-21 8-17 6-8z"/><path fill="#f6d4de" d="M172 15l5-1 3 1 9 7 8 11 6 15 10 52 6 17-5 24-2 24 2 27 2 14 3 7 3 0 7-6 8-4 9-1 9 0 9 2 6 3 4 6 2 6-2 9-4 6-6 4-9 2-9 1-9-2-8-5-7-6-3-1-3 4-3 10-7 50-6 21-5 10-6 8-6 5-6 2-6-1-6-3-6-7-6-11-5-15-10-49-6-17 6-24 1-24-1-27-3-14-3-7-3 0-7 6-8 4-9 2-9 0-9-3-5-3-4-6-2-6 1-9 4-6 6-4 9-2 9 0 9 2 9 4 6 7 3 1 3-5 3-10 7-47 5-21 4-9 5-8 6-6zM238 99l8-2 9 1 9 2 6 4 4 7 1 6-1 6-4 6-4 3-5 2-12 2-12-2-8-5-9-9-1-3 9-12zM94 216l14 0 10 3 5 3 9 9 0 3-1 3-7 9-7 5-6 2-6 1-9 0-7-2-5-2-4-4-3-6-1-6 2-6 3-6 3-2z"/><path fill="#f5cdd9" d="M167 21l7-3 6 1 3 1 8 7 6 9 4 12 5 18 9 54-3 30 0 18 4 54-6 28-4 35-5 21-6 12-9 11-9 4-6-1-9-6-6-8-4-9-7-27-8-51 3-45-1-24-3-27 0-9 5-24 5-36 4-18 6-15 6-8zM244 99l8 0 6 1 6 2 4 3 4 6 1 6-1 6-5 6-9 5-12 0-9-2-8-6-3-6 1-9 4-6 3-2zM89 114l7-2 9 0 9 2 5 3 3 3 4 6 1 6-2 6-6 6-11 4-12 0-6-1-5-3-5-6-2-9 3-9 3-3zM240 204l9-1 9 1 6 2 6 4 3 6 0 6-1 6-5 6-9 4-12 1-9-2-8-6-2-3-2-6 1-6 3-6 4-3zM89 219l7-2 9 0 9 2 5 3 3 3 3 6 0 6-2 6-7 6-8 3-12 0-9-3-6-6-2-9 2-9 3-3z"/><path fill="#f3c7d4" d="M167 24l7-3 6 1 3 1 6 5 7 11 5 12 5 21 5 36 2 12-2 45 2 54-7 60-6 24-5 12-9 11-9 4-6-1-6-3-6-7-5-10-8-30-6-36-1-12 2-45-3-48 1-15 7-51 5-21 3-9 5-9zM239 102l7-2 6 0 9 2 5 3 2 3 3 6-1 6-2 6-7 5-9 2-10-1-8-4-4-5-1-3 0-6 3-6zM94 114l8-1 6 1 6 2 5 4 4 6 1 6-3 6-2 3-8 5-9 1-9-1-5-2-4-3-3-6 0-9 3-6 3-3zM246 204l9 0 6 2 6 4 3 3 1 6 0 6-3 6-4 3-9 4-12-1-7-3-6-6-2-9 2-6 6-6zM93 219l6-1 9 1 6 2 5 4 3 6 1 6-3 6-3 3-9 5-9 0-9-2-6-5-3-7 1-9 5-6z"/><path fill="#f2c0ce" d="M174 24l6 1 6 3 6 7 5 10 9 33 4 27 1 18-1 42 2 54-7 57-6 24-4 12-9 11-3 2-6 2-6 0-6-4-6-7-5-10-8-33-4-27-1-18 1-42-2-54 7-57 5-24 5-12 8-11 3-2zM244 102l5-1 7 1 5 2 5 4 3 6-1 6-3 6-3 3-7 2-9 1-7-3-6-6-2-6 1-6 5-6zM90 117l6-2 6 0 6 0 6 3 3 3 3 5 1 6-2 6-5 5-9 3-9 0-5-2-4-2-4-7-1-6 2-6zM240 207l6-2 6 0 8 2 5 3 2 3 2 6 0 6-4 6-7 4-9 2-9-2-5-4-4-6 0-6 2-6 2-3zM90 222l6-2 6-1 6 1 6 3 3 3 3 5 0 6-3 6-6 5-6 2-9-1-7-3-5-6-1-6 1-6z"/><path fill="#f0b9c9" d="M172 27l5-1 8 4 6 6 5 9 5 15 4 21 4 27 1 15-1 42 1 54-6 57-6 24-5 12-7 8-3 3-6 2-6-1-6-4-6-7-4-10-5-18-4-15-3-27-1-15 0-42-1-51 6-54 4-21 6-18 8-11zM241 105l5-2 6 0 6 2 5 3 2 3 2 6-2 6-2 3-5 3-9 1-6-1-5-3-4-6 0-6 3-6zM94 117l8-1 6 1 6 3 3 3 1 3 1 6-3 6-3 3-6 3-8 1-6-2-6-5-3-6 1-6 4-6zM245 207l11 0 5 3 4 3 2 3 0 6-2 6-4 4-6 3-9 0-6-2-5-5-2-6 1-6 4-6zM94 222l5-1 6 0 9 4 2 3 2 6-1 6-2 3-7 4-6 1-9-1-5-4-3-6 0-6 4-6z"/><path fill="#efb3c4" d="M170 30l7-1 6 2 6 6 6 11 5 15 4 15 5 45 0 93-5 57-5 18-6 18-7 9-3 2-6 3-6-1-6-4-6-8-4-10-7-27-5-45-1-93 6-54 3-18 6-18 6-9zM246 105l9 0 6 3 2 3 1 3 0 6-4 6-5 2-6 1-6-1-5-5-2-6 1-6 3-3zM92 120l4-2 6-1 9 3 3 3 3 6-1 6-2 3-6 4-6 1-6 0-6-4-3-4-1-6 3-6zM241 210l5-2 6 0 6 2 3 2 3 4 1 3 0 6-2 3-5 4-6 2-6-1-6-2-4-6-1-6 3-6zM92 225l4-2 6-1 9 3 4 6 1 6-2 3-3 4-6 2-6 1-6-2-4-5-2-6 2-6z"/><path fill="#ecabbe" d="M168 33l6-2 6 0 3 2 6 6 5 9 5 15 4 15 3 24 2 21 1 93-6 54-4 18-7 20-6 8-3 2-6 3-6-1-6-4-5-7-4-9-5-15-3-15-4-42-1-90 5-54 3-18 6-18 5-9zM243 108l6-2 6 1 3 1 4 6 0 6-1 3-6 4-6 0-5-1-4-2-2-4 0-6 1-3zM95 120l4-1 6 0 7 4 2 3 1 6-3 6-5 3-5 1-6-1-5-3-2-3-1-6 3-6zM245 210l4-1 6 1 6 4 3 5 0 3-3 5-3 3-3 2-6 0-5-1-4-3-2-3-1-6 3-6zM95 225l4-1 6 0 6 4 3 6 0 3-3 4-3 3-6 1-6-1-3-1-3-4-1-5 2-6z"/><path fill="#eaa1b6" d="M168 36l3-2 6 0 6 2 6 7 5 8 5 15 3 15 3 24 2 21 0 87-4 54-4 18-7 18-6 10-3 2-6 3-6-1-6-4-4-7-5-12-4-12-3-15-4-42-1-87 5-51 3-18 6-18 4-8zM244 111l5-2 6 2 4 3-1 6-2 3-4 1-7-1-3-3 0-3 0-3zM96 123l6-1 6 2 3 5-1 6-4 3-4 1-6-1-3-2-2-4 0-3 1-3zM245 213l7-1 3 1 4 3 1 6-1 3-3 3-4 1-6 0-5-4-1-6 2-3zM96 228l6-1 3 1 3 2 2 4-2 5-6 3-7-2-2-3 0-3 0-3z"/><path fill="#e697af" d="M169 39l5-3 6 1 6 5 6 10 5 14 4 15 3 21 2 27 0 84-5 57-5 18-6 15-7 9-6 3-6-1-6-5-5-9-5-12-5-24-4-42-1-81 4-51 3-15 4-15 6-14zM99 126l3 0 3 1 1 2 0 3-1 2-3 1-3 0-3-3 0-3zM249 216l3 0 4 3 0 3-4 3-4 0-3-3 0-3z"/><path fill="#e48da7" d="M168 42l3-2 6-1 6 3 6 8 5 10 4 12 3 15 2 24 2 24 0 72-1 30-4 30-4 18-6 15-7 9-6 3-6-1-6-5-3-6-6-15-4-12-2-15-3-42-1-72 5-57 3-15 4-12 4-10z"/><path fill="#e184a0" d="M174 42l6 1 6 5 8 15 4 15 5 39 2 57-2 51-4 45-4 15-6 13-6 8-6 3-6-1-6-5-7-15-5-15-4-39-2-57 1-51 5-45 4-15 5-13 6-8z"/><path fill="#df7d9a" d="M173 45l4 0 3 1 6 6 6 11 5 15 3 15 2 24 2 57-1 48-5 48-3 12-6 13-6 8-6 4-6-1-6-6-6-12-5-15-2-15-2-24-2-57 1-48 5-48 3-12 5-12 6-9z"/><path fill="#dd7695" d="M173 48l4-1 6 4 8 12 5 15 5 36 2 60-1 48-5 48-4 12-4 9-6 9-6 4-6-1-6-7-6-11-4-15-4-36-3-57 2-45 4-48 3-12 5-12 6-9z"/><path fill="#db6f8f" d="M172 51l5-1 6 4 6 9 6 15 2 12 3 24 2 60-1 51-5 42-3 12-4 10-6 8-6 4-6-1-6-6-6-12-3-12-5-36-2-57 2-51 4-42 3-12 4-9 6-9z"/><path fill="#da6b89" d="M171 54l6-1 6 4 6 8 5 13 3 15 2 21 3 57-2 51-5 45-3 12-4 9-5 7-6 4-6-2-6-6-4-9-4-12-5-36-2-54 1-48 5-45 2-12 4-9 3-6z"/><path fill="#de7786" d="M174 57l3 0 3 1 6 6 4 8 4 12 4 33 3 57-2 48-5 45-4 12-4 8-3 4-6 4-6-2-6-6-4-8-3-12-4-33-3-57 2-45 4-45 3-12 4-9 4-6z"/><path fill="#e18383" d="M169 63l5-3 6 2 6 6 5 10 3 12 2 18 3 48 1 21-1 27-3 33-2 24-3 12-4 9-4 5-6 4-6-1-3-3-5-8-3-9-5-30-3-45 1-45 4-51 4-21 4-10z"/><path fill="#e48e7f" d="M170 66l4-2 6 1 6 7 4 9 5 27 3 51 0 45-5 54-3 12-4 9-3 5-6 4-6-2-3-2-4-8-3-9-4-27-4-48 1-42 4-51 4-20 3-7z"/><path fill="#e89a7b" d="M170 69l4-2 3 0 3 1 6 7 3 9 5 30 3 51 0 42-6 51-2 10-3 7-3 5-6 4-3 0-3-1-3-3-4-7-3-9-4-30-3-48 1-39 4-48 4-18 3-6z"/><path fill="#eaa478" d="M171 72l3-2 3 0 3 1 5 7 4 9 4 30 4 51-2 39-5 48-1 9-4 9-4 6-4 2-3 0-3-1-3-3-3-7-3-8-4-31-3-48 1-36 4-45 5-21z"/><path fill="#ebad76" d="M171 75l3-2 3 0 3 2 3 3 4 9 5 33 4 51-2 36-5 47-4 16-5 7-3 1-3 0-3-1-3-4-3-6-2-9-4-33-3-45 1-33 4-42 4-20 3-7z"/><path fill="#ecb675" d="M172 78l2-2 3 0 3 2 3 4 3 8 6 33 3 48-2 36-4 42-5 18-4 6-3 2-3 0-3-2-2-3-3-6-2-9-5-33-2-42 1-33 4-42 4-18 2-5z"/><path fill="#ecbd72" d="M173 81l1-1 3 0 3 2 3 5 3 10 5 35 3 42-2 33-4 39-5 18-3 5-3 2-3 0-4-4-5-15-5-39-2-36 1-30 4-39 5-21z"/><path fill="#eec370" d="M174 84l3 0 3 2 3 6 3 12 5 37 2 33-1 30-5 39-4 16-3 6-3 3-3 0-3-3-3-6-3-11-5-38-1-33 1-30 4-39 4-16 3-6z"/><path fill="#e4be6b" d="M172 90l2-2 3 0 3 3 5 14 5 36 2 33-1 30-5 36-3 13-3 7-3 3-3 0-3-3-3-7-2-10-5-36-2-30 2-27 3-33 4-19z"/><path fill="#d0af64" d="M174 96l3 0 3 4 4 11 5 33 2 30-1 27-4 26-3 16-3 9-3 3-3 0-3-3-3-12-5-33-2-30 1-27 3-26 3-16 3-8z"/><path fill="#bd9f5e" d="M174 105l3 0 2 3 4 12 5 27 1 27-1 24-2 21-4 18-2 5-3 4-3 0-3-4-3-10-4-28-2-27 1-24 3-21 4-18 1-5z"/><path fill="#a99057" d="M173 117l1-2 3 0 3 5 2 6 4 24 2 24-1 24-3 15-4 18-3 6-3 0-3-6-3-11-3-19-1-24 2-33 3-15z"/><path fill="#998250" d="M174 126l3-1 4 7 3 18 2 24-3 34-3 12-3 6-3 0-3-6-1-7-3-15-2-21 3-34 3-12z"/><path fill="#887549" d="M173 138l1-2 3 0 3 6 3 15 2 17-2 24-3 11-3 6-3 0-3-6-3-15-1-17 2-24 2-11z"/><path fill="#776642" d="M174 147l3 0 3 8 3 19-3 23-3 7-3 0-3-7-2-20 2-22z"/><path fill="#66583b" d="M174 156l3 0 3 11 1 7-1 11-3 11-3 0-3-11 0-8 0-10z"/><path fill="#584c35" d="M174 165l0-1 3 0 2 10-2 13-3 0-2-10z"/><path fill="#f7fbfd" d="M243 42l12 0 12 2 9 3 5 4 5 6 2 9 0 9-3 6-4 3-5 2-18 2-24-1-6-2-3-2-3-5-2-9 1-9 1-6 3-5 3-2 6-3zM91 54l23 0 6 2 7 4 4 9 1 12-2 12-5 6-5 2-9 1-27 0-13-3-5-3-2-3-3-6 0-6 1-9 3-6 4-4 6-4 6-2zM234 144l15-1 18 1 12 2 6 3 5 4 3 9 0 12-3 9-5 6-12 4-30 1-9-1-6-2-5-5-2-6-1-9 0-9 1-6 3-6 4-4zM75 159l15-1 21 0 9 1 6 3 3 5 2 4 1 12-1 12-5 8-3 3-6 1-27 1-15-2-6-2-5-3-4-6-2-6 0-9 1-6 4-9 4-3zM239 249l31 1 10 2 5 3 4 6 2 9-2 9-5 9-5 4-6 3-18 3-21-2-6-2-3-2-3-5-2-8 0-9 1-9 3-6 3-3 4-2zM81 264l30-1 9 2 5 2 4 6 2 12-1 9-4 8-3 3-6 3-15 2-18-2-6-3-6-3-4-5-3-6-2-9 1-6 3-6 4-3z"/><path fill="#f1f7fc" d="M235 48l8-2 12-1 9 2 8 4 6 6 3 6 1 9-2 6-3 3-5 3-14 3-18-1-6-1-6-3-4-7-1-6 0-6 4-9zM90 57l9-1 12 1 9 3 5 3 4 9 1 9-2 9-3 6-5 3-6 1-21 1-13-2-6-3-3-3-3-6-1-6 1-6 2-6 8-8zM230 147l10-2 18-1 12 2 10 4 5 6 3 9 0 9-4 9-7 6-13 3-24 1-6-1-6-3-3-3-3-6-1-12 2-12 2-5zM86 159l13-1 15 1 6 1 6 5 3 6 2 12-2 12-3 6-6 4-6 1-21 1-16-3-6-3-3-3-3-6-1-6 0-9 2-6 1-3 5-4 6-3zM232 252l11-2 15 0 12 2 8 3 5 6 2 6-1 9-3 6-8 8-12 4-18 1-6-1-6-3-4-3-4-6-1-12 0-6 3-6 2-3zM80 267l10-2 12-1 12 1 6 2 6 6 2 6 0 9-2 7-6 6-6 3-6 2-15 0-12-5-8-7-2-6-1-6 1-6 1-3 3-3z"/><path fill="#ebf4fb" d="M237 51l9-2 9 0 6 1 8 4 5 6 3 6 0 6-3 6-7 5-12 2-15-1-9-3-4-6-1-9 4-9zM89 60l10-2 9 1 9 3 6 4 3 6 2 9-2 8-3 5-3 2-6 3-15 1-15-2-8-5-2-3-2-6 0-6 2-6 4-6 3-2zM235 147l11-1 12 0 9 1 9 4 5 5 3 9-1 9-4 9-3 3-6 3-12 3-18-1-6-1-6-3-3-4-2-6-1-6 1-9 3-9 3-3zM81 162l9-2 15 0 12 1 6 4 4 6 2 9 0 9-3 9-3 3-6 3-12 2-18-1-6-2-6-3-4-5-3-6 0-6 0-6 4-9 3-3zM239 252l10-1 13 1 8 3 6 3 3 6 1 6-2 9-4 6-10 6-15 2-12-2-5-3-3-3-5-9 0-6 1-6 3-6 3-3zM89 267l10-1 9 0 6 1 6 3 5 6 1 6-1 6-3 6-8 6-9 3-12-1-10-5-4-3-3-6-1-9 3-6 3-3z"/><path fill="#e7f2fa" d="M238 54l8-2 6-1 6 1 6 3 3 2 5 6 1 6-1 6-3 3-4 3-10 2-12 0-9-3-4-5-1-9 3-6zM88 63l8-2 9 0 9 2 5 3 4 5 2 7 0 9-4 6-7 4-12 2-12-2-10-4-2-3-3-6 1-9 5-8zM241 147l11 0 9 0 9 3 5 3 4 6 2 9-2 9-3 6-9 5-15 3-15-2-6-2-3-3-2-4-2-6 0-9 1-6 3-6 3-3zM87 162l12-1 12 0 6 2 6 4 4 7 1 9-1 9-4 6-3 3-6 2-12 2-15-2-6-2-4-3-3-3-2-6-1-6 0-6 5-9 4-3zM235 255l8-2 12 0 9 2 6 3 4 3 2 6 0 6-2 6-7 7-9 4-12 1-6-2-6-2-3-3-3-5-2-9 2-9 3-3zM87 270l6-2 9 0 9 1 6 2 3 3 2 5 0 6-2 6-6 6-9 3-9 0-9-4-6-6-2-8 1-6 2-3z"/><path fill="#e3f0f9" d="M239 57l10-3 6 1 7 2 3 3 4 6 0 6-1 3-4 3-9 4-9 0-9-3-3-4-2-6 2-6zM96 63l9 0 6 1 6 4 3 3 3 7 0 6-3 6-3 3-9 4-12 0-9-2-6-5-2-3-1-6 3-9 6-6zM235 150l8-2 12 0 9 2 7 3 5 6 2 6 0 9-3 6-3 3-5 4-12 2-15 0-9-4-4-8-2-12 3-9 3-3zM94 162l8 0 9 1 7 2 5 5 3 7 0 9-1 6-5 7-9 4-15 0-10-2-6-3-3-3-3-9-1-6 2-6 2-3 4-4 6-3zM241 255l8-1 9 1 6 2 6 4 3 6 0 6-2 6-3 3-7 5-12 2-9-2-7-5-2-3-2-6 1-9 4-6zM94 270l11 0 6 1 4 2 3 3 2 6-2 6-2 3-5 4-9 2-9-1-6-4-4-7 0-6 4-6z"/><path fill="#dfeef9" d="M249 57l3 0 6 2 3 2 3 4 2 4-1 3-2 3-4 3-7 2-9-1-6-4-1-3 0-6 1-3 6-5zM93 66l6-1 6 0 10 4 3 3 2 6 0 6-3 6-6 4-9 2-9-1-4-2-5-3-3-6 1-9 5-6zM240 150l9-1 9 0 9 4 5 3 3 6 1 9-2 6-5 6-8 4-12 2-12-3-6-4-4-8 0-6 1-6 3-7zM87 165l9-2 9 0 9 2 5 3 4 6 2 9-2 9-3 4-8 5-10 2-12-2-9-5-4-7-1-6 0-6 3-6 3-3zM238 258l5-2 9 0 6 1 6 2 3 3 3 5 0 6-3 6-6 5-9 2-9 0-6-3-5-7-1-6 1-6 2-3zM92 273l10-2 9 3 3 2 2 3 0 6-2 3-6 5-5 1-7 0-5-3-3-3-2-6 2-6z"/><path fill="#dbecf8" d="M242 63l7-3 6 1 4 2 2 3 1 3-1 3-3 3-6 2-9-1-3-4-1-3 1-3zM92 69l7-2 6 0 5 2 4 3 3 3 1 6-1 6-3 3-5 3-7 1-8-1-6-3-4-6 0-6 3-5zM246 150l9 0 6 2 6 3 4 4 3 6-1 9-3 6-6 4-9 3-12 0-8-4-5-6-2-9 2-9 6-6zM92 165l7-1 9 1 6 2 6 4 3 6 0 9-2 6-4 5-9 4-12 0-9-3-6-5-3-7 1-9 2-5 3-3zM243 258l6-1 6 1 9 3 2 3 2 6-2 6-2 3-6 4-9 1-6-1-6-4-3-6 0-6 3-6zM93 276l6-2 9 2 4 3 0 6-3 3-4 3-6 0-3-1-3-2-3-5 1-4z"/><path fill="#d7eaf7" d="M246 66l3-1 6 1 1 3-1 3-6 2-3-1-2-4zM92 72l4-2 6-1 9 3 4 6 0 6-1 3-4 3-5 2-6 0-7-2-3-3-2-6 2-6zM240 153l6-2 9 1 6 1 5 3 5 6 1 6-1 6-4 6-4 3-5 2-8 1-10-2-6-3-3-7-1-9 2-6 3-3zM102 165l9 2 7 4 3 6 0 9-2 6-2 3-5 3-10 2-9-1-6-2-4-5-3-6 1-9 3-6 4-3 5-2zM241 261l8-2 6 1 5 1 3 3 2 3-1 6-1 3-5 4-6 2-6 0-5-3-4-4-1-5 2-6zM96 279l6-1 4 1 1 3-2 4-6 1-2-2-2-3z"/><path fill="#d3e8f6" d="M98 72l7 0 5 3 3 6-1 3-2 3-8 3-6-1-4-2-2-3 0-6 3-4zM244 153l5-1 8 1 7 3 3 3 3 6 0 6-3 6-3 4-6 3-9 1-9-2-6-5-2-7 1-9 4-6zM92 168l7-2 6 1 6 1 6 5 3 7 0 6-3 6-3 3-6 3-9 1-9-3-5-4-3-6 1-9 4-6zM248 261l7 1 4 2 2 3 0 6-2 3-4 3-3 1-6-1-4-3-2-3-1-3 1-4 3-3z"/><path fill="#d0e6f5" d="M99 75l5 0 4 3 1 3-1 3-3 3-6 0-5-3-1-3 1-3zM240 156l6-2 6 0 6 1 6 4 2 3 2 6-1 6-2 3-4 4-9 3-6-1-7-3-5-6-1-6 2-6zM97 168l5 0 6 1 6 3 3 5 1 3 0 6-3 6-4 3-6 2-9 0-6-2-5-6-1-6 1-6 4-6zM247 264l5 0 5 3 1 3-3 5-6 2-3-1-2-3-1-3 0-3z"/><path fill="#cce4f4" d="M244 156l5-1 6 1 6 3 3 3 2 3 0 6-2 4-3 3-6 4-6 0-6-1-5-4-3-6 0-6 4-6zM93 171l6-2 6 1 5 1 4 3 1 3 2 6-2 6-2 3-5 3-6 1-7-1-5-3-4-6 0-6 3-6z"/><path fill="#c6e1f3" d="M241 159l8-3 6 1 5 2 2 3 2 6 0 3-3 5-3 3-6 2-6-1-6-3-2-3-1-6 1-6zM96 171l6-1 4 1 5 3 3 3 1 3 0 6-5 6-5 2-6 1-6-2-4-4-2-6 2-6 2-3z"/><path fill="#bddef2" d="M246 162l6-1 3 1 3 3 1 6-2 3-5 2-3 0-5-2-2-3 0-3 1-3zM95 177l4-2 3 0 5 2 2 3 0 6-3 3-4 1-6-1-3-3-1-3 1-3z"/></g></svg>
<svg x="1173.5" y="539.7" width="117.3" height="117.1" viewBox="0 0 351.9 351.3" fill-rule="evenodd"><g filter="url(#wb)"><path fill="#fef7f9" d="M105 78l27-2 42 0 70 2 15 2 12 2 15 6 12 7 15 12 11 13 9 15 6 18 3 18-2 21-5 18-9 18-12 15-16 13-18 9-18 4-12-1-9-3-6-5-12-14-8-6-13-5-16-2-24 0-18 4-7 3-8 6-15 17-6 4-6 1-12 1-12-3-12-4-15-8-12-10-9-10-8-12-7-15-4-15-1-15 1-15 3-15 6-15 8-12 10-12 10-9 12-8 12-5 18-6zM162 123l-12 2-9 3-8 7-4 6-1 6 2 9 4 6 7 5 9 3 12 3 15 0 15-1 10-2 9-3 6-5 5-6 2-6-1-9-4-6-8-7-9-3-13-2-12-1z"/><path fill="#fdf0f4" d="M126 84l27-2 27-1 28 1 33 4 18 3 12 3 15 7 12 7 12 11 11 15 7 15 4 18 0 18-3 15-5 15-9 15-11 12-12 8-15 7-15 4-9-1-9-2-6-3-14-10-12-6-10-3-16-2-24 0-18 4-11 4-22 15-6 2-9 2-12-1-12-4-9-4-11-7-10-9-9-12-8-15-3-12-2-15 0-15 2-12 6-15 7-12 10-12 9-8 12-7 15-7 12-3zM156 123l-9 2-9 4-6 5-4 7-1 9 2 6 5 6 7 5 9 4 12 2 15 1 15-1 10-2 9-4 7-5 5-6 2-6-1-9-4-7-9-7-9-3-16-2-15-1z"/><path fill="#fbe9ef" d="M146 87l22-2 21 1 28 2 30 5 12 2 15 5 12 6 12 9 10 11 10 15 5 15 3 15-1 15-3 15-7 15-9 12-11 10-12 8-12 4-12 2-9-1-6-1-27-13-9-3-19-3-24 0-21 3-9 3-27 13-12 2-12-1-12-4-9-5-11-8-9-9-7-12-7-15-2-12-1-12 2-15 3-12 8-15 9-11 9-8 9-7 12-6 24-7zM150 123l-6 2-9 5-6 6-3 8 1 9 3 6 7 6 5 3 11 4 12 2 15 0 12-1 10-2 9-3 8-6 4-6 3-9-2-9-5-6-8-6-12-4-16-1-18 0z"/><path fill="#f9e2e9" d="M152 90l19-1 21 0 58 9 15 4 12 5 9 5 10 8 11 12 7 12 4 12 3 15-1 15-3 15-6 12-9 12-10 10-12 7-12 4-12 1-15-2-30-11-15-3-19-1-18 1-12 2-17 4-22 9-9 1-9 0-9-2-9-3-9-5-9-7-9-11-7-12-5-12-2-12 0-15 3-12 4-12 7-12 8-9 7-7 9-6 12-6 24-7zM162 120l-12 2-9 3-9 6-5 7-2 6 1 9 6 9 6 5 11 4 13 3 15 0 15-1 11-2 8-3 9-6 4-6 3-9-1-7-5-8-7-6-9-3-10-2-15-2z"/><path fill="#f8dbe3" d="M154 93l20-1 18 1 55 8 15 4 12 5 9 5 9 6 10 11 8 12 4 12 3 15 0 12-3 15-6 12-8 12-10 9-10 7-12 4-12 2-15-2-24-8-12-2-28-2-30 2-12 2-27 9-15 1-9-2-9-3-9-5-8-6-8-9-8-12-5-12-2-12 0-12 2-12 4-12 7-12 7-9 8-7 9-6 12-6 21-6zM153 120l-9 2-9 5-6 5-4 9 0 9 2 6 4 6 9 6 10 4 12 2 15 0 15-1 12-2 8-3 8-6 5-6 2-9-1-9-3-6-9-7-9-4-16-2-21-1z"/><path fill="#f6d4de" d="M154 96l17-1 18 0 58 10 12 3 12 4 9 5 9 6 9 9 8 12 5 12 2 12 1 12-3 15-5 12-8 12-9 9-12 8-9 3-12 2-15-2-33-8-31-2-33 2-33 8-9 2-9 0-9-2-9-3-15-10-9-10-5-9-5-12-3-12 0-12 2-12 5-12 7-12 5-6 9-8 9-6 12-5 18-5zM147 120l-6 2-9 5-6 7-2 7 0 9 2 6 6 8 9 5 12 4 12 1 18 0 16-1 12-4 7-4 6-6 3-6 1-9-2-9-6-8-9-5-12-4-16-1-21 1z"/><path fill="#f5cdd9" d="M155 99l16-2 18 1 58 10 21 6 9 4 9 7 9 8 8 11 5 12 2 12 1 12-3 15-5 12-6 9-9 9-11 8-9 3-12 2-12 0-36-8-31-2-30 2-39 8-12 0-9-1-9-3-14-9-9-9-6-9-5-12-3-12 0-12 2-12 5-12 5-9 7-8 8-7 10-6 9-4 15-4zM153 117l-12 3-9 5-6 6-3 7 0 9 2 9 5 6 8 6 9 4 14 2 16 1 15-1 13-2 9-4 8-6 4-6 3-9 0-6-1-6-5-8-9-6-9-3-16-2-21 0z"/><path fill="#f3c7d4" d="M158 102l13-1 15 0 31 6 33 5 12 3 9 3 15 10 9 9 6 10 5 12 2 12 0 12-3 12-5 12-6 9-8 8-9 6-12 4-12 2-12-1-36-6-28-1-27 1-39 6-15 1-15-3-15-9-8-8-6-9-5-12-3-12 0-12 2-12 5-12 6-9 12-12 9-6 9-4 15-4 33-5zM162 114l-15 1-9 3-6 3-6 8-4 9 0 9 3 9 8 9 8 5 12 3 15 2 18 0 13-2 12-3 8-5 6-6 5-9 0-9-1-6-3-6-6-8-6-3-9-3z"/><path fill="#f2c0ce" d="M169 105l14 0 10 3-7 2-9 1-12-1-6-2zM107 114l16 0 3 0 3 3-7 15-2 9 1 6 1 6 6 9 9 6 7 3 12 3 15 1 18 0 16-3 10-4 9-6 6-9 2-9-2-12-8-15 4-3 9-1 12 1 12 3 9 3 12 7 9 7 8 10 4 9 4 12 1 12-1 12-5 12-7 12-10 10-12 7-12 4-15 0-36-5-25-2-35 1-43 6-12 0-12-4-9-5-8-6-5-6-6-9-4-9-3-12 0-12 2-9 3-9 4-9 7-9 7-6 9-6 9-4z"/><path fill="#f0b9c9" d="M91 120l17-3 6 0 6 3 2 3-3 15 1 9 3 9 5 6 8 6 8 4 12 2 18 2 18-1 13-2 11-5 8-6 5-6 3-9 1-9-3-15 2-3 6-3 6 0 12 2 9 2 9 5 9 6 9 9 5 9 5 12 1 9 0 12-3 12-7 15-10 10-12 8-15 4-12 0-33-4-28-1-36 1-42 5-12-1-9-3-8-4-7-5-6-5-6-8-4-9-3-9-2-9 0-9 2-9 3-9 5-9 5-6 12-10z"/><path fill="#efb3c4" d="M90 123l15-3 6 1 4 2 2 3 1 18 3 9 6 9 8 6 15 6 24 2 15-1 13-1 12-4 8-5 6-6 5-9 1-9 1-15 3-4 6-1 6 0 15 3 9 4 9 7 8 9 5 9 4 9 2 12-1 9-3 12-6 13-11 11-13 8-12 3-15 1-33-4-25-1-36 1-39 4-12-1-9-2-9-4-6-4-6-5-6-8-7-15-2-9-1-9 3-15 8-15 12-12 8-5z"/><path fill="#ecabbe" d="M100 123l8 1 3 1 3 3 5 22 4 9 6 6 9 5 9 3 24 3 28-2 12-3 7-3 8-6 6-9 3-9 2-15 2-3 5-2 6-1 15 3 9 4 9 7 6 7 5 9 4 9 2 12-1 12-2 9-7 12-10 11-12 7-12 4-15 1-36-4-34 0-24 0-42 4-9-1-9-2-9-5-6-4-6-5-6-9-6-15-2-9 0-9 2-9 3-9 6-9 5-6 7-6 9-5 9-3z"/><path fill="#eaa1b6" d="M89 129l10-2 9 2 5 6 3 12 4 9 5 6 8 6 8 4 9 2 27 2 25-2 9-2 8-4 8-6 5-6 4-9 3-12 5-6 9-2 9 2 9 3 8 6 7 7 5 8 4 9 2 9 0 12-2 9-6 13-11 11-10 7-15 4-12 1-39-3-31 0-63 3-9-1-9-2-9-4-6-4-10-10-4-6-4-9-2-15 2-15 3-8 4-7 11-11z"/><path fill="#e697af" d="M90 132l6-1 6 0 6 4 11 21 5 6 8 7 9 4 9 2 27 2 25-2 9-2 9-4 8-7 5-6 11-21 6-4 6 0 6 1 9 4 6 4 6 6 5 7 4 9 2 9 0 9-1 9-5 12-10 12-10 7-15 5-15 1-36-2-40 0-51 2-18-2-9-4-6-4-10-9-4-6-4-9-3-15 3-15 6-13 6-7 6-4z"/><path fill="#e48da7" d="M92 135l7 0 6 2 3 4 11 18 6 6 7 5 9 3 9 2 24 2 25-1 18-5 9-6 6-6 12-18 3-4 6-2 9 0 9 4 6 4 6 7 4 6 2 6 3 9 0 9-2 9-5 12-8 10-12 8-15 5-12 0-55 0-69 0-18-2-14-6-11-9-7-12-4-15 2-15 3-9 4-6 9-9 6-3z"/><path fill="#e184a0" d="M93 138l6 0 6 4 16 20 11 8 9 4 9 2 24 1 25-1 10-2 9-3 6-3 7-6 16-20 6-4 9 1 9 3 6 5 5 6 3 6 3 6 1 9-1 15-6 12-8 10-12 7-12 4-18 1-112 0-12 0-12-3-12-5-7-5-5-5-7-13-3-12 2-15 6-12 5-6 6-5 6-3z"/><path fill="#df7d9a" d="M84 144l9-3 6 1 3 1 3 2 11 14 7 6 6 5 9 3 18 4 24 1 25-2 14-5 6-3 8-6 11-13 6-6 6-2 6 1 6 2 6 4 5 5 4 6 4 12 0 9-1 6-4 12-8 10-12 8-15 5-18 1-58 0-51 0-18-2-12-4-12-8-8-10-4-12-1-12 3-12 7-11z"/><path fill="#dd7695" d="M84 147l9-3 6 1 3 2 19 18 8 5 9 4 18 3 24 1 25-2 15-4 11-7 19-18 6-3 6 1 6 2 4 3 8 9 4 12 1 6-1 9-5 12-7 9-10 7-15 5-18 2-52 1-54-1-18-2-12-4-12-7-8-10-4-9-2-12 2-12 6-10z"/><path fill="#db6f8f" d="M84 150l9-3 6 1 6 4 11 10 8 6 14 7 18 3 24 0 25-1 15-4 12-8 18-15 6-3 6 1 9 4 8 10 3 9 0 12-4 12-7 10-12 8-12 4-21 3-49 1-48-1-21-2-12-3-12-7-9-10-4-9-2-12 2-9 4-9z"/><path fill="#da6b89" d="M85 153l8-3 6 1 6 3 17 14 7 4 9 3 18 3 24 1 22-2 15-3 13-6 20-15 6-3 6 1 9 5 5 6 4 9 0 12-4 12-7 9-10 7-15 5-21 3-46 1-42-1-24-2-14-4-10-5-7-7-6-9-2-9 0-12 2-6 4-6z"/><path fill="#de7786" d="M88 156l8-1 6 2 18 12 15 6 18 4 24 0 25-1 15-3 15-6 18-12 9-2 4 1 5 3 5 6 3 9 0 9-4 12-7 9-10 6-14 5-24 3-37 1-33-1-30-2-12-3-12-5-9-7-6-9-3-12 1-9 5-9z"/><path fill="#e18383" d="M87 162l6-3 6 1 6 2 18 10 18 6 18 2 24 0 22-1 15-3 11-5 19-10 9-2 6 3 5 6 2 6 1 9-2 6-3 6-6 8-9 5-15 5-24 4-31 1-27 0-27-2-15-3-12-3-9-5-7-7-5-9-2-9 0-6 2-5z"/><path fill="#e48e7f" d="M91 165l5-2 6 1 22 10 14 4 18 2 24 1 22-1 15-2 12-4 18-9 9-2 6 2 5 6 2 6 0 6-3 9-7 9-10 6-11 4-18 3-28 3-24 0-24-1-20-3-13-3-9-3-9-6-7-9-3-9 0-6 1-4 3-5z"/><path fill="#e89a7b" d="M96 168l3 0 6 1 18 7 15 3 15 2 24 0 25 0 15-2 12-3 18-7 6-1 6 1 3 3 3 5 0 6-3 9-4 6-9 6-11 5-20 4-23 3-21 1-21-1-19-3-17-3-12-4-9-6-6-8-3-9 1-9 3-3z"/><path fill="#eaa478" d="M95 174l7-2 27 7 12 2 48 1 31-3 30-7 7 2 2 3 2 6-3 9-5 6-9 6-8 3-13 4-21 3-22 2-18-1-18-2-18-3-12-3-11-6-7-6-5-9 0-6z"/><path fill="#ebad76" d="M101 177l7-1 24 5 12 1 42 0 28-1 33-5 6 2 2 2 1 6-3 6-5 6-7 5-11 4-13 4-18 2-19 2-15-1-32-4-13-3-12-6-7-6-4-6-1-6 1-3z"/><path fill="#ecb675" d="M108 180l36 3 45 0 25 0 27-3 6 1 2 2 1 3-2 6-5 6-11 6-8 3-29 6-27 1-30-4-12-3-12-6-8-6-4-6 0-3 1-3z"/><path fill="#ecbd72" d="M109 186l5-2 6-1 27 1 85-1 9 2 1 1 1 3-2 6-4 3-11 6-8 3-23 5-24 1-24-3-21-6-7-3-8-6-3-6z"/><path fill="#eec370" d="M123 186l48-1 52 1 9 1 4 2 0 3-1 3-8 6-15 6-20 4-24 1-24-4-13-4-6-3-8-6-1-3 0-3z"/><path fill="#e4be6b" d="M145 186l29-1 33 1 16 2 3 1 3 3 0 3-3 3-10 6-17 5-19 2-18-1-17-3-15-6-7-6 0-3 3-3z"/><path fill="#d0af64" d="M140 189l25-2 30 0 19 3 5 2 1 3-1 3-4 3-13 5-16 3-18 0-15-2-10-3-6-3-4-3-1-3 1-3z"/><path fill="#bd9f5e" d="M153 189l21-1 21 1 15 3 2 3 0 3-4 3-9 4-16 3-18-1-14-3-7-3-4-3-1-3 3-3z"/><path fill="#a99057" d="M173 189l13 1 15 2 4 3 0 3-4 3-8 3-16 2-18-2-8-3-4-3 0-3 4-3z"/><path fill="#998250" d="M162 192l12-1 15 1 8 3 0 3-4 3-7 2-9 1-9 0-9-3-4-3 0-3z"/><path fill="#887549" d="M165 195l6-1 9 0 7 1 1 3-8 3-8 0-8-3z"/><path fill="#f7fbfd" d="M152 126l13-2 18 0 12 1 13 4 9 6 4 6 1 9-1 6-5 6-5 4-9 4-10 2-12 1-15 0-10-2-10-3-5-3-7-6-3-6 0-9 3-6 5-6 6-3zM152 237l22-3 12 1 14 2 7 3 4 3 5 6 0 6-3 6-5 5-6 3-10 2-21 2-18-3-9-4-5-5-2-3-1-6 2-6 3-3 4-3z"/><path fill="#f1f7fc" d="M155 126l13-2 15 0 16 3 9 3 8 5 4 6 2 9-2 6-5 6-4 4-9 4-10 2-12 1-15-1-12-2-9-3-7-5-5-6-2-6 1-6 3-6 4-5 9-5zM158 237l19-2 17 2 9 3 4 3 3 3 1 6-1 3-5 5-13 5-15 2-18-2-12-5-5-5-1-3 1-6 3-3 4-3z"/><path fill="#ebf4fb" d="M159 126l12-1 15 0 13 2 9 4 6 4 5 6 2 6-2 9-4 6-4 3-9 4-10 2-12 1-15 0-12-2-9-3-7-5-4-6-2-6 1-6 3-6 6-6 9-4zM166 237l17 0 14 3 5 3 2 3 1 3-1 3-2 4-7 3-15 4-9 0-9-2-6-2-6-3-2-4-1-3 0-3 3-3 5-3z"/><path fill="#e7f2fa" d="M164 126l13-1 12 1 10 2 9 3 6 5 4 5 2 6-1 9-5 6-6 4-9 4-10 1-15 1-12-1-12-2-8-4-7-6-3-6 0-6 2-6 4-5 6-5 9-3zM161 240l13-2 15 2 8 3 2 3 1 3-5 5-9 4-9 1-12-1-9-4-4-5 1-3 2-3z"/><path fill="#e3f0f9" d="M171 126l21 1 10 3 9 4 6 6 2 7 0 6-3 6-7 6-6 3-11 3-12 1-12 0-12-2-9-3-8-5-5-6-2-6 1-6 4-6 4-4 9-4 9-3zM170 240l12 0 7 3 4 3 0 3-7 4-9 2-12-2-6-4 0-3 2-3z"/><path fill="#dfeef9" d="M155 129l10-2 15 0 12 1 13 4 6 3 6 7 2 8-2 6-5 6-4 3-6 3-13 3-12 1-12-1-9-1-9-3-6-3-4-5-3-6-1-6 3-6 5-6 6-3zM172 243l8 0 5 3-3 3-2 1-9 0-1-1-3-3z"/><path fill="#dbecf8" d="M157 129l11-2 15 0 12 2 10 3 8 6 4 5 1 7-1 6-5 6-5 3-6 3-12 3-12 1-12-1-9-1-9-3-6-4-4-4-3-6 0-6 3-6 4-5 7-4z"/><path fill="#d7eaf7" d="M160 129l11-1 12 0 12 2 10 3 7 5 4 6 1 6-1 6-5 6-4 3-7 3-11 2-12 1-12 0-9-2-9-3-6-4-5-6-1-6 1-6 4-6 4-3 6-3z"/><path fill="#d3e8f6" d="M163 129l11-1 12 1 9 1 10 4 6 4 4 6 2 6-2 6-4 6-5 3-7 3-13 3-12 0-12-1-9-2-7-3-5-3-4-6-2-6 2-6 4-6 6-4 9-4z"/><path fill="#d0e6f5" d="M168 129l9 0 12 1 10 2 7 3 5 4 4 5 1 6-1 6-5 6-5 3-10 4-12 2-12 0-12-2-9-2-8-5-3-3-3-6 0-6 3-6 5-5 6-3 9-3z"/><path fill="#cce4f4" d="M155 132l10-2 15-1 12 2 10 3 7 4 5 6 1 6-1 6-5 6-5 3-15 5-21 0-9-1-9-3-6-3-4-4-3-6 0-6 3-6 3-3z"/><path fill="#c6e1f3" d="M157 132l11-2 12 0 12 1 10 3 6 4 5 6 2 6-2 6-5 6-4 3-15 4-21 1-9-1-9-3-6-3-3-4-3-6 0-6 3-6 3-3 6-4z"/><path fill="#bddef2" d="M162 132l9-1 12 0 9 2 10 3 6 4 3 4 2 6-1 6-2 3-5 4-6 3-10 3-21 0-9-1-9-3-5-3-5-6-1-3 0-6 4-6 4-3 6-3z"/><path fill="#b5daf0" d="M171 132l18 1 14 5 5 4 3 5 0 6-1 3-5 6-6 3-16 4-12 0-9-1-9-3-6-3-3-3-3-6 0-6 2-3 4-5 6-3 9-3z"/><path fill="#acd7ef" d="M160 135l8-2 12 0 9 1 10 3 6 4 4 6 1 6-1 3-2 3-5 4-7 3-9 2-18 0-13-3-10-6-2-3-1-6 2-6 3-3 6-4z"/><path fill="#a4d3ed" d="M165 135l9-1 9 1 9 1 7 3 6 4 2 4 1 6-1 3-6 6-6 3-9 2-18 0-9-1-6-2-6-5-2-3-1-3 1-6 5-6 6-4z"/><path fill="#9bd0ec" d="M158 138l7-2 9-1 9 1 9 2 7 2 4 4 3 3 0 6-3 6-4 3-7 3-15 2-17-2-7-3-4-3-4-6 1-6 2-3z"/><path fill="#92cdeb" d="M162 138l9-2 9 0 9 2 6 2 6 4 3 3 1 6-1 3-7 6-14 4-15 0-12-3-6-4-2-3-1-6 3-6 4-3z"/><path fill="#8ac9e9" d="M167 138l13-1 15 4 7 6 1 6-1 3-2 3-5 3-12 3-15 0-11-3-5-3-2-3-1-6 1-3 3-4 6-3z"/><path fill="#81c4e8" d="M160 141l14-3 15 2 10 6 2 4 1 3-4 6-9 4-12 2-15-2-8-4-4-6 2-6 3-3z"/><path fill="#79bfe6" d="M164 141l13-2 12 3 6 2 3 3 2 3-1 6-7 5-9 3-12 0-9-2-6-3-3-3-1-6 4-5z"/><path fill="#6eb8e4" d="M169 141l11 0 12 3 4 3 2 3 0 3-1 3-3 3-5 2-9 2-12 0-9-3-4-4-1-3 0-3 2-3 4-3z"/><path fill="#61b1e2" d="M165 144l9-2 12 2 6 3 2 3 1 3-1 3-4 3-7 2-9 1-9-2-6-3-2-4 0-3 2-3z"/><path fill="#54aadf" d="M164 147l7-2 9 0 8 2 3 3 1 3-2 3-7 4-6 0-9 0-6-4-2-3 1-3z"/><path fill="#53a4dd" d="M171 147l10 0 5 3 1 3-2 3-5 2-6 0-6-1-3-4 1-3z"/><path fill="#5ca0dc" d="M171 153l3-2 3 0 4 2-4 2-3 0z"/></g></svg>
<svg x="1310.5" y="539.7" width="117.5" height="117.1" viewBox="0 0 352.5 351.3" fill-rule="evenodd"><g filter="url(#wb)"><path fill="#fef7f9" d="M63 81l12-2 9 1 6 2 23 14 9 3 18 2 66 1 21-2 12-4 7-3 20-12 9-2 9 0 9 3 30 9 12 5 9 6 8 8 0 130-9 9-11 8-12 6-12 3-36 6-42-1-48 7-21-1-42-6-29 1-18-1-30-5-12-4-9-5-12-8-9-9 0-130 9-8 12-7zM158 138l-21 2-9 2-5 2-4 3-3 6 0 6 1 3 2 4 6 4 12 4 21 1 36 0 19-1 12-3 9-6 3-6 0-6-4-6-6-4-6-2-21-3zM131 216l-8 3-4 3-4 6-2 6 2 6 4 6 3 2 9 3 42 2 45-2 9-2 6-3 3-3 3-6-1-9-5-6-6-4-9-3-18-1-30-1-24 1z"/><path fill="#fdf0f4" d="M65 90l10-1 9 1 24 9 17 4 87 0 21-1 11-3 22-8 15-2 18 4 24 8 9 5 9 7 7 7 4 7 0 96-11 15-15 12-18 7-12 3-15 2-21 0-12-3-9-2-2-2 4-12 1-6-1-6-3-6-7-6-7-3-24-3-54 1-15 2-10 3-7 6-3 9 0 9 5 12-5 3-6 1-18 3-15 0-21-3-18-6-9-5-9-7-9-10-6-8 0-96 10-13 14-10 21-9zM149 138l-18 2-6 2-6 4-3 4-1 6 1 6 2 3 8 6 14 4 24 1 39-1 12-1 11-3 9-6 3-6 0-6-4-6-4-3-9-4-24-2zM148 255l57 0 18 3-2 3-14 6-16 3-15 1-15-1-15-3-15-6-1-3z"/><path fill="#fbe9ef" d="M71 96l13 1 24 6 17 2 51-1 54 1 15-2 24-6 9-1 15 2 21 6 12 6 12 10 8 9 6 13 0 65-1 3-8 15-8 9-6 5-9 6-9 4-21 5-18 1-15-3-5-3-3-3-7-18-5-6-4-3-12-4-21-2-54 0-20 3-7 3-7 6-3 6-4 13-3 4-6 4-6 2-12 1-12 0-15-3-12-4-12-7-12-10-9-12-6-12 0-65 9-16 6-6 9-8 9-5 15-6 12-3zM143 138l-15 2-6 3-5 4-3 6 0 6 3 6 3 3 8 4 15 3 33 1 33-1 12-2 9-3 5-5 3-6 0-6-3-6-5-4-9-4-24-2z"/><path fill="#f9e2e9" d="M61 102l11-1 9 0 27 5 11 1 57-2 54 2 12-1 27-5 9 0 12 1 15 4 15 6 11 8 8 9 8 12 5 18 0 32-2 10-4 9-5 9-6 8-8 7-7 6-9 4-12 4-9 1-18 1-12-3-6-4-12-18-7-6-6-3-8-2-21-1-51 0-21 2-9 3-6 4-5 6-9 15-9 5-9 2-12 0-12-2-12-3-12-5-9-7-9-9-7-11-5-12-3-10 0-32 2-9 5-12 6-9 8-8 9-7 9-5zM137 138l-9 2-9 4-3 3-3 6 0 6 4 6 7 6 10 3 12 2 21 0 30 0 18-1 9-2 6-3 6-5 3-6 0-6-3-7-6-4-9-3-27-2z"/><path fill="#f8dbe3" d="M65 105l16 0 36 4 59-3 57 3 12 0 33-5 15 2 12 4 12 5 12 8 8 9 7 12 4 12 2 15-1 15-3 15-4 9-6 9-11 12-8 6-9 4-18 5-18 0-12-4-6-5-12-15-11-6-13-3-18-1-51 0-21 2-7 2-6 3-7 6-12 15-9 4-9 2-9 0-12-1-9-3-12-5-9-7-8-8-7-9-5-12-4-12-1-12 1-12 2-12 4-9 5-9 7-9 9-7 9-6 12-4zM134 138l-9 2-6 2-4 5-3 6 0 6 5 7 6 5 9 3 11 2 18 0 36 0 18-1 9-2 9-4 4-4 3-6 0-6-2-6-5-5-9-3-12-2-15 0-45 0z"/><path fill="#f6d4de" d="M67 108l14 0 36 3 44-4 18 0 60 4 39-3 12 1 12 3 15 7 9 6 9 10 5 9 5 12 2 15-1 15-3 12-3 9-5 9-12 12-15 9-18 5-15 0-12-3-6-4-13-13-11-6-12-3-21-1-54 0-18 1-9 3-6 3-17 16-9 5-9 2-9 1-18-3-12-5-9-6-7-7-7-9-6-12-3-12-2-12 1-12 2-9 4-12 6-9 8-9 10-7 9-5 12-4zM128 138l-6 2-6 4-4 6-1 6 2 6 4 6 5 3 9 3 12 2 21 0 36 0 18-1 9-2 6-3 5-5 3-6-1-9-3-6-7-4-9-3-15-1-54 0z"/><path fill="#f5cdd9" d="M163 108l28 0 48 5 42-3 15 3 18 7 9 7 9 9 6 11 4 12 2 15-1 12-3 12-5 12-9 12-12 9-15 6-15 3-9-1-9-2-9-5-11-10-7-4-9-4-12-2-69 0-23 1-9 3-6 3-21 17-9 3-9 1-15-2-15-5-12-8-8-9-7-12-5-12-2-12 1-12 2-12 5-12 8-12 9-8 9-5 9-4 18-4 12-1 33 3zM125 138l-6 2-5 5-4 8 1 6 3 6 3 3 5 4 9 3 30 2 39-1 18-1 9-2 6-3 6-5 3-6-1-9-3-6-5-4-9-3-15-1-63 0-12 0z"/><path fill="#f3c7d4" d="M144 111l17-2 18-1 21 2 39 5 42-2 15 3 12 4 12 8 7 7 7 9 5 12 2 12 0 12-2 12-4 12-9 14-12 10-15 7-15 2-9 0-9-3-6-3-16-12-5-3-9-3-12-1-72-1-21 2-8 2-6 3-21 15-9 3-9 1-12-1-12-3-12-7-9-8-8-11-4-9-3-12-1-12 1-12 4-12 7-12 7-8 9-7 9-4 18-5 15-1 33 2zM122 138l-6 3-5 6-2 6 1 6 3 6 6 6 6 3 9 2 18 1 39 0 30-2 9-2 7-5 4-6 2-6 0-6-4-7-6-4-9-3-12-1-72 0-12 1z"/><path fill="#f2c0ce" d="M151 111l19-2 18 1 54 8 39-3 15 3 12 5 10 6 8 8 7 10 3 9 3 12 0 12-2 12-5 12-8 12-11 9-14 7-15 3-15-2-9-4-19-13-8-3-12-2-78 0-18 1-13 4-25 16-6 2-9 1-12-1-12-4-12-7-9-9-7-10-4-9-2-12-1-12 2-12 5-12 6-9 7-7 15-10 18-5 15-1 24 3 9-1zM134 135l-12 1-5 3-6 5-2 6 0 9 3 6 7 6 9 4 24 2 48 0 18-1 9-2 7-3 7-6 2-6 1-9-3-6-5-5-9-3-12-1z"/><path fill="#f0b9c9" d="M158 111l18-1 18 1 48 9 30-2 12 0 12 2 12 5 10 7 8 8 6 10 3 9 2 12-1 12-2 12-4 9-9 12-10 8-12 6-15 2-9 0-9-3-23-13-7-3-12-2-15 0-69 0-15 0-8 2-8 3-16 10-9 4-9 2-9 0-12-2-9-4-10-7-8-8-6-10-4-12-1-9 0-12 3-12 3-9 7-9 7-7 15-8 15-5 15 0 24 2 9 0zM125 135l-8 2-5 4-3 6-1 9 1 6 5 6 5 4 9 3 27 2 48 0 18-1 9-2 9-6 4-6 2-6-1-9-4-6-4-4-9-2z"/><path fill="#efb3c4" d="M168 111l17 0 15 2 39 9 9 0 24-2 12 0 12 3 12 5 9 6 6 7 6 9 4 12 2 12-1 9-3 12-4 9-7 10-12 10-12 4-12 2-9 0-9-3-20-11-10-4-9-1-15-1-75 0-15 1-14 5-15 8-9 4-9 2-9 0-12-2-9-4-10-8-8-9-5-9-3-12-1-12 0-9 4-12 5-9 6-7 9-7 12-6 12-3 15-1 24 2 9 0 31-8zM119 134l-5 3-4 4-3 6 0 9 1 6 6 7 5 4 9 3 30 1 48 0 18-1 9-3 6-4 5-7 2-6-1-9-3-7-6-5-6-2-57 2-45-2z"/><path fill="#ecabbe" d="M149 114l21-2 18 0 24 4 27 9 39-4 15 2 12 5 9 6 7 7 6 9 4 9 2 9 0 12-2 12-4 9-9 12-10 9-12 5-12 2-15-2-30-14-12-3-12 0-81 0-12 1-11 3-27 13-9 2-9 0-9-2-9-4-9-5-8-8-6-9-3-9-2-9-1-12 3-12 3-9 6-9 8-7 12-7 15-5 15-1 33 4 23-8zM119 132l-5 3-6 6-2 6 0 9 3 9 5 5 5 3 9 3 27 1 51 0 18-1 9-3 6-3 4-5 4-9-1-9-2-6-5-6-6-3-6 0-51 2-51-2z"/><path fill="#eaa1b6" d="M157 114l19-1 21 1 20 6 6 3 2 3-2 3-15 3-32 2-32-2-14-3-3-3 3-3 5-3 8-3zM61 126l11-2 12 1 12 2 9 3 2 2 0 3-3 12 1 12 5 9 9 6 9 3 9 1 66 0 24-2 9-3 6-5 4-6 2-6 0-9-3-12 1-3 3-3 10-3 10-1 12-1 9 2 9 2 9 5 9 7 5 7 5 9 3 9 1 9-2 12-5 15-10 12-12 9-15 4-15-1-9-3-21-10-9-2-12-1-99 1-14 3-18 9-9 3-9 1-12-1-9-3-6-4-7-5-5-6-4-6-4-9-2-9-1-9 3-15 3-9 5-6 12-11 9-5z"/><path fill="#e697af" d="M168 114l17 0 18 3 9 3 5 3 1 3-4 3-11 2-27 2-27-2-11-2-4-3 2-3 7-4 12-3zM60 129l9-2 12 0 11 2 7 3 2 3 1 3 1 15 2 9 6 8 8 5 9 2 9 1 72 0 21-2 9-4 5-4 5-9 1-9 0-12 1-3 3-3 7-3 11-2 9 0 9 1 9 3 9 5 6 5 7 9 4 9 2 9 1 9-1 9-5 12-8 12-12 9-15 4-15-1-30-11-18-3-48 2-54-1-14 3-27 10-9 1-9 0-9-3-6-3-12-10-4-6-5-9-2-15 1-15 4-9 4-6 5-6 6-5z"/><path fill="#e48da7" d="M156 117l17-2 18 1 15 4 5 3 1 3-4 3-8 2-24 1-24-1-7-2-5-3 1-3 5-3zM59 132l10-2 9 0 12 2 6 3 3 4 3 17 3 9 6 6 8 5 18 2 75 0 18-1 6-2 6-4 7-9 3-9 1-12 4-6 5-3 7-2 9 0 9 0 9 3 9 4 8 7 5 6 4 9 3 9 0 9-1 9-4 12-9 12-12 7-12 4-15-1-27-10-18-2-51 1-57-1-12 2-26 10-9 1-9-1-9-3-6-3-11-10-7-12-3-15 2-15 6-12 10-11z"/><path fill="#e184a0" d="M163 117l13-1 15 1 10 3 5 3 1 3-7 3-24 3-24-3-7-3 1-3 5-3zM58 135l11-3 9 0 9 2 6 3 3 4 4 15 4 9 7 7 8 5 15 2 81 0 18-2 6-3 5-3 6-9 7-21 6-6 12-3 12 1 9 2 6 3 8 6 5 6 4 6 3 9 1 9-1 9-4 12-7 11-12 9-12 3-15 0-27-9-15-2-54 2-57-2-11 2-27 9-9 1-9-1-12-5-11-9-7-12-3-15 2-15 6-12 9-9z"/><path fill="#df7d9a" d="M157 120l13-2 15 0 12 3 4 2 1 3-6 3-8 1-15 1-12-1-4-1-7-3 1-3zM67 135l14 0 9 4 4 5 8 21 6 6 6 5 5 2 15 1 42 0 42 0 15-1 9-4 6-6 5-9 6-15 4-5 10-4 14 0 9 3 6 3 6 5 6 7 3 6 3 9 0 15-4 12-7 9-10 8-12 4-15 0-27-9-12-1-57 3-59-3-12 2-24 8-15 0-9-3-6-3-10-9-7-12-2-15 1-9 2-6 7-10 6-6 6-4z"/><path fill="#dd7695" d="M164 120l12-1 12 1 8 3 1 3-9 3-12 1-11-1-9-3 0-3zM64 138l14-1 9 4 6 6 6 15 6 8 6 5 8 4 12 1 45-1 45 1 15-2 9-5 7-8 8-18 6-6 9-4 12 1 9 3 6 3 9 9 4 6 3 9 0 6 0 9-5 12-7 9-10 7-12 3-12-1-24-7-15-1-36 3-21 0-62-3-9 1-24 7-15 1-12-5-10-8-7-12-3-12 2-12 2-6 4-7 9-8 6-3z"/><path fill="#db6f8f" d="M162 123l8-2 9 0 11 2 1 3-12 2-9 0-8-2zM62 141l13-1 6 1 6 3 5 6 7 15 5 6 7 6 6 2 11 1 48-1 48 1 12-1 10-5 5-6 10-18 5-6 9-4 12 0 12 5 9 8 7 12 1 6 0 9-4 12-6 9-10 7-12 4-12-1-24-6-12-1-36 3-24 1-21-1-41-3-9 1-24 6-9 1-6-1-12-4-9-8-6-10-3-12 2-12 4-9 9-9z"/><path fill="#da6b89" d="M173 123l6 0 1 3-7 0zM61 144l11-2 6 1 6 2 6 6 12 20 7 6 8 3 11 1 54-2 45 2 9-1 9-4 8-8 10-17 3-4 9-4 9-1 8 2 6 3 10 9 5 12 0 12-2 10-6 9-9 7-12 4-12-1-24-6-9-1-39 5-24 1-24-1-33-4-8-1-30 7-12 1-12-4-9-7-6-9-3-10 1-12 3-9 8-9z"/><path fill="#de7786" d="M64 147l11-1 9 4 5 6 12 18 7 5 6 3 11 1 33-3 21 0 51 3 9-1 6-3 9-8 9-14 6-7 6-3 9-1 6 1 6 3 9 8 4 10 1 12-3 9-7 9-9 6-10 2-9 0-21-5-9-1-36 5-21 2-33-1-41-6-9 1-21 5-12 0-9-3-9-6-6-9-3-11 1-9 5-10 6-6z"/><path fill="#e18383" d="M59 153l7-2 6-1 9 3 6 6 15 19 6 4 6 2 8 0 33-3 21-1 21 1 33 3 9 0 6-2 6-4 18-23 6-3 6-2 9 2 9 5 6 10 1 10-2 9-5 9-9 6-9 2-12-1-24-5-6 0-31 7-23 2-18 0-18-1-38-8-9 1-21 5-9 0-9-2-6-4-6-6-4-8-1-9 2-9 6-8z"/><path fill="#e48e7f" d="M63 156l9-1 9 3 26 31-4 3-8 3-14 4-12 0-9-4-7-9-2-6-1-6 4-10 4-5zM275 156l6-1 9 1 6 4 3 5 3 6 0 9-2 6-4 6-9 6-12 1-8-1-10-3-8-3-4-3 12-13 12-15zM139 183l31-2 30 1 29 4 9 3 0 3-11 6-15 4-18 3-18 1-18-1-18-3-14-4-12-6 0-3z"/><path fill="#e89a7b" d="M62 162l4-2 6-1 6 2 3 2 6 7 6 10 2 6-1 3-7 4-12 2-9-2-6-4-4-6-1-9 2-6zM274 162l7-3 6 1 6 4 4 7 0 9-2 6-5 5-6 3-6 1-9-1-9-4-3-4 2-6 4-6 6-8zM144 183l29-2 30 1 19 4 6 3 2 3-3 3-5 3-9 3-16 3-21 1-21-1-16-3-9-3-5-3-2-3 1-3 7-3z"/><path fill="#eaa478" d="M64 168l5-2 3-1 6 3 8 9 1 6-1 3-4 3-4 1-6 0-6-3-4-4-1-6 1-6zM274 168l4-2 6 0 4 2 3 3 1 3-1 6-3 6-4 3-9 1-4-1-5-3-1-3 2-6zM149 183l27-1 27 1 14 3 6 3 2 3-2 3-5 3-8 3-16 3-18 1-18-1-15-3-9-3-5-3-1-3 1-3 6-3z"/><path fill="#ebad76" d="M154 183l22-1 23 1 14 3 6 3 2 3-2 3-4 3-9 3-15 3-15 0-15 0-14-3-9-3-5-3-2-3 2-3 6-3z"/><path fill="#ecb675" d="M159 183l20-1 18 2 13 2 6 3 2 3-2 3-5 3-8 3-12 2-15 1-15-1-12-2-8-3-5-3-1-3 2-3 6-3z"/><path fill="#ecbd72" d="M166 183l19 0 15 2 6 1 6 3 3 3-2 3-5 3-5 2-12 2-15 1-15-1-12-2-5-2-5-3-1-3 2-3 6-3z"/><path fill="#eec370" d="M150 186l17-2 21 0 15 2 7 3 2 3-2 3-5 3-11 3-15 1-15 0-15-3-7-4-1-3 2-3z"/><path fill="#e4be6b" d="M153 186l17-2 18 1 15 2 4 2 2 3-1 3-5 3-9 2-15 2-15-1-14-3-5-3-2-3 3-3z"/><path fill="#d0af64" d="M159 186l17-1 15 1 12 3 2 3-1 3-6 3-16 3-21-1-6-2-6-3-2-3 3-3z"/><path fill="#bd9f5e" d="M166 186l22 0 10 3 3 3-2 3-7 3-16 2-16-2-7-3-2-3 3-3z"/><path fill="#a99057" d="M159 189l11-2 12 0 11 2 4 3-2 3-7 2-9 2-9-1-12-3-2-3z"/><path fill="#998250" d="M165 189l17-1 5 1 5 3-3 3-4 1-15 1-7-2-3-3z"/><path fill="#887549" d="M167 192l9-2 10 2-6 3-4 0-3 0z"/><path fill="#f7fbfd" d="M169 72l10-1 12 3 24 10 3 3 1 3-2 3-8 3-12 2-21 0-21 0-12-2-7-3-3-3 1-3 6-4 15-7zM134 141l15-2 21-1 27 1 18 1 9 3 7 4 4 6 0 6-3 6-3 3-6 3-11 3-15 1-27 0-33-2-8-2-5-3-4-3-3-6 0-6 4-6 5-3zM136 216l16-2 21 0 27 0 15 2 10 3 5 3 4 6 0 6-1 3-6 5-6 3-12 3-36 2-33-3-9-2-6-3-5-5-2-3 1-6 4-6 4-3z"/><path fill="#f1f7fc" d="M162 81l11-2 12 1 13 4 4 3 2 3-3 3-4 1-21 2-21-2-4-1-2-3 1-3 2-1zM136 141l13-2 24 0 27 0 15 2 9 3 6 3 4 6 1 6-3 6-4 3-6 3-10 3-15 1-27 0-21-1-12-1-9-3-6-3-3-5-1-6 1-5 3-4 6-3zM139 216l13-1 21-1 24 1 15 1 11 3 5 3 3 3 1 6-2 6-4 3-5 3-9 3-15 2-18 0-33-1-9-2-9-3-5-5-2-3 0-6 3-6 5-3z"/><path fill="#ebf4fb" d="M139 141l16-2 24 0 21 1 15 1 9 3 6 4 3 5 1 6-3 6-4 3-6 3-12 3-42 1-18-1-12-1-9-3-6-4-2-4-2-6 3-6 3-3 7-4zM142 216l34-2 34 2 11 3 5 3 3 3 1 6-3 6-5 3-16 5-30 2-30-2-16-5-5-3-2-6 1-6 2-3 5-3z"/><path fill="#e7f2fa" d="M142 141l16-1 24-1 18 1 15 2 9 3 6 4 3 4 0 6-3 6-4 3-6 3-11 2-18 2-24 0-18-1-12-2-9-3-5-4-3-3-1-6 3-6 3-3 6-3zM145 216l34-1 30 2 10 2 5 3 3 3 1 6-2 3-5 5-6 2-12 3-30 2-27-2-9-3-8-4-4-4 0-5 1-3 5-5z"/><path fill="#e3f0f9" d="M144 141l35-2 18 1 15 2 9 2 6 3 5 6 0 6-3 6-5 4-9 3-12 2-24 1-27-1-15-2-10-4-4-3-3-6 1-6 1-3 4-3 5-3zM149 216l33-1 27 2 8 2 5 3 3 3 1 3 0 3-6 6-8 4-15 3-15 1-18 0-18-3-12-4-5-4-2-6 1-3 2-3 6-3z"/><path fill="#dfeef9" d="M147 141l35-1 30 2 9 3 6 3 4 5 1 6-4 6-7 5-9 2-15 2-30 0-21-1-12-2-6-3-4-3-3-6 1-6 1-3 4-3 6-3zM153 216l32-1 24 3 6 1 5 3 3 3 1 3-1 3-5 6-8 3-13 3-15 1-18 0-15-2-12-4-6-4-2-3 0-3 0-3 3-3 6-3z"/><path fill="#dbecf8" d="M150 141l35-1 27 3 9 2 6 4 3 4 1 6-3 6-7 4-9 3-15 2-30 0-21-1-12-2-5-3-4-3-3-6 0-6 2-3 4-3 6-3zM158 216l27 0 21 2 6 1 6 3 3 3 1 3-1 3-2 3-7 4-12 3-18 2-18 0-15-2-11-4-4-3-3-3-1-3 1-3 3-3 9-4z"/><path fill="#d7eaf7" d="M153 141l32-1 27 3 9 3 6 4 2 3 1 6-3 6-6 4-12 3-15 2-27 0-21-1-12-3-8-5-3-3-1-6 3-6 4-3 7-3zM164 216l24 0 18 2 11 4 2 3 1 3-1 3-3 3-7 4-12 3-15 1-18 0-15-2-9-3-7-6-1-3 1-3 4-4 9-3z"/><path fill="#d3e8f6" d="M157 141l31 0 24 2 9 3 5 4 3 3 0 6-3 6-8 5-12 3-18 1-27 0-18-2-12-4-7-6-1-3 1-6 6-6 10-4zM145 219l22-3 30 1 11 2 7 3 2 3 1 3-1 3-3 3-6 3-8 2-18 3-21-1-16-4-6-3-4-3-1-3 1-3 3-3z"/><path fill="#d0e6f5" d="M162 141l29 0 22 3 8 3 4 3 3 3 1 6-4 6-7 4-12 3-18 2-27 0-18-2-12-4-6-6-1-3 1-6 6-6 12-4zM147 219l23-2 27 1 8 1 8 3 3 3 0 3-1 3-4 3-11 4-18 3-21-1-15-3-5-3-3-3-2-3 1-3 3-3z"/><path fill="#cce4f4" d="M168 141l29 1 18 3 9 5 3 3 1 6-3 6-10 5-12 2-18 2-24-1-18-1-11-4-4-3-2-3-2-6 2-3 6-6 14-4zM150 219l23-2 24 1 14 4 3 3 0 3-1 3-4 3-12 4-18 2-18-1-12-2-5-3-4-3-2-3 1-3 3-3z"/><path fill="#c6e1f3" d="M142 144l13-2 18-1 18 1 15 1 12 4 6 3 2 3 1 6-1 3-5 5-6 3-9 2-33 2-30-3-12-4-5-5-1-3 1-6 3-3 5-3zM152 219l21-2 24 2 12 3 3 3 1 3-2 3-4 3-10 3-18 2-18-1-15-4-4-3-2-3 0-3 4-3z"/><path fill="#bddef2" d="M146 144l12-2 18 0 18 0 12 2 9 3 7 3 2 3 2 6-1 3-4 4-6 3-9 2-30 2-31-2-8-2-6-3-3-4-1-3 1-6 3-3 6-3zM161 219l18-1 15 2 10 2 4 3 0 3-2 3-9 4-9 2-12 1-12-1-9-2-8-4-2-3 0-3 4-3z"/><path fill="#b5daf0" d="M150 144l29-2 27 3 8 2 6 3 3 3 1 6-1 3-3 3-5 3-11 3-13 1-21 1-18-1-12-3-8-4-3-3-1-3 2-6 7-5zM155 222l15-2 18 0 10 2 5 3 0 3-3 3-9 3-12 2-12-1-12-3-5-4 0-3z"/><path fill="#acd7ef" d="M155 144l27-1 24 3 12 5 3 3 2 5-2 3-2 3-6 3-13 3-15 1-21 0-15-1-9-3-6-3-3-3-1-3 0-3 2-3 3-3 8-4zM162 222l14-1 14 1 7 3 0 3-4 3-8 2-9 1-9-1-7-2-5-3 1-3z"/><path fill="#a4d3ed" d="M161 144l24 0 21 2 6 3 6 3 3 4 0 3-1 3-3 3-6 3-11 3-15 1-21 0-15-2-9-2-4-3-3-3-1-3 0-3 2-3 3-3 9-4zM163 225l7-2 9 0 10 2 1 3-8 3-9 0-10-3z"/><path fill="#9bd0ec" d="M171 144l20 1 15 2 7 3 4 3 2 3 0 3-1 3-3 3-7 3-11 2-12 1-18 0-15-1-12-3-6-5-1-3 0-3 2-3 4-3 13-4z"/><path fill="#92cdeb" d="M150 147l23-2 24 1 9 2 6 3 5 5 1 3-2 3-3 3-7 3-9 2-24 1-21-2-13-4-3-3-1-3 0-3 2-3 5-3z"/><path fill="#8ac9e9" d="M153 147l23-2 23 2 7 2 6 3 4 4 0 3-1 3-6 4-9 3-12 1-15 1-15-1-9-2-8-3-3-3-2-3 1-3 2-3 4-3z"/><path fill="#81c4e8" d="M157 147l19-1 21 1 9 3 6 3 2 3 0 3-1 3-7 4-9 3-15 1-15 0-15-2-9-3-4-3-1-3 1-3 2-3 5-3z"/><path fill="#79bfe6" d="M162 147l17-1 18 2 7 2 6 3 2 3 1 3-2 3-2 2-6 3-9 2-12 1-15 0-12-2-10-3-4-3-1-3 0-3 3-3 6-3z"/><path fill="#6eb8e4" d="M168 147l17 0 15 3 8 3 3 3 0 3-1 3-7 4-8 2-13 1-24-1-11-3-4-3-2-3 1-3 3-3 7-3z"/><path fill="#61b1e2" d="M155 150l18-2 18 1 7 1 7 3 3 3 1 3-2 3-4 3-9 2-15 2-18-1-11-3-4-3-2-3 1-3 3-3z"/><path fill="#54aadf" d="M160 150l16-1 17 1 9 3 3 3 1 3-2 3-5 3-17 3-21-1-7-2-6-3-2-3 1-3 4-3z"/><path fill="#53a4dd" d="M166 150l13 0 12 1 9 3 2 2 1 3-2 3-6 3-19 2-18-2-7-3-2-3 1-3 4-3z"/><path fill="#5ca0dc" d="M158 153l12-2 15 0 9 2 5 3 1 3-2 3-8 3-14 1-12-1-10-3-2-3 1-3z"/><path fill="#669bdb" d="M163 153l13-1 12 1 8 3 1 3-2 3-10 3-18 0-9-3-3-3 2-3z"/><path fill="#6f97da" d="M170 153l15 1 7 2 2 3-4 3-14 2-14-2-3-3 1-3z"/><path fill="#7893d8" d="M165 156l8-1 9 0 5 1 2 3-5 3-14 1-3-1-4-3z"/><path fill="#8091d7" d="M169 159l7-2 7 2-7 2z"/></g></svg>
<svg x="1447.8" y="539.7" width="117.0" height="117.1" viewBox="0 0 351.0 351.3" fill-rule="evenodd"><g filter="url(#wb)"><path fill="#fef7f9" d="M273 39l9-1 9 2 12 4 9 5 9 6 12 10 10 10 8 11 0 188-15 18-15 14-12 7-15 6-8-1-3-3-2-3-1-27-3-15-3-6-4-3-6 0-6 3-6 5-30 32-12 10-9 5-9 3-9 2-12 0-12-4-12-7-8-10-2-6 1-3 3 0 18 4 12 1 15-1 12-2 12-6 9-8 3-9 0-6-2-3-7-2-33 4-36 0-4 1-5 3-6 8-3 1-3 0-6-4-18-15-6-4-3 0-6 2-3 3-3 8-1 7 0 18 6 27 0 6-2 3-3 2-6 1-15-4-18-10-18-15-11-13-10-13 0-184 13-16 17-15 18-11 18-6 15-1 7 3 4 6 1 6 1 30 2 18 3 10 3 4 3 2 9 1 45-5 21-1 21 1 27 4 9 0 8-4 5-9 9-24 4-36 4-6zM147 147l-33 2-6 1-3 2-3 5-2 8 1 6 2 6 2 3 3 2 3 0 18-4 21-1 36-1 51 0 6-1 3-4 1-3-1-9-3-6-3-3-6-2-45-2zM240 198l-15 5-15 1-66 2-30-2-3 1-2 2-1 3 0 6 1 6 5 7 6 4 9 3 69-2 9 1 21 3 6-2 8-5 6-6 3-6 1-9-2-9-4-3zM158 57l13-2 12 0 12 1 12 4 9 4 10 8 6 9 0 3-1 3-3 2-6 0-24-4-18-1-18 1-27 3-6 0-4-1-2-3 2-6 7-9 12-7z"/><path fill="#fdf0f4" d="M279 54l6-1 9 0 9 3 12 6 9 7 10 9 10 12 7 11 0 157-10 15-14 15-9 7-9 5-9 2-6-1-3-2-3-6-6-20-6-12-6-5-6 0-6 3-6 5-24 21-13 15-8 7-9 5-9 3-9 1-9-1-9-2-7-4-5-6-1-3 4-2 24 0 15-1 12-4 9-3 9-8 3-6 1-9-2-6-2-2-3-2-6 1-21 3-15 2-36-1-6 2-9 4-3 1-9-4-18-15-6-2-3 1-5 3-5 9-4 15-1 27-3 6-3 2-9 0-15-6-12-9-14-14-9-12-7-10 0-154 11-16 13-14 15-10 15-7 15-3 9 3 4 4 3 6 6 36 4 12 4 8 3 2 3 1 30-7 21-3 18-2 27 2 36 7 6 0 6-4 6-9 6-16 9-32 3-5zM105 147l-3 3-3 6-1 12 1 8 3 6 3 4 3 0 21-7 27-2 63-1 11 1 13 3 3-1 3-8 1-9-3-9-4-5-6-2-60 0-45 1-21-1zM246 192l-19 9-17 3-69 1-12-1-18-4-3 1-2 3-1 6 0 6 2 6 4 7 7 5 8 3 6 1 27-3 39-1 12 2 15 4 6 0 9-4 6-5 5-6 2-6 1-9-1-9-4-7zM157 60l11-2 12-1 12 1 9 3 9 4 7 4 5 6 2 6-1 3-7 1-33-2-42 3-9-2-2-3 1-3 4-6 9-7z"/><path fill="#fbe9ef" d="M171 60l15 0 15 4 6 3 6 4 3 4 1 3-2 3-8 2-30-1-30 1-6 0-3-2-1-3 1-3 6-6 12-6zM286 63l8 0 9 2 9 4 9 6 9 8 9 10 12 19 0 134-7 12-7 9-7 8-9 8-6 4-9 3-6 0-3-1-6-7-12-24-6-6-6-2-3 0-6 3-15 12-6 4-3 0-6-12-3-3-3 0-24 6-15 2-15 0-30-2-12 3-6 0-9-5-15-13-6-2-3 1-6 4-6 9-3 10-6 26-3 4-6 3-9-2-12-6-12-10-10-12-6-9-8-13 0-130 7-13 7-9 16-16 15-9 15-5 6 1 6 1 3 2 4 5 3 9 8 33 9 21 0 3-3 18 0 12 1 9 5 15-1 15 1 9 4 9 5 5 9 5 9 1 30-3 42-1 12 2 15 8 9-3 11-8 5-6 3-9 0-15-4-21 1-15-1-9-2-9-4-7-3-2-14 3-13 1-84 1-12-1-6-2-3-2-2-3 0-3 6-6 13-6 22-4 24-2 21 0 17 3 16 5 15 8 3 0 6-6 6-10 17-45 4-5zM150 177l36-1 36 1 9 2 6 3 3 4 0 3-5 6-7 5-9 2-15 2-48 1-18 0-16-4-6-3-3-3-1-3 1-3 7-6 12-4zM174 303l18-1 5 1-5 4-12 2-11-3z"/><path fill="#f9e2e9" d="M166 63l14-1 15 3 9 4 4 3 2 3 0 3-9 3-45 0-9 0-4-3 0-3 7-6 6-3zM284 72l7-2 9 0 9 4 9 5 9 8 9 10 8 11 7 13 0 116-10 18-11 13-12 10-6 3-6 1-6 0-6-5-14-22-4-5-6-4-6-2-6 1-12 10-6 3-3-2-1-4 1-3 3-3 12-8 3-5 3-8 1-9 0-9-4-24 0-21-2-18 0-6 21-54 5-8zM50 75l10-2 9 2 6 6 5 9 14 48 0 6-1 24 5 27 1 24 2 9 4 6 9 5 12 3 23-5 10-1 30-1 15 1 6 1 6 3 4 3 1 3-1 3-4 3-9 4-12 4-12 1-15 1-33-4-12 0-9-3-15-15-3-2-6 0-6 3-7 8-5 9-9 27-3 4-3 2-6 0-9-3-9-5-9-8-13-17-11-20 0-111 10-19 11-13 15-13zM172 117l26 1 22 5 11 6 5 6-1 3-3 3-4 2-12 2-72 1-12 0-9-2-6-3-2-3 0-3 5-6 9-5 21-5zM153 177l36-1 33 2 9 2 4 3 2 3 0 3-4 6-8 5-9 2-12 2-45 1-20-1-14-3-5-3-3-3-1-3 1-3 2-3 3-3 13-4z"/><path fill="#f8dbe3" d="M164 66l13-2 12 2 9 3 4 3 1 3-4 3-7 1-30 0-11-1-2-3 2-3 5-3zM285 78l6-3 9 1 9 3 12 7 9 9 8 10 7 12 6 13 0 98-7 15-11 16-12 11-6 4-6 2-6 0-6-3-18-24-14-12-2-3-1-3-1-24-3-27-1-39 2-9 15-39 5-9zM48 81l9-2 9 2 6 4 6 11 13 45 0 30 4 30 0 21-2 6-12 11-6 8-12 28-3 5-3 3-6 2-6-1-6-3-9-6-6-6-13-17-11-22 0-95 9-18 12-17 12-11zM147 120l15-2 15-1 27 2 12 4 8 3 7 6 0 3 0 3-6 4-8 2-13 1-69 0-9-1-5-3-2-3 0-3 1-3 6-5 9-4zM156 177l33-1 30 2 9 2 3 2 3 4 0 3-3 6-6 4-9 3-15 2-42 1-18-1-13-3-6-3-2-3-2-3 1-3 2-3 4-3 10-3zM152 237l28-2 21 1 7 1 6 3 3 3 1 3-2 3-3 3-9 4-12 4-15 1-15 0-16-3-22-6-4-3 4-3 15-6z"/><path fill="#f6d4de" d="M164 69l10-2 12 1 8 4 0 3-8 2-15 1-9-1-5-2 1-3zM290 81l7-1 9 2 9 4 9 8 9 9 7 11 7 12 4 11 0 83-7 17-11 17-12 12-6 3-6 2-6 0-6-4-30-36-2-9-4-36-2-36 2-15 10-27 7-15 4-6zM54 84l9 1 6 4 5 7 5 12 7 24 2 12 4 60-1 12-2 9-14 18-15 30-6 5-6 1-6-1-6-3-9-7-6-7-10-15-10-21-1-4 0-78 8-20 13-18 15-14 9-5zM150 120l27-2 24 1 12 3 8 4 4 3 4 6-1 3-6 4-9 2-12 1-63 0-9-2-5-2-2-3-1-3 2-3 6-5 8-4zM158 177l31-1 27 2 12 4 4 4 0 3-3 6-7 5-9 2-15 1-39 1-18 0-11-3-6-3-2-3-2-3 1-3 2-3 3-3 12-4zM155 237l28-1 18 0 11 4 3 3 0 3-1 3-4 3-6 3-12 4-15 2-15-1-12-2-12-4-6-5 1-3 3-3 6-3z"/><path fill="#f5cdd9" d="M170 72l7-1 5 1-8 2zM288 87l6-3 9 1 9 4 12 9 9 10 8 12 6 12 4 13 0 67-2 7-8 18-10 15-10 9-6 4-6 1-6 0-6-4-26-31-4-11-4-31-2-36 2-15 6-18 7-18 6-10zM46 90l8-2 9 2 6 4 6 11 7 21 4 15 4 57-1 15-4 12-13 19-12 23-6 6-6 2-6-2-9-5-13-13-6-9-7-12-7-21 0-61 4-14 7-15 11-15 11-11zM152 120l25-2 12 0 13 2 11 3 6 3 4 3 3 6-1 3-6 4-9 2-12 1-57 0-12-3-5-4 0-3 1-3 4-4 11-5zM161 177l31 0 24 1 7 2 5 3 2 3 1 3-4 6-5 4-9 3-15 1-33 1-21 0-12-3-6-3-3-3-1-3 0-3 2-3 4-3 13-4zM159 237l24-1 18 1 9 3 3 3 0 3-1 3-4 3-6 3-13 4-12 1-15 0-12-3-11-5-2-3 0-3 2-3 6-3z"/><path fill="#f3c7d4" d="M290 90l7-2 9 1 9 5 12 10 8 10 7 12 5 12 4 17 0 48-6 19-7 15-8 12-12 10-9 3-6 0-6-4-6-6-16-21-6-12-4-30-2-33 1-12 2-9 6-18 7-15 6-8zM47 93l10-1 6 2 6 5 6 12 5 15 4 18 4 51-1 15-4 12-23 40-6 6-6 2-6-1-9-4-7-7-8-10-11-20-5-15-2-11 0-39 4-16 4-12 8-15 9-12 11-9zM154 120l23-2 24 2 10 3 7 3 3 3 3 3 0 3-1 3-7 4-21 2-54 1-9-2-3-2-3-3 0-3 1-3 5-5 10-4zM163 177l32 0 21 2 5 1 5 3 3 3 0 3-3 6-7 4-9 3-15 1-33 1-18-1-12-3-4-2-3-3-1-3 0-3 2-3 4-3 11-4zM162 237l21-1 17 1 8 3 3 3 0 3-1 3-4 3-6 3-11 3-12 2-12-1-12-2-9-4-4-4-1-3 5-4 6-3z"/><path fill="#f2c0ce" d="M292 93l8-1 9 2 12 8 9 9 8 12 5 12 5 15 3 15-1 30-3 15-5 15-6 12-9 12-9 7-9 3-6-1-6-4-9-9-12-17-5-12-5-30-1-30 3-21 5-15 6-13 6-9zM49 96l8 0 6 2 6 6 6 13 5 15 3 15 3 48-2 18-5 12-22 36-6 5-6 0-6-1-9-6-9-10-7-12-6-12-4-15-3-15-1-15 1-15 4-15 4-12 6-12 6-10 9-9 9-7zM156 120l24-2 21 3 15 5 4 3 2 3 1 3-2 3-5 3-9 2-12 1-51 0-12-2-4-4-1-3 2-3 6-5 8-4zM166 177l26 0 21 2 6 1 6 3 2 3 1 3-1 3-2 3-9 5-12 2-24 2-24 0-15-1-6-2-6-3-3-3-1-3 0-3 2-3 8-5 12-2zM165 237l21 0 12 0 8 3 3 3 1 3-2 3-3 3-6 3-10 3-12 1-12 0-9-2-9-3-5-5 0-3 2-3 3-2 6-2z"/><path fill="#f0b9c9" d="M293 96l4-1 6 0 9 3 9 7 8 9 8 12 6 12 4 15 2 15 1 15-2 15-3 15-5 12-7 12-9 11-9 6-6 1-6 0-6-4-9-9-10-14-6-15-4-27-1-30 1-12 3-12 5-15 6-11 6-7zM49 99l8 0 6 3 6 7 6 13 4 13 3 15 2 45-2 18-9 18-16 26-6 5-6 1-6-2-9-6-9-10-7-11-6-15-3-12-3-15 0-12 1-15 3-15 5-12 6-12 7-10 9-9 9-6zM158 120l22-1 21 2 13 5 4 3 2 3 1 3-1 3-5 3-8 2-15 1-47 0-10-2-5-4-1-3 1-3 5-4 10-5zM169 177l25 0 19 2 10 4 3 3 1 3-4 6-4 3-10 3-14 2-30 1-18-1-12-3-5-2-3-3-1-3 0-3 2-3 4-3 12-3zM169 237l17 0 12 1 7 2 3 3 0 3-2 3-3 3-6 3-11 3-9 1-12-1-9-2-9-4-3-3 0-3 2-3 5-3z"/><path fill="#efb3c4" d="M294 99l6-1 9 2 9 5 9 9 8 12 6 12 4 12 2 15 1 15-1 15-3 15-5 12-6 12-9 11-9 6-6 1-6-1-6-3-9-10-8-10-6-15-5-27-1-30 4-21 5-15 5-10 6-7zM49 102l8 0 6 4 6 7 4 10 4 12 3 15 3 42-1 12-2 9-7 15-16 25-6 5-6 2-6-2-9-6-8-9-7-11-5-13-4-12-2-12 0-15 1-15 2-12 4-12 6-12 7-10 9-9 9-6zM160 120l20-1 21 2 12 5 4 3 2 3 0 3-1 3-5 3-9 2-15 1-42 0-12-3-4-3 0-3 1-3 6-5 8-4zM173 177l25 1 18 2 6 3 3 3 0 3 0 3-3 3-4 3-10 3-16 2-27 1-15-1-11-2-7-3-3-3-2-3 1-3 1-3 9-5 12-2zM175 237l14 0 9 2 6 2 2 2 1 3-2 3-4 3-6 3-9 2-9 1-12 0-9-2-7-4-3-3-1-3 2-3 6-3z"/><path fill="#ecabbe" d="M293 102l7-2 9 2 9 5 7 7 8 11 6 13 4 12 3 15 1 15-1 15-3 12-5 15-7 12-7 8-9 6-6 2-6-1-6-4-6-5-9-12-7-15-4-24-2-27 1-12 2-12 4-12 6-12 6-8zM46 105l8-1 6 2 6 6 6 11 4 12 3 15 3 39-2 18-3 9-4 9-10 17-6 9-6 5-6 1-6-1-9-6-8-10-6-9-5-12-3-12-3-15 0-12 3-24 4-12 5-12 6-9 7-8 9-7zM162 120l21-1 18 3 12 5 5 5 0 3-1 3-5 3-11 2-12 1-42 0-11-3-3-3-1-3 1-3 7-6 10-4zM177 177l21 1 16 2 7 3 3 3 0 3 0 3-3 3-4 3-10 3-18 2-24 0-15 0-10-2-7-3-3-3-2-3 0-3 2-3 4-3 7-2 15-3zM155 240l19-2 18 0 10 2 3 3 0 3-1 3-4 3-8 4-12 2-12 0-12-3-6-3-3-3 0-3 2-3z"/><path fill="#eaa1b6" d="M296 105l7-1 9 3 9 7 6 7 6 9 5 11 4 12 2 15 1 15-2 12-2 12-5 12-6 12-6 7-9 6-6 2-6-1-6-4-6-6-8-10-4-9-3-9-4-24 0-27 3-21 5-12 5-9 6-6zM40 111l8-3 9 1 6 5 5 6 4 10 4 14 2 15 1 18-1 24-5 18-8 15-8 12-6 5-6 2-6-2-6-3-8-8-6-9-4-9-4-12-3-12-1-12 0-12 2-12 6-21 6-11 6-8 6-6zM165 120l18 0 18 2 9 4 4 3 2 3 0 3-1 3-6 3-23 3-36-1-11-2-4-3-1-3 1-3 7-6 11-4zM145 180l29-3 27 1 15 4 6 4 1 3-1 3-3 4-6 3-9 2-27 2-27-1-8-1-7-3-4-3-1-3 0-3 2-3 4-3zM158 240l16-2 18 1 7 1 4 3 0 3-1 3-4 3-7 3-11 2-12 0-12-3-6-5-1-3 2-3z"/><path fill="#e697af" d="M299 108l7 0 9 5 6 5 7 8 5 9 5 12 3 12 2 12 0 12-2 12-2 12-5 12-7 11-6 7-6 3-6 2-6-1-6-4-6-6-7-9-4-9-3-9-4-24 1-27 5-21 4-9 5-8 6-5zM42 114l6-2 6 0 6 4 6 7 4 9 4 12 2 15 2 18-2 24-5 18-7 12-7 11-6 5-6 2-6-1-6-4-6-6-6-8-8-20-3-12-1-12 0-12 2-12 7-21 5-9 7-9 6-6zM170 120l16 0 15 3 7 3 4 3 2 3 1 3-2 3-6 3-21 2-36 0-9-2-4-3-1-3 0-3 8-6 12-4zM147 180l27-2 27 1 9 1 7 3 3 3 1 3 0 3-3 3-5 3-9 3-27 2-27-1-6-1-8-3-3-3-2-3 0-3 2-3 5-3zM160 240l17-2 15 1 6 2 3 2 1 3-2 3-4 3-7 3-9 1-12 0-9-2-4-2-3-3-1-3 2-3z"/><path fill="#e48da7" d="M294 114l6-2 6 0 9 4 6 5 6 8 6 12 5 12 2 12 1 12-1 12-2 12-4 12-4 9-7 9-8 6-6 1-6-1-6-3-10-12-7-15-4-21-1-21 2-21 4-12 4-8 3-5zM43 117l8-1 6 2 6 5 3 5 4 10 3 12 3 27-2 24-5 18-6 10-6 9-6 5-6 2-6-1-6-4-6-6-6-9-4-9-4-12-2-21 2-21 3-12 4-9 10-15 6-5zM154 123l20-3 21 2 9 3 6 4 3 3 0 3-2 3-7 3-18 2-33 0-10-2-5-3-1-3 1-3 3-3 5-3zM149 180l25-2 27 1 7 1 8 3 3 3 1 3-1 3-2 3-5 3-17 4-36 1-13-2-8-3-4-3-2-3 1-3 2-3 4-3zM164 240l16-1 12 1 7 3 1 3-2 3-9 5-9 2-12-1-9-2-5-4-1-3 3-3z"/><path fill="#e184a0" d="M295 117l5-2 6 0 9 4 6 6 6 8 6 11 3 12 2 12 1 12-1 12-3 12-3 9-5 9-6 7-6 4-6 2-6-1-6-4-9-11-7-15-4-18 0-21 2-21 3-9 5-9 4-6zM44 120l7-1 6 3 5 4 3 6 4 9 3 12 2 27-2 21-6 18-9 15-6 5-6 2-6-1-6-3-6-7-5-8-7-18-2-21 2-21 6-18 10-15 5-5zM156 123l21-2 18 2 9 3 5 3 2 3 1 3-3 3-7 3-19 2-30-1-7-1-6-3-1-3 1-3 2-3 5-3zM151 180l26-2 24 1 13 4 4 3 1 3-1 3-3 3-5 3-9 2-12 2-21 1-15-1-12-3-6-4-1-3 0-3 2-3 5-3zM167 240l13-1 10 1 7 3 1 3-2 3-5 3-11 3-9 0-6-1-5-2-4-3-1-3 3-3z"/><path fill="#df7d9a" d="M296 120l7-2 6 1 6 4 6 5 6 9 5 10 3 9 2 12 0 21-3 12-3 9-4 8-6 8-6 4-6 1-6-1-4-2-5-4-5-8-7-15-3-18-1-21 3-18 7-16 3-4zM45 123l6 0 6 2 4 4 3 6 6 18 3 27-2 21-5 15-10 15-5 5-6 2-6-1-6-4-9-12-7-17-2-21 2-21 6-18 10-14 6-4zM158 123l19-2 18 2 9 3 4 3 2 3 0 3-2 3-7 3-18 2-27-1-8-1-6-3-2-3 1-3 3-3 5-3zM153 180l21-2 24 1 15 4 3 3 1 3 0 3-3 3-6 3-19 4-21 0-15-1-12-3-5-3-1-3 0-3 2-3 5-3zM172 240l17 1 6 2 1 3-2 3-5 3-9 2-12 0-5-2-5-3-1-3 3-3z"/><path fill="#dd7695" d="M160 123l17-2 16 2 9 3 4 3 3 3 0 3-3 3-5 2-18 2-27 0-6-1-6-3-2-3 0-3 3-3 5-3zM297 123l6-2 6 2 6 3 6 6 4 6 5 10 3 11 2 9 0 21-5 18-5 9-4 6-6 5-6 1-6-1-3-2-9-9-7-15-4-18 0-18 2-18 6-14 3-5zM46 126l5 0 3 1 6 5 3 6 6 18 2 24-2 18-6 18-9 14-3 2-6 2-6-1-6-4-9-12-6-18-2-19 3-18 6-18 5-7 6-6 6-4zM154 180l23-2 21 1 13 4 4 3 1 3 0 3-3 3-6 3-18 3-21 1-15-1-9-2-6-4-2-3 0-3 2-3 5-3zM163 243l11-2 9 0 10 2 1 3-2 3-6 3-9 2-6-1-5-1-5-3-1-3z"/><path fill="#db6f8f" d="M162 123l15-1 15 1 8 3 5 3 2 3 0 3-3 3-6 2-15 2-27 0-11-4-2-3 1-3 3-3 5-3zM298 126l5-1 6 1 6 3 6 6 8 15 4 18 1 12-1 9-5 18-4 7-6 7-3 2-6 2-6-1-3-2-8-9-6-12-4-18-1-18 3-18 4-9 3-6zM48 129l6 2 3 2 7 11 4 18 1 24-3 18-6 14-9 11-3 1-6 1-6-3-3-2-5-7-4-7-5-17-1-18 3-18 7-15 8-10 6-4zM156 180l21-1 21 1 12 3 4 3 1 3-1 3-2 3-5 3-9 2-12 1-30 0-12-3-5-3-2-3 0-3 2-3 5-3zM165 243l9-1 9 0 7 1 2 3-2 3-7 3-12 0-8-3-1-3z"/><path fill="#da6b89" d="M164 123l16-1 15 3 9 4 2 3 0 3-3 3-5 2-15 2-24 0-12-4-2-3 0-3 3-3 5-3zM299 129l4-1 6 1 9 6 4 6 5 9 4 18 1 18-5 18-3 6-6 8-3 2-6 2-6-1-3-2-8-9-5-12-3-15-1-18 2-15 6-13 3-4zM39 135l6-2 3-1 6 2 3 3 3 4 4 9 4 21-1 21-4 16-4 8-5 7-3 2-6 3-3 0-6-3-8-9-6-15-2-15 0-15 4-15 6-12zM158 180l19-1 21 1 11 3 4 3 1 3-1 4-6 4-9 3-12 1-15 1-15-1-11-3-5-3-2-3 0-3 3-3 5-3zM168 243l15-1 4 1 3 3-4 4-6 1-6 1-8-3-2-3z"/><path fill="#de7786" d="M170 123l13 0 12 3 7 3 2 3 0 3-4 3-5 2-21 2-18-2-7-2-2-3 0-3 6-5 6-2zM298 135l5-2 6 1 6 4 3 3 7 12 4 15 0 18-4 15-7 11-3 2-6 3-6-2-3-2-5-6-6-12-3-12 0-15 2-15 5-12zM44 138l4 0 3 0 4 3 4 6 4 12 2 18-1 15-4 15-6 10-3 3-6 2-6-1-3-2-6-7-6-14-2-15 2-15 5-15 7-10zM160 180l20-1 16 1 11 3 4 3 1 3 0 3-2 2-6 3-18 4-27 0-12-3-5-3-2-3 0-3 2-3 6-3zM169 246l8-2 3 0 5 2-4 3-4 1-5-1z"/><path fill="#e18383" d="M158 126l16-3 15 2 11 4 2 3-1 3-6 4-15 2-15 0-13-3-3-3 0-3 3-3zM298 141l5-3 3 0 6 3 3 2 6 10 5 15 0 15-2 12-6 11-3 3-6 2-6-1-6-6-5-9-3-12-1-12 1-12 4-12zM42 144l3-1 6 1 6 6 3 9 3 15-1 15-4 15-7 10-6 3-6-1-3-3-5-6-4-11-2-13 1-12 4-12 6-10zM163 180l17-1 15 1 10 3 4 3 2 3-1 3-3 3-6 3-21 3-15 0-12-2-9-3-3-4 1-3 2-3 3-2 6-2z"/><path fill="#e48e7f" d="M161 126l13-2 15 2 8 3 3 3-1 3-4 3-15 2-15 0-10-2-4-3 0-3 3-3zM304 144l5 1 3 1 6 7 3 9 2 12 0 12-3 9-5 7-6 4-6-2-6-7-3-8-3-12 1-12 2-10 5-8zM41 150l4-1 3 0 3 2 3 3 4 8 2 12-1 12-2 12-6 10-6 3-6-1-5-6-4-9-2-9 1-12 2-9 5-10zM167 180l16 0 12 1 9 3 4 2 1 3-2 5-6 3-9 2-12 1-15 0-12-1-8-4-2-3 0-3 2-3 5-2z"/><path fill="#e89a7b" d="M164 126l13-1 11 1 7 3 3 3-1 3-8 4-15 1-15-2-6-3 0-3 4-3zM300 153l3-2 3-1 6 3 4 6 3 9 1 12-2 9-3 6-3 3-3 1-3 0-5-4-4-6-1-6-2-9 1-9 2-7zM42 156l3-1 3 1 4 3 3 6 2 12-1 9-2 9-4 6-5 4-3-1-3-1-3-4-3-7-1-9 0-9 2-6 2-6zM171 180l15 0 15 3 5 3 2 3-1 3-4 3-8 3-21 2-21-2-6-3-3-3 0-3 3-3 3-1 9-3z"/><path fill="#eaa478" d="M168 126l12 0 9 1 4 2 3 3-1 3-7 3-14 1-13-1-6-3 0-3 4-3zM304 159l2-1 3 1 3 3 3 9 0 12-3 6-3 2-3 0-3-2-4-9 0-12 2-6zM41 165l4-1 3 1 3 4 1 5 0 6-1 9-3 5-3 2-3 0-3-3-3-9 1-10 2-6zM155 183l16-2 18 0 10 2 6 3 1 3-1 3-3 3-9 3-16 2-15-1-12-3-4-4 0-3 2-3z"/><path fill="#ebad76" d="M161 129l10-2 9-1 10 3 3 3 0 3-7 3-18 0-6-1-4-2 0-3zM157 183l17-2 15 0 9 2 5 3 2 3-1 3-4 3-8 3-15 1-15 0-9-2-3-2-3-3 0-3 3-3z"/><path fill="#ecb675" d="M164 129l7-1 9-1 8 2 3 3-1 3-4 2-6 1-9 0-11-3 0-3zM159 183l15-2 15 1 9 2 4 2 1 3-1 3-4 3-9 3-15 1-12-1-10-3-3-3 0-3 2-3z"/><path fill="#ecbd72" d="M168 129l12-1 4 1 5 3-2 3-7 2-9 0-8-2 0-3zM161 183l13-1 15 0 9 3 2 1 2 3-1 3-3 2-9 3-12 2-13-1-11-3-3-3 0-3 3-3z"/><path fill="#eec370" d="M174 129l6 1 6 2-3 3-3 1-13-1-1-3zM163 183l14-1 12 1 9 3 3 3-1 3-5 3-15 3-18-1-7-2-4-3 0-3 3-3z"/><path fill="#e4be6b" d="M170 132l7-1 4 1-4 2-3 1zM165 183l12-1 12 1 8 3 2 3-1 3-5 3-13 3-18-1-5-2-4-3 0-3 3-3z"/><path fill="#d0af64" d="M169 183l17 0 9 3 2 3-1 3-4 2-12 3-15 0-6-2-4-3 0-3 3-3z"/><path fill="#bd9f5e" d="M161 186l10-2 9-1 12 3 3 3-1 3-7 3-16 1-8-1-6-3 0-3z"/><path fill="#a99057" d="M163 186l8-1 9-1 9 2 4 3-2 3-8 3-15 0-8-3-1-3z"/><path fill="#998250" d="M167 186l7-1 9 1 3 0 4 3-1 3-6 2-12 1-9-3 0-3z"/><path fill="#887549" d="M171 186l10 0 6 3-1 3-6 2-9 0-6-2-1-3z"/><path fill="#776642" d="M168 189l9-2 7 2-3 3-7 1-4-1z"/><path fill="#66583b" d="M171 189l6-1 4 1-4 2-3 0z"/><path fill="#f7fbfd" d="M163 33l20-1 18 3 17 7 4 3 6 6-3 2-27-6-21-1-21 3-23 5-4 0 0-3 2-3 7-6 13-6zM157 87l14-1 15 0 15 2 10 2 11 4 8 5 5 6 0 6-4 4-9 2-45-1-42 2-12-1-5-3-3-3 0-6 2-3 3-3 18-7zM154 147l38-1 33 3 6 1 6 4 4 5 0 6-1 3-3 3-3 2-18 2-99 3-6-2-3-2-2-3-1-6 2-6 2-3 5-3 12-3zM224 204l13-1 6 1 3 3 1 6-3 9-5 6-5 4-9 3-24-2-60 2-9-1-6-1-7-5-5-6-2-6 2-6 3-2 6-2zM87 264l3-1 6 1 9 7 10 11 6 9 12 24 2 6-2 3-7 1-12-4-12-8-9-10-6-10-3-11 0-12zM178 264l32-2 4 2 2 3 0 3-2 6-2 3-7 6-10 5-15 3-15-1-12-4-10-6-4-6 1-6 3-3 4-1 9-1zM264 273l3 2 2 4 1 9-3 9-7 12-8 8-12 8-12 3-6 1-4-2 0-3 3-6 25-31 9-10 6-3z"/><path fill="#f1f7fc" d="M163 87l23-1 12 2 12 3 9 4 6 4 5 6 0 6-3 3-8 2-42-1-39 2-12-2-5-4-1-3 1-3 6-6 5-3 12-5zM157 147l35-1 30 3 9 3 5 4 2 3 1 6-2 3-6 4-9 2-12 1-87 1-9-1-5-4-1-3 0-6 5-6 4-2 15-4zM126 207l108-2 6 1 2 1 2 6-1 6-3 6-6 5-6 3-6 0-84 1-6-1-7-2-4-3-5-6-1-6 2-6 3-1zM187 264l17-1 6 1 3 3 0 6-4 6-8 6-9 4-12 2-12 0-12-3-9-6-4-6-1-3 1-3 7-4zM91 270l2-1 3 1 3 2 10 10 8 15 1 6-1 4-3 2-3-1-6-2-6-5-5-7-4-7-2-8 1-6zM254 288l4-2 3 2-2 6-4 6-3 3-6 2-1-2 1-4z"/><path fill="#ebf4fb" d="M171 87l21 1 19 5 8 4 5 5 3 6-1 3-5 3-8 1-36 0-33 1-12-1-3-1-3-3-1-3 3-6 8-6 17-6zM160 147l35 0 27 3 8 3 4 3 2 3 0 6-2 3-3 2-6 3-24 2-75 1-9-2-4-3-2-3 0-6 2-3 3-3 6-3 16-4zM138 207l45-2 48 1 6 1 3 3 1 6-2 6-2 3-6 4-6 3-54 2-33-1-9-2-6-3-5-6-1-6 1-3 3-3 5-2zM153 267l48-3 6 2 3 1 1 3-1 3-4 6-8 6-12 4-12 1-15-3-6-3-5-5-2-6 1-3z"/><path fill="#e7f2fa" d="M155 90l13-2 12 0 12 1 9 2 9 3 9 5 4 6 0 3-1 3-3 2-12 2-63 1-10-2-5-3-1-3 1-3 5-6 10-5zM163 147l32 0 25 3 8 3 3 3 2 3 1 6-2 3-7 4-12 2-15 1-48 1-21-1-9-2-4-2-2-3-1-3 3-6 3-3 6-3 16-4zM144 207l45-1 39 1 9 3 2 3 0 3-2 6-6 6-6 2-9 1-42 2-30 0-12-2-6-3-4-3-3-6 0-3 1-3 3-2 6-2zM159 267l42-1 5 1 2 3 0 3-4 6-10 6-11 3-12 0-9-2-6-2-5-5-2-3 0-3 1-3z"/><path fill="#e3f0f9" d="M159 90l21-2 12 1 9 3 9 3 6 4 4 6 1 3-2 3-3 2-12 1-57 1-9-1-6-3-1-3 1-3 5-6 10-5zM167 147l28 0 23 3 8 3 4 3 2 6 0 3-3 3-7 4-12 2-15 1-60 0-12-2-4-2-3-3 0-3 2-6 3-3 6-3 17-4zM148 207l38-1 34 1 13 3 3 3 0 3-2 6-3 3-6 4-9 2-30 2-30 0-18-1-10-4-6-6-1-6 2-3 3-2 6-2zM169 267l23-1 9 1 4 3 0 3-4 6-4 3-8 3-9 2-9 0-9-3-6-3-4-5 0-3 2-3z"/><path fill="#dfeef9" d="M163 90l20-1 18 3 13 7 4 6 0 3-2 3-3 1-12 2-54 0-6 0-6-3-1-3 0-3 5-6 11-6zM171 147l27 1 18 2 8 3 4 3 2 3 0 6-3 3-8 4-12 2-15 1-39 0-18 0-12-3-4-4-1-3 0-3 2-3 3-3 6-3 18-4zM151 207l35-1 28 1 15 3 4 3 1 3-2 6-3 3-6 3-10 2-27 2-27 1-18-1-11-4-6-6-1-6 3-4 9-3zM185 267l13 1 4 2 1 3-2 4-6 4-6 3-9 2-9-1-6-1-6-3-4-5 0-3 4-3 9-2z"/><path fill="#dbecf8" d="M168 90l18 0 15 3 11 6 4 6 0 3-3 3-9 2-48 1-15-2-3-1-2-3 0-3 2-3 8-6 10-4zM179 147l25 1 15 4 7 4 3 6-1 3-2 3-4 2-12 3-54 2-18-1-9-1-6-3-2-2-1-3 2-6 3-3 10-4 18-3zM154 207l35-1 27 2 12 4 2 1 1 3 0 3-5 6-7 3-15 3-27 2-21 0-15-2-9-3-7-6 0-6 4-4 9-3zM163 270l14-1 15 0 6 1 2 3-1 3-3 3-6 3-7 2-9 0-9-2-5-3-3-3 1-3z"/><path fill="#d7eaf7" d="M156 93l9-2 12-1 18 2 9 4 6 3 4 6-1 3-3 3-3 1-12 1-39 1-9-1-6-2-3-3 0-3 2-3 7-5zM144 150l30-3 30 2 8 1 8 3 5 3 2 3 0 3 0 3-3 3-6 3-20 3-57 0-12-2-6-4-2-3 1-3 5-6 6-3zM157 207l32-1 24 2 9 2 6 3 1 3 0 3-2 3-3 3-8 3-15 3-24 1-21 0-15-1-9-4-5-5-1-3 1-3 2-3 3-1 9-3zM169 270l20-1 5 1 3 3-1 3-7 5-6 1-9 1-9-3-4-4 0-3z"/><path fill="#d3e8f6" d="M159 93l18-2 18 2 13 6 2 3 2 3-1 3-5 3-5 1-39 1-15-1-3-1-4-3 0-3 5-6zM145 150l29-3 30 2 15 4 4 3 2 3 1 3-1 3-2 3-4 2-9 3-12 1-54 0-12-2-8-4-1-3 0-3 2-3 3-3 6-3zM159 207l30-1 21 2 10 2 5 3 2 3 0 3-2 3-4 3-8 3-15 3-21 1-18 0-15-1-9-3-6-6-1-3 0-3 4-3 9-3zM165 273l9-2 9-1 6 1 4 2-1 3-4 3-11 2-10-2-3-3z"/><path fill="#d0e6f5" d="M162 93l15-2 15 2 9 3 5 3 3 3 1 3-1 3-5 3-12 1-36 1-9-2-5-3 0-3 2-3 3-3 6-3zM147 150l30-2 27 1 14 4 4 3 2 3 1 3-1 3-3 3-5 3-18 3-53 0-13-2-6-4-2-3 1-3 5-6 6-3zM162 207l27 0 21 1 7 2 6 3 2 3 0 3-2 3-4 3-9 3-15 3-18 1-18 0-15-2-9-3-5-5-1-3 1-3 5-4 9-3zM171 273l9-1 6 1 2 0 0 3-7 3-6 0-6-3z"/><path fill="#cce4f4" d="M165 93l15-1 12 2 12 5 3 3 1 3-1 3-3 1-5 2-10 1-33 0-6-1-6-3 0-3 1-3 4-3 7-3zM149 150l28-2 27 2 9 2 6 3 4 4 1 3-2 4-6 4-9 2-12 2-48 0-12-2-8-4-1-3 0-3 2-3 3-3 6-3zM164 207l28 0 18 2 5 1 6 3 2 3 0 3-2 3-4 3-7 3-15 2-18 2-18 0-12-2-9-3-6-5-1-3 0-3 4-3 9-3z"/><path fill="#c6e1f3" d="M169 93l14 0 12 2 7 4 3 3 1 3-1 3-4 2-12 2-33 0-6-2-4-2-1-3 2-3 3-3 9-4zM150 150l27-2 27 2 9 2 6 3 3 4 1 3-1 3-6 5-9 2-12 2-48 0-12-2-6-4-2-3 0-3 2-3 3-3 6-3zM167 207l25 0 18 2 9 4 3 3 0 3-2 3-5 3-8 3-15 2-15 2-18-1-12-1-9-3-5-5-1-3 0-3 6-4 12-3z"/><path fill="#bddef2" d="M162 96l15-2 12 2 9 3 3 3 1 3-4 4-15 2-21 0-11-3-1-3 1-3 4-3zM153 150l27-2 23 2 7 2 6 3 4 4 1 3-2 4-6 4-9 2-12 1-42 0-12-2-6-3-2-3 0-3 1-3 4-3 6-3zM176 207l19 1 14 2 7 3 2 3 0 3-2 3-5 3-9 3-16 2-15 1-15-1-11-2-6-3-3-3-1-3 0-3 4-3 8-3z"/><path fill="#b5daf0" d="M170 96l10 0 9 2 4 1 4 3 0 3-5 3-18 2-15-1-2-1-3-3 1-3 4-3zM156 150l24-1 21 1 9 3 5 3 3 3 0 3-2 4-6 4-18 3-39 0-13-2-6-3-2-3 0-3 1-3 4-3 7-3zM151 210l23-2 24 1 8 1 6 3 3 3 0 3-2 3-5 3-13 4-21 2-18-1-7-2-7-3-4-3-1-3 1-3 4-3z"/><path fill="#acd7ef" d="M165 99l12-1 9 1 6 3 0 3-8 3-10 1-9-1-6-3 1-3zM159 150l24-1 18 2 7 2 5 3 3 3 0 3-1 3-2 2-6 3-9 2-15 1-21 0-15-1-9-3-4-4 0-3 2-3 3-3 8-3zM154 210l23-2 21 1 12 4 2 3 0 3-2 3-5 3-13 4-18 1-18-1-11-4-4-3-1-3 1-3 4-3z"/><path fill="#a4d3ed" d="M166 102l11-2 8 2 0 3-11 1-8-1zM163 150l20-1 18 3 10 4 3 3 1 3-2 3-3 3-6 2-9 2-15 1-30-1-9-3-5-4 0-3 1-3 4-3 9-3zM157 210l20-2 21 2 9 3 3 3 0 3-3 3-6 3-11 3-13 1-21-1-9-3-4-3-1-3 1-3 4-3z"/><path fill="#9bd0ec" d="M167 150l19 0 15 2 8 4 3 3 1 3-1 3-8 4-9 2-15 2-18 0-12-2-9-3-3-3 0-3 1-3 4-3 10-4zM160 210l20-1 16 1 9 3 2 3 0 3-2 3-6 3-19 4-21-1-9-3-4-3-2-3 1-3 5-3z"/><path fill="#92cdeb" d="M173 150l16 1 13 2 6 3 3 3 0 3-1 3-6 4-10 2-14 1-28-1-9-3-3-3-1-3 2-3 6-4 12-3zM163 210l17-1 13 1 9 3 3 3 0 3-2 3-6 3-17 3-18 0-9-3-5-3-2-3 2-3 4-3z"/><path fill="#8ac9e9" d="M154 153l20-3 18 1 7 2 7 3 3 3 1 3-2 3-4 3-9 2-21 2-19-1-10-3-3-3-1-3 2-3 3-3zM167 210l16 0 12 1 6 3 2 2 0 3-2 3-7 3-17 3-15-1-7-2-5-3-1-3 1-3 4-3z"/><path fill="#81c4e8" d="M156 153l18-2 18 1 12 4 3 3 1 3-1 3-5 3-16 3-24 0-15-3-4-3 0-3 1-3 4-3zM173 210l13 0 9 2 3 1 3 3 0 3-3 3-7 3-17 2-16-2-6-3-2-3 2-3 4-3z"/><path fill="#79bfe6" d="M158 153l16-2 18 1 11 4 3 3 1 3-2 3-5 3-20 3-24-1-7-2-4-3-1-3 2-3 4-3zM159 213l12-2 15 0 10 2 3 3 0 3-3 3-10 4-12 1-9-1-9-3-4-4 2-3z"/><path fill="#6eb8e4" d="M160 153l17-1 15 1 9 3 4 3 0 3-1 3-6 3-18 3-21-1-8-2-5-3 0-3 1-3 4-3zM161 213l13-2 12 1 9 2 2 2 0 3-3 3-9 3-11 1-9-1-8-3-3-3 1-3z"/><path fill="#61b1e2" d="M164 153l13-1 12 1 10 3 3 3 1 3-2 3-6 3-15 2-21-1-5-1-5-3-1-3 1-3 5-3zM165 213l12-1 12 1 5 3 1 3-4 3-8 2-15 1-8-3-3-3 2-3z"/><path fill="#54aadf" d="M169 153l14 0 9 2 4 1 4 3 1 3-2 3-4 2-15 3-18-1-5-1-6-3-1-3 3-4 6-3zM171 213l9 0 6 1 5 2 1 3-6 4-12 1-10-2-4-3 2-3z"/><path fill="#53a4dd" d="M159 156l12-2 15 0 9 3 3 2 1 3-2 3-9 3-14 1-12-1-9-3-1-3 2-3zM165 216l9-2 6 0 8 2 0 3-6 3-11 1-7-4z"/><path fill="#5ca0dc" d="M161 156l13-2 12 1 5 1 4 2 2 4-3 3-8 3-9 1-12-1-9-3-2-3 2-3zM171 216l6 0 5 0 2 3-7 2-6-1-3-1z"/><path fill="#669bdb" d="M165 156l9-1 12 1 8 3 1 3-3 3-12 3-12 0-10-3-2-3 2-3z"/><path fill="#6f97da" d="M169 156l15 0 7 3 1 3-3 3-15 2-12-2-3-3 1-3z"/><path fill="#7893d8" d="M163 159l8-2 9 0 9 2 1 3-4 3-15 1-7-1-2-2-1-1z"/><path fill="#8091d7" d="M166 159l8-1 6 0 5 1 2 3-6 3-12 0-5-3z"/><path fill="#898ed5" d="M171 159l9 0 3 3-9 2-7-2z"/></g></svg>
<svg x="1592.0" y="539.7" width="117.1" height="117.1" viewBox="0 0 351.3 351.3" fill-rule="evenodd"><g filter="url(#wb)"><path fill="#fef7f9" d="M134 51l10-1 12 2 9 3 6 5 6 8 7 22 7 12 10 12 9 6 12 5 12 1 12-1 21-4 6 0 6 1 8 4 9 9 7 12 5 12 1 15-1 15-3 12-7 12-10 11-9 5-6 2-6 0-21-5-12-1-12 2-12 4-12 9-7 9-7 12-7 22-5 8-7 5-6 3-15 2-12-1-12-3-9-4-12-8-9-9-6-9-4-9-3-12 1-9 2-6 19-23 6-10 4-9 1-12-1-12-4-12-6-10-17-20-4-6-1-9 2-12 7-15 7-9 6-5 9-7 9-4z"/><path fill="#fdf0f4" d="M131 63l10-1 9 0 9 3 6 4 9 10 12 20 7 9 9 9 11 6 9 3 9 2 33 1 9 2 6 4 7 6 6 9 4 9 2 12 0 12-4 15-6 10-8 8-7 4-6 2-39 2-12 3-9 4-8 6-9 9-16 27-6 7-6 5-6 2-12 3-9-1-12-3-9-4-8-6-7-7-5-8-4-9-2-9 0-6 3-9 11-19 6-13 3-10 1-9-1-11-3-11-6-12-10-17-3-9-1-6 1-9 5-12 9-12 14-10z"/><path fill="#fbe9ef" d="M128 72l10-2 9 0 9 2 6 3 9 8 22 28 8 7 9 6 17 5 31 4 13 5 7 6 5 6 5 9 2 12 0 12-2 9-5 9-8 9-8 5-6 2-34 5-18 6-9 6-7 6-25 31-9 7-12 3-9 0-9-1-6-2-9-6-6-5-7-9-3-6-2-9-1-6 2-9 13-33 3-18-2-18-14-36-2-9 1-9 5-12 7-9 9-7z"/><path fill="#f9e2e9" d="M127 78l8-2 9-1 9 2 6 2 12 9 23 26 13 9 14 6 34 7 12 5 6 5 6 7 4 9 2 9-1 12-2 9-5 9-7 7-12 6-36 8-15 6-9 6-7 6-17 20-9 8-9 6-9 2-15-1-9-4-6-4-7-6-4-6-3-6-3-9 1-12 11-33 3-18-2-18-12-36-1-9 1-6 3-9 6-9 7-6z"/><path fill="#f8dbe3" d="M133 81l8-1 6 0 12 3 9 6 24 25 12 9 15 7 30 7 12 5 7 5 7 9 4 9 1 9 0 9-3 9-6 9-7 6-12 6-30 7-15 7-15 10-18 19-9 8-9 5-12 3-6-1-9-2-6-3-7-5-5-6-4-6-2-6-1-9 2-15 8-28 2-14-2-17-9-34-1-9 0-6 3-9 7-10 9-7z"/><path fill="#f6d4de" d="M137 84l10-1 12 4 12 8 23 22 13 9 15 6 27 8 10 4 7 6 5 6 4 9 1 9 0 9-3 9-6 8-6 5-12 7-27 7-15 6-13 9-29 27-9 5-12 2-9-1-6-2-6-3-6-5-7-11-2-6-1-9 1-12 7-27 2-15-2-18-7-30-1-15 3-9 7-10 9-7z"/><path fill="#f5cdd9" d="M138 87l12 0 12 4 9 7 21 19 13 9 14 6 24 8 12 5 7 5 7 9 3 6 1 9-1 9-3 9-4 6-7 6-11 6-28 9-14 6-13 9-18 17-9 7-9 5-9 2-6 0-9-2-6-3-6-5-5-6-3-6-3-12 1-12 6-27 2-15-1-15-7-33 0-15 4-9 6-9 9-6z"/><path fill="#f3c7d4" d="M138 90l12 0 12 4 9 6 20 17 12 9 13 6 27 10 11 5 7 6 5 6 2 6 2 9-1 9-3 9-5 6-6 5-12 7-24 8-12 5-13 8-29 25-9 4-9 2-6 0-9-3-10-7-5-5-3-6-2-13 0-12 5-24 2-15-1-15-6-30 0-15 3-9 7-9 7-6z"/><path fill="#f2c0ce" d="M137 93l10-1 12 3 9 5 25 20 11 8 12 5 24 9 10 5 8 6 5 6 3 6 1 9 0 9-3 6-6 9-6 5-12 6-33 13-14 9-28 23-9 4-9 1-12-1-6-3-6-5-6-10-3-12 0-12 5-27 1-12-1-15-5-30 0-12 3-9 5-9 7-5z"/><path fill="#f0b9c9" d="M136 96l8-2 6 0 12 4 9 6 20 16 13 9 43 18 8 6 5 6 3 6 2 9-1 9-2 6-4 6-6 6-11 6-36 15-14 9-23 19-9 4-9 3-12-1-6-2-6-5-7-9-3-12 0-12 4-29 1-13-1-12-4-27 0-12 2-9 5-9 6-5z"/><path fill="#efb3c4" d="M135 99l6-2 6-1 6 1 9 3 9 5 23 18 9 6 41 18 8 6 6 6 3 6 2 9-1 9-3 6-4 6-6 6-11 6-34 15-10 6-26 20-9 5-9 2-12-1-6-3-6-5-6-9-3-12 0-12 5-36-1-15-4-27 0-12 3-9 3-5 6-7z"/><path fill="#ecabbe" d="M140 99l10-1 12 4 9 5 31 22 41 19 7 5 6 6 3 6 2 9-1 9-3 6-4 6-7 6-9 5-24 10-11 6-37 26-6 3-9 2-12-1-9-6-7-9-3-6-1-9 4-45 0-12-4-30 1-12 3-9 4-6 6-6z"/><path fill="#eaa1b6" d="M140 102l10-1 12 3 9 5 30 21 39 19 7 4 5 6 4 6 2 9-1 9-3 6-4 6-7 6-9 5-33 15-36 25-6 3-9 1-6 0-6-1-9-6-6-9-3-12 0-12 3-33-3-39 1-12 2-9 4-6 5-5z"/><path fill="#e697af" d="M139 105l11-2 12 3 12 7 28 19 35 17 6 4 6 6 4 6 2 9-1 9-3 6-4 6-7 5-39 20-33 22-9 4-9 2-6 0-6-2-8-6-5-9-3-12 3-42-3-36 0-12 3-9 3-6 4-5z"/><path fill="#e48da7" d="M139 108l5-2 6 0 6 0 9 3 35 23 34 17 6 4 7 6 3 6 3 9-1 6-2 6-3 6-7 6-9 6-31 15-32 21-9 4-6 1-6 1-6-2-9-6-5-7-3-12-1-12 3-33-3-30 1-12 2-9 3-6 5-6z"/><path fill="#e184a0" d="M147 108l9 0 12 5 30 19 35 18 8 6 5 6 3 6 1 6 0 6-2 6-4 6-7 6-9 6-30 15-30 20-9 3-9 1-9-1-9-7-5-10-2-12 2-36-2-36 1-12 3-8 5-7 7-4z"/><path fill="#df7d9a" d="M144 111l9-1 12 3 36 22 29 15 8 6 6 6 3 6 1 6 0 6-2 6-5 6-6 6-34 18-30 19-9 4-9 2-9-1-6-2-4-4-5-9-3-12 2-36-2-33 1-12 2-6 3-6 6-6z"/><path fill="#dd7695" d="M142 114l5-2 9 0 9 3 9 4 25 16 33 18 9 9 4 6 1 6-1 6-2 6-4 6-7 6-33 18-28 18-9 4-6 1-9 0-6-2-4-3-6-9-3-12 1-36-1-30 0-12 4-12 5-6z"/><path fill="#db6f8f" d="M148 114l11 0 9 4 30 18 30 16 6 4 5 6 4 6 1 6-1 6-2 6-4 6-7 6-33 18-26 16-9 4-9 2-9-2-6-4-3-3-5-10-1-12 1-30-1-33 1-9 3-9 4-6 4-3z"/><path fill="#da6b89" d="M145 117l5-1 6 0 12 3 55 31 8 6 6 6 4 6 1 6-1 6-2 6-4 6-8 6-56 33-9 4-6 1-9-1-9-5-5-8-3-12 1-72 1-6 3-7 5-5z"/><path fill="#de7786" d="M146 120l4-1 6-1 12 3 51 29 9 6 6 6 3 6 2 6-1 6-2 6-5 6-7 6-50 29-9 4-9 2-9-1-6-4-3-3-4-9-2-9 0-66 4-12 5-6z"/><path fill="#e18383" d="M146 123l7-2 6 0 9 2 9 5 48 28 8 9 3 9 0 6-3 6-5 6-6 5-48 28-9 4-6 1-9 0-8-5-6-9-2-9 0-63 1-6 3-7 3-4z"/><path fill="#e48e7f" d="M146 126l4-2 6-1 12 3 12 6 41 24 7 6 5 9 0 9-5 9-7 6-8 6-36 20-9 5-12 2-6-1-6-3-5-8-3-12-1-48 1-12 2-8 3-5z"/><path fill="#e89a7b" d="M153 126l9 0 9 3 42 24 12 9 4 6 2 6-1 6-3 6-9 9-41 25-9 4-9 2-9-2-7-5-4-9-2-12 0-39 1-15 2-6 3-6 4-3z"/><path fill="#eaa478" d="M152 129l10-1 9 3 35 19 9 6 7 6 4 6 2 6-1 6-2 6-10 9-38 23-15 5-9 0-6-4-6-9-2-9-1-39 1-15 2-6 3-6 3-3z"/><path fill="#ebad76" d="M152 132l7-2 6 1 9 3 12 6 22 13 8 6 6 7 3 8 0 6-3 6-10 9-35 21-9 4-6 1-9-1-6-4-5-9-2-9 0-30 1-18 3-10 3-5z"/><path fill="#ecb675" d="M151 135l8-2 12 2 15 7 24 14 7 6 5 9 0 9-3 6-6 6-8 6-31 17-9 3-6 1-6-2-3-2-4-5-3-9-2-12 0-21 1-12 1-9 4-8z"/><path fill="#ecbd72" d="M159 135l6 0 9 3 28 15 9 6 5 6 2 3 2 6 0 6-4 6-9 9-30 17-9 4-6 0-9-2-6-6-3-10-1-12 0-24 3-15 4-8 3-2z"/><path fill="#eec370" d="M157 138l5-1 9 2 23 11 17 12 5 6 2 6-2 9-9 10-24 14-9 5-9 2-8-1-5-3-5-7-2-11-1-24 2-15 4-10z"/><path fill="#e4be6b" d="M156 141l6-2 6 1 9 3 9 4 15 9 7 6 5 6 2 6 0 6-2 3-8 9-22 14-15 5-9 0-6-3-3-4-3-9-1-18 1-21 3-9z"/><path fill="#d0af64" d="M159 144l6-1 6 1 18 8 15 10 5 6 2 6 0 6-2 3-9 9-17 11-15 5-9-1-4-3-4-6-2-9-1-18 2-15 3-7z"/><path fill="#bd9f5e" d="M162 147l6 0 6 1 15 7 14 10 2 3 2 6 0 3-2 6-9 9-16 9-12 4-6-1-6-4-3-6-2-11 0-15 2-11 3-6z"/><path fill="#a99057" d="M160 153l5-2 9 0 9 4 9 5 6 5 4 6 1 6-2 6-10 9-14 7-9 2-3 0-5-3-2-3-3-6-1-15 2-15z"/><path fill="#998250" d="M164 156l7-1 6 1 8 3 8 6 3 3 2 6-1 6-4 6-8 6-11 4-6 1-6-3-4-8-1-12 2-12z"/><path fill="#887549" d="M165 162l3-2 6-1 6 2 7 4 3 3 3 6-1 6-2 3-7 6-6 2-6 1-6-3-3-4-1-8 1-9z"/><path fill="#776642" d="M168 168l3-2 3 0 8 2 4 6 0 3-1 3-3 3-5 2-6 0-3-2-2-6 1-6z"/><path fill="#f7fbfd" d="M200 78l7-2 12 0 9 4 9 6 7 7 4 9 0 6-3 6-3 3-5 2-9 2-9-1-12-6-9-9-3-6-2-6 2-9zM81 147l6-1 9 4 7 9 4 12-1 12-4 11-6 7-9 4-6-1-8-6-5-9-1-9 0-12 3-9 5-8zM220 231l11 0 11 3 3 3 3 6-1 9-7 10-12 9-12 4-12 0-6-3-3-5-2-6 2-9 3-6 6-7 8-5z"/><path fill="#f1f7fc" d="M202 87l5-2 6-1 9 3 6 3 7 6 3 6 1 6-2 5-6 4-9 1-9-3-6-4-5-6-3-6 0-6zM83 156l4-2 3 0 6 2 6 8 2 7 0 9-2 8-6 7-6 3-6-2-3-2-3-5-3-9 0-9 2-6 3-6zM218 234l10 0 8 3 3 6-1 6-6 9-10 7-9 2-9-2-3-2-2-5 1-9 7-9 4-3z"/><path fill="#ebf4fb" d="M206 96l4-2 3-1 10 3 5 6 2 6-2 3-6 2-9-2-6-6-2-6zM87 165l3-2 3 0 4 2 3 6 1 6-2 6-3 4-3 2-3 0-3-2-3-7 0-9zM213 240l9-2 6 2 2 3-2 6-3 4-6 4-6 1-6-2-2-4 2-6z"/></g></svg>
<svg x="1728.8" y="539.7" width="117.3" height="117.1" viewBox="0 0 351.9 351.3" fill-rule="evenodd"><g filter="url(#wb)"><path fill="#fef7f9" d="M83 3l6-3 71 0 11 8 22 22 10 9 31 21 28 15 20 9 37 11 12 4 12 7 9 9 0 121-9 9-12 7-12 5-37 10-20 9-28 15-31 21-10 9-22 22-11 8-71 0-2-1-12-6-9-6-14-14-11-15-5-9-3-9-1-9 0-12 3-12 7-28 2-11 2-21 1-24-1-27-3-18-11-48 0-9 1-9 5-15 4-9 7-9 15-15zM105 120l-6 2-3 2-4 5-2 6-3 15-1 24 1 27 3 15 2 6 4 5 3 3 6 1 6-1 3-1 6-6 3-6 5-16 1-24-1-24-4-18-4-6-5-6-4-2zM171 81l-6 3-2 3-2 6 0 6 3 6 4 6 12 12 28 17 21 9 9 2 9 0 6-2 6-5 2-6-1-9-7-9-9-8-24-15-25-12-15-5zM168 161l-4 4-2 6-1 6 1 6 3 5 6 3 6 0 6-2 4-3 4-6 1-6-2-6-4-3-6-4-6-1zM235 201l-12 3-15 8-22 12-13 10-8 9-4 9 0 9 4 6 6 4 6 1 6-1 9-3 19-9 21-12 12-8 9-8 5-6 3-6 0-6-2-6-3-3-6-3-6-1z"/><path fill="#fdf0f4" d="M114 3l9-1 12 1 9 2 12 5 12 8 28 21 45 27 45 25 33 13 12 6 11 10 10 13 0 85-5 7-7 9-15 10-40 17-55 30-34 21-28 22-12 8-12 5-15 2-18-1-15-4-12-6-15-10-12-13-8-12-5-15-2-12 0-12 6-39 1-42-1-57-6-45 2-18 2-9 7-12 7-9 9-9 9-7 12-7 12-4zM168 81l-3 1-3 5-2 6 1 6 2 6 4 6 7 8 9 7 31 17 18 7 9 1 9 0 6-3 4-4 2-6-1-9-7-9-11-9-26-16-25-12-12-4-6 0zM102 119l-6 4-3 3-3 6-2 6-2 18 0 33 1 18 3 13 6 9 4 2 5 1 6-1 6-4 4-5 4-9 4-18 0-30-2-21-6-15-4-5-6-4-3-1zM168 161l-4 4-3 6 0 6 1 7 3 4 6 3 6 0 6-2 4-3 5-6 0-6-2-6-4-4-6-3-6-1zM235 201l-12 3-15 7-22 13-13 10-8 9-4 9-1 9 4 6 4 4 6 1 9 0 9-3 19-9 21-12 15-11 7-6 5-6 3-6 0-6-2-6-4-4-6-2-6-1z"/><path fill="#fbe9ef" d="M106 12l11-2 15 0 15 3 12 6 35 23 41 23 54 32 36 18 9 7 6 7 8 12 4 11 0 48-7 16-7 9-6 6-10 7-33 17-54 32-41 22-38 25-12 5-15 3-15-1-12-3-15-6-12-8-11-12-8-12-5-12-2-12 0-12 2-33 0-54 0-57-2-39 1-15 3-9 5-9 11-15 9-8 9-5zM174 78l-6 1-6 5-3 6 0 6 2 6 3 6 8 9 7 6 32 19 12 6 9 2 9 2 9-1 6-2 5-5 2-6-1-9-4-6-10-9-25-16-28-15-12-4zM99 119l-7 7-3 6-2 9-2 21 1 36 2 18 4 9 6 6 7 2 6-1 6-4 5-6 4-9 2-9 1-12 0-33-2-18-7-14-3-4-6-4-6-1zM168 160l-3 2-3 6-2 6 2 9 3 6 3 2 6 1 6-1 6-4 5-4 2-6-1-6-4-6-8-5-6-1zM232 201l-12 4-15 8-21 12-12 9-8 9-4 9-1 9 3 6 6 5 6 1 6 0 9-2 16-7 27-16 15-9 9-8 4-6 3-6 0-6-2-6-5-5-6-2-9-1z"/><path fill="#f9e2e9" d="M117 15l9 0 9 0 9 3 9 4 34 20 51 26 51 33 33 18 12 10 8 12 6 15 3 18-2 18-5 15-8 12-12 12-38 21-48 31-51 26-31 19-15 6-15 3-15-2-12-3-12-6-12-9-9-11-7-12-4-12-1-12 1-36-3-36 0-30 3-51-1-36 2-15 3-9 5-9 7-9 7-7 9-7 9-4 12-4zM171 77l-6 3-4 4-2 6-1 6 2 6 4 6 8 9 7 6 32 19 12 6 9 3 9 1 9 0 6-2 6-5 2-7-1-9-6-9-7-6-21-13-34-19-15-5zM105 117l-6 1-3 2-6 6-2 6-3 15 0 27 0 30 3 15 2 6 6 6 3 2 6 1 6-1 6-4 7-10 5-18 1-24-1-27-5-18-7-10-6-4zM171 159l-6 3-3 3-2 6 0 9 2 6 3 4 6 2 6 0 6-2 6-5 4-5 0-6-2-6-5-5-8-4zM232 200l-12 5-15 7-22 13-11 9-8 9-5 9 0 9 3 8 6 4 6 2 6-1 9-2 19-9 27-16 12-8 10-8 6-9 1-6-1-6-3-6-5-3-8-2z"/><path fill="#f8dbe3" d="M108 21l9-2 12 0 9 1 9 3 12 6 22 13 42 20 27 15 39 27 27 16 12 9 7 9 5 9 4 12 2 12-1 18-5 15-7 12-12 12-32 19-33 23-27 17-48 22-31 18-12 4-9 1-15 0-12-3-12-6-10-8-9-9-7-12-5-12-1-12 0-33-4-36 0-27 0-24 4-36 0-30 1-12 2-9 4-9 10-14 15-12zM168 77l-6 4-2 3-2 6 0 6 2 6 5 9 6 6 9 8 31 18 12 5 9 3 9 2 9 0 7-3 6-6 2-6-1-9-3-6-10-9-31-19-28-15-12-4-6 0zM99 117l-5 3-4 4-2 5-3 9-1 21 1 45 1 12 4 11 6 6 9 3 6-2 6-4 6-8 3-8 3-10 1-12 0-33-3-21-7-13-3-4-6-4-6-1zM171 158l-6 3-3 4-2 6 0 9 2 6 3 4 6 3 6 0 6-3 6-4 4-6 1-6-2-6-6-5-7-4zM229 201l-15 6-22 12-14 9-10 9-7 9-3 9 0 9 4 7 6 3 6 2 6-1 9-3 19-9 33-19 17-13 5-6 3-9-1-6-4-6-5-4-9-2-9 1z"/><path fill="#f6d4de" d="M111 24l15-1 9 1 9 2 12 6 24 13 40 17 27 15 14 10 25 19 27 16 12 9 8 10 5 9 3 9 2 12-2 18-5 15-8 13-12 10-30 18-36 27-24 15-46 19-33 18-12 4-9 1-9-1-9-1-15-7-14-11-6-6-5-9-4-9-2-12-1-36-6-48 0-33 6-42 0-33 3-15 7-15 10-11 15-11zM171 75l-6 2-4 4-4 6 0 6 1 6 3 6 7 9 6 7 12 8 19 11 12 6 12 5 12 2 9 0 6-1 6-5 4-6 0-9-4-9-5-6-16-10-49-28-12-4zM96 117l-4 3-4 6-3 12-1 21 0 51 2 12 4 7 6 5 9 3 6-2 6-4 6-8 4-10 3-21 0-36-3-18-3-9-4-6-6-5-6-3-6 0zM168 159l-4 3-4 6-1 6 1 9 4 6 4 3 6 1 6-1 6-3 6-6 2-6 0-6-4-6-7-5-9-2zM241 198l-15 3-15 7-28 16-12 10-8 9-5 9-1 9 2 6 2 3 4 4 6 3 6 0 9-2 13-6 42-24 18-13 5-7 2-6 1-6-3-6-2-3-6-4-6-2z"/><path fill="#f5cdd9" d="M113 27l16-1 15 4 36 18 28 10 15 7 23 13 17 12 20 17 30 19 11 9 7 9 4 9 3 9 1 12 0 12-4 12-4 9-7 9-11 9-30 19-28 23-20 13-18 9-37 14-33 18-9 3-12 1-9 0-9-2-15-6-13-11-5-6-5-9-3-9-2-9-1-36-6-33-2-18 1-30 6-39 1-36 4-15 5-12 11-13 15-10zM168 74l-6 3-5 7-1 6 0 6 2 6 6 9 13 12 34 20 21 9 9 2 9 0 9-3 5-4 3-6 1-9-4-9-6-6-11-8-58-32-12-4zM102 114l-6 1-6 5-4 6-2 6-1 15 0 60 1 12 4 9 2 4 6 4 9 2 6-2 6-4 6-7 3-8 4-19 1-33-2-21-6-17-3-4-6-6-6-3zM168 158l-5 4-3 6-1 9 1 6 3 6 5 4 6 1 6-1 7-4 6-6 2-6-1-6-4-6-7-5-9-3zM238 198l-12 3-15 7-28 16-13 10-10 12-4 9 0 9 3 6 3 3 6 4 6 1 6 0 9-3 58-33 15-11 4-6 2-6-1-9-3-6-5-4-6-2-6-1z"/><path fill="#f3c7d4" d="M113 30l16-1 15 4 33 17 37 12 15 7 15 9 16 12 23 21 27 16 12 10 5 7 5 9 3 9 1 12 0 12-3 9-4 9-7 10-12 10-27 16-23 21-12 9-16 10-15 8-40 13-33 18-9 2-9 1-15-1-15-6-12-9-6-7-5-8-3-9-2-9-1-36-7-33-2-18 0-30 8-39 1-36 4-15 6-12 10-11 12-8zM171 71l-6 3-6 5-3 5-1 9 3 9 3 6 13 13 12 9 22 12 12 6 12 5 12 2 9-1 6-2 6-5 3-6 2-9-4-9-6-6-68-40-12-5zM96 114l-5 3-3 3-4 6-1 6 0 84 3 12 4 6 6 3 9 2 6-2 6-4 6-8 4-9 4-21 0-39-4-21-7-13-6-6-6-3-6-1zM168 158l-6 4-3 6-1 6 1 9 3 6 6 4 6 1 6-1 8-4 5-6 2-6 0-6-4-6-8-6-9-2zM235 198l-15 5-21 11-22 13-11 10-8 12-3 9 1 9 3 6 3 3 6 3 6 1 12-3 65-37 13-9 4-6 2-6-2-9-3-6-6-5-6-2-9 0z"/><path fill="#f2c0ce" d="M112 33l14-1 15 3 12 5 24 14 37 10 15 7 12 7 17 12 22 23 27 16 12 9 7 9 4 9 3 9 1 9-1 12-3 9-4 9-7 9-12 10-27 16-19 19-15 12-14 9-15 7-15 5-22 5-6 3-27 15-9 4-12 2-15-2-14-6-12-9-8-12-4-9-2-9-2-39-8-30-2-21 1-27 3-15 6-24 1-33 1-9 3-9 6-12 9-9 10-7zM165 72l-6 4-3 5-2 6 1 9 2 6 6 9 14 13 37 22 12 5 9 3 9 1 9 0 9-3 5-5 3-6 1-9-2-9-6-6-80-46-9-2zM93 113l-8 7-3 9-1 90 2 9 5 6 8 5 9 1 6-2 6-4 6-8 4-10 3-12 1-12 0-39-2-12-3-9-4-9-5-6-6-4-6-2-6 1zM165 159l-5 6-2 6 0 9 4 9 3 3 6 3 6-1 9-3 6-5 3-6 1-6-2-6-6-6-8-4-9-1zM235 198l-15 5-18 9-22 13-14 12-9 12-3 9 0 6 2 6 6 8 9 4 6 0 6-2 43-25 30-16 11-8 3-6 1-9-2-9-4-5-6-4-6-2-9 0z"/><path fill="#f0b9c9" d="M111 36l15-2 15 3 12 6 24 16 22 2 12 3 15 7 13 7 19 15 19 23 27 14 14 11 4 6 5 9 3 9 1 9 0 9-3 9-4 9-6 9-14 11-27 15-16 19-17 15-15 9-12 6-15 4-25 4-30 18-9 4-12 2-15-2-12-5-12-9-9-13-3-9-2-12 1-36-8-16-3-10-3-22 0-18 2-15 4-13 8-17-2-33 1-9 3-9 5-12 8-9 10-7zM174 66l-6 1-9 7-4 7-2 9 1 6 4 9 7 9 7 6 14 11 22 12 12 6 12 4 12 3 9 0 8-3 7-6 4-9 1-9-1-6-4-6-46-24-39-25zM96 111l-6 2-6 4-5 6 0 3 2 48-2 51 2 6 7 6 6 3 8 1 9-2 6-4 6-8 4-8 4-21 1-39-1-12-3-12-4-9-4-7-6-5-6-3-6-1zM174 156l-6 1-6 4-3 4-2 9 1 9 3 6 4 4 6 2 6 0 9-4 6-5 4-9-2-9-5-6-6-3zM232 198l-18 7-28 16-14 10-9 9-8 12-2 9 2 9 4 6 3 4 6 4 6 1 9-2 34-22 21-12 25-12 8-6 2-6 0-9-3-9-5-6-6-4-6-1-9 0z"/><path fill="#efb3c4" d="M110 39l13-2 15 2 15 7 14 11 1 3 0 3-9 8-6 10-1 6 1 9 4 9 8 9 10 9 11 8 25 14 15 7 15 4 12 0 9-2 5-4 6-9 5-15 2-2 6 1 9 3 9 5 13 11 5 7 4 8 3 15-2 15-4 9-4 7-12 11-9 6-9 4-9 1-3-5-4-12-6-9-8-5-9-1-15 2-15 5-18 9-22 13-9 7-9 9-6 9-4 9 0 6 1 6 6 10 9 8 0 3-1 3-7 6-13 9-12 4-9 1-9 0-9-2-9-4-9-7-5-7-6-9-3-9-1-9 1-18 2-7 2-2 1-1 3 0 9 3 9 1 6-1 6-3 6-6 5-8 3-9 3-12 1-18 0-33-4-18-5-12-6-8-9-5-9-1-18 3-3-3-2-10-1-12 1-9 2-9 5-9 4-6 6-6 9-6zM171 156l-6 2-4 4-3 6-1 9 2 9 3 5 6 4 6 1 9-3 7-4 5-6 2-9-2-6-6-6-9-5zM189 66l6-2 13 1 12 4 12 6 14 9 10 9 7 9 2 6-3 2-6-1-27-13-29-18-7-6-3-3zM71 135l1-2 3 0 2 5 3 24 0 36-2 12-3 8-3 0-3-3-3-6-3-11-2-15 0-15 2-15 3-10zM255 243l7-1 3 1-2 6-7 9-7 6-11 9-15 8-15 5-13 2-6-3 1-3 7-6 16-12 22-12z"/><path fill="#ecabbe" d="M122 39l10 1 12 4 12 7 6 6 1 3 0 3-8 12-3 9-1 6 1 6 3 6 6 9 10 9 9 8 25 14 18 9 15 5 12 1 9-1 6-3 3-3 5-6 7-13 2-2 4-1 6 2 15 8 10 9 7 12 3 15-2 15-4 9-4 6-10 10-15 8-6 1-4-1-2-1-7-14-5-6-3-3-6-3-9-1-12 2-15 4-18 9-25 15-9 7-10 9-6 9-3 6-1 6 1 6 3 9 8 12 0 3-1 3-6 6-12 8-9 3-12 1-9-1-9-3-9-5-6-5-5-7-5-9-2-9-1-9 1-12 3-7 3-2 3 0 12 1 6 0 9-4 6-6 3-4 4-8 3-12 2-18 0-36-2-15-5-15-5-9-9-7-9-3-17 1-4-2-3-7-1-9 1-12 2-9 5-9 5-6 6-6 9-5 9-3zM168 156l-6 4-3 5-2 9 0 9 3 6 5 5 6 2 6 0 9-4 7-6 3-6 0-9-4-7-9-6-9-3zM201 66l10 1 9 3 19 11 15 12 4 6 2 6-4 1-12-3-19-10-15-9-14-12-1-3 0-1zM69 141l3-3 3 1 1 2 2 7 2 20 0 18-2 17-3 9-3 1-3-3-3-6-3-12-1-12 1-21 3-11zM250 246l9-1 1 1 0 3-6 9-15 12-13 8-12 5-12 2-3 0-4-2 0-1 1-3 3-3 11-9 20-12z"/><path fill="#eaa1b6" d="M109 45l11-2 12 0 12 5 9 6 3 5 1 4-7 21 0 6 2 9 6 9 8 9 11 9 12 8 34 18 15 4 12 2 9-1 9-4 6-6 9-11 6-2 6 1 10 6 10 9 6 12 2 12-1 12-6 13-9 10-12 7-6 1-6-2-12-14-6-5-9-2-9-1-15 4-12 4-15 8-25 14-10 8-10 9-6 9-3 6-1 6 0 6 7 21-2 6-5 5-6 4-9 4-9 2-9-1-9-2-6-3-7-6-6-6-5-9-3-15 2-12 4-6 3-1 18-3 6-3 6-6 7-14 5-18 1-18 0-30-2-15-5-15-6-11-6-5-9-4-15-2-3-2-3-3-3-9 1-15 5-12 9-10 6-5zM168 155l-6 4-4 6-2 9 1 9 2 6 6 6 6 2 6-1 9-3 8-7 3-6 0-9-3-6-8-6-9-4zM203 72l5-2 6 1 17 7 9 6 7 6 5 6 1 4-3 2-3-1-7-2-13-6-18-12-6-6zM72 147l3 2 1 4 2 9 1 12-2 21-2 7-3 3-3-3-3-8-2-17 2-20 3-8zM240 252l10-2 3 2-1 3-5 6-7 6-9 6-17 7-6 1-5-2 0-3 3-3 7-6 14-9z"/><path fill="#e697af" d="M111 48l9-2 12 1 10 4 7 6 2 3 1 6-4 15 0 6 1 6 2 6 6 9 8 9 9 8 12 8 25 13 12 6 15 5 12 2 9 0 6-2 6-4 12-11 3-2 3-1 6 1 9 5 8 8 5 9 3 12-2 12-5 12-9 9-9 4-6 1-3-1-3-1-12-12-6-3-9-3-9 1-15 3-12 4-21 12-22 12-8 7-9 9-7 9-3 6-2 6 0 6 4 21-3 6-5 5-6 3-12 3-9 0-6-2-12-6-5-6-4-6-3-6-2-9 0-6 1-6 4-5 21-8 6-4 4-4 7-15 5-21 1-18-1-30-2-15-5-14-6-11-6-5-6-4-18-6-4-5-1-6 1-12 5-12 9-9zM165 156l-6 5-3 7-1 9 2 9 5 8 6 3 6 0 9-2 9-6 5-6 2-6-2-9-8-8-9-5-9-1zM210 75l8 0 14 6 11 9 2 3 1 3-2 1-6-1-13-6-12-9-3-3zM71 156l1-1 3 3 2 16-2 18-3 4-3-4-3-15 1-12 2-7zM238 255l6-1 2 1-1 3-2 3-7 6-10 6-6 3-6 1-4-1 0-3 6-6 9-6z"/><path fill="#e48da7" d="M113 51l7-1 9 0 9 3 6 5 3 5 1 3-2 21 4 12 6 9 8 9 10 8 12 8 34 19 15 5 15 3 9 0 6-1 6-3 15-11 3-1 6 0 9 5 6 7 4 9 2 9-2 12-4 9-6 7-9 5-6 0-3 0-15-11-6-3-9-2-9 1-12 2-15 6-40 22-19 15-11 15-4 12 2 21-2 6-5 5-6 3-12 3-12-2-6-3-6-5-7-10-3-12 1-9 3-5 21-10 6-6 3-4 6-15 4-20 1-18 0-30-3-15-4-15-4-8-6-7-6-4-17-8-2-3-3-6 1-12 4-9 8-9zM165 155l-6 5-4 8 0 9 1 9 3 6 3 3 6 3 6 0 9-2 9-6 6-7 1-6-1-9-6-7-9-5-9-3zM219 81l5 0 6 3 5 3 1 3-4 0-6-3-5-3zM71 168l1-2 2 8 0 6-2 6-3-9zM231 261l4 0 1 0-1 3-5 3-6 3-5 0 6-6z"/><path fill="#e184a0" d="M116 54l7-1 6 1 6 2 5 4 4 6 0 21 1 6 3 6 7 9 9 9 10 9 12 8 34 18 15 6 15 3 9 0 6-1 6-2 15-9 3-1 6 1 6 3 6 6 4 7 1 9 0 9-4 9-7 7-6 3-6 1-3-1-15-9-6-2-9-1-9 1-12 3-15 5-40 22-9 7-11 9-12 15-3 6-1 6 0 18-3 8-4 4-5 2-9 2-12-2-9-6-6-8-2-6-1-6 1-6 3-6 17-10 6-5 3-5 7-16 4-21 1-18-1-30-2-15-4-15-4-9-4-5-6-6-17-10-2-3-2-6 1-9 5-10 9-8zM168 153l-6 3-6 7-2 8 1 12 2 6 5 7 6 2 9 0 9-3 9-7 4-8 0-9-5-9-8-6-9-3z"/><path fill="#df7d9a" d="M111 60l6-2 6-1 6 1 6 3 3 4 2 4 2 21 7 12 10 12 11 9 10 8 15 9 28 14 18 6 12 2 12 0 6-1 15-8 6 0 3 1 6 3 4 5 3 6 1 6-1 9-3 6-4 5-6 4-3 0-6 0-15-7-6-2-9 0-9 1-15 4-15 6-37 20-17 14-14 15-7 12-1 18-2 6-2 3-5 4-9 2-9-1-9-6-6-8-2-9 1-6 2-3 17-12 7-9 7-18 4-24 0-45-2-15-4-15-4-9-5-8-6-6-12-8-3-4-2-4 0-6 2-6 4-6zM168 152l-7 4-5 6-2 9 0 12 4 9 4 4 6 3 9 0 9-3 9-7 5-9 0-9-5-9-9-7-9-3z"/><path fill="#dd7695" d="M114 63l9-1 6 1 4 3 4 6 3 18 3 6 4 6 8 9 13 12 21 14 22 12 12 6 27 8 15 1 6-1 15-5 6 0 6 3 3 3 2 4 1 6 0 6-2 6-7 7-3 1-6-1-15-5-6-1-15 1-18 5-15 6-34 19-18 13-18 18-4 6-3 6-5 21-6 6-6 2-9-2-5-3-5-6-2-6 0-6 2-3 16-15 6-11 7-22 3-21-1-45-6-28-3-9-4-8-5-6-11-9-2-3-2-6 1-6 2-5 4-4zM165 152l-6 4-5 9-2 9 2 12 5 9 6 4 6 1 9-1 9-4 9-9 3-6 0-9-5-9-10-7-6-3-6-1z"/><path fill="#db6f8f" d="M114 69l3-2 6 0 6 3 4 5 4 15 5 9 22 21 19 14 31 17 15 7 18 5 18 4 6-1 15-3 6 0 3 2 4 6 0 6-2 6-2 3-6 3-6-1-15-4-12 2-27 8-21 9-34 20-13 11-13 12-10 12-5 18-4 5-6 3-3 0-6-1-6-7-1-6 3-6 13-15 5-12 5-21 3-15 1-30-1-15-1-15-8-30-4-9-13-15-3-6 1-6zM162 153l-6 6-3 6-1 6 0 12 4 9 6 6 9 3 9-1 9-4 8-7 4-6 1-9-3-9-7-7-12-7-9-1z"/><path fill="#da6b89" d="M119 75l4 0 3 2 8 16 22 21 18 15 21 13 25 13 24 9 24 7 18-2 4 2 1 3 0 3-2 4-6 1-15-1-15 4-33 11-34 18-18 13-29 25-5 6-8 16-3 2-3 1-3-2-2-5 2-6 9-12 3-13 7-38 1-33-1-24-8-39-4-9-7-9-2-6 1-3zM168 150l-9 4-5 8-3 9 1 12 3 9 6 6 7 3 9 1 12-5 9-8 5-9 0-9-5-9-9-8-12-4z"/><path fill="#de7786" d="M134 105l1-1 3 0 6 3 33 26 28 16 12 6 33 13 5 3 3 3 0 3-3 3-5 3-33 13-18 10-25 14-30 24-6 3-3 0-2-4-1-6 6-39 1-30-1-18-6-36 1-6zM165 149l-6 4-7 9-3 12 2 12 5 9 6 6 9 2 9-1 12-5 8-8 4-9 0-6-1-6-5-9-12-8-12-3z"/><path fill="#e18383" d="M137 111l1-2 3 0 6 3 33 25 9 6 22 11 34 14 5 3 2 3 0 3-2 3-5 3-31 13-19 9-15 9-30 24-6 3-6 1-3-4 0-4 0-9 5-30 1-15-1-21-5-36 0-9zM168 147l-9 4-8 8-3 9 0 15 3 9 8 9 9 3 9 1 9-2 6-4 8-7 5-9 1-6-1-6-3-10-10-9-6-3-6-2-6-1z"/><path fill="#e48e7f" d="M140 114l4-1 9 5 29 23-2 3-12 1-9 4-8 7-7 9-3-10-4-26 0-9 1-4zM201 156l1-3 3 1 30 11 10 6 2 3 0 3-2 3-10 6-33 12-1-3 6-12 0-9-1-9zM144 186l7 9 8 7 9 4 12 2 2 2-29 24-6 3-6 1-3-4-1-9 4-29z"/><path fill="#e89a7b" d="M142 117l5 0 6 3 13 9 8 9-1 3-14 6-12 9-3-1-3-9-2-11 0-12 1-3zM209 159l5 0 9 3 14 6 4 3 2 3 0 3-2 3-10 6-17 6-5 0-2-3 2-12-2-15zM144 198l0-2 3-1 12 9 14 6 1 3-5 6-13 11-6 3-6 2-3-1-1-3-1-6 1-15z"/><path fill="#eaa478" d="M144 120l6 1 9 5 7 6 2 3 1 3-3 3-16 9-3 1-3-3-3-13 0-11zM211 165l3-3 3 0 10 3 11 6 2 3 0 3-2 3-9 5-9 3-6 1-3-3zM146 201l1-1 3 1 16 9 3 3-1 3-2 3-7 6-6 4-6 3-3-1-2-3-1-6 1-12 2-7z"/><path fill="#ebad76" d="M147 123l3 0 6 3 7 6 1 3 0 3-3 3-11 5-3 0-1-2-3-9 1-9zM214 168l3-2 3-1 9 3 5 3 2 3 0 3-2 3-5 3-6 2-6 1-3-3 0-2zM146 207l1-2 3 0 11 5 3 3 0 3-1 3-7 6-6 3-3 0-3-2-1-4 1-9z"/><path fill="#ecb675" d="M147 129l3-2 5 2 4 3 1 3-1 3-6 4-3 0-1-1-2-1-1-5zM217 171l3-2 6 1 3 1 2 3 0 3-2 3-3 1-6 1-3-2 0-2zM149 210l1-1 5 1 4 3 1 3-4 5-6 3-3-1-1-4 1-6z"/><path fill="#f7fbfd" d="M232 36l12 3 15 9 10 9 1 3 1 3-3 3-9-1-13-5-10-6-7-6-4-6 1-4 3-2zM168 84l3-2 6-1 6 1 9 3 22 10 24 14 10 8 8 9 3 9-1 6-2 3-3 3-6 3-9 0-9-2-18-7-25-15-15-12-4-6-4-6-1-6 0-4 3-5zM101 123l4-1 6 0 3 2 5 5 6 12 3 18 0 33-3 18-4 9-4 6-3 2-6 3-7-2-7-6-4-9-2-15-1-30 2-24 4-14 3-4zM31 150l2-1 3 3 3 7 2 12-1 12-1 10-3 7-3 2-3-1-3-4-2-8-2-9 2-18 2-8zM169 162l5-1 6 1 6 4 4 5 1 6-1 3-4 5-6 4-9 1-6-4-2-3-1-6 0-6 3-6zM225 204l10-2 9-1 6 2 6 3 3 7 0 6-3 6-5 6-7 7-15 10-34 18-9 3-9 1-6-1-6-4-3-7 1-6 2-6 6-9 11-9 10-7 22-12zM261 285l7 0 3 3-2 6-10 9-9 6-12 5-9 1-3-1-1-5 7-9 14-9z"/><path fill="#f1f7fc" d="M170 84l4-1 6-1 12 3 22 10 25 16 11 9 7 9 1 9-2 6-4 3-8 2-6 0-9-1-18-8-28-16-11-10-5-6-3-6-1-6 1-6 2-3zM103 123l5 0 3 0 6 4 3 4 6 13 2 18 0 30-3 18-4 9-4 5-3 2-6 3-5-1-4-2-6-7-4-12-1-15 0-30 2-21 5-12 4-4zM170 162l4-1 6 2 6 4 4 4 1 3-1 6-4 5-6 4-9 1-5-4-2-3-2-6 1-6 2-5zM226 204l9-2 9 0 6 1 5 4 3 6 0 6-3 6-5 6-9 8-12 8-21 12-16 7-9 3-6 0-6-1-5-4-3-6 1-9 3-6 8-9 8-7 16-9 15-9z"/><path fill="#ebf4fb" d="M172 84l5-1 6 0 16 5 24 13 18 12 8 7 7 9 1 9-3 6-4 3-6 2-6 0-9-2-18-7-28-17-13-12-4-6-2-6 0-6 1-3 3-4zM99 126l3-2 6-1 6 3 3 2 6 11 4 17 1 30-3 21-3 9-5 7-3 3-6 2-6-1-3-2-5-6-3-9-2-12-1-27 2-24 3-13zM173 162l4 0 6 3 4 3 3 6-1 5-2 4-4 4-6 2-6 0-3-1-4-5-1-6 0-6 2-4 3-3zM228 204l10-2 6 0 6 2 4 3 3 6 0 6-3 6-5 6-6 6-14 10-18 10-16 7-9 3-9 1-6-1-4-3-3-6 0-6 4-9 7-9 12-9 15-9 15-8z"/><path fill="#e7f2fa" d="M176 84l10 1 13 4 24 12 19 13 9 9 4 6 1 9-3 6-5 3-7 2-15-3-21-10-25-15-10-10-3-6-2-6 0-6 1-3 5-5zM101 126l7-2 6 3 3 2 3 4 4 8 3 18 0 30-2 18-4 9-4 6-3 3-6 2-7-2-6-6-4-12-2-15-1-24 2-21 3-12 3-5zM167 165l4-2 6 0 6 2 3 3 4 6-1 6-3 3-3 3-6 3-6-1-4-2-3-6-1-6 2-6zM229 204l9-1 9 1 6 3 2 3 1 3 0 6-3 6-4 6-8 7-15 10-27 15-10 3-9 1-6 0-6-3-3-6 0-6 3-9 8-9 11-9 18-10 12-6z"/><path fill="#e3f0f9" d="M170 87l4-2 6 0 12 2 19 8 21 12 13 10 8 9 3 9-2 6-2 3-6 3-5 1-9-1-18-6-25-14-13-10-5-6-4-6-2-6 0-5 2-4zM103 126l5-1 3 1 6 4 3 4 5 13 2 15 0 27-3 18-3 9-4 5-3 3-6 2-5-1-4-2-5-7-3-12-2-15 0-27 2-18 5-12 3-4zM168 165l3-2 6 0 5 2 4 4 3 5 0 3-3 6-3 2-3 2-6 1-6-2-2-3-2-9 1-6zM231 204l10-1 5 1 6 3 2 3 2 6-2 6-4 6-5 6-10 8-15 9-25 12-15 4-6-1-6-3-3-6 1-8 3-6 7-9 12-9 17-10 15-7z"/><path fill="#dfeef9" d="M172 87l5-2 6 0 12 4 19 8 18 11 12 9 8 9 3 9-2 6-3 4-6 2-6 1-9-2-18-7-22-13-12-9-6-6-3-6-2-6 1-6 1-3zM107 126l7 2 4 4 4 6 4 15 1 18-1 24-3 14-6 11-3 3-6 2-6-1-3-2-5-9-4-15-1-21 1-21 3-17 3-6 3-4 3-2zM169 165l5-2 3 1 6 2 3 4 2 4 0 3-2 5-3 3-3 2-6 1-5-2-3-3-1-3-1-6 2-6zM233 204l8 0 6 1 4 2 3 6 1 3-2 6-3 6-6 6-9 7-15 10-25 12-15 3-6-1-6-3-2-7 1-6 2-6 8-9 12-9 19-11 15-7z"/><path fill="#dbecf8" d="M174 87l9-1 12 3 19 9 21 13 8 6 8 9 3 9-2 6-3 3-5 3-6 0-9-1-18-7-25-15-12-10-4-6-3-6 0-6 0-3 2-3zM101 129l4-2 3 0 6 2 3 3 6 11 3 17 0 29-2 18-4 8-3 4-3 3-6 2-6-1-6-7-4-9-2-15 0-21 1-21 3-12 4-6zM170 165l4-1 6 1 5 3 2 3 1 6-1 3-2 3-5 3-6 1-3 0-3-2-3-4 0-4 0-6 2-3zM237 204l7 1 5 2 5 6 0 3-2 6-3 6-6 6-23 16-25 12-9 3-6 0-6-1-5-3-2-6 1-9 6-9 7-6 13-9 20-11 12-5z"/><path fill="#d7eaf7" d="M177 87l9 0 13 4 18 9 18 11 10 9 5 6 3 9-2 6-4 4-6 1-6 0-9-1-18-8-23-14-13-12-4-9-1-6 1-3 3-4zM103 129l5-1 3 0 6 5 3 4 3 8 3 17 0 27-3 18-3 7-3 4-3 3-6 3-6-2-6-6-4-12-2-15 0-24 2-18 4-11zM171 165l3-1 6 2 6 5 1 6-1 3-6 6-6 1-3-1-3-2-2-4-1-3 1-6 2-4zM224 207l8-2 9 0 6 1 4 4 2 3 0 6-3 6-5 6-6 6-13 9-27 14-10 3-9 2-6-1-3-3-4-6 1-6 2-6 5-6 8-7 12-9 16-8z"/><path fill="#d3e8f6" d="M172 90l8-3 12 2 19 8 18 10 12 10 8 9 3 9-2 6-3 3-6 2-12-1-15-6-24-13-14-12-7-9-1-9zM105 129l3 0 6 2 6 7 4 12 2 18 0 24-3 15-6 11-3 2-6 3-6-2-3-2-3-6-4-12-2-18 1-21 2-17 4-10 3-3zM174 165l3 0 6 3 4 6-1 6-3 3-6 3-6 0-3-3-2-6 0-6 2-3zM225 207l10-2 6 0 6 2 3 3 2 3 0 6-3 6-4 6-7 6-13 9-26 14-16 4-6 0-6-3-3-6 0-6 3-6 7-9 8-6 16-10 12-6z"/><path fill="#d0e6f5" d="M173 90l4-2 6 0 12 3 16 6 18 11 12 9 8 9 2 9-2 6-4 3-4 1-12 0-15-6-23-13-15-12-6-9-1-6 0-3 1-3zM101 132l4-2 3-1 6 3 3 3 3 4 3 8 3 15 0 24-3 18-3 8-3 5-3 3-6 2-6-2-6-7-3-9-2-15 0-21 2-18 3-11zM169 168l5-2 6 1 3 2 3 5 0 3-3 5-3 2-6 2-5-3-3-6 1-6zM227 207l8-1 9 1 5 3 2 3 0 3-1 6-4 6-5 6-18 13-24 12-16 4-6 0-6-3-2-5 0-6 3-6 7-9 7-6 16-9 15-8z"/><path fill="#cce4f4" d="M175 90l8-1 12 2 19 8 18 11 8 7 8 9 3 9-3 6-4 3-6 1-12-2-18-7-21-13-10-9-6-9-2-6 1-3 1-3zM102 132l3-1 6 0 6 4 6 12 2 15 0 24-2 18-6 12-3 3-6 2-6-2-6-8-3-10-2-15 0-21 2-15 3-10zM170 168l4-2 3 0 4 2 3 3 1 6-1 3-3 3-7 2-3-1-3-3-1-7zM228 207l10-1 5 1 5 3 2 3 1 3-2 6-3 6-6 6-20 15-25 11-9 2-6 1-5-2-4-3-2-6 2-6 3-6 6-6 11-9 14-8 12-6z"/><path fill="#c6e1f3" d="M177 90l9-1 13 4 18 8 15 10 11 9 4 6 3 9-3 6-3 2-6 2-12-2-18-8-21-12-10-9-6-9-1-6 0-3 2-3zM104 132l4-1 3 1 3 1 5 5 4 12 2 15 0 24-3 15-5 11-3 3-6 2-6-2-3-3-3-5-3-12-2-15 1-21 2-15 4-9zM171 168l3-1 3 0 4 1 3 3 1 6-1 3-3 3-7 2-3-1-3-3-1-7 1-3zM230 207l12 0 5 3 2 3 1 3-1 6-4 6-6 6-19 14-25 12-9 2-6 0-3-1-5-3-2-6 1-6 4-6 5-6 12-9 16-9 12-6z"/><path fill="#bddef2" d="M175 93l8-2 9 1 16 6 15 8 11 8 9 9 5 9-1 6-3 3-3 2-6 1-6-1-15-5-19-10-14-11-7-9-2-9 1-3zM102 135l3-2 6 0 6 5 5 12 2 15 0 24-2 15-5 9-3 3-6 2-6-2-4-6-3-9-2-15-1-18 2-15 4-12zM170 171l4-3 6 2 3 4 0 3-1 3-5 3-3 0-3-1-2-5zM222 210l10-2 6 0 6 2 3 3 1 3-1 6-6 9-7 6-11 8-21 11-16 5-6-1-6-2-2-6 1-6 3-6 5-6 18-12z"/><path fill="#b5daf0" d="M179 93l7-1 13 3 12 5 15 9 10 8 8 9 2 6-1 6-4 3-3 1-12-1-15-6-21-12-10-9-6-9 0-6 0-2zM107 135l4 0 3 2 3 4 3 5 3 13 1 15-1 18-3 13-3 6-3 3-6 2-6-2-3-4-2-6-3-12-1-15 1-18 3-12 5-9zM173 171l4 0 3 2 1 4-2 3-5 1-3-2 0-5zM225 210l7-1 6 0 3 1 4 3 1 3-1 6-3 6-6 6-16 12-21 10-10 3-6 0-4-1-4-3-1-3 0-6 3-6 5-6 8-6 14-9 13-6z"/><path fill="#acd7ef" d="M178 96l5-2 12 1 13 5 15 8 12 9 7 9 2 6 0 3-2 3-7 3-9-1-14-5-16-9-12-9-7-9-2-6 0-3zM105 138l3-1 3 0 6 6 4 10 2 15 0 18-3 16-3 7-3 3-6 2-6-3-3-4-3-9-2-15 0-15 2-15 3-9zM230 210l8 1 4 2 2 3 0 3-2 6-7 9-15 11-18 9-16 4-6-1-3-2-2-3 0-3 2-6 4-6 6-6 9-6 15-8 9-4z"/><path fill="#a4d3ed" d="M181 96l8-1 10 2 12 5 10 6 12 9 6 6 3 6 0 6-3 3-4 2-9-1-12-4-17-9-12-9-7-9-1-6 1-3zM104 141l4-2 3 0 6 5 3 9 2 15 0 18-2 13-3 7-3 4-3 2-3 0-3 0-3-3-3-5-2-9-2-12 0-15 2-12 2-9zM221 213l8-2 6 0 4 2 3 3 0 3-1 6-8 9-16 12-18 8-13 2-5-1-3-3-1-3 1-6 7-9 17-12z"/><path fill="#9bd0ec" d="M180 99l6-3 9 1 13 5 11 6 13 9 5 6 3 6-1 6-4 3-9 0-12-4-15-8-13-9-5-6-2-6 0-3zM108 141l3 0 3 2 3 5 4 11 1 15-1 15-3 12-4 7-3 2-3 0-5-3-4-6-2-12-1-12 1-15 2-11 3-6zM225 213l10 0 4 3 1 3-1 6-7 9-13 9-17 9-13 3-6-1-3-2-1-3 1-6 6-9 19-12 12-6z"/><path fill="#92cdeb" d="M183 99l6-1 10 1 12 5 11 7 11 9 4 6 1 6-1 3-2 2-6 1-9-2-12-5-13-8-10-9-4-6 0-6zM106 144l2-1 3 0 3 3 3 4 3 9 1 12 0 15-3 12-4 8-3 2-3 0-3-1-2-3-3-6-3-18 0-12 2-12 3-8zM218 216l11-2 6 1 2 1 1 3-1 6-4 6-7 6-15 10-16 6-6 1-6-2-2-3-1-3 1-3 4-6 6-6 9-6z"/><path fill="#8ac9e9" d="M183 102l6-3 6 1 10 2 11 6 9 6 6 6 5 6 0 6-3 3-7 1-9-2-12-6-12-8-7-6-3-6-1-3zM105 147l3-2 3 1 3 2 4 8 2 14 0 16-3 12-3 5-3 3-3 0-3-2-4-6-2-6-1-12 0-12 1-9 3-9zM221 216l11-1 3 2 1 2 0 6-8 9-12 9-14 7-13 2-6-3-1-3 1-3 6-9 16-11z"/><path fill="#81c4e8" d="M186 102l6-1 7 1 9 3 11 6 8 6 5 6 2 6 0 3-5 3-9-1-12-5-9-6-8-6-5-6-2-6zM104 150l4-2 3 0 3 3 3 6 2 11 0 15-2 11-3 7-3 2-3 1-3-2-3-4-2-9-2-9 2-18 2-9zM215 219l8-2 6 0 5 2 0 3 0 3-4 6-7 6-9 6-15 7-7 1-6-2-2-3 1-3 1-3 5-6 12-9z"/><path fill="#79bfe6" d="M187 105l2-2 6-1 10 3 9 4 8 5 6 6 4 6 0 5-3 2-6 0-9-2-10-5-8-6-7-6-3-6zM108 150l3 0 5 6 2 6 1 12-1 12-2 9-5 6-3 0-3-2-3-5-2-8-1-9 1-9 2-9 3-7zM218 219l8-1 4 1 2 2 0 4-7 9-11 8-12 6-10 1-3-1-2-2-1-3 1-3 9-9 9-6z"/><path fill="#6eb8e4" d="M190 105l5-1 7 1 13 6 11 9 4 6 0 3-4 3-6-1-7-2-11-6-11-9-2-6zM107 153l4 0 3 3 3 9 1 9-1 10-2 8-4 6-3 1-3-2-3-7-2-13 2-16 3-6zM213 222l7-2 6 0 4 2 0 3-1 3-6 6-12 9-12 4-9-1-1-3 0-3 5-6 7-6z"/><path fill="#61b1e2" d="M193 108l2-1 7 0 10 4 11 9 2 3 1 4-3 2-3 0-9-3-6-3-11-9-1-3zM106 159l2-2 3 1 3 4 2 9 0 9-2 9-3 5-3 0-3-3-3-11 1-12zM219 222l4 0 3 3-1 3-5 6-8 6-7 3-6 2-6-2 0-3 1-3 6-6 10-6z"/><path fill="#54aadf" d="M198 111l4-1 3 0 6 3 6 4 4 6-1 2-3 1-8-3-9-6-2-3zM106 165l2-2 3 0 3 11 0 6-2 6-1 2-3 1-3-5-1-7 1-9zM209 228l8-3 3 1 1 2-4 6-6 4-6 3-3 0-4-1 0-3 2-3z"/></g></svg>
<svg x="1865.8" y="539.7" width="116.5" height="117.1" viewBox="0 0 349.5 351.3" fill-rule="evenodd"><g filter="url(#wb)"><path fill="#fef7f9" d="M65 3l5-3 178 0 29 16 27 19 23 19 18 21 5 6-1 189-19 24-26 23-27 18-29 16-178 0-13-8-12-10-12-12-10-12-13-21-10-21 0-183 12-24 14-21 19-21zM108 113l-6 4-3 4-3 5-2 9-3 24 1 36 2 21 4 12 7 9 6 2 3 0 4 0 4-5 3-9 2-12 0-9-3-21 0-9 3-24 0-9-3-18-3-8-3-2-4-1zM160 84l-6 3-3 3-2 6 0 3 5 6 12 10 9 6 18 7 9 4 21 17 9 5 18 5 6 0 4-3 1-3 1-6-2-9-6-9-11-9-26-17-27-14-18-6-6 0zM205 24l-12 5-10 7-2 4-2 5 1 3 2 3 8 4 30 10 15 8 16 11 20 19 6 4 6 1 4-3 4-6 2-6 0-9-1-9-3-9-5-9-10-13-15-12-15-7-12-3-9 0-9 0zM48 114l-9 3-8 6-6 6-6 9-5 9-4 12-2 12 0 9 2 12 3 9 4 9 6 9 8 9 8 6 9 4 6 0 6-1 4-6-1-9-7-30-1-18 2-18 7-33-1-4-3-4-6-2zM157 143l-5 4-2 6 6 21-1 6-4 12-1 6 1 3 3 5 3 2 6 2 6-3 15-15 6-2 12-3 6-2 3-5 1-6-3-6-4-3-15-4-6-2-15-15-6-2zM253 192l-9 2-15 5-6 3-21 17-9 5-18 6-7 4-8 6-9 9-2 6 2 6 6 5 6 2 6 0 9-1 24-11 37-22 15-12 5-6 2-6 1-6-1-6-2-3zM277 245l-6 4-20 18-16 12-18 8-27 9-6 3-4 4-1 3 2 6 6 7 9 5 12 4 9 2 12-1 12-2 12-4 9-6 12-10 8-10 5-9 5-12 1-12-2-12-5-7-3-1z"/><path fill="#fdf0f4" d="M81 3l6-3 131 0 9 6 4 3 1 3-6 3-24 6-9 5-6 4-6 6-4 6 0 6 4 5 10 4 26 8 15 6 18 13 24 23 6 3 3 0 3-1 4-4 3-6 2-6 1-9-1-9-7-27 0-3 1-1 3 0 15 8 15 12 15 16 13 17 0 157-13 17-15 16-15 12-15 8-3 0-1-1 0-3 7-27 1-9-1-9-2-6-3-6-4-4-3-1-3 0-6 4-24 22-18 13-15 7-26 7-10 5-4 4 0 6 4 6 6 6 6 5 9 4 24 6 6 3-1 3-4 3-9 6-131 0-24-14-12-9-9-10-17-21-9-15-5-12-6-18-3-15-1-15 2-12 3-2 3 2 17 18 9 6 7 4 9 2 6 0 6-3 2-3 0-9-8-33-1-18 2-21 6-24 1-9-2-6-5-3-7 0-9 2-7 4-9 6-20 20-3-2-2-12 1-15 3-15 5-15 6-15 15-24 11-12 12-12 15-11zM111 111l-6 2-4 4-4 6-2 6-3 21-1 36 1 24 4 17 3 5 5 5 4 3 6 1 7-3 2-4 4-18 1-12-4-21 0-9 4-30-1-13-4-14-2-4-3-2zM157 84l-5 3-3 3-2 6 1 3 5 6 14 12 8 4 24 10 9 6 15 12 9 5 12 4 9 2 5-1 3-3 2-9-2-9-6-9-16-12-31-19-24-12-15-4-6 0zM157 143l-5 4-2 6 6 21-1 6-4 12-1 6 1 4 3 5 3 2 6 1 6-2 15-15 6-3 12-2 6-3 4-5 0-6-1-4-3-4-6-3-12-2-6-2-15-15-6-3zM247 192l-21 8-25 19-8 4-18 7-8 4-17 15-3 6 2 6 5 5 6 3 6 0 9-1 9-3 18-8 37-23 12-9 6-6 4-6 2-6 0-9-4-5-6-2z"/><path fill="#fbe9ef" d="M94 3l7-3 94 0 9 6 1 3 0 3-3 3-18 14-6 7-4 9 2 6 3 3 7 3 28 7 21 10 18 13 21 22 6 3 3 1 6-3 4-5 5-12 3-24 3-3 3 0 9 4 12 10 11 13 11 17 0 132-5 7-11 15-12 13-9 6-6 3-3 0-3-4-3-24-5-12-4-5-3-2-6 0-6 4-25 24-14 11-21 9-28 7-7 3-3 3-2 6 4 9 6 7 18 14 3 3 0 3-1 3-9 6-94 0-11-4-12-7-12-7-12-10-10-11-15-21-7-12-6-15-3-12-1-9 1-6 2-4 3-2 3 1 21 9 12 2 6-1 4-2 2-3 1-6-8-33-3-21 3-24 8-30-1-9-2-3-4-2-9-1-11 3-19 8-3 1-3-1-2-5-1-6 1-9 3-12 6-15 7-12 8-12 10-12 10-10 12-9 15-10zM108 110l-6 4-3 3-3 6-3 9-2 27 0 39 2 21 4 12 8 9 9 2 7-1 2-4 5-21 0-12-4-21 0-9 4-24 0-9-2-15-3-12-2-3-3-2zM163 81l-6 1-8 5-3 6 0 3 3 6 14 12 12 8 18 6 8 4 22 18 9 5 21 7 6-1 3-3 3-8-1-9-6-9-9-9-26-17-33-18-15-6zM160 141l-7 3-3 6 0 6 5 15 0 6-6 21 2 5 2 4 4 2 6 2 6-3 15-15 6-2 12-3 6-2 4-6 1-6-2-6-4-3-21-6-5-3-12-13-3-2zM247 191l-21 9-21 16-6 4-24 10-8 4-15 12-5 6-1 3 1 6 6 6 7 3 6 0 9-1 9-3 18-9 21-12 21-14 12-9 5-6 3-6 1-6-2-9-4-4-6-1z"/><path fill="#f9e2e9" d="M105 3l10-3 54 0 8 0 8 3 5 3 2 3 1 3-3 6-12 14-5 7-1 9 3 6 6 3 33 8 18 8 12 7 8 7 22 24 6 4 3 0 6-2 5-5 5-9 6-18 2-3 6 0 9 5 9 9 11 13 8 15 0 112-13 20-6 8-9 8-6 4-6 2-3-1-3-4-7-20-5-8-6-4-6 0-6 4-22 23-17 13-21 10-33 7-6 3-3 6 1 9 5 8 12 13 3 6-1 3-3 3-12 6-62 0-16-5-18-8-21-15-10-11-8-9-13-21-8-21-1-12 1-3 3-4 6-1 18 4 9 0 6-1 3-2 3-5 0-3 0-6-10-30-2-21 2-21 10-33 0-9-1-3-4-3-7-2-9 0-18 4-6-1-3-3-1-4 1-9 2-9 6-15 7-12 8-12 10-11 12-10 12-9 15-8zM111 108l-6 2-4 4-5 6-2 6-3 24-1 39 2 24 3 15 3 6 4 5 6 4 6 1 7-1 3-4 4-23 1-12-4-18-1-12 4-24 1-9-3-21-2-8-4-4zM160 80l-6 2-7 5-3 6 0 3 3 6 15 12 10 7 21 7 7 4 9 6 11 10 9 6 24 9 6 0 3-2 3-5 1-6-1-9-5-9-11-9-26-17-33-18-18-7-6-1zM160 140l-7 4-4 6 0 6 5 15 1 6-6 21 1 6 3 3 4 3 6 1 3-1 5-3 13-13 6-3 12-2 6-3 5-6 0-6-2-6-3-3-6-2-16-4-5-4-12-13-3-1zM253 189l-27 10-26 20-7 4-18 6-9 5-15 12-6 6-1 3 1 6 6 6 9 4 6 1 9-2 27-13 43-26 15-12 4-6 2-6 0-9-3-6-4-3z"/><path fill="#f8dbe3" d="M117 3l18-3 20 0 14 3 8 3 5 3 2 3 0 3-2 6-8 12-4 9-1 6 1 3 2 3 3 2 6 2 30 6 21 9 9 6 10 8 9 9 14 17 6 4 6 0 6-3 5-6 10-19 3-2 6 0 9 5 9 10 9 12 7 15 0 94-9 17-10 13-12 10-6 2-3 0-3-2-10-20-5-5-5-4-4 0-6 2-26 28-10 8-9 6-18 8-12 3-21 4-5 1-4 3-3 6 1 6 4 9 10 15 0 6-3 4-6 4-9 3-9 1-24 0-22-4-21-8-18-11-18-16-12-15-10-18-3-9-2-9 0-9 3-4 6-1 15 1 9-1 8-4 3-6-1-9-10-30-2-12-1-12 3-21 10-30 1-9-3-6-5-3-9-1-18 1-3-1-4-2-2-3 0-6 3-15 5-12 9-15 10-12 9-9 12-9 12-7 15-7zM154 81l-9 6-3 6 0 3 1 3 3 3 19 15 10 5 15 5 10 5 9 6 11 10 9 6 27 11 3 0 4-3 4-9 0-6-1-6-5-9-7-6-34-22-39-21-9-3-6-1-6 0zM108 107l-6 4-3 3-4 6-3 9-2 36 1 45 3 18 5 9 3 4 6 3 10 2 5-3 2-3 4-27 0-9-4-18-1-12 5-24 0-9-3-27-2-6-3-2-3 0zM157 141l-5 3-3 6 0 6 5 18 0 6-5 15 0 6 1 3 4 5 3 1 6 1 3 0 5-4 13-13 6-3 12-2 7-3 4-6 1-6-2-6-4-3-6-3-12-2-6-3-12-13-6-4-3 0zM250 188l-24 11-6 4-11 10-10 7-24 9-9 5-23 18-1 3 1 6 6 6 8 5 6 1 9-1 9-4 18-9 47-28 12-9 5-6 3-6 1-6-1-9-4-7-3-2-3 0z"/><path fill="#f6d4de" d="M137 3l11 0 12 2 9 2 7 5 1 3 0 6-7 15-3 9 0 6 1 3 4 3 6 2 21 3 12 3 21 9 11 7 11 9 20 25 6 5 6 0 6-3 6-6 9-14 3-3 3-1 6 1 9 7 9 10 7 12 6 14 0 77-10 20-12 16-9 7-6 1-3-1-3-2-9-15-6-6-6-3-6 1-6 4-20 25-11 9-11 8-21 8-12 3-21 3-7 2-3 3-1 3 0 6 3 9 7 15 0 6-1 3-4 3-6 3-9 2-12 1-21-1-19-5-18-8-18-12-16-16-11-15-7-15-3-9 0-6 1-6 3-3 6-1 18-2 6-2 6-4 2-6-1-6-12-30-2-12-1-12 0-12 3-12 3-12 9-21 1-6-1-3-4-5-6-3-24-3-3-1-3-3-1-9 4-15 8-15 9-12 10-11 12-9 15-9 15-7 16-4zM160 77l-10 4-4 3-5 6-2 6 1 3 4 3 28 20 21 7 9 5 18 15 9 6 27 12 3 0 3-1 3-3 4-10 0-9-4-9-6-6-24-16-42-25-21-9-6-2zM111 105l-9 4-5 5-3 6-2 6-2 33 0 45 2 21 3 9 4 6 5 3 7 4 7 1 6-2 2-3 1-3 3-33-5-24 0-9 1-9 3-15 1-9-4-33-2-3-3-1zM157 140l-6 4-3 6 1 6 5 18-1 6-4 15-1 6 3 5 3 3 3 2 6 1 6-2 12-13 6-4 18-5 4-2 5-6 0-6-2-6-4-4-18-4-6-3-12-13-6-4-3-1zM253 186l-30 14-15 13-9 7-9 4-15 4-9 5-26 19-1 3 2 6 5 6 8 5 9 2 9-1 15-7 18-10 46-28 8-6 6-6 3-6 1-6-1-9-5-9-4-2z"/><path fill="#f5cdd9" d="M135 6l13 0 9 2 9 3 5 4 1 3 0 6-6 15-2 9 1 6 4 4 6 3 21 2 12 2 12 4 12 5 10 7 11 9 8 9 13 19 6 5 6 0 6-3 18-20 3-1 6 1 9 6 9 11 8 15 5 15 0 57-4 12-6 12-6 10-6 7-9 7-6 0-6-3-9-12-6-6-9-3-6 2-3 3-13 19-8 9-11 9-10 7-12 6-12 4-12 2-21 2-6 2-4 4-1 6 2 9 6 15 0 6-1 3-5 4-6 3-18 2-18-1-16-4-18-7-15-10-13-11-13-15-8-15-4-15 0-6 1-3 4-3 21-4 6-2 6-6 1-6-1-6-12-27-4-15-1-12 1-15 3-12 4-13 9-17 1-9-3-6-5-3-8-2-15-3-6-3-2-4 0-6 3-12 5-12 9-12 11-12 13-10 12-7 15-7 16-4zM154 78l-6 3-7 6-4 6-1 3 0 3 36 23 18 6 9 4 9 6 12 11 6 5 19 8 14 8 3 0 3-3 5-11 0-12-3-9-6-6-35-22-48-27-12-4-6 0zM118 102l-10 2-7 4-6 6-3 6-2 27 0 48 1 30 1 6 3 6 4 5 6 4 6 2 10 2 4-1 3-3 0-15 2-24-4-21-1-12 1-9 4-18 0-6-2-21 0-15-3-3zM157 140l-6 4-3 6 0 6 6 18-1 6-5 15 0 6 3 6 3 3 3 1 6 1 6-2 12-13 6-4 18-4 5-3 4-6 1-6-2-6-5-4-21-6-6-4-9-11-6-4-3 0zM256 182l-11 7-22 11-15 13-9 6-9 4-18 6-21 15-10 5-5 3 0 3 3 6 6 7 9 6 6 2 9-1 9-4 27-14 52-32 10-9 3-6 0-9-1-9-4-8-3-3-3 0z"/><path fill="#f3c7d4" d="M130 9l12 0 12 1 9 4 4 4 1 3-1 6-5 21 1 7 3 5 6 3 21 0 15 2 12 4 12 6 12 8 11 10 9 12 10 17 3 3 6 1 6-2 6-4 15-15 6-1 6 2 9 9 8 11 6 15 5 18 0 33-4 15-4 12-5 9-6 9-6 6-6 4-6 0-6-3-12-13-6-4-6-2-6 2-3 2-10 17-9 12-11 10-12 8-12 6-12 4-15 2-21 1-6 2-3 6-1 6 5 21 1 6-1 3-4 4-6 3-15 3-15-1-19-4-15-6-15-9-15-13-11-13-8-15-3-12 0-6 4-6 6-2 15-4 6-2 4-4 3-6-1-6-9-16-6-14-3-15-1-12 1-15 3-15 6-14 9-16 1-6-3-6-4-3-6-3-18-5-5-4-2-3 0-6 2-9 6-12 8-12 9-10 12-9 12-8 12-5 16-5zM157 74l-12 7-15 16-16 3-9 4-7 4-6 6-2 6 0 9 0 96 2 12 6 6 13 7 19 4 11 13 7 5 9 5 6 1 9-3 33-18 49-29 13-9 4-6 1-12-1-9-5-12-1-6 6-15 1-12 0-6-2-6-6-6-47-28-45-25-9-3zM132 105l4-2 6 1 9 4 21 15 18 5 9 4 8 6 16 14 20 10 10 6 5 6 0 3-2 3-7 6-26 13-16 14-8 6-9 4-18 6-27 17-6 2-3 0-3-1-3-4-1-6 0-9 2-21-6-30 1-12 4-18-1-30 1-6zM154 141l-6 6-1 6 6 21 0 6-5 15-1 6 3 6 4 3 6 3 6-1 6-4 12-13 6-3 18-4 5-5 2-9-2-6-2-3-6-3-18-4-6-5-9-10-6-4-6 0z"/><path fill="#f2c0ce" d="M125 12l11-1 12 1 9 3 4 3 2 3 1 6-4 18 0 9 3 9 3 3 21-2 15 1 15 4 15 6 13 9 12 12 9 15 8 18 6 1 9-3 6-4 12-11 6-3 3-1 6 3 9 8 10 16 5 18 3 18-2 21-4 18-9 18-9 10-6 4-6 1-6-4-12-11-6-4-9-2-6 1-8 17-9 15-12 12-13 9-15 7-15 3-15 1-21-2-5 6-1 9 4 24-1 6-3 4-6 4-15 2-15-1-16-4-15-6-15-9-12-11-13-15-6-12-2-12 1-6 2-3 6-3 15-4 6-3 6-5 3-6 0-3-12-15-7-15-4-15-2-15 2-18 4-15 7-14 12-16 0-3-3-6-6-4-6-3-15-5-6-3-3-6 0-6 1-6 4-9 8-12 8-9 10-9 11-8 12-6 15-5zM157 72l-12 7-18 16-25 8-12 8-2 3 1 30 0 69-1 24 2 3 12 8 25 8 18 16 9 6 6 3 6 1 21-15 63-36 21-10 2-2 1-9 0-9-5-27 4-21 1-12-1-6-2-5-21-10-63-36-21-15-3 0zM133 108l3-2 3-1 6 1 9 5 15 11 21 6 9 5 8 5 16 15 19 9 9 6 4 6 0 3-2 3-2 3-7 5-21 10-16 15-8 6-9 4-21 7-15 10-9 5-6 1-3 0-3-3-2-3-1-6 1-27-5-21-1-9 1-12 5-18-2-27 1-6zM160 138l-6 2-3 3-4 7 0 6 6 18-1 6-5 15 0 6 2 6 4 3 4 2 6 1 6-2 12-13 6-4 18-4 6-3 4-7 1-6-2-6-3-4-6-2-18-5-6-4-12-13-3-2z"/><path fill="#f0b9c9" d="M121 15l12-1 12 0 9 3 4 4 2 3 0 6-3 18 1 15-1 3-2 3-28 23-37 14-3-1-12-7-18-7-6-4-3-6 1-6 1-6 6-12 10-12 12-11 12-8 15-7zM180 66l13-1 15 2 15 4 12 7 12 9 11 12 8 15 2 6-1 3-2 2-3 0-9-4-69-40-8-6-2-3 0-3zM135 108l7-1 6 2 21 13 21 7 12 6 21 18 18 9 8 6 4 6-1 6-6 6-23 12-16 15-8 5-9 5-21 6-21 14-6 2-6-2-3-3-3-6 1-30-4-18-1-9 1-11 4-22-1-18 0-9 2-6zM160 138l-9 4-4 5-1 3 1 6 6 18-1 6-5 15-1 6 3 6 3 3 5 3 6 1 6-2 13-14 5-4 18-4 6-2 4-5 1-9-1-6-4-4-6-3-18-4-5-4-13-14-3-1zM310 114l6-1 6 2 6 5 5 6 5 9 5 12 2 12 1 12 0 12-1 12-7 21-10 15-6 5-6 3-3 0-6-3-15-13-13-7-2-4-6-35 6-39 2-3 13-7zM80 123l1-1 3 0 1 1 2 5 1 10 0 75-1 11-3 6-3-1-3-2-6-7-3-7-6-15-3-18 1-18 4-15 7-15zM258 228l7-1 2 1 0 6-3 9-6 9-8 9-15 13-15 7-18 5-18 0-6-2-4-2 0-3 2-3 8-6 57-33zM87 246l6 1 34 12 28 23 2 3 1 3-1 15 3 18 0 6-3 5-9 4-12 2-12-1-16-4-15-6-12-7-12-10-8-10-7-9-4-9-2-9 1-6 2-3 4-3 17-6z"/><path fill="#efb3c4" d="M116 18l14-2 12 1 9 3 5 4 1 6 0 6-3 27-4 6-25 21-7 4-25 8-6-1-31-14-4-6 0-9 5-12 9-12 12-12 12-8 12-6zM187 66l12 0 15 3 12 4 12 7 12 10 7 9 7 12 1 6 0 3-3 2-3 0-9-3-41-23-24-15-7-6-1-3 1-3zM141 108l4 0 6 3 21 13 18 5 9 4 7 5 17 16 22 11 3 3 3 6 0 3-3 6-8 6-17 8-21 19-12 6-18 5-21 14-9 2-6-1-3-4-2-4 0-9 1-21-5-18-1-9 1-12 5-18-1-21 0-9 2-4 3-3zM157 138l-6 3-3 3-2 6 0 6 6 18 0 6-6 15 0 6 2 6 3 3 6 3 6 2 6-2 12-14 6-4 6-2 12-2 6-3 4-5 2-9-2-6-4-5-6-2-12-2-6-2-6-5-9-11-6-4-3 0zM312 117l4-1 6 3 6 5 6 8 7 18 4 21-2 21-3 12-3 9-5 9-5 6-5 5-6 2-3 0-6-3-25-19-2-3-2-6-4-27 1-12 5-24 6-6 21-16zM80 126l1-1 3 1 2 3 2 6 0 15 0 63-2 9-2 3-3 1-3-1-6-7-6-11-4-15-2-15 1-15 4-15 7-14zM253 231l9-2 3 2 0 3-1 6-9 15-8 9-9 7-15 8-15 5-18 2-6-1-6-3-1-3 1-3 7-6 35-21zM83 252l4-2 6 0 28 9 9 5 20 18 4 6 3 30 0 6-3 5-7 4-11 2-12 0-13-3-12-4-12-7-12-8-9-9-7-10-5-9-2-9 0-6 2-3 3-3z"/><path fill="#ecabbe" d="M128 18l11 0 9 3 4 3 3 6 0 9-4 24-3 6-7 6-11 10-8 5-20 7-9 2-9-2-21-9-6-4-2-3-1-6 2-9 7-12 11-12 12-9 13-8 15-5zM181 69l12-3 15 2 15 4 12 7 11 8 11 12 6 12 1 6-2 3-6 0-9-3-52-30-9-6-6-6-1-3zM136 111l6-2 6 1 24 15 18 4 12 6 21 20 16 7 8 6 3 6-1 6-2 3-6 5-18 9-17 16-9 6-10 4-15 4-24 14-6 1-6-2-3-4-2-5 1-27-5-18-1-9 1-12 5-18-1-27 2-4zM157 137l-6 4-3 3-3 6 1 6 6 18-1 6-5 15-1 6 3 6 2 3 7 4 6 1 3 0 6-4 9-11 6-5 24-6 5-6 1-9-1-6-5-5-24-7-6-5-9-10-6-4-3-1zM311 120l5 0 6 2 5 4 5 6 4 9 4 9 3 21-1 21-6 18-4 9-5 6-5 4-6 3-3 0-6-3-24-19-4-9-4-24 1-9 3-15 4-12 21-17zM78 129l3-2 3 2 3 6 1 12-1 65-2 10-4 2-6-4-8-13-4-12-2-15 0-15 4-15 4-10 3-5zM255 231l4-1 3 1 2 3-1 6-3 6-11 15-14 12-15 7-18 5-15-1-6-2-2-3 1-3 2-3 13-9 43-25zM92 252l10 2 22 8 9 6 15 14 2 3 2 6 3 24-1 9-3 4-6 4-12 1-12-1-13-3-12-4-12-7-10-9-8-9-7-9-4-9-1-6 1-6 2-3 6-4 21-9z"/><path fill="#eaa1b6" d="M111 24l13-2 9-1 9 2 6 4 3 6 0 9-3 18-5 9-9 9-10 8-10 4-15 5-6 0-6-1-15-5-8-5-4-6-1-6 3-9 7-12 9-9 9-7 12-7zM186 69l13-2 12 2 12 4 12 7 12 9 8 10 6 12-1 6-4 2-12-4-48-28-8-6-5-6 0-3zM139 111l3-1 6 1 6 3 15 10 21 6 9 4 10 7 14 15 19 9 3 3 4 6 0 3-4 6-7 6-12 5-6 4-11 12-8 6-11 6-21 5-18 12-9 2-6-3-3-7-1-9 1-15-5-21-2-9 2-12 5-21-1-15 1-9 2-6zM154 138l-8 6-1 6 0 6 6 18 0 6-6 15 0 6 1 6 5 4 9 5 6 0 6-4 9-11 6-5 6-3 15-2 6-3 3-8 0-9-2-6-4-3-21-5-6-3-15-17-6-2zM308 126l5-1 6 1 6 3 3 4 5 8 4 9 3 18-1 21-5 18-4 9-5 5-5 4-4 2-6-1-6-3-12-10-6-5-4-10-4-18 1-15 5-18 8-9zM77 132l4-1 3 2 3 8 0 9 0 54-2 12-1 2-3 3-3-1-3-2-7-11-4-12-3-15 1-15 3-12 4-11 3-5zM250 234l6-1 4 1 1 3-1 6-3 6-6 9-7 7-9 7-15 7-15 4-15 0-4-1-3-3 0-3 1-3 12-9 36-21zM84 258l6-2 6 0 18 5 13 6 13 12 7 9 2 9 2 18-1 6-2 3-6 4-9 2-9 0-13-3-12-4-9-5-9-6-9-8-5-7-5-9-3-9 1-6 1-3 5-4z"/><path fill="#e697af" d="M110 27l14-2 9 0 7 2 5 4 2 8-1 12-2 9-5 9-6 6-9 7-10 5-12 4-9 1-6-1-10-4-8-4-4-5-2-6 2-9 6-9 8-9 8-7 12-7zM192 69l10 0 12 2 12 4 10 6 11 9 7 9 5 9 0 6-3 2-3 1-9-3-22-12-25-15-8-6-4-6 1-3zM137 114l5-2 6 0 6 3 15 10 21 5 10 5 8 6 12 14 15 7 9 6 3 6-1 6-6 6-20 11-12 13-9 7-12 5-18 4-15 10-6 3-6 0-3-1-4-4-2-6 1-24-5-15-2-12 1-12 6-18-1-24 2-6zM160 135l-9 4-6 5-1 3 0 6 6 15 1 9-8 24 2 6 3 3 6 4 9 3 6-2 12-14 6-5 6-2 15-2 6-3 4-6 1-9-2-8-3-4-6-2-15-3-6-2-6-5-12-14-3-1zM305 132l5-2 6 0 6 2 3 3 7 12 5 18 0 18-3 18-5 9-4 6-3 3-6 3-6-1-6-2-13-12-6-9-3-15 0-15 1-9 3-8 8-10zM77 135l1-1 3 0 3 3 3 16 0 48-3 13-3 4-3-1-3-2-6-8-4-12-3-15 1-15 2-12 4-9 3-5zM245 237l8-2 3 0 3 2 0 6-3 6-6 9-14 12-13 7-15 5-15 0-7-3-1-3 2-3 6-6 24-15zM86 261l10-1 15 3 13 6 12 10 7 9 3 12 1 12-1 6-2 3-5 4-6 1-9 1-13-2-18-8-9-6-8-8-5-6-6-9-1-6 0-6 2-5 5-4z"/><path fill="#e48da7" d="M110 30l11-2 9 0 6 2 4 3 3 6 0 9-2 9-4 9-5 6-8 7-10 5-9 3-9 1-6 0-9-3-7-4-5-6-1-6 1-6 5-9 7-8 9-7 9-5zM189 72l7-2 12 0 12 3 12 6 11 8 8 9 5 9 1 6-1 2-3 2-3 0-9-3-33-19-17-12-3-3 0-3zM140 114l5-1 6 2 18 12 18 3 12 5 8 6 13 15 19 9 3 3 3 6-1 6-2 3-7 5-15 7-13 15-7 6-13 6-18 2-15 11-9 3-6-2-4-5-1-9 1-18-5-14-3-13 2-15 6-15-1-24 2-6zM157 135l-10 6-5 6 1 6 6 15 1 6 0 6-7 18-1 6 5 6 7 5 6 3 6 0 6-4 9-12 6-5 6-3 18-2 5-3 3-6 0-12-1-6-4-4-24-5-8-6-13-15-3-2-3 0zM308 135l5-1 3 0 6 4 3 3 7 12 3 18-1 18-5 15-7 9-4 3-5 1-9-3-11-10-6-9-3-15 1-15 4-13 4-5 5-6zM75 138l3-2 3 1 3 4 3 18 0 27-1 18-2 6-1 3-2 2-3 0-6-5-5-9-3-12-1-12 0-12 3-12 3-7zM248 237l5-1 3 2 1 2-1 6-7 12-11 10-12 7-15 6-12 1-10-3-1-3 0-3 10-9 31-18zM88 264l11-1 12 3 13 6 8 7 7 9 3 9 1 12-1 6-2 3-4 4-6 1-9 0-10-1-9-3-9-5-13-11-9-12-3-6 0-6 2-6 4-3z"/><path fill="#e184a0" d="M110 33l8-2 9 0 6 2 4 3 2 6 0 9-3 9-3 6-5 6-7 5-7 4-9 3-9 1-6-1-12-5-4-4-2-6 1-6 3-6 5-7 9-8 9-5zM193 72l9-1 9 1 12 3 11 6 8 6 8 9 5 9 0 6-2 2-3 0-9-2-32-18-17-12-2-3 0-3zM138 117l4-2 6 0 9 4 9 8 3 2 18 1 12 5 11 9 7 12 3 3 12 4 9 5 3 6-1 6-2 3-6 4-15 6-13 17-11 8-12 4-15 1-3 1-9 8-9 5-6-1-3-1-3-4-1-6 0-9 3-12-5-8-3-7-2-12 2-15 3-7 5-8-3-18 1-7zM163 132l-6 2-8 4-7 6-2 3 9 21 1 6-1 9-9 21 5 6 6 4 6 4 9 2 3-1 12-16 6-6 6-2 18-2 6-2 3-8 0-9-1-9-2-5-6-1-18-3-6-2-6-5-12-16-3-2zM74 141l4-2 3 0 2 2 2 6 1 12 0 24-1 18-2 9-2 2-3 1-6-5-3-5-4-11-2-12 1-12 2-12 3-8zM305 141l8-2 6 2 3 2 6 10 4 15 0 15-4 15-6 10-3 3-6 2-9-3-9-8-5-10-3-12 0-12 4-12 6-9zM242 240l8-2 3 1 2 1 0 6-3 6-4 6-13 11-13 7-14 4-12 0-3-1-3-3 0-3 2-3 7-6 25-15zM90 267l9 0 12 2 10 5 9 8 6 9 3 9 0 9 0 3-3 4-6 4-6 0-16-2-15-7-12-11-5-6-3-6 0-9 1-3 4-4z"/><path fill="#df7d9a" d="M110 36l8-1 6 0 5 1 4 3 2 6 0 6-1 6-3 6-5 6-5 5-13 6-12 1-6-1-6-2-4-3-3-6 0-6 3-6 5-6 7-6 7-5zM198 72l10 0 9 2 9 3 9 6 9 7 5 6 4 9 0 4-3 3-9-2-16-8-20-12-8-6-5-6 1-3zM140 117l5-1 3 0 6 2 6 5 2 3 1 3-21 13-3-1-3-9 0-6 2-6zM171 132l4-2 9 0 8 2 6 3 11 9 4 6 2 6-4 1-12 0-6-1-6-3-9-9zM78 141l3 1 3 7 2 25-2 28-3 7-3 1-3-1-3-3-3-5-4-12-1-12 1-12 3-12 4-8zM308 144l5-1 3 1 6 5 5 10 3 12-1 15-4 11-6 8-6 3-6-1-9-7-6-10-2-10 1-12 2-9 6-9 5-4zM135 153l4-2 3 3 6 13 1 7-1 10-6 13-3 4-3-2-3-5-4-8-1-9 2-13zM222 162l4 0 9 3 4 3 4 6-2 6-2 3-4 3-9 3-4 0-1-3 0-21zM194 195l17-1 4 1-1 3-3 6-5 6-10 7-6 3-9 1-6 0-4-2 3-6 9-12 4-3zM139 210l3-1 21 13-1 3-6 6-5 4-6 1-5-2-2-3-2-6 0-6zM245 240l6 0 2 3-1 6-6 9-11 10-12 7-12 4-12 0-6-3-1-3 2-3 11-9 24-14zM93 270l9 0 9 3 8 3 8 7 6 8 2 9 0 6-2 7-4 2-5 2-13-1-15-6-11-10-7-9-1-9 1-3 3-4 6-3z"/><path fill="#dd7695" d="M111 39l7-1 6 1 6 4 1 8-1 6-3 6-9 9-10 4-12 2-9-3-3-3-3-6 3-9 5-6 7-6zM195 75l7-2 9 0 9 3 11 5 8 6 9 9 3 6 0 6-4 2-6-1-9-4-17-9-17-12-4-6zM144 117l4 0 6 3 6 6 0 3-4 3-14 7-3-2-1-2-1-9 2-6zM174 132l4-1 6 0 6 1 8 3 10 9 5 9-2 3-6 1-9-1-9-3-6-6-4-6-3-6zM76 144l2-1 3 2 1 2 2 7 1 11-1 33-3 9-3 1-3-1-3-3-3-5-3-10-1-12 1-12 2-9 4-9zM306 150l7-1 6 3 5 7 2 9 1 12-2 9-3 6-3 4-6 4-6-1-6-4-5-9-2-9 0-9 2-9 5-8zM134 156l2-2 3-1 3 3 6 12 1 6-1 6-2 6-4 9-3 3-3-1-3-4-4-13 1-14zM223 165l3-1 6 1 5 3 3 3 1 6-1 3-3 3-5 3-6 2-3-2zM197 195l14 0 2 3-3 6-4 6-8 6-8 3-9 2-7-2 0-3 1-3 9-12 6-4zM139 213l3-1 3 1 11 6 4 3 0 3-3 4-6 4-6 1-3-1-3-3-2-5 0-6zM238 243l9-2 4 2 1 3-4 9-5 6-7 6-10 6-12 4-12 1-7-2-1-3 2-3 6-6 18-12zM87 276l6-2 9 0 9 2 10 6 6 6 3 6 1 9-2 6-5 4-10 0-12-4-9-6-9-9-2-6 0-6 2-3z"/><path fill="#db6f8f" d="M104 45l10-3 7 1 3 2 2 3 0 3-1 6-4 7-10 7-9 2-9-1-3-1-3-4 1-7 6-9zM199 75l6-1 9 1 9 3 9 4 9 8 5 6 4 9-2 3-4 1-9-3-24-13-8-6-6-6-1-3zM141 120l4-1 3 0 4 1 4 3 2 3-1 3-9 6-6 2-3-4-1-4 1-5zM177 132l10 0 12 4 9 8 3 6 0 3-3 2-6 1-9-1-6-3-5-5-6-9-1-3zM74 147l4-2 3 2 4 15-1 30-3 12-3 2-3-1-3-3-3-5-2-8-1-9 0-9 1-9 2-7zM135 156l4-1 3 3 5 10 1 6 0 6-2 6-4 7-3 3-3-1-3-3-3-8-1-7 1-12 3-5zM306 156l4-2 6 2 3 3 4 9 0 9-1 9-3 6-3 3-3 2-3 0-6-3-4-5-3-9 0-6 1-7 3-6zM224 168l2-3 3 0 6 3 3 3 2 6-2 3-3 3-6 3-3 0-2-3zM189 198l4-2 9-1 6 1 3 2 0 3-3 6-9 8-12 5-10-1-2-3 3-6 6-8zM139 216l3-2 6 2 9 6 1 3-2 3-5 4-6 1-3-1-3-4-1-3 0-6zM241 243l7 0 2 3-1 3-5 9-9 9-9 5-11 4-10 2-6-2-3-3 1-3 6-6 19-12zM92 279l7-1 6 0 6 2 8 5 5 6 2 6 0 6-2 3-6 3-7 0-9-3-8-6-5-6-2-6 2-6z"/><path fill="#da6b89" d="M108 48l6 0 4 1 1 2 1 3-2 6-4 4-6 3-6 1-6-1-2-4 1-6 7-6zM203 75l8 0 6 1 9 4 7 4 7 6 5 6 3 6 0 3-4 2-9-2-22-12-9-6-5-6 0-3zM145 120l6 1 3 2 2 3-1 3-10 6-3 0-3-6 2-6zM180 132l10 1 11 5 8 9 1 3 0 3-5 2-6 0-6-1-6-3-6-6-4-7 0-3zM74 150l1-2 3-1 3 3 3 15 0 27-3 9-3 3-3-1-5-8-4-15 0-9 2-9 2-6zM134 159l2-2 3 0 3 2 4 9 2 6-1 6-2 6-3 6-3 2-3 0-3-4-4-10 1-12zM308 162l5 0 3 3 3 9 0 6-2 6-4 3-3 1-3-1-3-3-2-9 1-9 2-3zM226 168l3-1 3 1 4 3 2 3 0 3-2 3-4 3-3 1-3-1-1-6zM190 198l6-2 9 0 5 2 0 3-3 6-8 7-9 4-10 1-3-3 1-6 6-8zM140 219l2-2 3-1 10 6 1 3-2 3-3 2-6 1-3-2-2-4zM235 246l9-2 3 1 1 4-5 9-8 8-9 5-12 5-11 0-4-3 0-3 2-3 7-6 15-9zM95 285l7-2 9 3 7 5 2 6-1 3-3 3-5 1-9-4-6-4-2-5 0-3z"/><path fill="#de7786" d="M203 78l5-1 9 1 14 6 7 6 5 6 2 6-1 2-3 1-9-2-18-10-11-9-1-3zM147 123l4 3-1 3-5 2-2-2 0-3 2-2zM179 135l2-1 6-1 9 3 6 4 4 4 2 3 0 4-2 2-4 1-6 0-6-2-4-2-5-6-2-6zM74 153l1-1 3-1 2 2 2 3 1 9 0 24-2 7-3 4-3 0-3-4-3-6-2-10 1-15 2-6zM138 159l4 2 2 4 3 9-1 6-1 5-3 5-3 2-3 0-3-4-3-11 0-6 3-8 3-3zM229 171l3 0 2 3 0 3-2 3-3 0-1-3 0-3zM192 198l7-1 7 1 2 3 0 3-5 6-7 5-9 3-6 0-2-2 0-3 2-6 5-6zM143 222l2-2 3 1 2 1 1 3-3 3-3-1-2-2zM240 246l4 1 1 2 0 3-4 6-9 9-6 3-9 4-9 1-5-2-1-3 1-3 7-6 16-9z"/><path fill="#e18383" d="M205 81l3-2 6 0 9 2 6 3 10 9 3 6-1 3-6 0-14-6-13-9-2-3zM182 135l8 0 8 3 7 6 1 6-4 3-3 0-6-1-5-2-3-3-4-6-1-3zM74 156l1-1 3 0 3 6 1 4 0 21-1 4-3 6-3 0-3-3-3-13 0-13 3-8zM135 162l4-1 3 2 3 5 1 6-2 9-2 5-3 2-3 0-3-4-2-6 0-9 2-6zM196 198l6 0 3 2 1 1-1 6-6 6-6 3-6 1-5-1-2-3 4-8 6-5zM234 249l7 0 1 3-3 6-7 7-9 5-6 2-6 1-3-1-3-2 1-3 6-6 9-6z"/><path fill="#e48e7f" d="M211 81l6 0 12 5 8 7 1 3 0 3-3 1-3 0-13-7-8-6-2-3zM182 138l2-2 3-1 9 3 7 6 2 3-1 3-5 2-9-2-6-6zM75 159l3 1 1 2 2 12 0 9-2 6-1 3-3 0-3-4-2-11 2-12zM134 165l2-1 3-1 3 2 3 7 0 8-3 6-3 2-3 0-3-5-1-3 0-9zM190 201l9-2 5 2 1 3-4 6-5 4-6 2-6-1-2-2 0-3 4-6zM231 252l4-1 3 1 0 3-4 6-11 7-6 2-6 0-2-3 5-6 10-6z"/><path fill="#e89a7b" d="M214 84l6 0 7 3 7 6 0 3-5 0-7-3-8-6zM184 138l3-1 3 0 6 2 6 5 1 3-1 3-6 1-6-2-5-5-1-3zM75 165l0-1 3 2 2 8-2 12-3 1-3-6 0-4 0-7zM138 165l4 3 2 6-2 9-3 3-3 0-3-6-1-3 1-5 1-4 2-2zM192 201l4-1 5 1 2 3-1 3-3 3-6 4-6 1-3-2 0-3 1-3 2-3zM228 255l4-1 2 1 0 3-3 3-10 6-7 0 0-3 3-3z"/><path fill="#eaa478" d="M188 138l5 1 4 2 3 3 1 3-2 2-3 1-6-3-3-3-1-3zM136 168l3-1 1 1 2 2 1 4-1 6-3 4-3-1-2-6 0-6zM189 204l7-2 3 0 2 2-1 3-3 3-7 3-3 0-1-3 1-3z"/><path fill="#ebad76" d="M188 141l2-1 5 1 3 3 0 3-6 0-3-3zM136 171l3-1 2 4 0 3-2 4-3-1-1-6zM192 204l6 0 0 3-3 3-5 1-2-1 1-3z"/><path fill="#f7fbfd" d="M201 30l7-2 9-1 15 2 18 7 15 9 12 13 8 14 4 15-1 6-2 6-3 3-3 1-6-2-25-20-14-10-15-7-27-10-6-3-2-3-1-3 3-6 6-5zM157 87l6-2 6-1 15 4 21 9 28 17 16 12 8 9 3 9 0 6-1 3-4 3-5 1-9-1-9-3-9-5-16-13-8-5-30-13-10-9-7-9 0-6 2-3zM105 117l3-2 6-1 4 1 3 3 3 8 3 15-1 9-3 24 1 9 3 21-1 9-2 12-3 6-3 5-4 1-6-1-3-2-6-6-4-12-3-18 0-33 2-24 4-15 4-6zM43 120l5-2 6 0 5 2 2 6-6 33-1 15 1 18 6 33-2 6-5 3-6-1-6-2-7-6-6-6-5-9-4-9-4-18 1-21 5-18 10-15zM156 144l7-1 4 1 17 16 21 6 3 2 3 6-1 6-2 3-6 4-18 4-15 15-6 3-6-2-3-2-3-7 1-6 5-15-1-6-4-12-1-6 2-6zM242 195l8-1 5 1 4 3 1 6-1 6-2 6-5 6-10 9-31 20-27 13-9 2-9 1-6-2-6-4-2-3 0-6 4-6 10-9 9-6 18-7 9-4 24-19zM276 249l4-1 3 1 3 3 3 9-2 12-3 9-7 12-9 9-9 7-18 10-12 3-9 1-12-1-9-2-6-3-6-6-3-6 1-3 2-3 6-3 27-10 15-7 12-8 21-18z"/><path fill="#f1f7fc" d="M210 30l16 0 15 4 15 8 12 9 10 12 6 12 2 9 1 6-2 6-2 3-3 1-6-1-27-20-12-8-12-6-27-11-6-3-2-3-1-3 3-6 9-6zM159 87l7-2 6 0 15 4 24 12 22 13 16 12 7 9 3 9 0 6-2 3-4 3-6 0-15-4-9-4-16-13-8-5-29-13-11-9-6-9 0-6 2-3zM107 117l7-1 4 1 3 3 3 9 2 12 0 9-3 24 3 30 0 9-2 11-3 7-3 3-4 2-3 0-6-3-6-8-4-12-3-18 0-30 2-24 2-9 3-7 3-4zM50 120l4 0 3 2 2 7-4 30-1 15 1 18 4 30-2 7-3 2-3 0-6-1-6-4-6-5-5-8-5-9-3-9-2-18 2-18 6-18 6-9 6-6 7-5zM157 144l6-1 6 2 15 15 21 6 3 2 3 6-1 6-2 3-6 3-18 5-15 15-6 2-6-1-3-3-3-6 1-6 5-15-1-6-4-12-1-6 3-6zM245 195l8 0 4 3 2 6 0 6-3 6-5 6-14 12-26 17-27 12-9 3-9 0-6-2-5-3-3-6 2-6 5-6 10-8 6-4 18-7 9-4 24-18 9-4zM274 252l6-1 3 2 2 2 2 9-2 9-3 9-6 9-8 9-9 8-18 9-9 3-12 2-9-1-9-1-6-3-6-5-3-6 1-3 2-3 6-3 27-10 12-6 12-8z"/><path fill="#ebf4fb" d="M206 33l14-1 15 3 15 6 12 8 12 12 8 14 2 12-1 6-2 3-4 2-6-2-21-16-15-10-41-19-3-3-1-3 1-3 7-6zM162 87l7-1 6 0 15 5 21 10 26 16 11 9 7 9 3 9 0 3-2 5-3 3-6 1-15-4-9-5-21-16-26-11-7-4-9-8-6-9 0-6 3-3zM111 117l3 0 4 1 3 4 3 10 2 12-3 30 3 30 0 9-2 9-3 8-3 3-7 1-6-2-3-3-6-11-3-17-1-24 1-27 3-16 6-12 3-3zM48 123l6 1 2 2 1 6-4 42 1 15 3 26 0 7-3 6-3 1-6-2-6-4-9-10-4-9-3-9-3-18 2-18 3-9 4-9 9-12 4-3zM159 144l4 0 6 2 15 15 21 6 3 2 2 5-1 6-2 3-6 3-17 4-15 15-6 3-4-1-5-3-2-6 1-6 5-15-1-6-4-12-1-6 2-6zM236 198l8-2 6 0 5 2 3 6 0 6-3 6-4 6-10 9-30 19-27 13-15 2-6-1-6-3-3-3 0-6 3-6 10-9 9-6 23-9 9-6 15-12zM272 255l5-2 3 1 3 4 1 6-1 9-4 9-6 9-8 9-9 7-18 9-18 3-9 0-9-2-6-3-5-5-1-3 1-3 3-3 41-19 13-8z"/><path fill="#e7f2fa" d="M203 36l11-2 15 1 15 5 15 9 12 11 8 12 3 12-1 6-1 3-3 2-6-1-33-23-41-20-3-3-1-3 1-3 3-3zM165 87l7 0 6 0 15 5 21 11 22 14 11 9 7 9 3 9-1 6-3 3-6 2-15-4-9-4-21-16-25-11-8-5-11-10-3-6 0-3 2-4 3-3zM106 120l5-2 3 0 4 2 3 3 2 6 2 12 0 9-3 24 3 27 0 9-1 11-3 7-3 4-4 1-3 0-6-2-6-8-3-10-3-18-1-27 2-24 5-15 3-6zM47 126l4 0 3 2 2 7-4 39 4 42-1 6-4 4-3 0-6-3-9-10-7-15-4-18 1-18 5-15 8-13 6-6zM161 144l5 1 3 1 11 13 4 2 16 4 5 2 4 4 1 3-1 6-3 3-6 3-16 4-4 2-11 13-6 2-3 0-5-3-3-6 1-6 5-15-1-6-4-12-1-6 3-6zM237 198l10-2 6 2 3 3 1 6-1 6-4 6-5 6-11 9-28 18-24 10-9 2-9 0-6-2-4-4-1-3 1-6 5-6 8-7 8-5 22-9 9-6 15-11zM270 258l4-2 3 0 3 2 2 6-1 9-4 9-6 9-6 6-9 8-18 9-18 3-15-1-6-3-5-4-1-3 1-3 3-3 41-20z"/><path fill="#e3f0f9" d="M212 36l11 0 12 3 12 4 12 8 9 9 8 12 3 9 0 6-1 3-4 2-6-1-30-21-38-19-3-3-1-3 2-3 4-3zM160 90l9-3 6 0 9 2 18 8 25 14 16 12 9 9 4 9 0 6-1 3-4 3-4 1-6 0-9-3-9-5-21-15-30-14-8-6-7-9-1-6 1-3zM108 120l6-1 4 2 3 4 3 8 1 11-3 30 3 27 0 12-4 14-3 3-7 2-3-1-4-3-6-9-4-15-1-21 0-27 3-18 5-12zM46 129l5 0 2 3 1 6-2 36 2 42-3 6-3 1-3-1-6-4-8-11-5-15-2-15 1-15 5-15 8-12 4-4zM156 147l4-2 6 0 6 5 8 9 4 3 15 3 6 3 3 3 1 3-1 6-2 3-4 2-18 4-4 3-8 10-6 4-6 1-3-2-3-4-1-3 0-6 5-15 0-6-5-15 1-6zM239 198l8-1 4 1 4 3 1 6-1 6-3 6-6 6-10 9-28 17-24 11-9 2-6 0-6-1-6-5-1-3 1-6 4-6 8-6 9-6 21-9 27-19zM267 261l7-2 3 1 2 4 0 9-4 9-4 6-6 7-9 7-15 9-9 3-9 1-15 0-6-3-4-3-2-3 1-3 3-3 38-19z"/><path fill="#dfeef9" d="M207 39l10-1 12 1 12 4 12 6 12 10 8 10 3 9 1 6-1 3-2 2-3 1-6-3-30-19-32-17-3-3 0-3 2-3zM162 90l10-2 15 3 18 8 21 12 17 12 8 9 4 9 0 6-2 3-3 3-3 0-6 0-9-2-9-5-21-16-30-14-10-8-4-6-1-6 1-3zM105 123l6-3 3 0 4 2 3 4 2 6 2 12-3 30 3 27-1 12-4 12-2 4-4 2-3 0-6-3-3-3-3-6-4-12-2-18 0-24 2-21 4-13zM47 132l1 0 3 2 2 7-2 33 2 36-2 8-3 1-3 0-4-3-8-10-5-14-2-15 1-15 5-15 7-10 3-3zM156 147l4-2 6 1 6 4 7 9 5 4 15 3 6 2 3 3 1 3-1 6-6 5-19 4-5 5-6 7-6 5-6 0-3-2-3-3-1-3 1-6 5-15-1-6-5-15 1-6zM242 198l6 0 5 3 2 3 0 6-2 6-4 6-14 12-27 17-24 11-9 1-6 0-6-1-5-4-1-3 1-6 4-6 7-6 9-5 24-11 24-17 9-4zM265 264l6-2 3 0 2 2 1 3-1 6-2 6-5 9-13 12-15 9-15 4-15 0-9-4-2-3 0-3 3-3 32-16z"/><path fill="#dbecf8" d="M207 42l7-2 12 0 12 3 12 6 11 8 8 9 4 9 1 6 0 3-3 3-6-2-27-17-27-14-7-6 0-3zM164 90l5-1 6-1 12 3 18 8 21 12 16 12 8 9 4 9-1 8-3 3-3 1-6-1-9-2-9-4-21-16-30-14-9-8-4-6-1-6 2-3zM107 123l4-2 3 1 4 1 4 9 3 12-3 30 2 27 0 12-4 12-3 3-6 2-3-1-5-4-5-9-3-12-2-18 0-24 2-18 4-12 3-5zM41 138l4-2 3 0 3 5-1 36 1 30-1 6-2 3-3 0-3-2-6-7-6-12-2-12 0-12 2-14 6-13zM157 147l6-2 3 1 5 4 8 9 5 4 15 3 5 2 3 3 1 3-1 6-5 4-15 3-5 2-11 12-5 4-3 1-6-2-2-3-1-6 5-18 0-6-5-15 1-6zM232 201l9-2 6 0 5 2 2 3 0 6-2 6-4 6-9 9-25 16-15 8-12 5-15 3-6-1-6-4-2-3 1-6 4-6 6-6 9-5 24-11 21-15zM263 267l5-2 3 0 3 3-1 8-7 12-13 12-12 7-15 4-9 1-6-1-4-2-3-3 0-3 7-6 27-14z"/><path fill="#d7eaf7" d="M214 42l9 0 9 1 12 5 9 5 8 7 7 9 3 6 0 6-3 3-6-2-48-28-4-3-3-3 1-3zM166 90l6-1 6 0 12 4 18 8 17 10 13 9 9 9 6 9 1 6-1 3-2 3-4 2-6 0-9-2-9-5-21-15-30-15-8-7-4-6-1-3 0-3 2-3zM108 123l6 0 5 3 4 9 1 9-2 30 2 27 0 9-2 9-3 6-5 4-3 0-6-3-3-3-3-7-4-15-2-18 1-24 2-17 6-13zM41 141l4-2 3 2 2 6 0 57-2 7-3 1-6-4-4-7-4-9-2-12 1-12 2-12 4-9zM158 147l5-1 6 2 9 11 6 5 19 4 3 3 2 3-2 6-4 4-15 3-6 2-10 12-5 4-3 0-5-1-3-3-1-6 6-18-1-6-5-15 1-6zM233 201l8-2 6 1 4 1 2 3 1 3-1 6-3 6-12 12-24 16-24 12-9 2-9 1-6-1-5-3-2-3 1-6 4-6 6-6 8-5 24-11 21-15zM261 270l7-2 3 2 0 6-3 6-4 6-11 10-12 7-12 4-12 1-6-2-3-2-1-3 3-3 4-3 24-13z"/><path fill="#d3e8f6" d="M214 45l6-1 9 0 9 3 9 4 8 6 7 7 5 8 1 6-3 2-6-2-37-21-9-6-1-3zM169 90l9 0 15 4 18 9 18 11 12 9 8 9 4 9-1 6-3 3-5 1-12-2-9-4-21-15-30-15-8-7-4-6 0-3 0-3 2-3zM105 126l6-3 3 1 4 2 3 6 3 12-3 30 3 27 0 9-4 12-2 4-4 2-3 0-6-3-6-8-3-13-2-15 0-24 2-18 3-13zM43 144l2 0 3 3 0 6 0 48 0 3-3 4-3-1-6-7-4-11-1-12 1-12 2-9 5-9zM159 147l4-1 3 1 4 3 11 13 6 2 15 3 4 3 1 3-1 6-4 3-18 4-3 2-12 13-6 3-3-1-3-2-2-4 0-6 6-15-1-6-5-15 1-6zM235 201l6-1 6 0 3 2 3 5-1 6-3 6-12 12-23 16-24 11-15 4-6-1-7-3-2-3 0-6 4-6 7-6 7-4 23-11 22-15zM258 273l7-2 3 2-1 6-6 9-11 10-12 6-12 3-9 0-3-1-2-3 1-3 4-3z"/><path fill="#d0e6f5" d="M217 48l6-2 6 0 9 3 9 4 12 11 4 5 1 6-2 1-6-1-26-15-10-6-3-3zM164 93l5-2 6-1 12 2 15 6 21 12 14 10 9 9 5 9 1 6-1 3-4 3-3 1-6-1-9-2-27-19-26-12-8-6-5-6-2-6 0-3zM107 126l4-2 3 1 4 2 4 8 1 9-2 30 2 27 0 9-4 12-5 5-3 0-6-3-6-8-3-12-2-18 0-24 2-17 5-13zM162 147l4 1 3 2 12 13 6 3 14 2 4 3 2 3 0 3-2 3-3 3-15 3-6 2-12 14-6 2-3 0-3-2-2-7 6-18-1-6-4-12-1-6 2-3zM41 150l1-1 3 1 2 12 0 33-2 7-3 0-3-2-3-6-2-8-1-9 1-15 3-6zM237 201l4 0 6 0 4 3 1 6-2 6-4 6-13 12-25 16-21 9-9 2-6 0-6-2-3-2-2-5 0-3 4-6 6-6 7-4 24-11 24-17zM256 276l6-1 2 1-1 6-7 9-8 6-7 4-9 3-9 1-6-2 0-3 3-3z"/><path fill="#cce4f4" d="M223 51l3-2 6 1 12 4 9 6 5 6 1 3-3 3-7-3-21-12-4-3zM165 93l10-2 12 2 18 7 19 11 16 12 8 9 3 9-2 6-2 2-6 1-12-3-27-18-27-13-10-8-3-6 0-6zM108 126l3-1 3 1 4 2 3 7 2 12-2 27 2 27 0 9-2 8-3 5-4 3-3 0-6-3-6-8-3-14-2-18 0-21 3-18 5-12zM157 150l3-2 3 0 3 0 6 5 9 11 21 5 2 2 2 3-1 6-6 4-12 1-6 2-12 14-6 3-3-1-3-3-1-5 6-18-1-6-5-12 0-6zM41 156l1-1 1 1 2 5 0 4 0 26-3 5-3-2-2-5-2-12 1-13 3-7zM240 201l4 0 5 3 2 3-1 6-2 6-5 6-15 12-23 14-18 8-9 1-6 0-6-1-4-4 0-3 1-6 9-9 6-4 24-11 24-16 6-3zM256 279l3 3-1 3-5 6-9 6-12 5-6 0-3-2 1-3 9-6 16-9z"/><path fill="#c6e1f3" d="M230 54l2-1 3 0 9 4 5 3 4 6-3 1-3-1-15-9zM167 93l5-2 6 0 12 3 15 6 19 11 15 12 8 9 3 9 0 3-2 3-4 2-3 1-12-3-27-18-27-13-9-8-3-6 0-6zM111 126l3 1 4 2 2 3 2 6 1 9-2 27 2 27-1 9-1 7-3 5-4 3-3 0-6-2-6-10-3-15-2-21 1-21 3-15 4-9 3-3zM158 150l5-2 3 1 5 4 7 9 3 3 3 1 15 2 3 2 4 4-1 5-3 3-3 1-15 2-3 1-12 15-6 2-3 0-3-4-1-4 1-4 5-11 0-6-6-15 0-6zM39 165l3-3 2 12-2 15-3-2-2-7 0-6zM230 204l8-2 6 0 4 2 2 3 0 3-1 6-4 6-13 12-24 15-21 9-9 2-6 0-5-2-4-3-1-3 2-6 8-9 30-15 21-14zM247 285l3-1 3 1-4 6-5 4-9 3-3 0-2-1 2-3z"/><path fill="#bddef2" d="M171 93l10 0 12 3 18 8 16 10 11 9 8 9 2 6 1 3-2 4-2 2-4 1-6 0-6-2-27-18-28-14-6-6-4-6 0-3 2-3zM108 129l3-1 3 1 4 2 3 7 1 9-2 27 2 33-1 7-3 6-4 3-3 0-6-2-6-10-3-12-1-16 0-21 2-15 5-13zM160 150l6 0 3 2 9 13 3 2 18 3 3 1 2 3 0 3-2 3-3 2-18 2-3 2-9 13-3 2-3 1-3-1-2-3-1-3 2-6 6-12-1-6-5-9-2-6 1-3zM233 204l5-1 6 1 3 2 2 4-2 6-3 6-13 12-20 13-21 10-9 2-6 0-6-2-3-2-2-3 2-6 8-9 28-14 21-14z"/><path fill="#b5daf0" d="M169 96l3-1 6-1 12 2 15 6 16 9 13 9 8 9 5 9-2 6-4 3-3 0-9-2-6-3-21-14-24-12-6-5-5-6 0-6zM107 132l4-2 5 2 3 6 2 9-1 27 1 33-3 10-4 3-3 1-6-3-5-8-3-12-1-12 0-21 2-15 4-12zM159 153l4-2 3 1 3 2 9 16 3 1 12-1 6 1 3 3 0 3-3 3-3 1-15-1-3 1-9 16-3 2-3 1-3-1-1-4 1-5 8-13 0-3-8-13-1-5zM227 207l8-2 6 0 4 2 2 3 0 3-3 6-4 6-6 6-20 14-21 10-15 3-6-1-3-2-2-3 0-6 5-6 3-3 27-13z"/><path fill="#acd7ef" d="M172 96l9-1 9 1 15 6 15 9 13 9 8 9 3 6 1 3-1 4-2 2-4 1-9-1-6-3-21-14-25-13-4-3-4-6-1-3 1-3zM105 135l3-2 3-1 3 1 4 5 2 9-1 27 1 30-2 11-4 3-3 1-3-1-3-2-4-6-3-9-2-15 0-18 2-15 3-12zM161 156l2-3 3 1 2 2 3 6-1 3-1 2-3-1-3-3zM186 174l4-2 6 0 4 2 0 3-4 2-6 0-4-2zM165 186l4-2 1 2 1 3-3 6-2 2-3 1-2-3 0-3 2-4zM230 207l5-1 6 0 3 3 1 4-4 9-12 12-19 12-20 9-12 1-6-1-3-3-1-3 1-3 4-6 4-3 25-13 21-14z"/><path fill="#a4d3ed" d="M178 96l9 1 9 2 13 6 15 9 11 9 5 6 3 6-1 6-4 3-3 0-9-2-21-14-27-14-6-6-2-6 2-3zM108 135l3-1 3 1 3 3 2 6 1 6-1 24 0 30-2 9-3 3-3 1-3-1-3-2-4-7-3-12-1-15 0-15 2-15 3-9zM235 207l3 0 4 3 1 6-5 9-14 12-16 10-18 7-12 1-7-3-1-3 1-3 4-6 3-3 27-14 18-12 6-2z"/><path fill="#9bd0ec" d="M174 99l7-2 9 1 12 5 15 8 10 6 9 9 4 6 1 3 0 4-1 2-5 2-9-2-24-15-17-9-5-3-6-6-2-6zM107 138l4-2 3 2 4 5 1 7-1 24 0 30-1 6-3 3-3 2-3-1-3-2-3-4-3-10-2-15 0-15 2-15 3-9zM227 210l5-1 6 0 2 1 1 3 0 3-2 6-5 6-7 6-19 12-15 6-12 2-7-2-2-3 0-3 4-6 4-3 22-11z"/><path fill="#92cdeb" d="M178 99l6-1 9 2 12 5 12 6 12 9 6 6 4 6 0 6-4 3-9-1-44-26-4-3-4-6 0-3zM106 141l2-2 3-1 3 2 3 4 1 6 0 51-3 9-4 3-3-1-3-2-3-5-3-10-1-9 0-15 1-15 3-10zM231 210l4 0 3 1 1 2 0 6-7 9-11 9-16 10-15 5-9 1-3-1-4-3 0-3 1-3 7-6 20-11 21-13z"/><path fill="#8ac9e9" d="M177 102l4-2 9 0 12 4 13 7 13 9 6 6 3 6 1 3-1 3-5 2-6-2-38-21-9-6-2-3-1-3zM108 141l3 0 3 2 3 10 0 45-2 9-4 4-3-1-3-2-3-6-2-10-1-12 0-12 1-12 3-9zM225 213l7-1 3 0 2 1 1 3-1 3-3 6-10 9-14 9-14 7-12 2-3-1-4-2-1-3 1-3 6-6z"/><path fill="#81c4e8" d="M180 102l4-1 9 1 9 3 12 6 9 6 9 9 4 6-1 5-3 1-3 0-6-2-38-22-6-6-1-3zM107 144l4-1 2 1 2 3 1 6 0 45-2 7-3 3-4-1-4-6-2-9-2-9 0-15 2-9 2-9zM229 213l3 0 3 2 1 4-4 6-9 9-14 9-13 6-9 2-7-2-2-3 1-3 6-6 35-20z"/><path fill="#79bfe6" d="M185 102l5 0 9 3 18 9 8 6 6 6 3 6-1 3-4 2-6-2-36-21-6-6 0-4zM107 147l1-2 3 0 3 5 1 6 0 39-1 7-3 4-3 0-3-5-3-6-2-12 0-12 1-12 2-6zM223 216l6-1 3 0 1 1 1 3-3 6-9 9-15 9-11 5-9 1-3 0-3-2 0-4 6-6z"/><path fill="#6eb8e4" d="M183 105l4-1 6 0 6 1 12 6 9 6 7 6 4 6 1 3-3 3-10-3-31-18-5-6zM106 150l2-2 3 0 3 5 1 6-1 36-3 8-3 0-3-3-3-8-1-12 1-21zM219 219l10-2 3 2-2 6-10 9-9 6-13 6-8 2-7-2 0-3 5-6z"/><path fill="#61b1e2" d="M187 108l3-2 3 0 9 2 6 3 14 9 5 6 1 3-2 3-9-3-25-15-4-3zM108 153l0-1 3 2 2 11 0 27-2 6-3 1-3-3-1-4-2-15 1-15 2-6zM217 222l9-2 2 2-1 3-5 6-14 9-6 3-9 2-3 0-3-2 1-3 4-3z"/><path fill="#54aadf" d="M193 111l3-2 3 0 11 5 9 6 4 6-3 1-4-1-16-9zM108 159l0-1 3 4 1 6-1 18-3 7-3-4-1-12 1-15zM216 225l4-1 3 1-4 6-9 6-11 5-3 0-3-1 2-4 5-3z"/></g></svg>
<svg x="405.0" y="28.9" width="117.7" height="117.1" viewBox="0 0 353.1 351.3" fill-rule="evenodd"><g filter="url(#wb)"><path fill="#fef7f9" d="M94 30l8-3 3 0 2 3 0 3-19 48-2 9 0 9 3 6 7 6 9 4 15 3 51 3 42-1 28-3 10-3 6-3 4-3 5-6 1-6 0-6-6-21-14-33-1-6 2-3 3 0 6 2 6 4 6 6 11 15 12 30 5 6 8 4 6 1 9-3 9-8 12-17 6-4 6 0 0 215-9 3-9-1-6-3-18-12-12-3-9 0-21 5-3 0-9-9-9-3-33 4-38-4-39 4-33-4-9 3-9 9-3 0-21-5-9 0-12 3-18 12-6 3-9 1-9-3 0-215 6 0 6 4 12 17 9 8 9 3 9-2 5-3 5-6 11-26 6-11 9-11zM117 147l-6 1-6 3-4 5-1 6 3 6 4 3 13 4 42 1 68-1 9-1 7-3 4-3 3-6-1-6-4-5-6-3-4-1-61 1zM129 204l-15 2-10 4-3 3-2 6 0 6 3 5 6 3 6 1 63-3 62 3 6-1 5-2 3-3 1-4 0-8-5-6-5-3-8-2-41-2zM170 36l10-1 9 4 3 3 4 6 0 3-1 3-37 0-1-3 2-6 5-6zM140 63l7-2 3 1 5 13 4 5 6 3 12 1 12-1 4-2 5-6 5-13 6 0 9 3 10 7 6 6 1 6-2 4-6 3-27 0-20 5-9 0-18-5-27 0-6-3-2-4 0-3 4-6 7-6zM168 282l9-1 8 1 4 3 0 3-3 3-3 1-12 0-3-1-4-3 0-3z"/><path fill="#fdf0f4" d="M86 54l1 0 0 6-9 27 1 9 2 6 5 6 8 6 8 3 15 2 57 3 44-2 27-2 15-4 4-3 6-6 3-6 2-6-1-9-8-24 0-6 3 1 6 8 8 18 3 6 6 6 10 5 9 1 6-1 10-5 17-13 3-1 6 0 0 186-9 3-9 0-33-12-30-3-18-8-3 0-7 4-11 5-9 2-9 1-38-3-33 3-12-1-15-3-15-8-3 0-18 8-30 3-33 12-9 0-9-3 0-186 6 0 3 1 17 13 10 5 6 1 9-1 10-5 6-6 4-6 7-18 3-5 3-3zM111 147l-6 2-3 2-3 5 0 6 3 6 3 3 6 3 9 1 57 1 56-1 9-1 6-3 3-3 3-6 0-6-3-5-6-3-6-2-59 2-57-2zM120 204l-14 3-5 3-4 6-2 6 1 7 3 7 3 3 29-5 46-3 45 3 29 5 3-3 4-8-1-9-3-6-7-6-8-2-12-1-35-1zM135 69l6-2 6 2 9 14 3 3 6 1 24 0 6-1 2-3 9-14 6-2 6 2 9 6 3 6 1 3-3 3-4 2-29 0-9 4-9 2-10-2-8-4-24 0-10-2-2-3 1-6 5-5z"/><path fill="#fbe9ef" d="M133 75l5-2 6 1 3 4 1 3 0 3-10 2-9-2-1-3 1-3zM208 75l4-2 3 0 5 2 4 3 1 3-1 3-9 2-9-2-1-3zM0 90l6-1 6 1 17 9 10 3 9 1 15-3 6 0 3 1 14 13 5 3 8 3 12 1 66 1 65-1 12-1 8-3 6-3 13-13 3-1 6 0 15 3 9-1 11-3 16-9 6-1 6 1 0 165-9 4-12 0-24-7-24-4-9-3-6-4-3-4-3-6-3-12-3-6-6-5-6-3-15-2-71 0-39 0-12 2-6 3-6 5-3 6-3 12-3 6-3 4-6 4-9 3-24 4-24 7-9 0-9-2-3-2zM108 146l-6 3-3 4-2 3 1 6 2 6 3 3 7 3 7 1 119 0 8-1 6-3 5-6 1-6-1-6-2-3-5-3-6-1-62 1-63-2zM140 234l34-2 32 2 24 3 7 3 1 3-1 3-7 5-9 3-9 1-35-2-39 2-13-3-6-3-3-3-1-3 1-3 4-1 6-2z"/><path fill="#f9e2e9" d="M3 96l9 0 27 10 27 0 6 2 17 12 7 2 6 1 36-1 39 0 41 0 36 1 12-4 15-11 6-2 27 0 27-10 6 0 6 1 0 151-9 5-12 1-51-13-7-4-5-5-7-16-5-6-6-4-6-2-12-1-113 0-12 1-9 4-6 5-11 21-4 4-6 3-48 13-9 0-9-2-6-4 0-151zM102 147l-3 2-2 4-1 6 1 6 4 6 4 2 12 3 122 0 7-2 6-3 4-6 1-6 0-6-3-4-3-2-6-2-68 2-66-3zM146 234l31-2 30 2 17 3 6 3 2 3-1 3-7 5-6 1-9 1-32-1-36 1-12-2-7-5-1-3 2-3 6-3z"/><path fill="#f8dbe3" d="M2 102l10-1 27 7 24 2 6 2 18 11 6 2 6 1 24-3 21-1 74 0 39 4 9-3 18-11 6-2 24-2 27-7 6 0 6 2 0 140-9 5-12 2-12-2-33-9-6-2-7-6-12-18-5-5-6-4-6-1-131-1-9 1-9 4-5 6-10 16-6 6-6 3-12 4-30 7-9 1-9-2-9-5 0-140zM105 143l-6 3-3 4-2 6 1 6 2 6 5 5 6 3 6 0 128 0 6-1 6-4 4-6 1-6-1-6-3-6-7-4-42 3-29 1-30-1zM152 234l25-1 24 1 17 3 7 3 2 3-1 3-5 3-15 3-62 0-12-3-5-3-1-3 2-3 7-3z"/><path fill="#f6d4de" d="M9 105l9 1 21 5 24 3 6 2 18 11 9 3 6-1 15-4 15-2 74 0 24 1 27 6 9-3 18-11 6-2 24-3 24-6 6 0 6 1 3 2 0 130-9 5-12 3-12-1-27-7-9-4-6-4-6-6-12-16-6-4-6-2-89 1-48-2-9 2-6 2-5 5-13 17-6 6-6 3-12 4-24 5-12 1-9-3-9-5 0-130zM105 141l-6 1-4 5-2 6 0 9 2 6 4 4 6 4 6 1 66-1 65 1 6-1 6-4 5-7 1-6 0-6-2-6-4-5-3-1-39 5-35 1-39-2zM157 234l20-1 19 1 17 3 7 3 2 3-1 3-6 3-15 1-56 0-9-3-3-1-1-3 2-3 7-3z"/><path fill="#f5cdd9" d="M2 111l7-2 9 0 42 7 6 2 9 5 18 12 2 3-4 12 1 12 4 9 3 3 6 3 9 1 78-1 47 1 12-2 6-5 4-6 1-9-1-9-3-9 2-3 18-12 9-5 9-3 18-2 21-4 12 0 6 3 0 122-9 6-12 3-15-2-21-5-9-4-9-6-13-16-6-6-5-2-6-2-39 2-38 0-33 0-30-2-7 1-7 3-6 6-13 16-12 8-15 5-18 3-9 1-9-2-6-3-6-4 0-122zM143 123l63 0 18 1 12 2 8 3 4 3 2 3-3 3-8 3-15 3-24 2-23 1-24-1-24-2-15-3-8-3-3-3 2-3 4-3 8-3 12-2zM164 234l22 0 14 2 9 1 6 3 3 3-3 3-6 2-14 1-45 0-12-3-3-3 2-3 8-3z"/><path fill="#f3c7d4" d="M4 114l8-2 9 0 36 6 9 3 6 3 11 8 5 6 1 6 0 12 2 9 6 9 8 4 78-1 59 2 9-1 6-4 2-3 3-6 2-6 0-18 1-3 5-6 11-8 9-4 9-3 36-5 6 0 6 1 6 3 0 114-9 6-12 4-15-1-18-5-15-6-6-6-16-18-5-3-6-2-39 3-41 0-33 0-33-3-6 1-6 3-21 22-12 7-15 5-15 2-9 1-9-2-6-3-6-5 0-114zM121 126l11-2 15-1 68 1 12 1 9 3 7 4 1 3-3 3-6 3-20 4-32 2-36-1-21-3-8-2-6-3-3-3 1-3 4-3zM149 237l22-3 18 1 15 2 8 3 1 3-4 3-6 1-23 1-30-1-6-1-4-3 1-3z"/><path fill="#f2c0ce" d="M4 117l11-3 12 1 30 5 7 3 8 4 6 5 6 6 2 6 2 15 3 9 5 8 6 3 6 1 36-3 39 0 29 0 33 3 9-2 6-6 4-10 4-21 4-6 9-8 9-5 12-3 30-4 12 0 9 5 0 106-9 7-12 4-12 0-18-4-9-3-9-5-6-6-15-16-6-4-6-2-36 4-38 1-39-1-36-4-6 2-6 4-18 19-12 8-12 4-15 3-9 0-9-1-9-5-6-5 0-106zM125 126l25-2 65 0 12 2 6 2 6 4 1 3-2 3-6 3-17 3-32 2-36-1-21-3-11-4-2-3 1-3 3-3zM153 237l18-2 18 1 11 2 7 2 1 3-8 3-23 1-24-1-8-3 1-3z"/><path fill="#f0b9c9" d="M14 117l13 0 27 5 9 3 9 5 6 5 4 6 2 6 4 18 4 9 7 6 6 1 33-3 36-1 38 1 33 3 6 0 6-3 4-4 4-9 4-18 2-6 4-6 8-6 10-5 12-3 27-4 12 1 9 5 0 100-9 7-12 4-12 0-15-2-9-3-9-5-9-8-15-16-9-4-6 0-30 5-44 1-39-1-33-6-6 2-6 3-18 19-6 5-9 5-12 3-12 2-9 1-9-2-9-5-6-5 0-100 6-4zM129 126l21-2 62 1 12 1 9 3 4 3 0 3-2 3-6 3-17 3-32 2-33-1-18-3-11-4-2-3 1-3 3-3zM158 237l19-1 15 1 11 3 0 3-8 3-18 0-18 0-9-3 0-3z"/><path fill="#efb3c4" d="M12 120l12-1 24 4 12 3 9 5 6 5 4 5 3 6 4 15 3 9 4 7 6 5 6 0 14-3 19-2 45-1 38 1 30 5 6-2 6-7 4-9 5-21 4-6 8-7 9-5 12-3 24-4 12 1 6 2 6 5 0 93-9 7-12 5-12 0-15-2-9-4-9-4-6-6-18-18-6-4-3-1-6 1-14 4-13 2-44 2-45-2-13-2-14-4-6-1-3 1-6 4-18 19-12 8-12 5-12 2-9 1-9-2-9-4-9-7 0-93 6-5zM133 126l23-2 56 1 9 1 9 3 4 3 1 3-2 3-6 3-18 3-29 2-33-1-18-3-9-4-2-3 1-3 4-3zM164 237l22 0 12 3-1 3-11 2-18 0-12-2-1-3z"/><path fill="#ecabbe" d="M9 123l6-2 9 0 15 2 15 3 8 3 7 4 6 5 4 6 8 27 6 10 4 5 0 3-10 9-17 18-10 7-18 6-9 2-9 0-12-4-6-4-6-6 0-87zM311 123l15-2 12 0 9 4 6 5 0 87-9 8-12 5-9 1-9-1-12-3-9-4-10-7-17-18-10-9 0-3 4-5 6-10 7-24 5-9 8-6 7-4zM136 126l23-1 53 0 16 4 4 3 1 3-2 3-4 2-9 3-12 2-20 1-24 0-20-2-14-3-6-3-2-3 1-3 4-3zM161 177l39 0 24 2 19 4 7 3 1 3-10 6-14 4-21 2-29 1-30-1-21-2-14-4-10-6 1-3 7-3 12-3 16-2zM171 237l12 0 11 3-3 3-14 1-15-1-3-3z"/><path fill="#eaa1b6" d="M11 126l7-2 9 0 15 2 12 2 8 4 7 5 8 10 12 36 0 6-4 6-13 16-6 5-9 6-18 5-15 0-12-4-6-4-6-7 0-78 5-5zM141 126l21-1 47 1 16 3 4 3 1 3-3 3-5 3-7 2-15 2-23 1-24-1-15-2-7-2-5-3-3-3 1-3 4-3zM308 126l15-2 12 0 9 3 9 7 0 78-9 9-6 4-6 2-9 1-9-1-12-3-9-4-12-10-13-15-4-6 0-6 11-33 3-7 5-5 7-5 9-5zM125 180l16-2 21-1 50 1 16 2 10 3 5 3 1 3-2 3-5 3-9 3-13 2-32 1-39 0-15-2-9-3-9-4-2-3 1-3 5-3z"/><path fill="#e697af" d="M149 126l43 0 17 1 12 2 5 3 1 3-3 4-5 2-7 2-15 2-20 0-21 0-15-2-7-2-5-2-3-4 1-3 5-3zM12 129l6-2 9-1 12 2 12 2 9 4 6 4 6 6 4 6 9 30 0 9-6 9-7 9-7 6-8 6-9 3-9 2-15 1-6-2-7-4-5-4-6-8 0-68 6-6zM306 129l17-2 12 0 9 4 9 8 0 68-9 11-6 4-6 2-9 1-9-1-9-2-9-3-8-6-7-6-7-9-6-9 0-9 7-24 4-9 5-6 6-5 7-4zM129 180l33-2 47 0 15 2 11 3 4 3 1 3-1 3-5 3-10 3-9 2-32 1-39-1-18-3-7-2-5-3-1-3 1-3 4-3z"/><path fill="#e48da7" d="M168 126l41 1 12 4 3 1 1 3-2 3-11 4-15 2-20 1-21-1-15-2-11-4-2-3 1-3 9-4 12-1zM24 129l12 1 12 2 9 3 8 6 6 6 3 6 8 24 0 6-1 6-3 6-7 9-6 6-8 6-15 5-12 1-12-2-10-7-8-11 0-58 4-6 5-4 6-3zM322 129l10 0 9 3 6 5 6 7 0 58-6 9-9 7-9 4-9 0-15-2-8-4-7-4-8-8-7-9-3-6-1-6 1-9 4-15 4-9 5-6 6-6 8-4 12-4zM132 180l33-2 44 1 12 1 11 3 4 3 2 3-2 3-3 2-9 3-15 3-17 1-30 0-21-1-15-3-9-5-1-3 1-3 4-3z"/><path fill="#e184a0" d="M138 129l21-2 41 0 15 2 6 3 2 3-2 3-6 3-12 2-20 2-24-1-18-2-9-4-2-3 2-3zM21 132l9-1 12 2 9 2 9 5 5 4 5 6 4 9 3 9 2 15-1 6-3 6-6 8-8 7-7 5-9 3-15 2-12-3-9-7-5-6-4-7 0-47 3-6 6-6 6-4zM315 132l14 0 9 2 9 6 6 10 0 47-6 10-6 6-6 4-9 3-9 0-9-2-9-3-6-4-6-5-7-8-5-9-1-6 1-9 3-12 3-9 4-6 7-6 7-4zM134 180l34-2 41 1 10 1 11 3 4 3 1 3-1 3-4 2-9 4-12 1-17 2-30 0-21-2-12-2-9-5-2-3 1-3 4-3z"/><path fill="#df7d9a" d="M142 129l20-2 38 1 15 3 4 1 1 3-1 3-4 2-12 3-17 1-25 0-20-3-6-3-2-3 1-3zM20 135l7-1 9 0 9 2 9 3 6 4 6 6 7 13 3 9 1 9-1 6-2 6-5 8-6 6-6 5-9 4-15 3-9-2-6-2-6-4-5-6-6-12-1-36 4-9 5-6 6-4zM311 135l15-1 12 3 9 8 6 11 0 34-2 5-4 8-6 7-6 4-9 3-6 1-9-1-9-3-6-3-6-5-6-6-5-8-2-6-1-6 1-9 3-9 4-9 5-6 7-6 6-3zM137 180l31-2 38 1 10 1 11 3 5 3 1 3-2 3-4 3-9 3-12 1-17 1-27 0-18-1-15-3-7-4-2-3 1-3 5-3z"/><path fill="#dd7695" d="M145 129l20-1 35 0 12 2 4 2 2 3-2 3-4 2-12 3-17 1-21 0-18-3-7-3-2-3 2-3zM19 138l5-1 9-1 9 1 9 3 6 4 6 5 5 7 3 6 3 15 0 6-2 6-3 6-6 8-6 5-9 4-6 2-9 1-12-2-6-4-5-5-7-12-3-12 0-13 1-8 4-9 4-5 4-4zM308 138l15-2 12 2 6 4 5 5 6 12 1 8 0 13-3 12-4 9-5 6-6 4-6 3-6 1-9 0-9-3-6-2-6-4-6-6-5-8-2-6-1-6 1-9 5-15 4-6 6-6zM139 180l32-2 35 1 19 4 5 3 1 3-1 3-3 2-9 3-12 2-17 1-27 0-18-1-12-3-8-4-2-3 1-3 5-3z"/><path fill="#db6f8f" d="M149 129l22-1 29 1 12 3 4 3-2 3-7 3-24 3-27-1-10-2-7-3-2-3 2-3zM18 141l6-2 9-1 15 3 6 3 6 5 7 10 5 15-1 12-3 6-5 8-6 5-6 4-6 2-9 2-12-2-9-5-5-5-3-6-5-15 0-9 1-9 2-6 4-7 5-5zM306 141l14-3 9 1 6 2 5 3 4 5 5 10 2 9 0 9-3 15-4 7-4 5-5 4-6 3-12 2-9-2-6-2-6-4-6-5-5-8-3-6-1-12 5-15 7-10 6-5zM142 180l32-2 32 2 17 3 5 3 1 3-1 3-10 5-12 2-17 1-24 0-18-1-15-3-7-4-1-3 1-3 5-3z"/><path fill="#da6b89" d="M154 129l23-1 22 1 12 3 3 3-2 3-7 3-28 3-29-3-7-3-2-3 3-3zM27 141l6 0 9 1 12 5 9 9 3 6 3 9 0 12-2 6-3 6-10 9-12 6-12 0-6-2-6-3-5-4-4-6-4-12-1-15 2-8 3-7 3-4 6-5zM315 141l8 0 6 1 6 2 4 3 7 9 2 6 1 9-1 15-3 6-4 7-9 8-6 2-6 1-12-1-12-7-9-10-2-6-1-6 0-6 2-9 6-12 10-8zM144 180l30-1 32 1 16 3 4 3 2 3-4 4-9 4-12 2-14 1-24 0-18-2-12-2-8-4-2-3 2-3 5-3z"/><path fill="#de7786" d="M168 129l29 1 10 2 4 3-2 3-8 3-24 2-24-2-9-3-2-3 4-3 4-1zM21 147l6-2 6-1 12 2 6 3 5 4 6 9 4 12 0 6-2 6-3 6-4 5-9 7-12 3-9-2-9-5-6-8-4-12-1-9 1-6 2-6 4-6zM307 147l10-2 12 1 9 6 6 10 1 6 1 9-3 12-3 6-5 5-9 5-9 2-12-3-9-7-4-5-3-6-2-6 0-6 4-12 6-9zM148 180l29-1 28 1 14 3 5 3 1 3-2 3-2 1-9 4-15 2-20 1-21-1-15-2-9-4-2-1-2-3 1-3 5-3z"/><path fill="#e18383" d="M150 132l15-2 24 0 14 2 4 3-2 3-9 3-13 1-15 0-11-1-9-3-2-3zM25 150l8-2 12 3 9 6 6 8 2 12-2 9-6 9-9 6-9 2-9-2-9-6-5-9-2-9 1-12 5-9zM309 150l11-2 9 2 7 6 5 9 1 12-3 12-7 9-9 4-9 0-11-4-7-6-4-9-1-9 1-6 3-6 7-8zM152 180l25-1 24 1 15 3 6 3 1 3-2 3-3 2-9 3-12 1-20 1-21-1-12-1-9-3-3-2-2-3 2-3 5-3z"/><path fill="#e48e7f" d="M156 132l15-1 18 0 8 1 6 3-1 3-11 3-23 1-17-4-1-3zM29 153l10 0 8 3 6 6 4 7 1 8-3 9-4 6-9 5-9 1-6-2-6-4-5-9-1-9 1-9 5-7zM313 153l10 0 7 3 5 6 3 9 0 9-4 9-6 6-8 3-9-1-6-2-6-6-3-9 0-9 3-8 6-6zM156 180l24-1 20 2 14 2 5 3 2 3-2 3-10 4-14 2-18 1-18-1-15-2-10-4-2-3 2-3 5-3z"/><path fill="#e89a7b" d="M163 132l26 0 10 3-1 3-15 3-15 0-13-3-1-3zM27 159l6-2 9 2 6 4 4 5 1 9-1 6-4 6-5 3-7 2-6-2-5-3-4-6-2-9 1-6 4-6zM310 159l7-2 6 1 6 4 4 6 1 6-2 9-4 6-5 3-6 2-6-2-6-3-4-6-1-6 1-9 4-5zM161 180l25 0 17 2 8 1 4 2 2 1 2 3-2 3-11 4-14 2-15 0-15 0-15-2-10-4-2-3 1-3 6-3z"/><path fill="#eaa478" d="M158 135l10-2 9 0 9 0 9 2-2 3-16 2-17-2zM29 165l4-1 6 0 6 4 3 6 0 3-3 6-3 3-3 1-6 0-6-5-2-8 2-6zM311 165l3-1 6 0 4 1 3 3 1 3 0 6-2 5-4 4-5 2-3-1-6-4-2-3 0-3 0-6zM169 180l20 0 14 2 6 1 6 3 1 3-2 3-8 3-11 2-18 1-18-1-12-2-8-3-2-3 1-3 6-3z"/><path fill="#ebad76" d="M165 135l12-1 11 1-1 3-10 1-11-1zM147 183l21-2 24 0 14 2 7 3 1 3-2 3-3 1-12 3-17 2-18-1-14-2-7-3-2-3 1-3z"/><path fill="#ecb675" d="M149 183l19-2 24 0 14 3 5 2 2 3-4 3-12 4-17 1-18 0-11-2-8-3-2-3 1-3z"/><path fill="#ecbd72" d="M152 183l19-2 21 1 9 1 5 2 3 1 2 3-3 3-11 3-17 2-18-1-15-3-4-4 1-3z"/><path fill="#eec370" d="M155 183l19-1 18 0 11 3 4 1 2 3-3 3-9 3-20 1-21-1-9-3-3-3 2-3z"/><path fill="#e4be6b" d="M158 183l19-1 18 1 10 3 2 3-3 3-7 2-20 2-21-2-7-2-3-3 2-3z"/><path fill="#d0af64" d="M163 183l14-1 13 1 12 3 2 3-4 3-5 2-18 1-18-1-6-2-4-3 2-3z"/><path fill="#bd9f5e" d="M171 183l12 0 9 1 6 2 3 3-6 4-18 2-18-2-7-4 4-3z"/><path fill="#a99057" d="M158 186l13-2 12 0 12 2 2 3-4 3-4 1-18 1-12-3-3-2z"/><path fill="#998250" d="M163 186l11-1 9 0 7 1 4 3-8 3-18 0-9-3z"/><path fill="#887549" d="M169 186l15 0 5 3-6 2-6 1-6-1-7-2z"/><path fill="#f7fbfd" d="M134 33l7 0 3 3 0 6-4 9-6 6-23 17-3 2-3 0-1-4 0-6 4-9 3-6 6-7 6-5zM212 33l6 0 6 2 9 6 6 7 6 9 3 6 1 9-1 4-3 0-3-2-23-17-6-6-3-6-1-6 0-4zM54 36l3 0 3 2 1 4-1 9-3 12-3 9-3 6-4 3-5 1-3-1-5-6-1-6 1-9 4-9 4-6 6-6zM296 36l6 1 6 5 6 7 4 8 2 9 0 6-3 6-3 3-3 1-5-1-3-3-6-12-4-21 0-6zM165 63l9-2 6 0 6 1 5 4 1 6-3 5-6 3-9 0-6-1-6-4-1-3 1-6zM105 96l42-2 30 5 23-4 9-1 27 2 12 0 2 3-2 6-5 6-5 3-8 2-24 3-35 2-39-3-17-4-5-3-5-6-2-6zM110 150l7-2 12 0 104 0 9 2 5 3 2 3 1 6-3 6-5 3-15 3-50 2-51-2-15-3-5-3-2-3-1-6 1-3 2-3zM142 204l53 0 35 2 8 1 6 3 3 3 2 6-2 6-5 4-6 1-12 1-47-1-54 1-12-2-5-4-2-3 0-6 2-3 5-4 12-3zM164 258l10-1 12 1 23 5 21 3 4 1 2 3 1 3-2 3-5 5-9 3-6-1-12-6-6-2-20-1-21 1-6 2-12 6-6 1-9-3-5-5-2-3 1-3 3-3 24-4z"/><path fill="#f1f7fc" d="M123 48l6-2 2 2-1 3-4 5-6 4-3 0-1-3 1-3zM222 48l2-2 6 2 6 6 1 3 0 3-4 0-6-4-4-5zM167 66l7-2 9 0 3 2 2 3 0 3-1 3-4 2-6 1-6-1-5-2-1-3 0-3zM133 96l17 0 18 3 9 1 8-1 18-3 12 0 19 3 6 3 1 3-1 3-2 3-5 3-9 3-41 3-24 0-29-3-10-3-5-3-2-3-1-3 1-3 4-2zM113 150l7-1 12-1 98 0 9 2 6 3 3 3 1 6-1 3-6 5-6 3-9 1-44 1-54-1-16-3-5-3-3-3-1-6 1-3 3-3zM149 204l51 0 30 2 12 4 3 3 2 6-1 3-2 3-5 3-9 2-12 1-92-1-12-2-5-3-2-3-1-6 2-3 6-4 12-3zM160 261l14-2 9 0 10 2 6 3 3 3-6 3-19 1-20-1-6-3 3-3z"/><path fill="#ebf4fb" d="M171 69l6-2 3 1 2 1 1 3-3 2-3 1-3-1-4-2zM127 99l11-2 9 0 24 3 9 1 23-4 9 0 9 1 9 3 5 4 1 3-2 3-5 3-14 3-35 3-33-2-18-2-5-2-5-3-1-3 0-3 2-3zM116 150l22-2 89 1 10 1 7 3 2 3 1 6-3 6-5 3-15 3-44 1-50-1-15-3-6-3-2-3-1-6 1-3 2-3zM157 204l40 0 30 2 12 4 4 3 1 3 0 3-1 3-4 4-6 2-9 2-80 0-15 0-9-2-7-3-3-3-1-3 0-3 1-3 4-3 6-2 15-3zM176 261l11 3-4 3-6 0-6 0-5-3z"/><path fill="#e7f2fa" d="M134 99l13-1 30 4 26-4 9 0 9 2 7 2 3 3 1 3-2 3-5 3-13 3-32 2-33-1-15-3-9-4-2-3 1-3 3-3zM119 150l22-2 86 1 9 2 6 2 3 3 1 6-1 3-6 5-6 2-9 2-44 1-48-1-16-3-5-3-3-3-1-6 1-3 3-3zM166 204l37 1 26 2 8 3 4 3 1 3 0 3-1 3-4 3-7 3-9 1-15 1-74-1-9-1-6-3-5-3-1-3 0-3 1-3 4-3 8-3 17-2z"/><path fill="#e3f0f9" d="M130 102l14-3 33 4 32-4 14 3 4 3 1 3-1 3-5 3-14 3-25 2-24-1-18-2-12-3-3-2-1-3 1-3zM122 150l22-1 80 0 9 2 7 2 3 3 2 6-1 3-3 3-5 3-15 3-44 1-45-1-14-3-6-3-3-3-1-6 2-3 4-3zM127 207l17-2 27-1 47 2 8 1 9 3 4 3 1 3 0 3-2 3-4 3-16 4-83 0-16-4-4-3-2-3 0-3 1-3 4-3z"/><path fill="#dfeef9" d="M134 102l13-2 24 3 9 0 29-3 10 2 5 3 1 3-1 3-6 3-15 3-23 1-21 0-21-3-9-4-1-3 1-3zM125 150l25-1 74 1 14 3 4 3 2 3 0 3-2 3-6 5-15 3-41 2-45-1-12-2-6-2-6-5-2-3 2-5 3-3zM130 207l35-2 44 1 14 1 7 2 7 4 1 3 0 3-5 5-6 2-9 2-18 1-62-1-16-3-5-3-2-3 0-3 2-3 3-3z"/><path fill="#dbecf8" d="M140 102l10 0 27 2 32-2 9 2 4 4-1 3-6 3-12 2-20 2-25-1-19-3-6-3-2-3 2-3zM128 150l25-1 68 1 15 3 5 3 1 3 0 3-1 3-5 4-6 2-12 2-41 2-42-2-12-2-6-2-5-4-1-3 0-3 3-4 6-3zM132 207l36-2 41 1 12 1 9 3 5 3 1 3 0 3-6 5-6 2-9 2-18 0-56 0-16-3-5-3-3-3 0-3 1-3 4-3z"/><path fill="#d7eaf7" d="M137 105l10-2 30 2 29-2 9 2 4 3-2 3-8 3-22 3-19 0-18-2-9-2-5-2-2-3zM131 150l34-1 56 1 9 2 6 2 3 2 2 3 0 3-1 3-3 3-7 3-15 2-20 1-36 0-24-1-12-2-7-3-3-3-1-3 0-3 2-3 6-3zM135 207l36-2 38 1 9 1 11 3 4 3 1 3-1 4-6 4-9 3-12 1-62 0-12-2-10-4-3-3 0-3 1-3 4-3z"/><path fill="#d3e8f6" d="M142 105l11-1 24 2 29-2 5 1 4 3-1 3-8 3-20 2-15 0-24-2-6-2-2-1-1-3zM135 150l57-1 29 1 9 2 6 3 4 4 0 3-1 3-4 3-7 3-13 2-20 1-36 0-24-1-12-3-5-2-4-3-1-3 0-3 2-3 8-4zM137 207l34-2 35 1 10 1 11 3 4 3 2 3-1 3-2 2-6 3-9 2-15 2-59-1-12-3-5-2-3-3-1-3 3-3 3-3z"/><path fill="#d0e6f5" d="M142 108l5-2 6 0 24 1 26-1 8 2-1 3-10 3-23 2-24-2-10-3zM138 150l51-1 29 1 9 2 6 2 4 2 2 3 0 3-1 3-4 3-7 3-15 2-20 1-30 0-24-1-15-3-7-5-2-3 0-3 3-3 9-4zM140 207l31-2 35 1 19 4 5 3 1 3-1 3-3 3-6 2-9 2-15 1-53 0-12-3-6-2-3-3-1-3 2-3 4-3z"/><path fill="#cce4f4" d="M148 108l8-1 21 2 20-2 8 1 0 3-5 1-8 2-15 1-16-1-8-2-5-1zM142 150l50 0 26 1 9 1 6 3 4 4 1 3-2 3-3 3-8 3-13 2-20 1-31 0-23-1-12-3-6-2-3-3-2-3 1-3 4-4 9-3zM142 207l32-2 32 2 17 3 5 3 1 3-1 3-7 5-9 2-15 1-35 0-18-1-12-2-7-5-1-3 2-3 4-3z"/><path fill="#c6e1f3" d="M155 111l7-1 33 0 3 1-21 3zM146 150l49 0 23 1 10 2 5 3 4 3 0 3-1 3-4 3-8 3-15 2-17 1-30 0-24-1-12-3-5-2-3-3-2-3 1-3 2-3 4-2 9-3zM144 207l30-1 32 1 16 3 5 3 1 3-1 3-3 2-6 3-9 2-14 1-33 0-18-1-12-3-6-4-1-3 1-3 5-3z"/><path fill="#bddef2" d="M164 150l36 0 18 2 7 1 6 3 3 3 0 3-1 3-4 3-9 3-17 2-26 1-27-1-17-2-9-3-4-3-1-3 0-3 3-3 7-3 15-2zM150 207l27-1 26 1 15 3 5 3 1 3-1 3-8 4-10 2-13 1-44-1-13-3-5-3-1-3 3-4 6-2z"/><path fill="#b5daf0" d="M132 153l27-2 50 0 12 2 6 3 5 3 0 3-1 3-5 3-8 3-9 1-29 2-33-2-15-2-5-2-5-3-1-3 1-3 3-3zM156 207l24-1 20 2 14 2 6 3 1 3-3 4-9 3-12 2-20 1-21-1-12-2-9-3-3-4 2-3 5-3z"/><path fill="#acd7ef" d="M136 153l29-2 41 1 11 1 7 2 5 4 1 3-2 3-4 3-15 4-29 1-33-1-15-3-7-4-2-3 1-3 3-3zM163 207l23 0 17 2 7 1 5 3 3 3-2 3-10 4-11 1-18 1-18-1-12-1-10-4-2-3 2-3 6-3z"/><path fill="#a4d3ed" d="M140 153l28-2 38 1 9 2 8 2 4 3 1 3-2 3-4 3-16 4-26 1-30-1-15-3-8-4-2-3 1-3 4-3zM147 210l21-3 24 1 14 2 7 3 1 3-2 3-12 4-17 1-24-1-10-1-8-3-2-3 1-3z"/><path fill="#9bd0ec" d="M143 153l31-2 32 2 15 3 4 3 1 3-2 3-9 4-12 2-17 2-21 0-18-2-13-3-5-3-2-3 2-3 3-3zM150 210l21-2 21 1 11 1 7 3 1 3-3 3-11 3-17 1-21 0-12-3-5-4 1-3z"/><path fill="#92cdeb" d="M148 153l29-1 29 1 12 3 5 3 1 3-3 4-9 3-9 2-17 1-36-1-14-3-5-3-2-3 3-4 6-3zM155 210l19-2 18 1 7 1 7 3 2 3-3 3-8 2-20 2-21-2-7-2-4-3 2-3z"/><path fill="#8ac9e9" d="M152 153l28-1 23 1 13 3 5 3 1 3-4 4-9 3-12 2-20 1-21-1-12-2-9-3-4-4 1-3 5-3zM159 210l18-1 17 1 9 3 2 3-5 3-3 1-20 2-21-2-3-1-5-3 2-3z"/><path fill="#81c4e8" d="M157 153l26 0 20 1 10 2 6 3 1 3-2 3-9 4-14 2-18 1-19-1-14-2-9-4-2-3 2-3 5-3zM165 210l24 0 11 3 1 3-6 3-18 2-18-2-7-3 1-3z"/><path fill="#79bfe6" d="M164 153l25 0 14 2 9 2 5 2 1 3-2 3-10 4-14 2-15 1-15-1-15-2-10-4-2-3 2-3 5-3zM157 213l14-2 12 0 13 2 1 3-8 3-21 1-6-1-6-3z"/><path fill="#6eb8e4" d="M145 156l23-3 27 1 13 2 7 3 1 3-2 3-2 1-12 4-17 1-21 0-17-3-6-3-2-3 2-3zM162 213l12-2 9 1 8 1 2 3-10 3-12 0-11-3z"/><path fill="#61b1e2" d="M149 156l22-2 24 1 11 2 6 2 1 3-2 3-2 1-12 3-17 2-18-1-13-2-7-3-2-3 2-3zM175 213l5 0 3 3-13 0z"/><path fill="#54aadf" d="M153 156l21-2 21 1 11 3 3 1 2 3-3 3-8 3-17 2-24-1-6-1-8-3-3-3 3-3z"/><path fill="#53a4dd" d="M158 156l19-1 18 1 10 3 3 3-2 3-10 3-19 2-20-2-9-3-3-3 3-3z"/><path fill="#5ca0dc" d="M164 156l16 0 12 1 10 2 3 3-2 3-8 3-18 1-18-1-8-3-3-3 3-3z"/><path fill="#669bdb" d="M154 159l14-2 15-1 14 3 5 3-3 3-10 3-21 0-14-3-3-3z"/><path fill="#6f97da" d="M158 159l13-2 12 0 12 2 4 3-3 3-4 1-9 2-12 0-14-3-3-3z"/><path fill="#7893d8" d="M163 159l11-1 12 0 4 1 5 3-3 3-3 1-18 1-10-2-3-3z"/><path fill="#8091d7" d="M170 159l13 0 9 3-5 3-10 1-11-1-4-3z"/><path fill="#898ed5" d="M167 162l10-2 9 2-9 3z"/></g></svg>
<svg x="403.8" y="537.7" width="117.9" height="117.1" viewBox="0 0 353.7 351.3" fill-rule="evenodd"><g filter="url(#wb)"><path fill="#fef7f9" d="M272 39l7-2 9 1 12 3 12 5 9 6 12 9 11 11 10 13 0 189-15 19-12 11-15 10-15 6-6 0-3-1-3-3-2-4-1-27-2-12-5-9-5-3-3 0-6 3-6 5-33 34-12 10-9 5-9 3-12 1-9-1-12-3-9-6-9-9-3-6 0-3 3-2 21 4 18 1 12-1 12-4 11-7 8-9 1-9-1-3-3-3-7-1-30 4-39 0-8 3-7 9-3 1-9-5-18-15-6-3-3-1-6 3-3 4-4 13 1 18 6 30 0 3-3 5-3 1-6 1-15-5-18-10-15-12-13-13-11-15 0-186 12-15 18-16 18-10 12-5 9-2 9-1 6 1 6 3 3 6 1 33 2 17 3 11 3 6 3 2 9 1 45-4 21-1 21 1 30 3 9 0 6-3 3-3 6-12 7-21 3-33 3-6zM144 147l-27 1-9 2-5 6-2 6 0 9 4 8 3 3 3 0 21-4 21-1 33-1 54 0 6-2 3-6-1-9-2-5-4-4-5-2-12-1-36-1zM243 198l-15 4-15 2-66 2-33-2-4 3-1 3-1 6 2 6 4 6 6 5 9 4 9 0 63-2 30 3 6-1 8-6 5-6 3-6 1-9-2-8-3-4-3-1zM172 54l11 0 12 1 18 6 9 5 6 6 5 6 1 6-2 3-4 1-33-4-15-1-15 1-33 4-4-1-3-3-1-3 3-6 5-6 6-4 15-7z"/><path fill="#fdf0f4" d="M279 54l9-2 9 0 9 3 12 7 9 6 10 10 10 12 7 10 0 159-10 14-14 15-9 7-9 5-9 3-6-1-3-2-3-4-7-23-4-9-4-5-3-2-6-1-6 3-6 5-24 21-16 18-8 6-9 5-9 2-9 1-9-1-9-3-7-4-5-6 1-3 5-1 21 0 12-1 12-2 15-6 8-8 3-6 1-9-3-7-3-2-3 0-36 5-39 0-8 1-7 4-6 2-9-5-18-14-6-2-6 2-3 3-4 7-3 15-1 27-3 6-4 3-6 1-6-2-12-5-15-12-12-12-15-22 0-155 10-15 14-14 15-11 15-7 15-3 9 3 5 5 3 6 6 36 4 12 3 6 3 3 3 1 21-5 15-3 36-3 30 2 36 7 6-2 7-9 8-21 8-30 4-6zM108 146l-3 1-3 4-3 8-1 6 1 9 3 6 3 5 3 1 21-7 27-2 63-1 13 1 14 3 3-2 2-7 1-9-3-9-3-4-6-3-60-1-48 2zM243 194l-14 7-19 3-66 1-14-1-19-4-3 3-2 4 0 9 1 6 4 6 7 6 8 4 9 0 27-2 39-1 12 1 18 5 6-2 9-5 6-7 3-8 1-12-2-9-2-3-3-3-3 0zM168 57l12-1 9 1 9 1 9 3 8 5 7 6 4 6 0 3-3 3-4 1-39-3-39 3-6-1-3-2-1-4 2-3 8-8 12-6z"/><path fill="#fbe9ef" d="M166 60l17-1 18 3 12 7 5 6 1 3-3 3-6 1-30-1-33 1-7-1-2-3 1-3 5-6 11-6zM286 63l5-1 9 0 9 3 12 7 9 8 9 9 7 10 8 13 0 134-14 21-7 9-9 8-12 6-6 1-6-1-6-6-10-20-5-8-6-4-6-2-6 3-18 15-6 2-3-3-4-9-2-3-3-1-24 6-15 2-18 1-27-2-18 3-9-4-18-15-6-1-6 2-6 7-5 11-7 30-3 5-6 2-9-2-12-7-12-10-10-12-14-22 0-131 14-21 16-16 15-10 15-4 6 0 6 1 3 2 5 6 3 9 8 33 9 21-4 21 0 12 2 9 5 15-1 15 1 9 4 9 4 5 9 5 9 2 33-4 42 0 9 1 8 3 7 5 3 0 9-3 10-8 5-6 3-9 0-15-5-21 2-15-1-9-2-9-3-6-3-3-3 0-13 3-11 1-87 1-13-2-7-3-2-3 0-3 5-6 13-6 22-5 27-2 18 1 18 2 14 4 19 10 3-1 6-6 6-12 15-41 5-7zM151 177l38-1 36 1 12 4 3 2 2 3 0 3-5 6-6 4-9 3-15 2-51 1-18 0-15-4-6-3-3-3-1-3 1-3 7-6 11-4zM184 303l15 0-3 3-10 4-12-1-4-3z"/><path fill="#f9e2e9" d="M163 63l17-2 14 2 8 3 5 3 3 3 2 3-2 3-9 2-45 1-6-1-5-2-1-3 6-6zM292 69l5 0 9 1 9 5 9 6 9 8 8 10 8 12 5 10 0 116-10 18-11 14-12 10-6 3-6 1-6 0-6-5-15-23-6-6-6-4-6-1-3 1-3 2-9 8-6 4-3-1-2-3 0-3 1-3 16-12 3-5 2-10 1-15-4-24 0-21-2-21 0-6 22-54 8-9zM48 75l12-2 9 1 6 5 6 11 13 48 0 30 5 27 0 24 3 9 3 6 9 5 12 3 33-5 30-1 15 0 6 1 7 3 4 3 2 3-1 3-3 3-9 4-12 4-12 2-18 0-30-3-15 0-9-4-15-15-6-2-6 2-3 2-6 6-6 13-7 21-2 5-3 3-6 2-9-1-12-8-9-8-14-17-10-19 0-113 10-18 11-14 12-10zM166 117l29 0 24 5 10 4 5 3 2 3 1 3-1 3-5 4-12 2-75 2-19-2-7-3-2-3 0-3 1-3 6-5 6-3 18-5zM154 177l35-1 33 2 12 3 3 2 1 3 1 3-4 6-7 5-9 2-15 2-45 1-18 0-15-4-5-3-3-3 0-6 6-6 11-4z"/><path fill="#f8dbe3" d="M162 66l15-2 12 1 12 4 3 3 1 3-8 3-32 1-11-1-3-3 1-3 4-3zM292 75l8-1 9 3 9 5 9 7 9 9 7 10 11 21 0 100-9 18-12 16-12 10-6 3-6 1-6-1-6-5-15-21-6-6-9-7-3-6-1-24-3-27-2-33 1-9 13-36 7-15 6-8zM46 81l11-3 9 2 6 4 6 10 13 47 1 30 4 30-1 21-1 6-2 3-11 9-4 6-5 9-9 22-3 5-3 2-6 2-6-1-6-3-6-4-9-8-13-18-11-22 0-95 8-18 11-15 14-13zM170 117l25 1 21 4 10 4 4 3 3 3 0 3-1 3-4 3-12 3-69 2-18-2-7-3-2-3 0-3 1-3 5-5 6-3 18-5zM157 177l32-1 30 2 12 3 3 2 2 3 0 3-3 6-8 5-9 2-15 2-39 1-20-1-14-3-5-3-3-3-1-3 1-3 2-3 4-3 12-4zM157 237l29-1 18 1 11 3 3 3 1 3-1 3-3 3-8 5-15 3-15 2-15-1-17-3-21-6-3-3 5-3 16-6z"/><path fill="#f6d4de" d="M163 69l11-3 9 0 10 3 3 3-1 3-9 1-18 1-9-2 0-3zM290 81l7-2 9 1 9 4 9 6 9 9 8 12 7 12 6 14 0 84-7 16-11 17-12 12-6 4-6 2-6-1-3-1-6-5-15-19-11-12-3-6-1-6-5-42 0-39 4-15 12-30 7-11zM50 84l10-1 9 4 6 8 4 10 10 36 4 63-1 12-2 9-15 20-15 29-6 5-6 1-6-2-6-3-9-7-6-6-11-16-9-21-1-3 0-79 8-20 13-19 15-13 9-5zM177 117l24 2 17 4 10 6 2 3 0 3-1 3-4 3-3 1-11 2-61 1-17-1-8-3-2-3-1-3 4-6 11-6 19-4zM160 177l32-1 27 2 8 2 5 3 2 3 0 3-3 6-6 4-9 3-15 2-36 1-21-1-14-3-5-3-3-3-1-3 1-3 2-3 3-3 11-3zM161 237l28-1 15 1 9 3 3 3 1 3-1 3-3 3-9 5-12 3-15 1-15 0-13-3-11-4-3-2-2-3 1-3 4-3 7-3z"/><path fill="#f5cdd9" d="M295 84l8 0 9 2 9 6 9 8 6 8 8 12 5 12 5 13 0 67-2 7-8 18-10 15-10 10-6 3-6 2-6 0-6-4-6-6-21-26-4-12-4-33-1-36 3-18 7-21 8-16 6-7zM44 90l10-2 9 1 6 4 6 9 7 21 5 18 3 54-1 18-3 12-13 18-13 25-6 6-6 1-6-1-9-5-13-14-7-9-6-12-7-21 0-61 4-14 7-15 10-14 12-12zM151 120l26-3 15 1 12 2 9 2 9 4 3 3 2 3 1 3-1 3-5 3-9 2-12 1-60 1-9-2-4-2-3-3 0-3 1-3 3-3 10-6zM162 177l30 0 24 1 9 2 5 3 2 3 0 3-3 6-7 5-9 2-15 2-36 0-18 0-12-3-5-3-3-3-1-6 2-3 4-3 12-4zM165 237l21-1 16 1 9 3 3 3 1 3-1 3-3 3-6 3-10 4-15 2-15-1-12-2-9-3-5-3-1-3 0-3 3-3 6-3z"/><path fill="#f3c7d4" d="M291 90l9-3 9 2 9 4 9 8 8 10 8 12 6 15 5 16 0 49-6 19-7 15-8 12-12 11-9 3-6 0-6-4-6-6-18-22-5-12-4-27-2-33 2-21 5-15 7-17 6-10zM46 93l8-2 9 2 6 5 6 11 7 20 3 15 3 51-1 18-5 12-22 38-6 6-6 2-6-1-9-5-7-7-8-9-5-9-6-12-5-15-2-11 0-39 3-16 5-12 8-15 8-11 12-11zM153 120l24-2 24 1 12 4 7 3 4 3 2 3 0 3-1 3-5 3-10 2-12 1-54 0-12-2-5-4 0-3 1-3 4-4 9-5zM165 177l30 0 21 2 6 1 6 3 2 3 1 3-1 3-2 3-6 4-9 3-15 1-30 1-21 0-13-3-6-3-2-3-1-3 0-3 2-3 4-3 13-4zM169 237l20 0 12 1 8 2 3 3 1 3-1 3-3 3-6 3-11 4-12 1-12 0-12-2-9-3-4-3-2-3 0-3 3-3 6-3z"/><path fill="#f2c0ce" d="M293 93l4-2 6 0 9 2 9 6 9 9 9 12 7 15 5 15 2 15 0 30-3 15-5 15-6 12-9 12-9 7-9 3-9-2-6-4-11-13-9-12-5-15-4-24-1-33 1-12 2-9 5-15 7-15 6-8zM47 96l7-1 9 2 6 6 6 11 5 15 3 15 4 48-2 18-5 15-20 34-6 6-6 2-9-2-9-6-9-10-6-9-7-15-4-12-3-15-1-15 1-15 3-15 4-12 5-12 7-12 8-9 8-6zM155 120l25-2 22 2 10 3 6 3 6 6 0 3-1 3-5 3-8 2-15 1-51 0-9-2-6-4-1-3 1-3 6-5 8-4zM168 177l27 0 21 2 10 4 3 3 1 3-3 6-8 5-9 2-15 1-30 1-18-1-12-2-5-3-3-3-1-3 0-3 2-3 4-3 12-4zM174 237l18 0 9 1 6 2 3 3 1 3-1 3-3 3-5 3-10 3-12 2-12 0-12-3-9-4-4-4 0-3 3-3 6-3z"/><path fill="#f0b9c9" d="M294 96l9-2 9 2 9 6 9 9 8 12 6 12 5 15 3 15 0 15-1 15-3 15-5 15-7 12-7 9-8 7-9 3-9-2-6-5-9-10-8-11-6-15-4-24-1-30 2-21 5-15 6-13 6-9zM47 99l10 0 6 2 6 7 5 9 5 15 3 15 3 45-3 21-6 15-13 22-6 8-6 5-6 0-6-1-9-6-9-11-7-11-6-15-3-12-3-15 0-12 1-15 3-12 4-12 5-12 8-12 7-8 9-6zM157 120l23-2 21 2 10 3 6 3 3 3 2 3 1 3-2 3-5 3-9 2-15 1-45 0-12-3-4-3-1-3 1-3 4-4 10-5zM171 177l25 0 20 2 9 4 3 3 0 3-3 6-9 5-12 2-21 2-27 0-15-2-10-4-3-3-1-3 0-3 2-3 9-5 12-2zM154 240l20-2 21 0 10 2 4 3 1 3-2 3-3 3-10 5-12 2-15 0-16-4-5-3-2-3 0-3 2-3z"/><path fill="#efb3c4" d="M295 99l8-2 9 2 9 6 9 9 8 12 5 12 4 12 3 15 1 15-1 15-4 15-4 12-6 12-9 11-9 6-6 2-6-1-6-3-9-9-9-12-6-15-5-24-1-30 1-12 3-12 4-12 5-12 5-6zM47 102l7-1 6 2 3 2 6 7 4 8 4 12 3 15 3 42-2 21-3 9-4 9-11 18-6 9-6 4-6 1-6-1-9-7-8-9-7-11-5-13-4-12-2-12 0-15 1-15 2-12 4-12 6-12 6-9 7-8 9-7zM159 120l21-2 21 3 14 5 4 3 2 3 0 3-2 3-5 3-22 3-42 0-12-2-5-4-1-3 0-3 6-5 8-4zM174 177l24 0 19 3 7 3 2 3 1 3-1 3-2 3-4 3-10 3-15 2-27 1-18-1-11-2-6-3-4-3-1-3 1-3 1-3 8-4 15-3zM156 240l18-2 21 0 9 2 3 3 1 3-1 3-3 3-9 4-12 3-15 0-14-4-5-3-2-3 0-3 2-3z"/><path fill="#ecabbe" d="M294 102l6-2 9 0 9 5 10 9 8 11 6 13 4 12 3 15 1 15-2 15-2 12-6 15-6 12-7 9-6 4-9 3-6 0-6-4-9-9-7-9-7-15-4-24-2-27 1-12 2-12 4-12 6-12 4-6zM45 105l9-1 6 2 6 5 5 9 5 12 3 15 3 39-2 21-2 9-4 9-11 19-6 8-6 4-6 2-6-2-9-6-8-10-6-9-5-12-3-12-3-24 2-24 4-12 5-12 7-12 7-8 6-5zM160 120l20-1 21 2 13 5 4 3 2 3 0 3-2 3-6 3-23 3-39 0-12-3-4-3-1-3 1-3 4-4 10-5zM179 177l22 1 15 2 7 3 2 3 1 3-1 3-2 3-4 3-10 3-17 2-24 1-15-1-13-2-6-3-4-3-1-3 1-3 1-3 5-3 5-2 15-3zM158 240l19-2 18 1 7 1 4 3 1 3-1 3-3 3-8 4-12 2-15 0-12-3-5-3-3-3 0-3 3-3z"/><path fill="#eaa1b6" d="M297 105l6-1 9 1 9 6 6 6 6 9 7 12 4 12 3 15 0 15 0 12-4 15-4 12-6 12-6 7-9 7-6 1-6-1-6-3-8-8-7-9-6-15-5-24-1-27 4-21 4-12 4-9 6-8zM48 108l6 0 7 3 5 6 6 11 4 13 2 12 2 36-3 21-8 18-12 19-6 5-6 1-6-1-9-6-6-7-6-10-4-10-4-12-2-12-1-15 1-12 2-12 4-12 6-12 6-9 7-7 6-4zM163 120l20-1 18 3 12 4 5 6 0 3-2 3-6 3-21 2-39 0-10-2-4-3-1-3 1-3 5-5 9-4zM147 180l27-3 30 1 10 2 7 3 3 3 1 3-1 3-5 5-13 4-29 2-27 0-8-2-7-3-3-3-1-3 0-3 2-3 4-3zM161 240l16-2 15 1 9 2 3 2 1 3-1 3-4 3-8 4-12 2-12-1-12-3-5-5-1-3 3-3z"/><path fill="#e697af" d="M299 108l7-1 9 3 6 5 7 8 6 9 6 12 3 12 2 12 0 12-1 12-2 12-4 12-5 10-6 8-6 5-9 3-6 0-6-4-7-7-7-9-6-15-4-24 0-27 4-21 3-9 5-9 6-6zM41 114l7-2 6 0 6 3 6 7 5 10 4 12 2 15 1 18-1 24-5 18-7 12-8 12-6 5-6 1-6-1-6-4-6-6-6-8-8-20-3-12-1-12 1-21 6-21 5-9 6-9 6-6zM166 120l20 0 15 2 9 4 4 3 2 3 0 3-2 3-7 3-21 2-33 0-10-2-5-3-1-3 0-3 3-3 4-3 9-3zM149 180l28-2 27 1 7 1 8 3 3 3 1 3-1 3-3 4-6 3-9 2-27 2-27-1-13-4-4-3-1-3 0-3 3-3 4-3zM164 240l13-1 15 0 5 1 4 2 2 4-1 3-4 3-7 3-11 2-12 0-9-3-3-2-3-3 0-3 2-3z"/><path fill="#e48da7" d="M302 111l7 0 9 5 6 5 6 8 5 9 4 12 4 21 0 12-1 12-3 12-3 9-6 10-6 7-6 4-6 2-6-1-6-4-6-5-6-9-7-16-4-24 0-24 5-21 4-9 5-8 6-5zM42 117l6-2 6 1 6 3 6 8 4 8 3 12 3 15 1 15-2 24-6 18-6 12-6 8-6 5-6 1-6-1-6-4-6-6-6-9-4-9-4-12-2-21 2-21 3-12 4-9 10-15 6-5zM170 120l16 0 16 3 7 3 4 3 2 3 0 3-3 3-7 3-19 2-33-1-8-1-5-3-2-3 1-3 2-3 5-3 10-4zM150 180l27-2 24 1 8 1 8 3 4 3 1 3-1 3-2 3-5 3-16 4-18 1-21 0-12-2-9-3-3-3-2-3 1-3 2-3 4-3zM167 240l13-1 13 1 7 3 1 3-1 3-5 4-7 2-8 1-15-1-7-3-3-3 0-3 3-3z"/><path fill="#e184a0" d="M296 117l7-2 6 0 9 4 6 6 6 8 5 11 6 21 1 12-1 12-2 12-3 9-4 9-7 9-7 6-6 1-6-1-6-3-9-10-8-17-3-18-1-21 2-21 7-17 3-4zM43 120l8-1 6 2 5 5 4 6 6 18 3 27-2 24-6 18-10 16-6 5-6 2-6-1-6-4-6-7-5-8-7-18-2-21 2-21 6-18 10-15 5-5zM155 123l19-3 21 2 12 4 4 3 2 3 0 3-3 3-6 3-18 2-30-1-8-1-6-3-2-3 0-3 3-3 5-3zM152 180l25-2 24 1 7 1 8 3 3 3 1 3 0 3-3 3-5 3-11 3-12 1-21 1-15-1-12-3-5-4-1-3 0-3 2-3 5-3zM172 240l11 0 9 1 6 2 1 3-1 3-4 3-8 3-6 1-9-1-6-1-5-2-3-3 0-3 3-3z"/><path fill="#df7d9a" d="M298 120l8-2 6 1 6 4 6 5 6 9 4 10 3 9 2 12 0 21-2 12-3 9-4 8-6 8-6 4-6 2-9-3-6-5-4-5-8-15-4-18-1-21 3-18 2-9 4-9 5-6zM44 123l4-1 6 1 6 4 3 5 5 9 2 9 2 12 1 15-1 21-6 18-9 15-6 5-6 2-6-1-6-4-9-12-7-17-2-21 2-21 6-18 10-14 6-5zM157 123l20-2 18 1 9 3 6 4 2 3 0 3-3 3-5 2-18 2-30 0-6-1-7-3-2-3 1-3 2-3 5-3zM154 180l23-2 24 1 13 4 4 3 1 3-1 3-2 3-5 3-10 3-12 1-21 1-15-2-9-2-7-4-1-3 0-3 2-3 5-3zM162 243l12-2 12 0 10 2 2 3-2 3-4 3-9 3-9 0-9-2-6-4 0-3z"/><path fill="#dd7695" d="M159 123l18-2 18 2 9 3 4 3 2 3 0 3-3 3-6 2-15 2-27 0-6-1-8-3-2-3 0-3 3-3 5-3zM299 123l7-2 6 1 6 4 6 6 6 9 3 7 5 20-1 21-4 18-5 9-4 6-6 5-6 2-6-1-3-2-6-5-4-5-7-15-3-18-1-18 3-19 6-15 3-4zM44 126l4-1 6 2 6 4 3 5 6 17 3 24-2 21-6 18-4 7-6 7-3 3-6 2-3 0-6-3-6-6-5-7-4-9-2-9-3-18 2-18 6-18 9-13 6-5zM156 180l24-2 21 2 12 3 4 3 1 3-1 3-2 3-6 3-20 4-18 0-15 0-12-3-5-4-2-3 0-3 2-3 5-3zM165 243l9-2 12 0 7 2 3 3-2 3-5 3-6 2-9 0-8-2-5-3 0-3z"/><path fill="#db6f8f" d="M161 123l16-2 17 2 9 3 4 3 2 3 0 3-4 3-4 2-15 2-27-1-12-3-3-3 1-3 2-3 5-3zM299 126l4-1 6 0 6 2 6 5 6 8 3 7 3 9 3 12 0 12 0 9-5 18-4 7-6 7-3 2-6 2-6-1-3-1-9-10-6-13-4-17 0-18 2-18 5-12 5-6zM45 129l6 0 3 1 5 5 4 6 3 7 2 11 2 21-2 18-5 16-9 13-3 2-6 2-3 0-6-2-6-6-3-5-7-17-2-18 2-18 6-18 4-6 6-7zM157 180l23-1 21 1 11 3 4 3 1 3-1 3-3 3-5 3-19 3-18 1-15-1-12-3-4-3-2-3 0-3 3-3 5-3zM168 243l9-1 9 0 4 1 3 3-1 3-6 3-12 1-5-1-5-3-1-3z"/><path fill="#da6b89" d="M164 123l16-1 15 2 6 2 5 3 2 3-1 3-3 3-9 2-21 2-18-1-8-3-2-3 0-3 3-3 5-3zM300 129l6-2 6 2 9 6 4 6 4 9 5 18 0 18-4 18-3 6-6 8-3 2-6 2-6-1-3-2-9-9-5-12-3-15-1-18 3-15 3-9 3-6zM47 132l4 0 6 4 6 10 4 16 1 18-2 18-5 15-7 10-3 3-6 2-6-1-3-2-6-6-3-5-5-16-2-18 2-18 6-15 8-10 6-4zM159 180l21-1 20 1 10 3 4 3 2 3-1 3-3 3-5 3-18 3-18 1-13-1-11-2-6-4-2-3 0-3 3-3 5-3zM172 243l14 0 5 3-1 3-4 2-6 1-6 0-8-3 0-3z"/><path fill="#de7786" d="M168 123l15 0 12 2 9 4 1 3 0 3-4 3-6 2-21 1-18-1-5-2-3-3 0-3 3-3 5-3zM300 135l3-2 6 0 6 2 3 3 5 6 4 7 4 17 0 18-4 15-6 11-3 3-6 2-5-1-4-2-6-7-6-12-2-12-1-15 2-15 4-10zM43 138l5-1 3 1 4 3 5 6 4 12 2 18-2 18-4 13-6 10-3 2-6 3-4-1-5-3-6-7-5-14-2-15 1-15 4-12 7-12 4-4zM162 180l18-1 18 1 10 3 5 3 1 3-1 4-6 4-9 3-12 1-27 0-12-3-4-3-2-3 0-3 2-3 6-3zM171 246l9-2 6 2-2 3-7 1-5-1z"/><path fill="#e18383" d="M174 123l12 0 10 3 5 3 2 3 0 3-5 3-3 1-21 2-18-2-6-4 0-3 6-5 9-3zM306 138l3 0 6 3 6 6 5 12 3 12-1 15-3 12-6 9-4 4-3 0-6-1-3-2-6-7-4-12-2-12 0-12 3-14 6-10zM42 144l3-1 6 1 6 6 4 9 2 15-1 15-4 15-3 6-4 5-6 2-6-1-3-3-5-6-4-11-2-13 1-12 4-12 6-10zM165 180l18-1 15 2 9 2 4 3 1 3 0 3-2 2-6 3-9 3-15 1-15 0-12-2-9-4-2-3 1-3 4-4 6-2z"/><path fill="#e48e7f" d="M161 126l13-2 12 0 9 3 4 2 2 3 0 3-6 3-3 1-15 1-15-1-5-1-5-3 0-3 3-3zM305 144l7 1 6 5 5 9 3 12 0 12-2 9-6 10-6 4-6-1-6-7-4-9-2-10 0-13 2-10 4-8zM41 150l4-1 3 0 3 1 3 3 4 9 2 12 0 12-3 13-6 9-6 3-6-1-5-6-4-9-1-9 0-12 2-9 5-10zM168 180l18 0 15 2 8 4 2 3-1 3-3 3-7 3-11 2-15 1-12-1-9-1-7-4-2-3 0-3 3-3 3-2 6-2z"/><path fill="#e89a7b" d="M164 126l10-1 12 0 9 3 2 1 2 3-1 3-3 2-12 2-18 0-5-1-5-3-1-3 3-3zM308 150l7 3 3 4 3 8 1 9 0 9-2 6-3 6-5 4-6-1-3-3-3-6-3-12 0-9 3-11 3-4 3-2zM42 156l6 0 3 2 4 7 2 9 0 12-3 9-3 6-3 3-3 1-3 0-3-2-3-4-3-8-1-8 0-9 2-6 3-6zM173 180l16 0 14 3 5 3 1 3 0 3-4 3-8 3-23 2-20-2-6-3-3-3 1-3 2-3 5-2 9-3z"/><path fill="#eaa478" d="M168 126l9-1 11 1 7 3 2 3-1 3-1 1-6 2-6 1-18-1-8-3 0-3 2-3zM306 159l3-1 3 1 3 3 3 8 0 7-1 6-2 6-3 2-3 0-3-2-4-9-1-12 2-5zM42 165l3-2 3 1 3 4 2 9 0 6-2 7-3 5-3 2-3-1-3-3-3-10 1-9 2-6zM156 183l15-2 18 0 12 2 5 3 2 3-1 3-3 3-9 3-15 2-15 0-12-3-4-2-2-3 0-3 3-3z"/><path fill="#ebad76" d="M173 126l13 1 7 2 2 3-1 3-11 3-15 0-9-3 0-3 3-3zM158 183l16-2 15 0 12 3 3 2 2 3 0 3-4 3-9 3-13 2-15-1-12-3-5-4 0-3 3-3z"/><path fill="#ecb675" d="M165 129l6-2 9 0 10 2 3 3-2 3-5 2-15 0-9-2-1-3zM160 183l14-2 15 1 8 1 4 2 2 1 2 3-1 3-4 3-8 3-12 1-15 0-12-4-3-3 0-3 3-3z"/><path fill="#ecbd72" d="M168 129l9-1 6 0 4 1 3 3-2 3-2 1-15 0-6-1-1-3zM162 183l15-2 12 1 9 2 3 2 2 3 0 3-2 2-9 3-12 2-16-1-10-3-3-3 0-3 3-3z"/><path fill="#eec370" d="M173 129l9 0 5 3-4 3-14 0-2-3zM164 183l13-1 12 1 9 2 2 1 2 3-1 3-4 3-17 3-18-1-6-2-3-3 0-3 3-3z"/><path fill="#e4be6b" d="M171 132l6-1 6 1-6 2zM167 183l13-1 10 1 8 3 3 3-1 3-5 3-15 3-9 0-9-1-4-2-4-3 0-3 3-3z"/><path fill="#d0af64" d="M171 183l18 1 7 2 3 3-1 3-6 3-12 2-15-1-5-1-4-3 0-3 4-3z"/><path fill="#bd9f5e" d="M162 186l12-2 9 0 10 2 3 3-1 3-6 3-9 2-9-1-8-1-5-3 0-3z"/><path fill="#a99057" d="M165 186l9-2 9 1 8 1 3 3-1 3-7 3-15 1-4-1-6-3 0-3z"/><path fill="#998250" d="M168 186l15-1 4 1 5 3-2 3-4 2-13 1-10-3 0-3z"/><path fill="#887549" d="M173 186l9 0 7 3-2 3-7 2-6 0-7-2-1-3z"/><path fill="#776642" d="M169 189l8-2 8 2-2 3-6 1-6-1z"/><path fill="#66583b" d="M173 189l9 0-5 3z"/><path fill="#f7fbfd" d="M159 33l21-2 19 2 10 3 12 6 7 6 2 3-2 1-3 0-21-5-21-2-21 2-30 6-3-2 2-3 7-6 11-6zM155 87l13-2 15 0 15 1 12 3 12 4 10 6 5 6-1 6-2 3-9 3-45-2-45 2-12-1-4-2-3-3-1-3 0-3 5-6 15-7zM152 147l40-1 21 1 15 2 6 2 6 4 3 4 0 6-1 3-5 4-18 3-99 3-6-1-3-1-3-3-2-5 1-6 3-6 4-3 12-3zM228 204l15-1 4 4 2 6-3 9-4 6-8 5-6 2-24-1-60 1-12 0-6-2-7-5-4-6-2-6 2-6 5-3 3 0zM89 264l4-1 6 3 8 7 8 9 6 9 12 24 3 6-1 4-6 1-12-3-12-7-10-10-7-12-4-12 0-6 1-6 2-4zM189 264l18-1 6 0 2 1 3 3 0 6-5 8-9 6-12 5-12 2-15-2-12-3-10-7-3-6 2-6 5-3 9-2zM260 276l4-2 3 0 3 2 2 6-1 12-7 14-9 9-12 8-12 4-9 0-2-2 2-6 25-33z"/><path fill="#f1f7fc" d="M159 87l24-2 12 1 12 3 9 3 9 5 5 5 2 6-1 3-3 3-9 2-39-1-42 2-9-2-3-1-4-3-1-3 1-3 2-3 5-4 12-6zM155 147l40-1 30 3 9 3 4 4 3 6-1 3-1 3-5 4-9 2-12 1-90 1-9-1-4-4-1-3 0-6 4-6 4-2 15-4zM131 207l106-2 7 2 2 3 0 6-2 6-4 5-6 4-6 2-90 2-9-2-6-4-4-4-3-6 0-6 2-3 5-2zM197 264l10 0 6 2 1 1 1 3 0 3-3 6-5 5-6 3-9 3-15 2-15-2-12-5-5-6-1-3 0-3 1-3 6-3zM90 273l3-3 3 1 6 3 7 8 8 15 2 6-1 3-1 3-3 1-6-2-6-4-6-6-6-13-1-6zM257 288l4-1 1 1 0 3-1 5-6 8-3 1-4 1-1-3 2-5z"/><path fill="#ebf4fb" d="M165 87l21-1 21 4 9 4 8 5 2 3 2 6-1 3-5 3-9 1-33 0-39 1-10-2-4-3-1-3 0-3 5-6 5-3 14-6zM158 147l37-1 27 3 9 3 5 4 2 6 0 3-4 5-6 2-11 2-16 1-75 1-9-3-3-2-2-3 0-6 2-3 3-3 5-3 13-3zM143 207l43-1 48 0 4 1 4 3 1 6-2 6-5 6-6 3-8 2-54 1-27 0-12-3-8-6-3-6 0-3 1-3 3-3 7-2zM158 267l46-2 7 2 1 3 0 3-1 3-4 5-9 6-12 3-15 0-9-2-6-2-8-7-1-3 0-3 2-3z"/><path fill="#e7f2fa" d="M173 87l19 1 18 4 11 7 3 3 1 6-2 3-4 2-9 1-66 1-8-1-5-3-2-3 1-3 4-6 5-3 17-6zM161 147l34 0 15 1 12 2 8 3 3 3 2 3 0 6-4 5-6 2-12 2-15 1-66 0-12-2-3-2-2-3 0-6 1-3 4-3 5-3 16-4zM148 207l41-1 40 1 5 1 4 2 2 3 1 3-2 6-7 6-7 3-9 1-45 2-30-1-12-3-6-5-2-3-1-6 1-3 5-3zM169 267l35 0 3 0 3 3 0 3-4 6-5 4-9 4-9 2-9 0-9-2-9-3-5-5-1-3 0-3 3-3 6-2z"/><path fill="#e3f0f9" d="M157 90l11-2 12 0 12 0 9 2 9 4 8 5 4 6 0 3-3 4-12 2-60 0-6 0-7-3-2-3 0-3 5-6 10-6zM164 147l31 0 15 1 10 2 8 3 3 3 2 3 0 6-2 3-9 4-24 3-63 0-12-2-3-2-3-3 0-3 2-6 3-3 6-3 13-3zM152 207l37-1 33 1 12 3 3 3 1 3-2 6-2 3-6 4-12 2-27 2-27 1-21-1-7-2-5-2-6-7-1-6 4-4 9-3zM184 267l17 0 6 3 0 3-3 6-6 4-9 4-9 1-9-1-9-2-6-4-3-5 0-3 6-3z"/><path fill="#dfeef9" d="M161 90l19-2 12 1 9 2 9 4 6 4 4 6 0 3-4 3-12 2-54 1-6-1-7-2-2-3 0-3 4-6 11-6zM167 147l29 0 22 3 8 3 4 3 2 6 0 3-3 3-7 4-12 2-15 1-57 0-12-2-3-2-3-3-1-3 2-6 3-3 6-3 14-4zM155 207l37-1 30 2 8 2 4 3 2 3-1 3-4 6-9 4-18 3-27 1-21 0-15-1-11-4-5-6-1-6 2-3 3-1 9-3zM161 270l16-2 18 0 8 2 1 3-1 3-2 3-6 4-9 3-12 0-9-2-8-5-2-3 1-3z"/><path fill="#dbecf8" d="M164 90l19-1 18 3 9 4 4 3 4 6-1 3-4 3-9 2-45 1-15-2-4-1-3-3 0-3 2-3 5-5 9-4zM170 147l28 0 18 3 8 3 4 3 2 3 0 6-3 3-8 4-12 2-15 0-51 1-12-2-4-2-3-3-1-3 2-6 3-3 6-3 15-4zM158 207l34-1 27 2 8 2 5 3 1 3 0 3-5 6-9 4-18 3-24 1-21 0-15-2-9-3-6-6 0-6 2-3 4-2 9-2zM167 270l25-1 7 1 2 3 0 3-3 3-5 3-7 2-9 1-9-1-8-5-2-3 2-3z"/><path fill="#d7eaf7" d="M169 90l17 0 15 3 11 6 3 6 0 3-5 3-6 1-42 1-15-1-4-1-4-3 0-3 2-3 6-5 9-4zM175 147l26 1 18 4 8 4 2 6-1 3-2 3-4 2-12 3-51 2-18-1-9-1-6-3-2-2-2-3 2-6 4-3 7-3 18-4zM161 207l31-1 24 3 7 1 6 3 2 3 0 3-2 3-3 3-7 3-17 3-25 2-21 0-13-2-9-3-4-3-2-3-1-3 1-3 4-4 9-2zM176 270l16 0 6 3 0 3-3 3-6 3-9 2-11-2-6-3-1-3 1-3 2 0z"/><path fill="#d3e8f6" d="M158 93l16-3 18 1 13 5 5 3 2 3 1 3-1 3-5 3-12 1-42 0-7-1-4-3-1-3 4-6zM146 150l31-3 30 2 14 4 4 3 2 3 1 3-1 3-3 3-5 3-9 2-12 1-54 0-12-2-7-4-1-3 0-3 5-6 6-3zM164 207l28 0 21 1 8 2 6 3 2 3 0 3-2 3-3 3-8 3-18 3-21 2-18-1-15-1-8-3-4-3-3-3 0-3 0-3 6-4 9-3zM168 273l12-2 9 1 5 1 0 3-5 4-6 2-6 0-10-3-2-3z"/><path fill="#d0e6f5" d="M160 93l17-2 15 1 9 3 6 3 4 4 0 3-1 3-3 2-5 1-10 1-36 0-7-1-5-3-1-3 1-3 3-3 5-3zM147 150l27-3 30 2 16 4 4 3 2 3 1 3-1 3-3 3-4 2-9 3-12 1-51 0-12-2-8-4-2-3 1-3 1-3 3-3 6-3zM167 207l28 0 18 2 5 1 6 3 3 3 0 3-2 3-4 3-7 3-16 3-21 1-18 0-15-2-9-4-4-4-1-3 1-3 4-3 12-4zM175 273l13 0 2 3-4 3-3 1-9-1-4-3z"/><path fill="#cce4f4" d="M163 93l14-2 16 2 8 3 5 3 3 3 0 3-1 3-4 2-12 1-33 1-6-1-7-3-1-3 1-3 3-3 5-3zM149 150l28-2 27 1 14 4 5 3 2 3 0 3 0 3-6 5-9 2-12 2-48 0-15-2-7-4-1-3 0-3 1-3 4-3 6-3zM170 207l25 0 18 2 9 4 3 3 0 3-2 3-4 3-8 3-13 3-18 1-18 0-15-2-9-3-6-5 0-3 0-3 6-4 12-3z"/><path fill="#c6e1f3" d="M166 93l14-1 15 2 10 5 2 3 1 3-2 3-2 1-13 2-32 0-6-1-5-2-2-3 2-3 3-3 5-3zM150 150l27-2 27 1 9 2 6 3 5 5 1 3-1 3-3 3-5 2-18 3-48 1-12-2-8-4-2-3 0-3 4-5 7-4zM173 207l22 0 18 3 8 3 2 3 0 3-1 3-4 3-9 3-14 3-15 1-18 0-15-2-9-4-5-4 0-3 1-3 3-3 4-1 12-3z"/><path fill="#bddef2" d="M161 96l13-2 15 1 11 4 3 3 0 3-3 3-14 2-21 0-12-2-2-3 1-3 3-3zM153 150l27-2 24 2 9 2 6 4 3 3 0 3-1 3-5 4-9 3-12 1-42 1-12-2-8-4-2-3 0-3 4-5 6-4zM149 210l28-3 24 1 9 2 7 3 3 3 0 3-2 3-4 3-13 4-24 2-21 0-12-3-5-3-3-3 0-3 1-3 3-3z"/><path fill="#b5daf0" d="M168 96l12-1 9 1 6 3 4 3-1 3-6 3-18 1-14-1-5-3 1-3 4-3zM156 150l24-2 22 2 8 2 6 3 3 4 1 3-1 3-6 4-6 2-12 2-24 1-18-1-12-2-6-3-2-3 0-3 1-3 4-3 6-3zM153 210l24-2 24 1 6 1 7 3 2 3 1 3-2 3-5 3-12 4-21 2-18-1-12-3-5-2-3-3-1-3 2-3 3-3z"/><path fill="#acd7ef" d="M165 99l9-2 6 0 10 2 4 3-1 3-4 2-9 1-9 0-10-3 0-3zM159 150l21-1 21 2 9 2 5 3 2 3 1 3-1 3-4 3-6 2-24 3-18 0-15-1-9-2-3-2-3-3 0-3 1-3 4-3 7-3zM156 210l21-2 21 1 13 4 3 3 0 3-2 3-8 4-9 3-15 1-12 0-12-1-9-3-5-4-1-3 1-3 4-3z"/><path fill="#a4d3ed" d="M167 102l10-3 6 1 4 2-2 3-8 1-9-1zM162 150l21-1 18 2 7 2 5 3 3 3 0 3-1 3-2 2-6 3-9 2-15 1-18 0-15-1-9-3-4-4 0-3 1-3 4-3 8-3zM159 210l21-1 18 1 10 3 3 3 0 3-2 3-8 4-9 3-12 1-12 0-12-2-8-3-4-3-1-3 2-3 4-3z"/><path fill="#9bd0ec" d="M166 150l20 0 15 2 10 4 3 3 1 3-2 3-6 4-9 2-15 1-30 0-9-3-5-4 0-3 1-3 4-3 9-4zM163 210l17-1 17 1 9 3 3 3 0 3-2 3-6 4-11 2-10 1-21-1-8-3-4-3-2-3 2-3 4-3z"/><path fill="#92cdeb" d="M170 150l17 0 14 2 8 4 3 3 1 3-2 3-7 4-9 2-12 1-18 0-11-1-10-3-3-3 0-3 1-3 4-3 10-4zM167 210l16-1 12 2 8 2 4 3 0 3-2 3-6 3-10 3-9 1-18-1-9-3-4-3-1-3 2-3 4-3z"/><path fill="#8ac9e9" d="M155 153l19-3 18 1 10 2 6 3 3 3 0 3-1 3-5 3-10 3-18 1-20-1-11-3-3-3-1-3 2-3 3-3zM171 210l15 0 12 2 3 1 4 3 0 3-2 3-6 3-17 3-18-1-6-2-5-3-1-3 1-3 2-1 6-3z"/><path fill="#81c4e8" d="M157 153l17-2 18 1 7 1 7 3 3 3 1 3-2 3-5 3-14 3-27 0-14-3-4-3 0-3 1-3 4-3zM158 213l16-3 15 1 10 2 4 3 0 3-3 3-8 4-12 2-12-1-10-2-5-3-1-3 1-3z"/><path fill="#79bfe6" d="M159 153l15-2 18 1 13 4 3 3 0 3-1 3-6 3-19 3-23-1-9-2-4-3-1-3 2-3 4-3zM161 213l13-2 15 0 9 3 3 2 0 3-3 3-9 4-12 1-9 0-9-3-4-2-1-3 1-3z"/><path fill="#6eb8e4" d="M161 153l16-2 18 2 8 3 3 3 1 3-2 3-6 3-19 3-21-1-7-2-4-3-1-3 1-3 4-3zM163 213l14-2 12 1 5 1 4 3 1 3-3 3-8 3-11 1-9 0-9-3-3-4 1-3z"/><path fill="#61b1e2" d="M164 153l16-1 12 1 9 3 3 3 1 3-2 3-7 3-16 2-21-1-4-1-5-3-1-3 1-3 5-3zM168 213l12-1 10 1 6 3 0 3-4 4-12 2-10 0-9-3-3-3 2-3z"/><path fill="#54aadf" d="M169 153l11 0 12 1 6 2 4 3 1 3-3 3-5 3-15 2-18-1-10-4-1-3 2-3 6-4zM174 213l9 0 6 2 3 1 1 3-4 3-12 2-12-2-3-3 1-3z"/><path fill="#53a4dd" d="M160 156l14-3 12 1 10 2 4 3 1 3-3 3-8 3-13 1-12 0-9-3-3-4 2-3zM167 216l7-1 9 0 6 1 1 3-7 4-12 0-6-4z"/><path fill="#5ca0dc" d="M162 156l12-2 12 1 9 2 3 2 0 3-2 3-10 3-20 0-9-3-2-3 2-3zM173 216l10 0 2 3-8 2-8-2z"/><path fill="#669bdb" d="M165 156l12-1 9 0 9 4 1 3-4 4-12 2-12-1-8-2-3-3 2-3z"/><path fill="#6f97da" d="M169 156l8-1 9 1 7 3 1 3-4 3-10 2-9 0-8-2-3-3 1-3z"/><path fill="#7893d8" d="M164 159l7-2 9-1 10 3 1 3-5 3-15 1-5-1-4-3z"/><path fill="#8091d7" d="M167 159l7-1 6 0 7 1 1 3-6 3-11 0-6-3z"/><path fill="#898ed5" d="M172 159l10 0 3 3-8 2-8-2z"/></g></svg>
<rect x="404.7" y="28.6" width="118.7" height="118.1" fill="none" stroke="#5a5a5a" stroke-width="1"/>
<rect x="403.5" y="537.4" width="118.9" height="118.1" fill="none" stroke="#5a5a5a" stroke-width="1"/>
<rect x="747.3" y="30.2" width="117.5" height="118.1" fill="none" stroke="#5a5a5a" stroke-width="1"/>
<rect x="884.2" y="30.2" width="117.8" height="118.1" fill="none" stroke="#5a5a5a" stroke-width="1"/>
<rect x="1021.4" y="30.2" width="118.1" height="118.1" fill="none" stroke="#5a5a5a" stroke-width="1"/>
<rect x="1172.8" y="30.2" width="118.0" height="118.1" fill="none" stroke="#5a5a5a" stroke-width="1"/>
<rect x="1310.2" y="30.2" width="118.1" height="118.1" fill="none" stroke="#5a5a5a" stroke-width="1"/>
<rect x="1447.5" y="30.2" width="118.0" height="118.1" fill="none" stroke="#5a5a5a" stroke-width="1"/>
<rect x="1590.6" y="30.2" width="118.2" height="118.1" fill="none" stroke="#5a5a5a" stroke-width="1"/>
<rect x="1728.0" y="30.2" width="118.0" height="118.1" fill="none" stroke="#5a5a5a" stroke-width="1"/>
<rect x="1865.0" y="30.2" width="118.0" height="118.1" fill="none" stroke="#5a5a5a" stroke-width="1"/>
<rect x="746.8" y="539.4" width="118.0" height="118.1" fill="none" stroke="#5a5a5a" stroke-width="1"/>
<rect x="884.0" y="539.4" width="118.0" height="118.1" fill="none" stroke="#5a5a5a" stroke-width="1"/>
<rect x="1021.3" y="539.4" width="118.2" height="118.1" fill="none" stroke="#5a5a5a" stroke-width="1"/>
<rect x="1173.2" y="539.4" width="118.3" height="118.1" fill="none" stroke="#5a5a5a" stroke-width="1"/>
<rect x="1310.2" y="539.4" width="118.5" height="118.1" fill="none" stroke="#5a5a5a" stroke-width="1"/>
<rect x="1447.5" y="539.4" width="118.0" height="118.1" fill="none" stroke="#5a5a5a" stroke-width="1"/>
<rect x="1591.7" y="539.4" width="118.1" height="118.1" fill="none" stroke="#5a5a5a" stroke-width="1"/>
<rect x="1728.5" y="539.4" width="118.3" height="118.1" fill="none" stroke="#5a5a5a" stroke-width="1"/>
<rect x="1865.5" y="539.4" width="117.5" height="118.1" fill="none" stroke="#5a5a5a" stroke-width="1"/>
<text x="945" y="21.7" text-anchor="middle" font-weight="bold">squeezed vacuum</text>
<text x="1370.8" y="21.7" text-anchor="middle" font-weight="bold">single cat</text>
<text x="1787.6" y="21.7" text-anchor="middle" font-weight="bold">triangular cat</text>
<text x="0.5" y="22" font-weight="bold">(a)</text>
<rect x="766.3" y="151.6" width="80.3" height="14.4" fill="url(#cbar)" stroke="#2a2a2a" stroke-width="1.1"/>
<path d="M766.3 166.5v2.6M806.4 166.5v2.6M846.6 166.5v2.6" stroke="#999" stroke-width="1" fill="none"/>
<text x="0" y="0" font-size="28.5" transform="translate(742.0 193.7) scale(0.865 1)">−0.7</text>
<text x="0" y="0" font-size="28.5" text-anchor="middle" transform="translate(806.4 193.7) scale(0.865 1)">0</text>
<text x="0" y="0" font-size="28.5" text-anchor="end" transform="translate(863.6 193.7) scale(0.865 1)">0.7</text>
<clipPath id="cb"><rect x="764" y="272.3" width="363.5" height="181.39999999999998"/></clipPath>
<rect x="764" y="272.3" width="363.5" height="181.39999999999998" fill="#fff"/>
<g clip-path="url(#cb)"><path d="M659.9 312.9L685.3 312.9L710.8 312.9L736.3 312.9L761.8 315.6L787.2 315.6L812.7 314.9L838.2 314.2L863.7 314.9L889.2 319.6L914.6 328.4L940.1 339.1L965.6 351.2L991.1 365.4L1016.6 380.1L1042.1 394.9L1067.5 409.1L1093.0 422.5L1118.5 436.0L1144.0 447.4" stroke="#4db2ea" stroke-width="2.7" fill="none" stroke-linejoin="round"/><circle cx="659.9" cy="312.9" r="3.05" fill="#4db2ea"/><circle cx="685.3" cy="312.9" r="3.05" fill="#4db2ea"/><circle cx="710.8" cy="312.9" r="3.05" fill="#4db2ea"/><circle cx="736.3" cy="312.9" r="3.05" fill="#4db2ea"/><circle cx="761.8" cy="315.6" r="3.05" fill="#4db2ea"/><circle cx="787.2" cy="315.6" r="3.05" fill="#4db2ea"/><circle cx="812.7" cy="314.9" r="3.05" fill="#4db2ea"/><circle cx="838.2" cy="314.2" r="3.05" fill="#4db2ea"/><circle cx="863.7" cy="314.9" r="3.05" fill="#4db2ea"/><circle cx="889.2" cy="319.6" r="3.05" fill="#4db2ea"/><circle cx="914.6" cy="328.4" r="3.05" fill="#4db2ea"/><circle cx="940.1" cy="339.1" r="3.05" fill="#4db2ea"/><circle cx="965.6" cy="351.2" r="3.05" fill="#4db2ea"/><circle cx="991.1" cy="365.4" r="3.05" fill="#4db2ea"/><circle cx="1016.6" cy="380.1" r="3.05" fill="#4db2ea"/><circle cx="1042.1" cy="394.9" r="3.05" fill="#4db2ea"/><circle cx="1067.5" cy="409.1" r="3.05" fill="#4db2ea"/><circle cx="1093.0" cy="422.5" r="3.05" fill="#4db2ea"/><circle cx="1118.5" cy="436.0" r="3.05" fill="#4db2ea"/><circle cx="1144.0" cy="447.4" r="3.05" fill="#4db2ea"/><path d="M659.9 312.9L685.3 312.9L710.8 312.9L736.3 312.9L761.8 312.9L787.2 312.9L812.7 312.9L838.2 313.6L863.7 314.2L889.2 316.9L914.6 321.6L940.1 326.3L965.6 335.8L991.1 346.5L1016.6 354.6L1042.1 364.0L1067.5 376.1L1093.0 385.5L1118.5 397.6L1144.0 401.7" stroke="#a58ad6" stroke-width="2.7" fill="none" stroke-linejoin="round"/><rect x="656.6" y="309.6" width="6.6" height="6.6" fill="#a58ad6"/><rect x="682.0" y="309.6" width="6.6" height="6.6" fill="#a58ad6"/><rect x="707.5" y="309.6" width="6.6" height="6.6" fill="#a58ad6"/><rect x="733.0" y="309.6" width="6.6" height="6.6" fill="#a58ad6"/><rect x="758.5" y="309.6" width="6.6" height="6.6" fill="#a58ad6"/><rect x="784.0" y="309.6" width="6.6" height="6.6" fill="#a58ad6"/><rect x="809.4" y="309.6" width="6.6" height="6.6" fill="#a58ad6"/><rect x="834.9" y="310.3" width="6.6" height="6.6" fill="#a58ad6"/><rect x="860.4" y="310.9" width="6.6" height="6.6" fill="#a58ad6"/><rect x="885.9" y="313.6" width="6.6" height="6.6" fill="#a58ad6"/><rect x="911.4" y="318.3" width="6.6" height="6.6" fill="#a58ad6"/><rect x="936.8" y="323.0" width="6.6" height="6.6" fill="#a58ad6"/><rect x="962.3" y="332.5" width="6.6" height="6.6" fill="#a58ad6"/><rect x="987.8" y="343.2" width="6.6" height="6.6" fill="#a58ad6"/><rect x="1013.3" y="351.3" width="6.6" height="6.6" fill="#a58ad6"/><rect x="1038.8" y="360.7" width="6.6" height="6.6" fill="#a58ad6"/><rect x="1064.2" y="372.8" width="6.6" height="6.6" fill="#a58ad6"/><rect x="1089.7" y="382.2" width="6.6" height="6.6" fill="#a58ad6"/><rect x="1115.2" y="394.3" width="6.6" height="6.6" fill="#a58ad6"/><rect x="1140.7" y="398.4" width="6.6" height="6.6" fill="#a58ad6"/><path d="M659.9 312.9L685.3 312.9L710.8 312.9L736.3 312.9L761.8 312.9L787.2 312.9L812.7 312.9L838.2 312.9L863.7 313.6L889.2 315.6L914.6 319.6L940.1 325.0L965.6 332.4L991.1 340.5L1016.6 348.5L1042.1 357.3L1067.5 366.0L1093.0 373.4L1118.5 380.8L1144.0 388.2" stroke="#f4c56e" stroke-width="2.7" fill="none" stroke-linejoin="round"/><path d="M659.9 308.7l4.2 4.2l-4.2 4.2l-4.2 -4.2z" fill="#f4c56e"/><path d="M685.3 308.7l4.2 4.2l-4.2 4.2l-4.2 -4.2z" fill="#f4c56e"/><path d="M710.8 308.7l4.2 4.2l-4.2 4.2l-4.2 -4.2z" fill="#f4c56e"/><path d="M736.3 308.7l4.2 4.2l-4.2 4.2l-4.2 -4.2z" fill="#f4c56e"/><path d="M761.8 308.7l4.2 4.2l-4.2 4.2l-4.2 -4.2z" fill="#f4c56e"/><path d="M787.2 308.7l4.2 4.2l-4.2 4.2l-4.2 -4.2z" fill="#f4c56e"/><path d="M812.7 308.7l4.2 4.2l-4.2 4.2l-4.2 -4.2z" fill="#f4c56e"/><path d="M838.2 308.7l4.2 4.2l-4.2 4.2l-4.2 -4.2z" fill="#f4c56e"/><path d="M863.7 309.4l4.2 4.2l-4.2 4.2l-4.2 -4.2z" fill="#f4c56e"/><path d="M889.2 311.4l4.2 4.2l-4.2 4.2l-4.2 -4.2z" fill="#f4c56e"/><path d="M914.6 315.4l4.2 4.2l-4.2 4.2l-4.2 -4.2z" fill="#f4c56e"/><path d="M940.1 320.8l4.2 4.2l-4.2 4.2l-4.2 -4.2z" fill="#f4c56e"/><path d="M965.6 328.2l4.2 4.2l-4.2 4.2l-4.2 -4.2z" fill="#f4c56e"/><path d="M991.1 336.3l4.2 4.2l-4.2 4.2l-4.2 -4.2z" fill="#f4c56e"/><path d="M1016.6 344.3l4.2 4.2l-4.2 4.2l-4.2 -4.2z" fill="#f4c56e"/><path d="M1042.1 353.1l4.2 4.2l-4.2 4.2l-4.2 -4.2z" fill="#f4c56e"/><path d="M1067.5 361.8l4.2 4.2l-4.2 4.2l-4.2 -4.2z" fill="#f4c56e"/><path d="M1093.0 369.2l4.2 4.2l-4.2 4.2l-4.2 -4.2z" fill="#f4c56e"/><path d="M1118.5 376.6l4.2 4.2l-4.2 4.2l-4.2 -4.2z" fill="#f4c56e"/><path d="M1144.0 384.0l4.2 4.2l-4.2 4.2l-4.2 -4.2z" fill="#f4c56e"/><path d="M659.9 312.9L685.3 312.9L710.8 312.9L736.3 312.9L761.8 312.9L787.2 312.9L812.7 312.9L838.2 312.9L863.7 313.6L889.2 315.6L914.6 320.3L940.1 325.7L965.6 331.7L991.1 338.5L1016.6 346.5L1042.1 355.3L1067.5 365.4L1093.0 373.4L1118.5 382.8L1144.0 390.9" stroke="#e07a96" stroke-width="2.7" fill="none" stroke-linejoin="round"/><path d="M659.9 308.1l4.4 7.4h-8.8z" fill="#e07a96"/><path d="M685.3 308.1l4.4 7.4h-8.8z" fill="#e07a96"/><path d="M710.8 308.1l4.4 7.4h-8.8z" fill="#e07a96"/><path d="M736.3 308.1l4.4 7.4h-8.8z" fill="#e07a96"/><path d="M761.8 308.1l4.4 7.4h-8.8z" fill="#e07a96"/><path d="M787.2 308.1l4.4 7.4h-8.8z" fill="#e07a96"/><path d="M812.7 308.1l4.4 7.4h-8.8z" fill="#e07a96"/><path d="M838.2 308.1l4.4 7.4h-8.8z" fill="#e07a96"/><path d="M863.7 308.8l4.4 7.4h-8.8z" fill="#e07a96"/><path d="M889.2 310.8l4.4 7.4h-8.8z" fill="#e07a96"/><path d="M914.6 315.5l4.4 7.4h-8.8z" fill="#e07a96"/><path d="M940.1 320.9l4.4 7.4h-8.8z" fill="#e07a96"/><path d="M965.6 326.9l4.4 7.4h-8.8z" fill="#e07a96"/><path d="M991.1 333.7l4.4 7.4h-8.8z" fill="#e07a96"/><path d="M1016.6 341.7l4.4 7.4h-8.8z" fill="#e07a96"/><path d="M1042.1 350.5l4.4 7.4h-8.8z" fill="#e07a96"/><path d="M1067.5 360.6l4.4 7.4h-8.8z" fill="#e07a96"/><path d="M1093.0 368.6l4.4 7.4h-8.8z" fill="#e07a96"/><path d="M1118.5 378.0l4.4 7.4h-8.8z" fill="#e07a96"/><path d="M1144.0 386.1l4.4 7.4h-8.8z" fill="#e07a96"/><path d="M756.7 312.9L763.1 312.9L769.5 312.9L775.8 312.9L782.2 312.9L788.6 312.9L795.0 313.0L801.4 313.0L807.8 313.0L814.2 313.0L820.6 313.0L826.9 313.1L833.3 313.1L839.7 313.2L846.1 313.2L852.5 313.3L858.9 313.4L865.3 313.6L871.7 313.7L878.1 313.9L884.4 314.1L890.8 314.3L897.2 314.5L903.6 314.9L910.0 315.2L916.4 315.6L922.8 316.1L929.2 316.5L935.6 317.0L941.9 317.5L948.3 318.1L954.7 318.7L961.1 319.4L967.5 320.2L973.9 321.1L980.3 322.2L986.7 323.5L993.0 325.0L999.4 326.6L1005.8 328.3L1012.2 330.0L1018.6 331.9L1025.0 333.9L1031.4 336.1L1037.8 338.5L1044.2 341.1L1050.5 343.7L1056.9 346.4L1063.3 349.2L1069.7 352.0L1076.1 354.9L1082.5 357.9L1088.9 361.1L1095.3 364.4L1101.7 367.9L1108.0 371.6L1114.4 375.5L1120.8 379.3L1127.2 383.1L1133.6 386.8" stroke="#000" stroke-width="1.7" fill="none"/></g>
<path d="M971 276.8V453.7" stroke="#000" stroke-width="2.9" stroke-dasharray="8 4.6" fill="none"/>
<path d="M832.8 453.7v-5.5M832.8 272.3v5.5M936.5 453.7v-5.5M936.5 272.3v5.5M1040.2 453.7v-5.5M1040.2 272.3v5.5M780.9 453.7v-3.2M780.9 272.3v3.2M806.8 453.7v-3.2M806.8 272.3v3.2M832.8 453.7v-3.2M832.8 272.3v3.2M858.7 453.7v-3.2M858.7 272.3v3.2M884.6 453.7v-3.2M884.6 272.3v3.2M910.6 453.7v-3.2M910.6 272.3v3.2M936.5 453.7v-3.2M936.5 272.3v3.2M962.4 453.7v-3.2M962.4 272.3v3.2M988.4 453.7v-3.2M988.4 272.3v3.2M1014.3 453.7v-3.2M1014.3 272.3v3.2M1040.2 453.7v-3.2M1040.2 272.3v3.2M1066.2 453.7v-3.2M1066.2 272.3v3.2M1092.1 453.7v-3.2M1092.1 272.3v3.2M1118.0 453.7v-3.2M1118.0 272.3v3.2M764 447.4h5.5M1127.5 447.4h-5.5M764 380.1h5.5M1127.5 380.1h-5.5M764 312.9h5.5M1127.5 312.9h-5.5M764 430.6h3.2M1127.5 430.6h-3.2M764 413.8h3.2M1127.5 413.8h-3.2M764 397.0h3.2M1127.5 397.0h-3.2M764 363.3h3.2M1127.5 363.3h-3.2M764 346.5h3.2M1127.5 346.5h-3.2M764 329.7h3.2M1127.5 329.7h-3.2M764 296.1h3.2M1127.5 296.1h-3.2M764 279.3h3.2M1127.5 279.3h-3.2" stroke="#1a1a1a" stroke-width="1.1" fill="none"/>
<rect x="764" y="272.3" width="363.5" height="181.39999999999998" fill="none" stroke="#1a1a1a" stroke-width="1.5"/>
<text x="0" y="0" font-size="28.5" text-anchor="middle" transform="translate(832.8 480.0) scale(0.865 1)">0.6</text>
<text x="0" y="0" font-size="28.5" text-anchor="middle" transform="translate(936.5 480.0) scale(0.865 1)">0.9</text>
<text x="0" y="0" font-size="28.5" text-anchor="middle" transform="translate(1040.2 480.0) scale(0.865 1)">1.2</text>
<circle cx="813.9" cy="312.9" r="6" fill="#000"/>
<circle cx="889.1" cy="313.9" r="6" fill="#000"/>
<circle cx="1067.5" cy="364.0" r="6" fill="#000"/>
<text x="0" y="0" font-size="28.5" text-anchor="end" transform="translate(758 321.3) scale(0.865 1)">1.00</text>
<text x="0" y="0" font-size="28.5" text-anchor="end" transform="translate(758 388.5) scale(0.865 1)">0.90</text>
<text x="0" y="0" font-size="28.5" text-anchor="end" transform="translate(758 455.8) scale(0.865 1)">0.80</text>
<text x="776" y="304.6" font-weight="bold">(b)</text>
<text transform="translate(697.5 364.5) rotate(-90)" font-size="25.5" text-anchor="middle">fidelity</text>
<text transform="translate(959.5 413) rotate(-90)" font-size="27" text-anchor="middle"><tspan font-style="italic">β</tspan><tspan font-size="19" dy="5">0</tspan></text>
<text transform="translate(1074.5 318.5) rotate(25)" font-size="27" text-anchor="middle">target</text>
<text transform="translate(1063.5 342) rotate(25)" font-size="27" text-anchor="middle">fildelity</text>
<text x="944.5" y="518" font-size="26" text-anchor="middle" font-style="italic">r</text>
<path d="M801 358.0h16.5" stroke="#4db2ea" stroke-width="2.2"/>
<circle cx="809.2" cy="358.0" r="6.3" fill="#4db2ea"/>
<text x="0" y="0" font-size="26" transform="translate(824.3 366.8) scale(0.89 1)"><tspan font-style="italic">M</tspan>=1</text>
<path d="M801 381.1h16.5" stroke="#a58ad6" stroke-width="2.2"/>
<rect x="803.6" y="375.5" width="11.2" height="11.2" fill="#a58ad6"/>
<text x="0" y="0" font-size="26" transform="translate(824.3 389.9) scale(0.89 1)"><tspan font-style="italic">M</tspan>=2</text>
<path d="M801 404.2h16.5" stroke="#f4c56e" stroke-width="2.2"/>
<path d="M809.2 397.7l6.5 6.5l-6.5 6.5l-6.5 -6.5z" fill="#f4c56e"/>
<text x="0" y="0" font-size="26" transform="translate(824.3 413.0) scale(0.89 1)"><tspan font-style="italic">M</tspan>=4</text>
<path d="M801 427.3h16.5" stroke="#e07a96" stroke-width="2.2"/>
<path d="M809.2 420.3l7 11.5h-14z" fill="#e07a96"/>
<text x="0" y="0" font-size="26" transform="translate(824.3 436.1) scale(0.89 1)"><tspan font-style="italic">M</tspan>=6</text>
<clipPath id="cc"><rect x="1185.8" y="272.3" width="365.20000000000005" height="181.39999999999998"/></clipPath>
<rect x="1185.8" y="272.3" width="365.20000000000005" height="181.39999999999998" fill="#fff"/>
<g clip-path="url(#cc)"><path d="M1187.5 349.2L1206.6 348.5L1225.8 347.2L1245.0 325.7L1264.1 341.8L1283.3 347.2L1302.4 333.7L1321.6 324.3L1340.8 317.6L1359.9 313.6L1379.1 312.9L1398.2 316.9L1417.4 323.7L1436.5 334.4L1455.7 349.2L1474.9 366.7L1494.0 386.9L1513.2 409.1L1532.3 415.1L1551.5 454.1" stroke="#4db2ea" stroke-width="2.7" fill="none" stroke-linejoin="round"/><circle cx="1187.5" cy="349.2" r="3.05" fill="#4db2ea"/><circle cx="1206.6" cy="348.5" r="3.05" fill="#4db2ea"/><circle cx="1225.8" cy="347.2" r="3.05" fill="#4db2ea"/><circle cx="1245.0" cy="325.7" r="3.05" fill="#4db2ea"/><circle cx="1264.1" cy="341.8" r="3.05" fill="#4db2ea"/><circle cx="1283.3" cy="347.2" r="3.05" fill="#4db2ea"/><circle cx="1302.4" cy="333.7" r="3.05" fill="#4db2ea"/><circle cx="1321.6" cy="324.3" r="3.05" fill="#4db2ea"/><circle cx="1340.8" cy="317.6" r="3.05" fill="#4db2ea"/><circle cx="1359.9" cy="313.6" r="3.05" fill="#4db2ea"/><circle cx="1379.1" cy="312.9" r="3.05" fill="#4db2ea"/><circle cx="1398.2" cy="316.9" r="3.05" fill="#4db2ea"/><circle cx="1417.4" cy="323.7" r="3.05" fill="#4db2ea"/><circle cx="1436.5" cy="334.4" r="3.05" fill="#4db2ea"/><circle cx="1455.7" cy="349.2" r="3.05" fill="#4db2ea"/><circle cx="1474.9" cy="366.7" r="3.05" fill="#4db2ea"/><circle cx="1494.0" cy="386.9" r="3.05" fill="#4db2ea"/><circle cx="1513.2" cy="409.1" r="3.05" fill="#4db2ea"/><circle cx="1532.3" cy="415.1" r="3.05" fill="#4db2ea"/><circle cx="1551.5" cy="454.1" r="3.05" fill="#4db2ea"/><path d="M1187.5 321.0L1206.6 323.0L1225.8 325.0L1245.0 329.0L1264.1 327.7L1283.3 326.3L1302.4 322.3L1321.6 318.3L1340.8 314.9L1359.9 312.9L1379.1 312.9L1398.2 315.6L1417.4 320.3L1436.5 327.7L1455.7 335.8L1474.9 345.9L1494.0 360.6L1513.2 368.7L1532.3 388.2L1551.5 387.5" stroke="#a58ad6" stroke-width="2.7" fill="none" stroke-linejoin="round"/><rect x="1184.2" y="317.7" width="6.6" height="6.6" fill="#a58ad6"/><rect x="1203.3" y="319.7" width="6.6" height="6.6" fill="#a58ad6"/><rect x="1222.5" y="321.7" width="6.6" height="6.6" fill="#a58ad6"/><rect x="1241.7" y="325.7" width="6.6" height="6.6" fill="#a58ad6"/><rect x="1260.8" y="324.4" width="6.6" height="6.6" fill="#a58ad6"/><rect x="1280.0" y="323.0" width="6.6" height="6.6" fill="#a58ad6"/><rect x="1299.1" y="319.0" width="6.6" height="6.6" fill="#a58ad6"/><rect x="1318.3" y="315.0" width="6.6" height="6.6" fill="#a58ad6"/><rect x="1337.5" y="311.6" width="6.6" height="6.6" fill="#a58ad6"/><rect x="1356.6" y="309.6" width="6.6" height="6.6" fill="#a58ad6"/><rect x="1375.8" y="309.6" width="6.6" height="6.6" fill="#a58ad6"/><rect x="1394.9" y="312.3" width="6.6" height="6.6" fill="#a58ad6"/><rect x="1414.1" y="317.0" width="6.6" height="6.6" fill="#a58ad6"/><rect x="1433.2" y="324.4" width="6.6" height="6.6" fill="#a58ad6"/><rect x="1452.4" y="332.5" width="6.6" height="6.6" fill="#a58ad6"/><rect x="1471.6" y="342.6" width="6.6" height="6.6" fill="#a58ad6"/><rect x="1490.7" y="357.3" width="6.6" height="6.6" fill="#a58ad6"/><rect x="1509.9" y="365.4" width="6.6" height="6.6" fill="#a58ad6"/><rect x="1529.0" y="384.9" width="6.6" height="6.6" fill="#a58ad6"/><rect x="1548.2" y="384.2" width="6.6" height="6.6" fill="#a58ad6"/><path d="M1187.5 312.9L1206.6 313.6L1225.8 314.2L1245.0 315.6L1264.1 318.3L1283.3 322.3L1302.4 319.6L1321.6 316.9L1340.8 314.2L1359.9 312.9L1379.1 312.9L1398.2 314.9L1417.4 319.0L1436.5 324.3L1455.7 332.4L1474.9 341.8L1494.0 351.9L1513.2 359.3L1532.3 362.0L1551.5 358.6" stroke="#f4c56e" stroke-width="2.7" fill="none" stroke-linejoin="round"/><path d="M1187.5 308.7l4.2 4.2l-4.2 4.2l-4.2 -4.2z" fill="#f4c56e"/><path d="M1206.6 309.4l4.2 4.2l-4.2 4.2l-4.2 -4.2z" fill="#f4c56e"/><path d="M1225.8 310.0l4.2 4.2l-4.2 4.2l-4.2 -4.2z" fill="#f4c56e"/><path d="M1245.0 311.4l4.2 4.2l-4.2 4.2l-4.2 -4.2z" fill="#f4c56e"/><path d="M1264.1 314.1l4.2 4.2l-4.2 4.2l-4.2 -4.2z" fill="#f4c56e"/><path d="M1283.3 318.1l4.2 4.2l-4.2 4.2l-4.2 -4.2z" fill="#f4c56e"/><path d="M1302.4 315.4l4.2 4.2l-4.2 4.2l-4.2 -4.2z" fill="#f4c56e"/><path d="M1321.6 312.7l4.2 4.2l-4.2 4.2l-4.2 -4.2z" fill="#f4c56e"/><path d="M1340.8 310.0l4.2 4.2l-4.2 4.2l-4.2 -4.2z" fill="#f4c56e"/><path d="M1359.9 308.7l4.2 4.2l-4.2 4.2l-4.2 -4.2z" fill="#f4c56e"/><path d="M1379.1 308.7l4.2 4.2l-4.2 4.2l-4.2 -4.2z" fill="#f4c56e"/><path d="M1398.2 310.7l4.2 4.2l-4.2 4.2l-4.2 -4.2z" fill="#f4c56e"/><path d="M1417.4 314.8l4.2 4.2l-4.2 4.2l-4.2 -4.2z" fill="#f4c56e"/><path d="M1436.5 320.1l4.2 4.2l-4.2 4.2l-4.2 -4.2z" fill="#f4c56e"/><path d="M1455.7 328.2l4.2 4.2l-4.2 4.2l-4.2 -4.2z" fill="#f4c56e"/><path d="M1474.9 337.6l4.2 4.2l-4.2 4.2l-4.2 -4.2z" fill="#f4c56e"/><path d="M1494.0 347.7l4.2 4.2l-4.2 4.2l-4.2 -4.2z" fill="#f4c56e"/><path d="M1513.2 355.1l4.2 4.2l-4.2 4.2l-4.2 -4.2z" fill="#f4c56e"/><path d="M1532.3 357.8l4.2 4.2l-4.2 4.2l-4.2 -4.2z" fill="#f4c56e"/><path d="M1551.5 354.4l4.2 4.2l-4.2 4.2l-4.2 -4.2z" fill="#f4c56e"/><path d="M1187.5 312.9L1206.6 312.9L1225.8 313.6L1245.0 314.9L1264.1 317.6L1283.3 321.0L1302.4 318.3L1321.6 315.6L1340.8 314.2L1359.9 312.9L1379.1 312.9L1398.2 314.9L1417.4 318.3L1436.5 323.7L1455.7 331.1L1474.9 341.1L1494.0 351.9L1513.2 344.5L1532.3 346.5L1551.5 352.6" stroke="#e07a96" stroke-width="2.7" fill="none" stroke-linejoin="round"/><path d="M1187.5 308.1l4.4 7.4h-8.8z" fill="#e07a96"/><path d="M1206.6 308.1l4.4 7.4h-8.8z" fill="#e07a96"/><path d="M1225.8 308.8l4.4 7.4h-8.8z" fill="#e07a96"/><path d="M1245.0 310.1l4.4 7.4h-8.8z" fill="#e07a96"/><path d="M1264.1 312.8l4.4 7.4h-8.8z" fill="#e07a96"/><path d="M1283.3 316.2l4.4 7.4h-8.8z" fill="#e07a96"/><path d="M1302.4 313.5l4.4 7.4h-8.8z" fill="#e07a96"/><path d="M1321.6 310.8l4.4 7.4h-8.8z" fill="#e07a96"/><path d="M1340.8 309.4l4.4 7.4h-8.8z" fill="#e07a96"/><path d="M1359.9 308.1l4.4 7.4h-8.8z" fill="#e07a96"/><path d="M1379.1 308.1l4.4 7.4h-8.8z" fill="#e07a96"/><path d="M1398.2 310.1l4.4 7.4h-8.8z" fill="#e07a96"/><path d="M1417.4 313.5l4.4 7.4h-8.8z" fill="#e07a96"/><path d="M1436.5 318.9l4.4 7.4h-8.8z" fill="#e07a96"/><path d="M1455.7 326.3l4.4 7.4h-8.8z" fill="#e07a96"/><path d="M1474.9 336.3l4.4 7.4h-8.8z" fill="#e07a96"/><path d="M1494.0 347.1l4.4 7.4h-8.8z" fill="#e07a96"/><path d="M1513.2 339.7l4.4 7.4h-8.8z" fill="#e07a96"/><path d="M1532.3 341.7l4.4 7.4h-8.8z" fill="#e07a96"/><path d="M1551.5 347.8l4.4 7.4h-8.8z" fill="#e07a96"/><path d="M1184.0 312.9L1367.8 312.9L1441.2 313.1L1496.4 313.6L1551.5 314.2" stroke="#000" stroke-width="1.7" fill="none"/></g>
<path d="M1367.8 276.8V453.7" stroke="#000" stroke-width="2.8" stroke-dasharray="5.3 4.2" fill="none"/>
<path d="M1220.8 453.7v-5.5M1220.8 272.3v5.5M1331.0 453.7v-5.5M1331.0 272.3v5.5M1441.2 453.7v-5.5M1441.2 272.3v5.5M1551.5 453.7v-5.5M1551.5 272.3v5.5M1193.2 453.7v-3.2M1193.2 272.3v3.2M1220.8 453.7v-3.2M1220.8 272.3v3.2M1248.3 453.7v-3.2M1248.3 272.3v3.2M1275.9 453.7v-3.2M1275.9 272.3v3.2M1303.4 453.7v-3.2M1303.4 272.3v3.2M1331.0 453.7v-3.2M1331.0 272.3v3.2M1358.6 453.7v-3.2M1358.6 272.3v3.2M1386.1 453.7v-3.2M1386.1 272.3v3.2M1413.7 453.7v-3.2M1413.7 272.3v3.2M1441.2 453.7v-3.2M1441.2 272.3v3.2M1468.8 453.7v-3.2M1468.8 272.3v3.2M1496.4 453.7v-3.2M1496.4 272.3v3.2M1523.9 453.7v-3.2M1523.9 272.3v3.2M1551.5 453.7v-3.2M1551.5 272.3v3.2M1185.8 447.4h5.5M1551 447.4h-5.5M1185.8 380.1h5.5M1551 380.1h-5.5M1185.8 312.9h5.5M1551 312.9h-5.5M1185.8 430.6h3.2M1551 430.6h-3.2M1185.8 413.8h3.2M1551 413.8h-3.2M1185.8 397.0h3.2M1551 397.0h-3.2M1185.8 363.3h3.2M1551 363.3h-3.2M1185.8 346.5h3.2M1551 346.5h-3.2M1185.8 329.7h3.2M1551 329.7h-3.2M1185.8 296.1h3.2M1551 296.1h-3.2M1185.8 279.3h3.2M1551 279.3h-3.2" stroke="#1a1a1a" stroke-width="1.1" fill="none"/>
<rect x="1185.8" y="272.3" width="365.20000000000005" height="181.39999999999998" fill="none" stroke="#1a1a1a" stroke-width="1.5"/>
<text x="0" y="0" font-size="28.5" text-anchor="middle" transform="translate(1220.8 482.6) scale(0.865 1)">1.1</text>
<text x="0" y="0" font-size="28.5" text-anchor="middle" transform="translate(1331.0 482.6) scale(0.865 1)">1.4</text>
<text x="0" y="0" font-size="28.5" text-anchor="middle" transform="translate(1441.2 482.6) scale(0.865 1)">1.7</text>
<text x="0" y="0" font-size="28.5" text-anchor="middle" transform="translate(1551.5 482.6) scale(0.865 1)">2.0</text>
<circle cx="1188.0" cy="312.9" r="6" fill="#000"/>
<circle cx="1357.8" cy="312.9" r="6" fill="#000"/>
<circle cx="1549.7" cy="352.6" r="6" fill="#000"/>
<text x="1192" y="299" font-weight="bold">(c)</text>
<text x="1381" y="301.7" font-size="27">target fildelity</text>
<text x="1202.5" y="434.3" font-size="27"><tspan font-style="italic">n</tspan><tspan font-size="18.5" dy="5.5">max</tspan><tspan dy="-5.5">=10</tspan></text>
<text transform="translate(1356 412.5) rotate(-90)" font-size="27" text-anchor="middle"><tspan font-style="italic">β</tspan><tspan font-size="19" dy="5">0</tspan></text>
<text x="1368" y="521.5" font-size="27" text-anchor="middle">|<tspan font-style="italic">α</tspan>|</text>
<clipPath id="cd"><rect x="1599.8" y="272.3" width="362.5" height="180.89999999999998"/></clipPath>
<rect x="1599.8" y="272.3" width="362.5" height="180.89999999999998" fill="#fff"/>
<g clip-path="url(#cd)"><path d="M1599.5 314.9L1618.6 316.9L1637.7 321.6L1656.8 330.5L1675.9 344.4L1695.0 365.9L1714.1 397.0L1733.2 438.0L1752.2 494.5L1771.3 568.5L1790.4 649.1L1809.5 716.4L1828.6 783.6L1847.7 850.9L1866.8 918.1L1885.9 918.1L1905.0 918.1L1924.1 918.1L1943.2 918.1L1962.3 918.1" stroke="#4db2ea" stroke-width="2.7" fill="none" stroke-linejoin="round"/><circle cx="1599.5" cy="314.9" r="3.05" fill="#4db2ea"/><circle cx="1618.6" cy="316.9" r="3.05" fill="#4db2ea"/><circle cx="1637.7" cy="321.6" r="3.05" fill="#4db2ea"/><circle cx="1656.8" cy="330.5" r="3.05" fill="#4db2ea"/><circle cx="1675.9" cy="344.4" r="3.05" fill="#4db2ea"/><circle cx="1695.0" cy="365.9" r="3.05" fill="#4db2ea"/><circle cx="1714.1" cy="397.0" r="3.05" fill="#4db2ea"/><circle cx="1733.2" cy="438.0" r="3.05" fill="#4db2ea"/><circle cx="1752.2" cy="494.5" r="3.05" fill="#4db2ea"/><circle cx="1771.3" cy="568.5" r="3.05" fill="#4db2ea"/><circle cx="1790.4" cy="649.1" r="3.05" fill="#4db2ea"/><circle cx="1809.5" cy="716.4" r="3.05" fill="#4db2ea"/><circle cx="1828.6" cy="783.6" r="3.05" fill="#4db2ea"/><circle cx="1847.7" cy="850.9" r="3.05" fill="#4db2ea"/><circle cx="1866.8" cy="918.1" r="3.05" fill="#4db2ea"/><circle cx="1885.9" cy="918.1" r="3.05" fill="#4db2ea"/><circle cx="1905.0" cy="918.1" r="3.05" fill="#4db2ea"/><circle cx="1924.1" cy="918.1" r="3.05" fill="#4db2ea"/><circle cx="1943.2" cy="918.1" r="3.05" fill="#4db2ea"/><circle cx="1962.3" cy="918.1" r="3.05" fill="#4db2ea"/><path d="M1599.5 314.9L1618.6 317.2L1637.7 321.4L1656.8 321.8L1675.9 320.1L1695.0 323.5L1714.1 329.6L1733.2 340.7L1752.2 356.3L1771.3 344.9L1790.4 342.5L1809.5 344.5L1828.6 335.1L1847.7 327.0L1866.8 328.7L1885.9 341.1L1905.0 349.2L1924.1 381.6L1943.2 397.0L1962.3 410.1" stroke="#a58ad6" stroke-width="2.7" fill="none" stroke-linejoin="round"/><rect x="1596.2" y="311.6" width="6.6" height="6.6" fill="#a58ad6"/><rect x="1615.3" y="313.9" width="6.6" height="6.6" fill="#a58ad6"/><rect x="1634.4" y="318.1" width="6.6" height="6.6" fill="#a58ad6"/><rect x="1653.5" y="318.5" width="6.6" height="6.6" fill="#a58ad6"/><rect x="1672.6" y="316.8" width="6.6" height="6.6" fill="#a58ad6"/><rect x="1691.7" y="320.2" width="6.6" height="6.6" fill="#a58ad6"/><rect x="1710.8" y="326.3" width="6.6" height="6.6" fill="#a58ad6"/><rect x="1729.9" y="337.4" width="6.6" height="6.6" fill="#a58ad6"/><rect x="1748.9" y="353.0" width="6.6" height="6.6" fill="#a58ad6"/><rect x="1768.0" y="341.6" width="6.6" height="6.6" fill="#a58ad6"/><rect x="1787.1" y="339.2" width="6.6" height="6.6" fill="#a58ad6"/><rect x="1806.2" y="341.2" width="6.6" height="6.6" fill="#a58ad6"/><rect x="1825.3" y="331.8" width="6.6" height="6.6" fill="#a58ad6"/><rect x="1844.4" y="323.7" width="6.6" height="6.6" fill="#a58ad6"/><rect x="1863.5" y="325.4" width="6.6" height="6.6" fill="#a58ad6"/><rect x="1882.6" y="337.8" width="6.6" height="6.6" fill="#a58ad6"/><rect x="1901.7" y="345.9" width="6.6" height="6.6" fill="#a58ad6"/><rect x="1920.8" y="378.3" width="6.6" height="6.6" fill="#a58ad6"/><rect x="1939.9" y="393.7" width="6.6" height="6.6" fill="#a58ad6"/><rect x="1959.0" y="406.8" width="6.6" height="6.6" fill="#a58ad6"/><path d="M1599.5 312.9L1618.6 312.9L1637.7 312.9L1656.8 312.9L1675.9 312.9L1695.0 312.9L1714.1 312.9L1733.2 312.9L1752.2 314.2L1771.3 320.3L1790.4 325.0L1809.5 322.3L1828.6 316.3L1847.7 312.9L1866.8 318.6L1885.9 331.9L1905.0 352.9L1924.1 354.6L1943.2 356.5L1962.3 361.3" stroke="#f4c56e" stroke-width="2.7" fill="none" stroke-linejoin="round"/><path d="M1599.5 308.7l4.2 4.2l-4.2 4.2l-4.2 -4.2z" fill="#f4c56e"/><path d="M1618.6 308.7l4.2 4.2l-4.2 4.2l-4.2 -4.2z" fill="#f4c56e"/><path d="M1637.7 308.7l4.2 4.2l-4.2 4.2l-4.2 -4.2z" fill="#f4c56e"/><path d="M1656.8 308.7l4.2 4.2l-4.2 4.2l-4.2 -4.2z" fill="#f4c56e"/><path d="M1675.9 308.7l4.2 4.2l-4.2 4.2l-4.2 -4.2z" fill="#f4c56e"/><path d="M1695.0 308.7l4.2 4.2l-4.2 4.2l-4.2 -4.2z" fill="#f4c56e"/><path d="M1714.1 308.7l4.2 4.2l-4.2 4.2l-4.2 -4.2z" fill="#f4c56e"/><path d="M1733.2 308.7l4.2 4.2l-4.2 4.2l-4.2 -4.2z" fill="#f4c56e"/><path d="M1752.2 310.0l4.2 4.2l-4.2 4.2l-4.2 -4.2z" fill="#f4c56e"/><path d="M1771.3 316.1l4.2 4.2l-4.2 4.2l-4.2 -4.2z" fill="#f4c56e"/><path d="M1790.4 320.8l4.2 4.2l-4.2 4.2l-4.2 -4.2z" fill="#f4c56e"/><path d="M1809.5 318.1l4.2 4.2l-4.2 4.2l-4.2 -4.2z" fill="#f4c56e"/><path d="M1828.6 312.1l4.2 4.2l-4.2 4.2l-4.2 -4.2z" fill="#f4c56e"/><path d="M1847.7 308.7l4.2 4.2l-4.2 4.2l-4.2 -4.2z" fill="#f4c56e"/><path d="M1866.8 314.4l4.2 4.2l-4.2 4.2l-4.2 -4.2z" fill="#f4c56e"/><path d="M1885.9 327.7l4.2 4.2l-4.2 4.2l-4.2 -4.2z" fill="#f4c56e"/><path d="M1905.0 348.7l4.2 4.2l-4.2 4.2l-4.2 -4.2z" fill="#f4c56e"/><path d="M1924.1 350.4l4.2 4.2l-4.2 4.2l-4.2 -4.2z" fill="#f4c56e"/><path d="M1943.2 352.3l4.2 4.2l-4.2 4.2l-4.2 -4.2z" fill="#f4c56e"/><path d="M1962.3 357.1l4.2 4.2l-4.2 4.2l-4.2 -4.2z" fill="#f4c56e"/><path d="M1599.5 312.9L1618.6 312.9L1637.7 312.9L1656.8 312.9L1675.9 312.9L1695.0 312.9L1714.1 312.9L1733.2 312.9L1752.2 313.6L1771.3 319.6L1790.4 327.9L1809.5 320.3L1828.6 315.6L1847.7 312.9L1866.8 318.6L1885.9 331.9L1905.0 348.9L1924.1 341.1L1943.2 340.2L1962.3 336.4" stroke="#e07a96" stroke-width="2.7" fill="none" stroke-linejoin="round"/><path d="M1599.5 308.1l4.4 7.4h-8.8z" fill="#e07a96"/><path d="M1618.6 308.1l4.4 7.4h-8.8z" fill="#e07a96"/><path d="M1637.7 308.1l4.4 7.4h-8.8z" fill="#e07a96"/><path d="M1656.8 308.1l4.4 7.4h-8.8z" fill="#e07a96"/><path d="M1675.9 308.1l4.4 7.4h-8.8z" fill="#e07a96"/><path d="M1695.0 308.1l4.4 7.4h-8.8z" fill="#e07a96"/><path d="M1714.1 308.1l4.4 7.4h-8.8z" fill="#e07a96"/><path d="M1733.2 308.1l4.4 7.4h-8.8z" fill="#e07a96"/><path d="M1752.2 308.8l4.4 7.4h-8.8z" fill="#e07a96"/><path d="M1771.3 314.8l4.4 7.4h-8.8z" fill="#e07a96"/><path d="M1790.4 323.1l4.4 7.4h-8.8z" fill="#e07a96"/><path d="M1809.5 315.5l4.4 7.4h-8.8z" fill="#e07a96"/><path d="M1828.6 310.8l4.4 7.4h-8.8z" fill="#e07a96"/><path d="M1847.7 308.1l4.4 7.4h-8.8z" fill="#e07a96"/><path d="M1866.8 313.8l4.4 7.4h-8.8z" fill="#e07a96"/><path d="M1885.9 327.1l4.4 7.4h-8.8z" fill="#e07a96"/><path d="M1905.0 344.1l4.4 7.4h-8.8z" fill="#e07a96"/><path d="M1924.1 336.3l4.4 7.4h-8.8z" fill="#e07a96"/><path d="M1943.2 335.4l4.4 7.4h-8.8z" fill="#e07a96"/><path d="M1962.3 331.6l4.4 7.4h-8.8z" fill="#e07a96"/><path d="M1599.5 312.9L1841.3 312.9L1889.7 313.0L1926.0 313.1L1962.3 313.4" stroke="#000" stroke-width="1.7" fill="none"/></g>
<path d="M1841.3 276.8V453.2" stroke="#000" stroke-width="2.8" stroke-dasharray="5.3 4.2" fill="none"/>
<path d="M1599.5 453.2v-5.5M1599.5 272.3v5.5M1672.1 453.2v-5.5M1672.1 272.3v5.5M1744.6 453.2v-5.5M1744.6 272.3v5.5M1817.2 453.2v-5.5M1817.2 272.3v5.5M1889.7 453.2v-5.5M1889.7 272.3v5.5M1962.3 453.2v-5.5M1962.3 272.3v5.5M1599.5 453.2v-3.2M1599.5 272.3v3.2M1617.6 453.2v-3.2M1617.6 272.3v3.2M1635.8 453.2v-3.2M1635.8 272.3v3.2M1653.9 453.2v-3.2M1653.9 272.3v3.2M1672.1 453.2v-3.2M1672.1 272.3v3.2M1690.2 453.2v-3.2M1690.2 272.3v3.2M1708.3 453.2v-3.2M1708.3 272.3v3.2M1726.5 453.2v-3.2M1726.5 272.3v3.2M1744.6 453.2v-3.2M1744.6 272.3v3.2M1762.7 453.2v-3.2M1762.7 272.3v3.2M1780.9 453.2v-3.2M1780.9 272.3v3.2M1799.0 453.2v-3.2M1799.0 272.3v3.2M1817.2 453.2v-3.2M1817.2 272.3v3.2M1835.3 453.2v-3.2M1835.3 272.3v3.2M1853.4 453.2v-3.2M1853.4 272.3v3.2M1871.6 453.2v-3.2M1871.6 272.3v3.2M1889.7 453.2v-3.2M1889.7 272.3v3.2M1907.9 453.2v-3.2M1907.9 272.3v3.2M1926.0 453.2v-3.2M1926.0 272.3v3.2M1944.1 453.2v-3.2M1944.1 272.3v3.2M1962.3 453.2v-3.2M1962.3 272.3v3.2M1599.8 447.4h5.5M1962.3 447.4h-5.5M1599.8 380.1h5.5M1962.3 380.1h-5.5M1599.8 312.9h5.5M1962.3 312.9h-5.5M1599.8 430.6h3.2M1962.3 430.6h-3.2M1599.8 413.8h3.2M1962.3 413.8h-3.2M1599.8 397.0h3.2M1962.3 397.0h-3.2M1599.8 363.3h3.2M1962.3 363.3h-3.2M1599.8 346.5h3.2M1962.3 346.5h-3.2M1599.8 329.7h3.2M1962.3 329.7h-3.2M1599.8 296.1h3.2M1962.3 296.1h-3.2M1599.8 279.3h3.2M1962.3 279.3h-3.2" stroke="#1a1a1a" stroke-width="1.1" fill="none"/>
<rect x="1599.8" y="272.3" width="362.5" height="180.89999999999998" fill="none" stroke="#1a1a1a" stroke-width="1.5"/>
<text x="0" y="0" font-size="28.5" text-anchor="middle" transform="translate(1599.5 480.8) scale(0.865 1)">0.5</text>
<text x="0" y="0" font-size="28.5" text-anchor="middle" transform="translate(1672.1 480.8) scale(0.865 1)">0.8</text>
<text x="0" y="0" font-size="28.5" text-anchor="middle" transform="translate(1744.6 480.8) scale(0.865 1)">1.1</text>
<text x="0" y="0" font-size="28.5" text-anchor="middle" transform="translate(1817.2 480.8) scale(0.865 1)">1.4</text>
<text x="0" y="0" font-size="28.5" text-anchor="middle" transform="translate(1889.7 480.8) scale(0.865 1)">1.7</text>
<text x="0" y="0" font-size="28.5" text-anchor="middle" transform="translate(1962.3 480.8) scale(0.865 1)">2.0</text>
<circle cx="1659.2" cy="312.9" r="6" fill="#000"/>
<circle cx="1847.9" cy="312.9" r="6" fill="#000"/>
<circle cx="1959.4" cy="335.9" r="6" fill="#000"/>
<text x="1956" y="299.5" text-anchor="end" font-weight="bold">(d)</text>
<text x="1636.8" y="301.8" font-size="27">target fildelity</text>
<text transform="translate(1829 412.5) rotate(-90)" font-size="27" text-anchor="middle"><tspan font-style="italic">β</tspan><tspan font-size="19" dy="5">0</tspan></text>
<text x="1781" y="520.8" font-size="27" text-anchor="middle">|<tspan font-style="italic">α</tspan>|</text>
</svg>
</body></html>
